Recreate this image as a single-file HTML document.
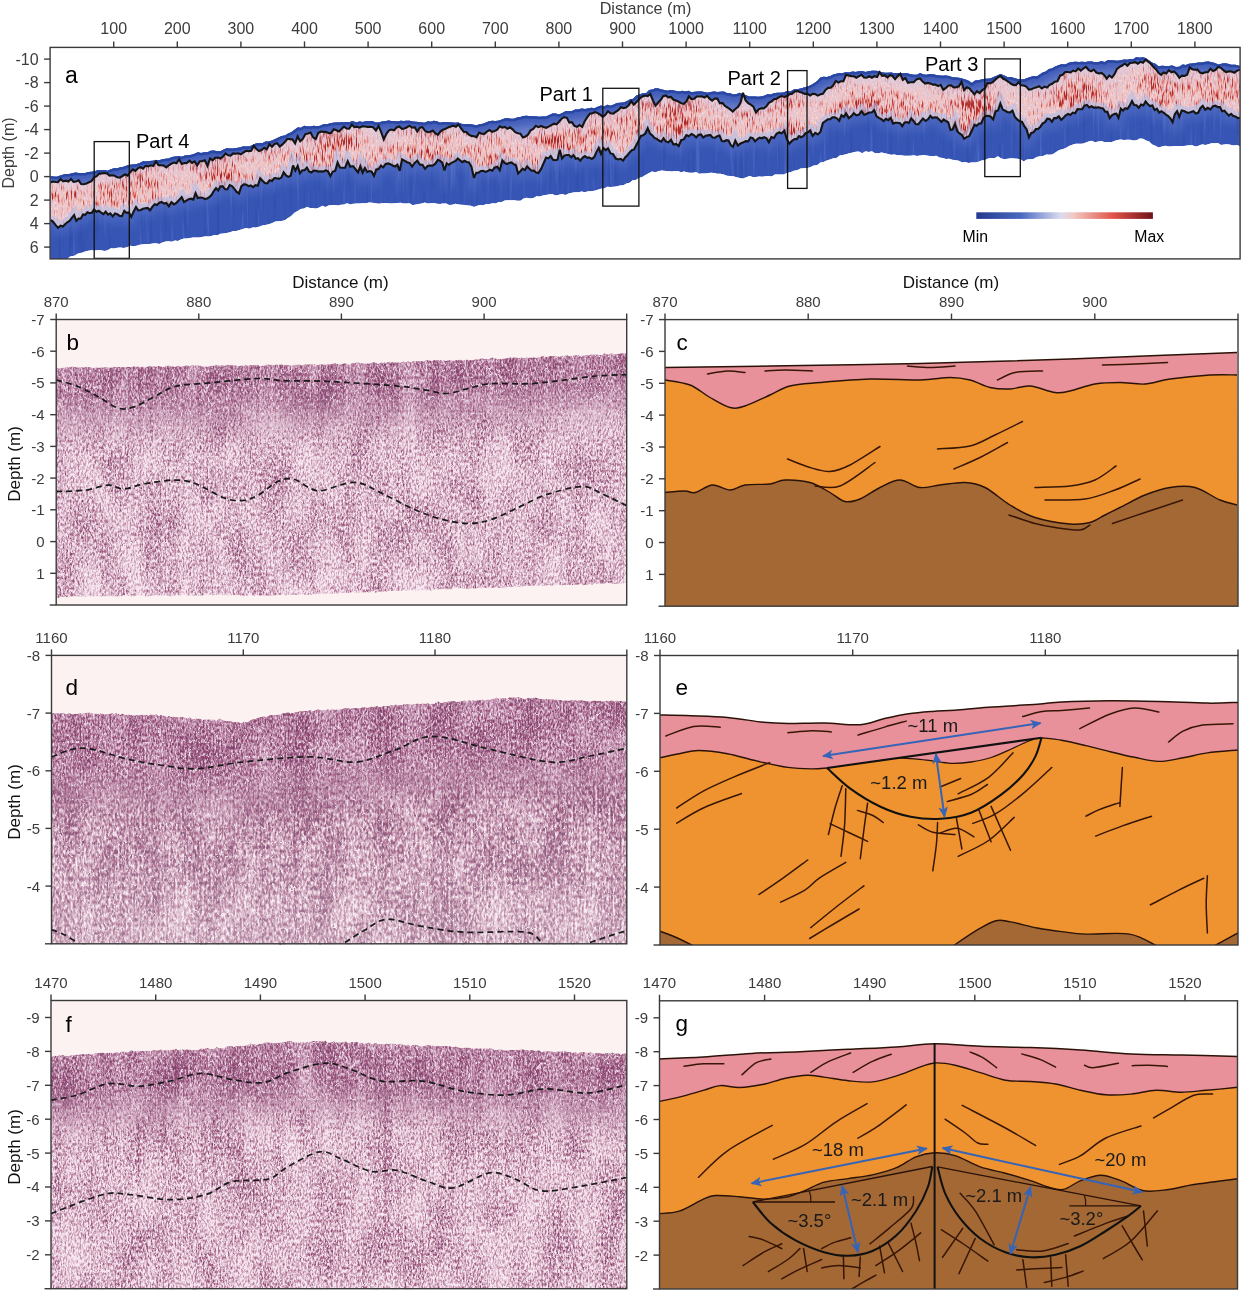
<!DOCTYPE html><html><head><meta charset="utf-8"><style>html,body{margin:0;padding:0;background:#fff;}svg{display:block;font-family:"Liberation Sans", Arial, sans-serif;}</style></head><body><svg width="1242" height="1314" viewBox="0 0 1242 1314"><defs>
<filter id="redtex" filterUnits="userSpaceOnUse" x="40" y="40" width="1210" height="230" color-interpolation-filters="sRGB">
  <feTurbulence type="fractalNoise" baseFrequency="0.02 0.04" numOctaves="2" seed="3" result="m0"/>
  <feColorMatrix in="m0" type="matrix" values="1 0 0 0 0  1 0 0 0 0  1 0 0 0 0  0 0 0 0 1" result="m"/>
  <feTurbulence type="fractalNoise" baseFrequency="0.8 0.11" numOctaves="2" seed="11" result="n0"/>
  <feColorMatrix in="n0" type="matrix" values="1 0 0 0 0  0 1 0 0 0  0 0 1 0 0  0 0 0 0 1" result="n1"/>
  <feComposite in="n1" in2="m" operator="arithmetic" k1="1.2" k2="0.4" k3="0" k4="-0.02" result="n1m"/>
  <feColorMatrix in="n1m" type="matrix" values="0 0 0 0 0.86  0 0 0 0 0.38  0 0 0 0 0.34  3.6 0 0 0 -1.62" result="red"/>
  <feColorMatrix in="n1m" type="matrix" values="0 0 0 0 0.66  0 0 0 0 0.16  0 0 0 0 0.16  6.0 0 0 0 -3.85" result="dk"/>
  <feTurbulence type="fractalNoise" baseFrequency="0.9 0.4" numOctaves="2" seed="4" result="n2"/>
  <feColorMatrix in="n2" type="matrix" values="0 0 0 0 0.80  0 0 0 0 0.78  0 0 0 0 0.93  0 3.0 0 0 -1.42" result="lav"/>
  <feColorMatrix in="n2" type="matrix" values="0 0 0 0 0.98  0 0 0 0 0.88  0 0 0 0 0.88  0 0 3.0 0 -1.5" result="wh"/>
  <feMerge><feMergeNode in="SourceGraphic"/><feMergeNode in="lav"/><feMergeNode in="wh"/><feMergeNode in="red"/><feMergeNode in="dk"/></feMerge>
  <feComposite operator="in" in2="SourceGraphic"/>
</filter>
<filter id="bluetex" filterUnits="userSpaceOnUse" x="40" y="40" width="1210" height="230" color-interpolation-filters="sRGB">
  <feTurbulence type="fractalNoise" baseFrequency="0.3 0.015" numOctaves="2" seed="21" result="n1"/>
  <feColorMatrix in="n1" type="matrix" values="0 0 0 0 0.36  0 0 0 0 0.47  0 0 0 0 0.82  2.2 0 0 0 -1.3" result="hi"/>
  <feColorMatrix in="n1" type="matrix" values="0 0 0 0 0.17  0 0 0 0 0.28  0 0 0 0 0.64  0 0 -2.2 0 0.95" result="lo"/>
  <feMerge><feMergeNode in="SourceGraphic"/><feMergeNode in="hi"/><feMergeNode in="lo"/></feMerge>
  <feComposite operator="in" in2="SourceGraphic"/>
</filter>
<filter id="blA" x="-0.05" y="-1" width="1.1" height="3"><feGaussianBlur stdDeviation="4"/></filter><linearGradient id="cbar" x1="0" x2="1" y1="0" y2="0"><stop offset="0" stop-color="#24398f"/><stop offset="0.25" stop-color="#4a68c0"/><stop offset="0.48" stop-color="#dcdcf0"/><stop offset="0.55" stop-color="#f2c8c0"/><stop offset="0.78" stop-color="#e05048"/><stop offset="1" stop-color="#6e1418"/></linearGradient><filter id="sf1" filterUnits="userSpaceOnUse" x="51.2" y="314.5" width="580.5" height="295.5" color-interpolation-filters="sRGB">
  <feTurbulence type="fractalNoise" baseFrequency="0.035 0.018" numOctaves="2" seed="101" result="m0"/>
  <feColorMatrix in="m0" type="matrix" values="1 0 0 0 0  1 0 0 0 0  1 0 0 0 0  0 0 0 0 1" result="m"/>
  <feTurbulence type="fractalNoise" baseFrequency="0.45 0.004" numOctaves="1" seed="201" result="s0"/>
  <feColorMatrix in="s0" type="matrix" values="0 1 0 0 0  0 1 0 0 0  0 1 0 0 0  0 0 0 0 1" result="st"/>
  <feTurbulence type="fractalNoise" baseFrequency="0.6 0.3" numOctaves="2" seed="1" result="n0"/>
  <feColorMatrix in="n0" type="matrix" values="1 0 0 0 0  0 1 0 0 0  0 0 1 0 0  0 0 0 0 1" result="n1"/>
  <feComposite in="n1" in2="m" operator="arithmetic" k1="0.5" k2="0.75" k3="0.0" k4="0" result="nm0"/>
  <feComposite in="nm0" in2="st" operator="arithmetic" k1="0" k2="1" k3="0.22" k4="-0.11" result="nm"/>
  <feColorMatrix in="nm" type="matrix" values="0 0 0 0 0.62  0 0 0 0 0.34  0 0 0 0 0.49  2.2 0 0 0 -0.8" result="pur"/>
  <feColorMatrix in="nm" type="matrix" values="0 0 0 0 0.48  0 0 0 0 0.26  0 0 0 0 0.42  0 4.0 0 0 -2.5" result="dk"/>
  <feTurbulence type="turbulence" baseFrequency="0.11 0.07" numOctaves="2" seed="301" result="v0"/>
  <feColorMatrix in="v0" type="matrix" values="0 0 0 0 0.99  0 0 0 0 0.95  0 0 0 0 0.98  -10 0 0 0 0.85" result="vein"/>
  <feMerge><feMergeNode in="SourceGraphic"/><feMergeNode in="pur"/><feMergeNode in="dk"/><feMergeNode in="vein"/></feMerge>
  <feComposite operator="in" in2="SourceGraphic"/>
</filter><filter id="sg1" filterUnits="userSpaceOnUse" x="51.2" y="314.5" width="580.5" height="295.5" color-interpolation-filters="sRGB">
  <feTurbulence type="fractalNoise" baseFrequency="0.035 0.018" numOctaves="2" seed="151" result="m0"/>
  <feColorMatrix in="m0" type="matrix" values="1 0 0 0 0  1 0 0 0 0  1 0 0 0 0  0 0 0 0 1" result="m"/>
  <feTurbulence type="fractalNoise" baseFrequency="0.45 0.004" numOctaves="1" seed="251" result="s0"/>
  <feColorMatrix in="s0" type="matrix" values="0 1 0 0 0  0 1 0 0 0  0 1 0 0 0  0 0 0 0 1" result="st"/>
  <feTurbulence type="fractalNoise" baseFrequency="0.6 0.3" numOctaves="2" seed="51" result="n0"/>
  <feColorMatrix in="n0" type="matrix" values="1 0 0 0 0  0 1 0 0 0  0 0 1 0 0  0 0 0 0 1" result="n1"/>
  <feComposite in="n1" in2="m" operator="arithmetic" k1="0.5" k2="0.75" k3="0.0" k4="0.1" result="nm0"/>
  <feComposite in="nm0" in2="st" operator="arithmetic" k1="0" k2="1" k3="0.22" k4="-0.11" result="nm"/>
  <feColorMatrix in="nm" type="matrix" values="0 0 0 0 0.58  0 0 0 0 0.28  0 0 0 0 0.45  2.2 0 0 0 -0.8" result="pur"/>
  <feColorMatrix in="nm" type="matrix" values="0 0 0 0 0.48  0 0 0 0 0.26  0 0 0 0 0.42  0 4.0 0 0 -2.5" result="dk"/>
  <feTurbulence type="turbulence" baseFrequency="0.11 0.07" numOctaves="2" seed="351" result="v0"/>
  <feColorMatrix in="v0" type="matrix" values="0 0 0 0 0.99  0 0 0 0 0.95  0 0 0 0 0.98  -10 0 0 0 0.85" result="vein"/>
  <feMerge><feMergeNode in="SourceGraphic"/><feMergeNode in="pur"/><feMergeNode in="dk"/><feMergeNode in="vein"/></feMerge>
  <feComposite operator="in" in2="SourceGraphic"/>
</filter><filter id="bl1" x="-0.1" y="-0.5" width="1.2" height="2"><feGaussianBlur stdDeviation="0 18"/></filter><mask id="mk1" maskUnits="userSpaceOnUse" x="0" y="0" width="1242" height="1314"><path d="M56.2,347.7 L58.2,348.3 L60.3,348.6 L62.3,347.9 L64.4,347.3 L66.4,346.9 L68.4,347.4 L70.5,347 L72.5,346.6 L74.6,347.3 L76.6,347.5 L78.6,347.7 L80.7,347 L82.7,347.3 L84.7,347.3 L86.8,346.5 L88.8,347.3 L90.9,347.4 L92.9,348.5 L94.9,347.7 L97,347.2 L99,347.8 L101.1,347.4 L103.1,347.6 L105.1,347.1 L107.2,347.2 L109.2,347.6 L111.3,347.5 L113.3,347.2 L115.3,346.5 L117.4,347 L119.4,347 L121.5,347.2 L123.5,347.1 L125.5,347.4 L127.6,346.9 L129.6,346.9 L131.6,347.1 L133.7,346.3 L135.7,346.4 L137.8,346.3 L139.8,347.5 L141.8,346.8 L143.9,347 L145.9,347 L148,346.5 L150,345.7 L152,346.7 L154,346.3 L156,346.8 L158,345.9 L160,346 L162,346.9 L164,347.2 L166,345.9 L168,345.5 L170,346 L172,346.6 L174,346.4 L176,346.4 L178,345.8 L180,346.4 L182,346.8 L184,346.1 L186,345.4 L188,345.5 L190,346.3 L192,345.3 L194,345.8 L196,345.5 L198,345.8 L200,345.8 L202,345.9 L204,346.7 L206,346.4 L208,346.7 L210,346.1 L212,345.7 L214,346 L216,344.5 L218,345.4 L220,345.8 L222,345.1 L224,345.8 L226,345.5 L228,344.4 L230,345.2 L232,345 L234,345.2 L236,345.4 L238,346.2 L240,345.8 L242,345.6 L244,345.8 L246,344.7 L248,345.9 L250,345.1 L252,345.6 L254,344.9 L256,344.8 L258,345 L260,346.2 L262,345.9 L264,345.2 L266,345.1 L268,344.6 L270,345 L272,344.8 L274,345.4 L276,344.5 L278,344.7 L280,344.5 L282,344.5 L284,345.2 L286,345.1 L288,345.2 L290,345.6 L292,345.6 L294,344.4 L296,344.9 L298,343.9 L300,344.4 L302,345.6 L304,344.8 L306,344.5 L308,344.6 L310,344.6 L312,344.5 L314,344.1 L316,344.9 L318,345 L320,344.5 L322,344.5 L324,344.7 L326,344.8 L328,344.5 L330,344.5 L332,344 L334,343.4 L336,343.5 L338,344.2 L340,344.4 L342,343.9 L344,343.4 L346,343.6 L348,344.3 L350,344.4 L352,343.3 L354,343.3 L356,342.5 L358,342.4 L360,343 L362,343 L364,343.4 L366,343.7 L368,343.5 L370,343.6 L372,342.7 L374,342.1 L376,342.7 L378,343.9 L380,343 L382,342 L384,342.3 L386,343 L388,341.9 L390,342.4 L392,341.8 L394,342.6 L396,342.5 L398,342.2 L400,342.9 L402,341.9 L404,341.4 L406,342.4 L408,341.3 L410,342.5 L412,341.7 L414,340.9 L416,341.1 L418,341.2 L420,341.2 L422,341 L424,341.5 L426,339.9 L428,340.3 L430,340.5 L432,341.6 L434,339.9 L436,340.2 L438,339.9 L440,339.9 L442,340.6 L444,340.6 L446,341.1 L448,340.2 L450,340.3 L452,340.7 L454,340.7 L456,340 L458,340.5 L460,339.5 L462,340.6 L464,340 L466,339.7 L468,339.7 L470,340 L472,340.4 L474,339.6 L476,339.2 L478,339.5 L480,338.8 L482,338.1 L484,339.2 L486,338.8 L488,339.4 L490,338.5 L492,337.2 L494,338.4 L496,338.6 L498,339.4 L500,339 L502,338.7 L504,338.7 L506,338.2 L508,338.2 L510,337.4 L512,338.1 L514,337.5 L516,337.5 L518,338 L520,338.2 L522,337.2 L524,338.4 L526,337.4 L528,337.7 L530,337.8 L532,337.5 L534,337.3 L536,338 L538,337.6 L540,337.3 L542,336 L544,336.1 L546,337 L548,336.7 L550,336 L552,335.9 L554,336 L556,336.4 L558,336.4 L560,336.6 L562,335.7 L564,336.2 L566.1,335.6 L568.1,335.4 L570.1,336.3 L572.1,335.7 L574.1,335.3 L576.2,335.1 L578.2,334.9 L580.2,335.7 L582.2,335.8 L584.3,335.5 L586.3,335 L588.3,335.2 L590.3,334.7 L592.3,334.7 L594.4,334.6 L596.4,334.4 L598.4,335 L600.4,335.2 L602.4,335 L604.5,333.2 L606.5,334.5 L608.5,334.2 L610.5,333.5 L612.6,333.5 L614.6,333.9 L616.6,334 L618.6,333.8 L620.6,333.4 L622.7,333.1 L624.7,333.3 L626.7,332.8 L626.7,402.8 L624.7,403.3 L622.7,403.1 L620.6,403.4 L618.6,403.8 L616.6,404 L614.6,403.9 L612.6,403.5 L610.5,403.5 L608.5,404.2 L606.5,404.5 L604.5,403.2 L602.4,405 L600.4,405.2 L598.4,405 L596.4,404.4 L594.4,404.6 L592.3,404.7 L590.3,404.7 L588.3,405.2 L586.3,405 L584.3,405.5 L582.2,405.8 L580.2,405.7 L578.2,404.9 L576.2,405.1 L574.1,405.3 L572.1,405.7 L570.1,406.3 L568.1,405.4 L566.1,405.6 L564,406.2 L562,405.7 L560,406.6 L558,406.4 L556,406.4 L554,406 L552,405.9 L550,406 L548,406.7 L546,407 L544,406.1 L542,406 L540,407.3 L538,407.6 L536,408 L534,407.3 L532,407.5 L530,407.8 L528,407.7 L526,407.4 L524,408.4 L522,407.2 L520,408.2 L518,408 L516,407.5 L514,407.5 L512,408.1 L510,407.4 L508,408.2 L506,408.2 L504,408.7 L502,408.7 L500,409 L498,409.4 L496,408.6 L494,408.4 L492,407.2 L490,408.5 L488,409.4 L486,408.8 L484,409.2 L482,408.1 L480,408.8 L478,409.5 L476,409.2 L474,409.6 L472,410.4 L470,410 L468,409.7 L466,409.7 L464,410 L462,410.6 L460,409.5 L458,410.5 L456,410 L454,410.7 L452,410.7 L450,410.3 L448,410.2 L446,411.1 L444,410.6 L442,410.6 L440,409.9 L438,409.9 L436,410.2 L434,409.9 L432,411.6 L430,410.5 L428,410.3 L426,409.9 L424,411.5 L422,411 L420,411.2 L418,411.2 L416,411.1 L414,410.9 L412,411.7 L410,412.5 L408,411.3 L406,412.4 L404,411.4 L402,411.9 L400,412.9 L398,412.2 L396,412.5 L394,412.6 L392,411.8 L390,412.4 L388,411.9 L386,413 L384,412.3 L382,412 L380,413 L378,413.9 L376,412.7 L374,412.1 L372,412.7 L370,413.6 L368,413.5 L366,413.7 L364,413.4 L362,413 L360,413 L358,412.4 L356,412.5 L354,413.3 L352,413.3 L350,414.4 L348,414.3 L346,413.6 L344,413.4 L342,413.9 L340,414.4 L338,414.2 L336,413.5 L334,413.4 L332,414 L330,414.5 L328,414.5 L326,414.8 L324,414.7 L322,414.5 L320,414.5 L318,415 L316,414.9 L314,414.1 L312,414.5 L310,414.6 L308,414.6 L306,414.5 L304,414.8 L302,415.6 L300,414.4 L298,413.9 L296,414.9 L294,414.4 L292,415.6 L290,415.6 L288,415.2 L286,415.1 L284,415.2 L282,414.5 L280,414.5 L278,414.7 L276,414.5 L274,415.4 L272,414.8 L270,415 L268,414.6 L266,415.1 L264,415.2 L262,415.9 L260,416.2 L258,415 L256,414.8 L254,414.9 L252,415.6 L250,415.1 L248,415.9 L246,414.7 L244,415.8 L242,415.6 L240,415.8 L238,416.2 L236,415.4 L234,415.2 L232,415 L230,415.2 L228,414.4 L226,415.5 L224,415.8 L222,415.1 L220,415.8 L218,415.4 L216,414.5 L214,416 L212,415.7 L210,416.1 L208,416.7 L206,416.4 L204,416.7 L202,415.9 L200,415.8 L198,415.8 L196,415.5 L194,415.8 L192,415.3 L190,416.3 L188,415.5 L186,415.4 L184,416.1 L182,416.8 L180,416.4 L178,415.8 L176,416.4 L174,416.4 L172,416.6 L170,416 L168,415.5 L166,415.9 L164,417.2 L162,416.9 L160,416 L158,415.9 L156,416.8 L154,416.3 L152,416.7 L150,415.7 L148,416.5 L145.9,417 L143.9,417 L141.8,416.8 L139.8,417.5 L137.8,416.3 L135.7,416.4 L133.7,416.3 L131.6,417.1 L129.6,416.9 L127.6,416.9 L125.5,417.4 L123.5,417.1 L121.5,417.2 L119.4,417 L117.4,417 L115.3,416.5 L113.3,417.2 L111.3,417.5 L109.2,417.6 L107.2,417.2 L105.1,417.1 L103.1,417.6 L101.1,417.4 L99,417.8 L97,417.2 L94.9,417.7 L92.9,418.5 L90.9,417.4 L88.8,417.3 L86.8,416.5 L84.7,417.3 L82.7,417.3 L80.7,417 L78.6,417.7 L76.6,417.5 L74.6,417.3 L72.5,416.6 L70.5,417 L68.4,417.4 L66.4,416.9 L64.4,417.3 L62.3,417.9 L60.3,418.6 L58.2,418.3 L56.2,417.7 Z" fill="#fff" filter="url(#bl1)"/></mask><filter id="sf3" filterUnits="userSpaceOnUse" x="46.5" y="650.4" width="585.3" height="298.4" color-interpolation-filters="sRGB">
  <feTurbulence type="fractalNoise" baseFrequency="0.035 0.018" numOctaves="2" seed="103" result="m0"/>
  <feColorMatrix in="m0" type="matrix" values="1 0 0 0 0  1 0 0 0 0  1 0 0 0 0  0 0 0 0 1" result="m"/>
  <feTurbulence type="fractalNoise" baseFrequency="0.45 0.004" numOctaves="1" seed="203" result="s0"/>
  <feColorMatrix in="s0" type="matrix" values="0 1 0 0 0  0 1 0 0 0  0 1 0 0 0  0 0 0 0 1" result="st"/>
  <feTurbulence type="fractalNoise" baseFrequency="0.45 0.22" numOctaves="2" seed="3" result="n0"/>
  <feColorMatrix in="n0" type="matrix" values="1 0 0 0 0  0 1 0 0 0  0 0 1 0 0  0 0 0 0 1" result="n1"/>
  <feComposite in="n1" in2="m" operator="arithmetic" k1="0.5" k2="0.75" k3="0.0" k4="0.1" result="nm0"/>
  <feComposite in="nm0" in2="st" operator="arithmetic" k1="0" k2="1" k3="0.22" k4="-0.11" result="nm"/>
  <feColorMatrix in="nm" type="matrix" values="0 0 0 0 0.62  0 0 0 0 0.34  0 0 0 0 0.49  2.2 0 0 0 -0.8" result="pur"/>
  <feColorMatrix in="nm" type="matrix" values="0 0 0 0 0.48  0 0 0 0 0.26  0 0 0 0 0.42  0 4.0 0 0 -2.5" result="dk"/>
  <feTurbulence type="turbulence" baseFrequency="0.11 0.07" numOctaves="2" seed="303" result="v0"/>
  <feColorMatrix in="v0" type="matrix" values="0 0 0 0 0.99  0 0 0 0 0.95  0 0 0 0 0.98  -10 0 0 0 0.85" result="vein"/>
  <feMerge><feMergeNode in="SourceGraphic"/><feMergeNode in="pur"/><feMergeNode in="dk"/><feMergeNode in="vein"/></feMerge>
  <feComposite operator="in" in2="SourceGraphic"/>
</filter><filter id="sg3" filterUnits="userSpaceOnUse" x="46.5" y="650.4" width="585.3" height="298.4" color-interpolation-filters="sRGB">
  <feTurbulence type="fractalNoise" baseFrequency="0.035 0.018" numOctaves="2" seed="153" result="m0"/>
  <feColorMatrix in="m0" type="matrix" values="1 0 0 0 0  1 0 0 0 0  1 0 0 0 0  0 0 0 0 1" result="m"/>
  <feTurbulence type="fractalNoise" baseFrequency="0.45 0.004" numOctaves="1" seed="253" result="s0"/>
  <feColorMatrix in="s0" type="matrix" values="0 1 0 0 0  0 1 0 0 0  0 1 0 0 0  0 0 0 0 1" result="st"/>
  <feTurbulence type="fractalNoise" baseFrequency="0.6 0.3" numOctaves="2" seed="53" result="n0"/>
  <feColorMatrix in="n0" type="matrix" values="1 0 0 0 0  0 1 0 0 0  0 0 1 0 0  0 0 0 0 1" result="n1"/>
  <feComposite in="n1" in2="m" operator="arithmetic" k1="0.5" k2="0.75" k3="0.0" k4="0.1" result="nm0"/>
  <feComposite in="nm0" in2="st" operator="arithmetic" k1="0" k2="1" k3="0.22" k4="-0.11" result="nm"/>
  <feColorMatrix in="nm" type="matrix" values="0 0 0 0 0.58  0 0 0 0 0.28  0 0 0 0 0.45  2.2 0 0 0 -0.8" result="pur"/>
  <feColorMatrix in="nm" type="matrix" values="0 0 0 0 0.48  0 0 0 0 0.26  0 0 0 0 0.42  0 4.0 0 0 -2.5" result="dk"/>
  <feTurbulence type="turbulence" baseFrequency="0.11 0.07" numOctaves="2" seed="353" result="v0"/>
  <feColorMatrix in="v0" type="matrix" values="0 0 0 0 0.99  0 0 0 0 0.95  0 0 0 0 0.98  -10 0 0 0 0.85" result="vein"/>
  <feMerge><feMergeNode in="SourceGraphic"/><feMergeNode in="pur"/><feMergeNode in="dk"/><feMergeNode in="vein"/></feMerge>
  <feComposite operator="in" in2="SourceGraphic"/>
</filter><filter id="bl3" x="-0.1" y="-0.5" width="1.2" height="2"><feGaussianBlur stdDeviation="0 18"/></filter><mask id="mk3" maskUnits="userSpaceOnUse" x="0" y="0" width="1242" height="1314"><path d="M51.5,693.1 L53.5,693.2 L55.5,693.8 L57.6,692.9 L59.6,693.7 L61.6,693.3 L63.6,693.2 L65.6,694.3 L67.7,693.8 L69.7,693.5 L71.7,693.9 L73.7,694.2 L75.8,693.7 L77.8,693.9 L79.8,693.2 L81.8,693.4 L83.8,693.4 L85.9,693 L87.9,692.8 L89.9,692.7 L91.9,693.4 L93.9,693.7 L96,693.7 L98,693.9 L100,693.3 L102,693.8 L104,694.2 L106.1,694.6 L108.1,693.9 L110.1,694 L112.1,693.3 L114.2,693.9 L116.2,693.2 L118.2,693.5 L120.2,694.9 L122.2,693.7 L124.3,694.8 L126.3,695 L128.3,694.8 L130.3,695.1 L132.4,695.3 L134.4,695.7 L136.4,695.2 L138.4,694.9 L140.4,694.9 L142.5,694.7 L144.5,695.2 L146.5,695 L148.5,695.9 L150.6,694.8 L152.6,694.8 L154.6,695 L156.7,694.6 L158.7,696.6 L160.8,695.1 L162.9,695.8 L164.9,696.1 L167,697.3 L169,696 L171.1,697.2 L173.2,696.8 L175.2,697 L177.3,697 L179.4,697.7 L181.4,697.1 L183.5,697.6 L185.6,698.1 L187.6,699.1 L189.7,697.3 L191.7,698.9 L193.8,699.2 L195.9,698.6 L197.9,699 L200,698.8 L202,699.9 L204,699.7 L206,699.5 L208.1,699.5 L210.1,699.7 L212.1,699.8 L214.1,699.7 L216.1,701.2 L218.1,699.8 L220.1,698.6 L222.2,700.1 L224.2,700.7 L226.2,701.2 L228.2,701.2 L230.2,701.3 L232.2,701.7 L234.2,702.3 L236.3,701.8 L238.3,701.9 L240.3,703.1 L242.3,702.9 L244.5,701.5 L246.7,702.4 L248.9,701.5 L251.2,700.1 L253.4,699 L255.6,699.1 L257.8,698.1 L260,697.3 L262.1,696.7 L264.3,696.6 L266.4,697.1 L268.5,696.1 L270.7,695 L272.8,695.4 L275,694.9 L277.1,694.9 L279.2,694.7 L281.4,693.7 L283.5,693.1 L285.5,692.9 L287.6,692.2 L289.6,692.8 L291.6,693.3 L293.6,692.7 L295.7,692.2 L297.7,692 L299.7,691.5 L301.8,691.3 L303.8,691.3 L305.8,691 L307.8,691 L309.9,690.3 L311.9,691 L313.9,690.9 L315.9,690.2 L318,689.3 L320,690.1 L322,690.8 L324.1,690 L326.1,689.8 L328.2,689.6 L330.2,690.1 L332.2,689.3 L334.3,690 L336.3,689.4 L338.4,689.8 L340.4,689.4 L342.4,689 L344.5,688.2 L346.5,688.2 L348.6,688.4 L350.6,688.8 L352.6,688.6 L354.7,688 L356.7,688.3 L358.8,688.6 L360.8,688 L362.9,687.6 L364.9,687.3 L367,687.8 L369.1,687.7 L371.1,686.8 L373.2,687.1 L375.2,686.6 L377.3,686.2 L379.4,687 L381.4,686.9 L383.5,686 L385.6,686 L387.6,686.2 L389.7,685.5 L391.7,685.5 L393.8,685.8 L395.9,684.5 L397.9,685.1 L400,685.3 L402,685.2 L404,684.2 L406,684.6 L408,684.1 L410,684.6 L412,684.7 L414,684.4 L416,683.8 L418,683.6 L420.1,684.2 L422.1,683.4 L424.1,683.8 L426.1,683.8 L428.1,683.3 L430.1,684.4 L432.1,683.5 L434.1,684.2 L436.1,682.3 L438.1,681.5 L440.2,682.8 L442.3,682.9 L444.4,682.3 L446.5,682.2 L448.6,681.1 L450.7,681.4 L452.8,681.1 L454.9,681.4 L457,681.9 L459.1,681.5 L461.1,681.5 L463.2,680.8 L465.3,680.7 L467.4,680.8 L469.5,680.5 L471.6,681.1 L473.7,680.2 L475.8,681.1 L477.9,679.9 L480,680.5 L482.1,679.6 L484.2,680.5 L486.3,679.9 L488.4,679.7 L490.4,679.8 L492.5,679 L494.6,678.4 L496.7,677.7 L498.8,679 L500.9,678.3 L503,678.1 L505.1,678.2 L507.1,679.1 L509.2,677.4 L511.3,677.8 L513.4,677.5 L515.5,677.8 L517.6,676.9 L519.6,677.4 L521.7,678.2 L523.7,678.9 L525.8,679.2 L527.9,678.1 L529.9,678.3 L532,678.4 L534,677.8 L536.1,677.7 L538.2,678.8 L540.2,679 L542.3,678.9 L544.3,679.7 L546.4,678.8 L548.5,679.4 L550.5,679.4 L552.6,679.5 L554.6,679.8 L556.7,679.8 L558.8,680 L560.8,680.1 L562.9,681 L564.9,680.2 L567,680.8 L569.1,680.7 L571.1,680.3 L573.2,680.8 L575.2,680.1 L577.3,681 L579.4,680.3 L581.4,680.3 L583.5,680.7 L585.6,681.1 L587.6,681.3 L589.7,681.4 L591.7,680.9 L593.8,680.5 L595.9,681.1 L597.9,681.2 L600,680.7 L602.1,681.5 L604.1,681.4 L606.2,680.8 L608.2,681.4 L610.3,680.7 L612.4,680.8 L614.4,681.5 L616.5,680.7 L618.6,681.4 L620.6,680.9 L622.7,681.8 L624.7,681.4 L626.8,681.8 L626.8,781.8 L624.7,781.4 L622.7,781.8 L620.6,780.9 L618.6,781.4 L616.5,780.7 L614.4,781.5 L612.4,780.8 L610.3,780.7 L608.2,781.4 L606.2,780.8 L604.1,781.4 L602.1,781.5 L600,780.7 L597.9,781.2 L595.9,781.1 L593.8,780.5 L591.7,780.9 L589.7,781.4 L587.6,781.3 L585.6,781.1 L583.5,780.7 L581.4,780.3 L579.4,780.3 L577.3,781 L575.2,780.1 L573.2,780.8 L571.1,780.3 L569.1,780.7 L567,780.8 L564.9,780.2 L562.9,781 L560.8,780.1 L558.8,780 L556.7,779.8 L554.6,779.8 L552.6,779.5 L550.5,779.4 L548.5,779.4 L546.4,778.8 L544.3,779.7 L542.3,778.9 L540.2,779 L538.2,778.8 L536.1,777.7 L534,777.8 L532,778.4 L529.9,778.3 L527.9,778.1 L525.8,779.2 L523.7,778.9 L521.7,778.2 L519.6,777.4 L517.6,776.9 L515.5,777.8 L513.4,777.5 L511.3,777.8 L509.2,777.4 L507.1,779.1 L505.1,778.2 L503,778.1 L500.9,778.3 L498.8,779 L496.7,777.7 L494.6,778.4 L492.5,779 L490.4,779.8 L488.4,779.7 L486.3,779.9 L484.2,780.5 L482.1,779.6 L480,780.5 L477.9,779.9 L475.8,781.1 L473.7,780.2 L471.6,781.1 L469.5,780.5 L467.4,780.8 L465.3,780.7 L463.2,780.8 L461.1,781.5 L459.1,781.5 L457,781.9 L454.9,781.4 L452.8,781.1 L450.7,781.4 L448.6,781.1 L446.5,782.2 L444.4,782.3 L442.3,782.9 L440.2,782.8 L438.1,781.5 L436.1,782.3 L434.1,784.2 L432.1,783.5 L430.1,784.4 L428.1,783.3 L426.1,783.8 L424.1,783.8 L422.1,783.4 L420.1,784.2 L418,783.6 L416,783.8 L414,784.4 L412,784.7 L410,784.6 L408,784.1 L406,784.6 L404,784.2 L402,785.2 L400,785.3 L397.9,785.1 L395.9,784.5 L393.8,785.8 L391.7,785.5 L389.7,785.5 L387.6,786.2 L385.6,786 L383.5,786 L381.4,786.9 L379.4,787 L377.3,786.2 L375.2,786.6 L373.2,787.1 L371.1,786.8 L369.1,787.7 L367,787.8 L364.9,787.3 L362.9,787.6 L360.8,788 L358.8,788.6 L356.7,788.3 L354.7,788 L352.6,788.6 L350.6,788.8 L348.6,788.4 L346.5,788.2 L344.5,788.2 L342.4,789 L340.4,789.4 L338.4,789.8 L336.3,789.4 L334.3,790 L332.2,789.3 L330.2,790.1 L328.2,789.6 L326.1,789.8 L324.1,790 L322,790.8 L320,790.1 L318,789.3 L315.9,790.2 L313.9,790.9 L311.9,791 L309.9,790.3 L307.8,791 L305.8,791 L303.8,791.3 L301.8,791.3 L299.7,791.5 L297.7,792 L295.7,792.2 L293.6,792.7 L291.6,793.3 L289.6,792.8 L287.6,792.2 L285.5,792.9 L283.5,793.1 L281.4,793.7 L279.2,794.7 L277.1,794.9 L275,794.9 L272.8,795.4 L270.7,795 L268.5,796.1 L266.4,797.1 L264.3,796.6 L262.1,796.7 L260,797.3 L257.8,798.1 L255.6,799.1 L253.4,799 L251.2,800.1 L248.9,801.5 L246.7,802.4 L244.5,801.5 L242.3,802.9 L240.3,803.1 L238.3,801.9 L236.3,801.8 L234.2,802.3 L232.2,801.7 L230.2,801.3 L228.2,801.2 L226.2,801.2 L224.2,800.7 L222.2,800.1 L220.1,798.6 L218.1,799.8 L216.1,801.2 L214.1,799.7 L212.1,799.8 L210.1,799.7 L208.1,799.5 L206,799.5 L204,799.7 L202,799.9 L200,798.8 L197.9,799 L195.9,798.6 L193.8,799.2 L191.7,798.9 L189.7,797.3 L187.6,799.1 L185.6,798.1 L183.5,797.6 L181.4,797.1 L179.4,797.7 L177.3,797 L175.2,797 L173.2,796.8 L171.1,797.2 L169,796 L167,797.3 L164.9,796.1 L162.9,795.8 L160.8,795.1 L158.7,796.6 L156.7,794.6 L154.6,795 L152.6,794.8 L150.6,794.8 L148.5,795.9 L146.5,795 L144.5,795.2 L142.5,794.7 L140.4,794.9 L138.4,794.9 L136.4,795.2 L134.4,795.7 L132.4,795.3 L130.3,795.1 L128.3,794.8 L126.3,795 L124.3,794.8 L122.2,793.7 L120.2,794.9 L118.2,793.5 L116.2,793.2 L114.2,793.9 L112.1,793.3 L110.1,794 L108.1,793.9 L106.1,794.6 L104,794.2 L102,793.8 L100,793.3 L98,793.9 L96,793.7 L93.9,793.7 L91.9,793.4 L89.9,792.7 L87.9,792.8 L85.9,793 L83.8,793.4 L81.8,793.4 L79.8,793.2 L77.8,793.9 L75.8,793.7 L73.7,794.2 L71.7,793.9 L69.7,793.5 L67.7,793.8 L65.6,794.3 L63.6,793.2 L61.6,793.3 L59.6,793.7 L57.6,792.9 L55.5,793.8 L53.5,793.2 L51.5,793.1 Z" fill="#fff" filter="url(#bl3)"/></mask><linearGradient id="fd3" gradientUnits="userSpaceOnUse" x1="0" y1="756.3" x2="0" y2="943.8"><stop offset="0" stop-color="#fff" stop-opacity="0"/><stop offset="1" stop-color="#fff" stop-opacity="0.3"/></linearGradient><filter id="sf5" filterUnits="userSpaceOnUse" x="46" y="995.5" width="585.8" height="298.2" color-interpolation-filters="sRGB">
  <feTurbulence type="fractalNoise" baseFrequency="0.035 0.018" numOctaves="2" seed="105" result="m0"/>
  <feColorMatrix in="m0" type="matrix" values="1 0 0 0 0  1 0 0 0 0  1 0 0 0 0  0 0 0 0 1" result="m"/>
  <feTurbulence type="fractalNoise" baseFrequency="0.45 0.004" numOctaves="1" seed="205" result="s0"/>
  <feColorMatrix in="s0" type="matrix" values="0 1 0 0 0  0 1 0 0 0  0 1 0 0 0  0 0 0 0 1" result="st"/>
  <feTurbulence type="fractalNoise" baseFrequency="0.6 0.3" numOctaves="2" seed="5" result="n0"/>
  <feColorMatrix in="n0" type="matrix" values="1 0 0 0 0  0 1 0 0 0  0 0 1 0 0  0 0 0 0 1" result="n1"/>
  <feComposite in="n1" in2="m" operator="arithmetic" k1="0.5" k2="0.75" k3="0.0" k4="0" result="nm0"/>
  <feComposite in="nm0" in2="st" operator="arithmetic" k1="0" k2="1" k3="0.22" k4="-0.11" result="nm"/>
  <feColorMatrix in="nm" type="matrix" values="0 0 0 0 0.62  0 0 0 0 0.34  0 0 0 0 0.49  2.2 0 0 0 -0.8" result="pur"/>
  <feColorMatrix in="nm" type="matrix" values="0 0 0 0 0.48  0 0 0 0 0.26  0 0 0 0 0.42  0 4.0 0 0 -2.5" result="dk"/>
  <feTurbulence type="turbulence" baseFrequency="0.11 0.07" numOctaves="2" seed="305" result="v0"/>
  <feColorMatrix in="v0" type="matrix" values="0 0 0 0 0.99  0 0 0 0 0.95  0 0 0 0 0.98  -10 0 0 0 0.85" result="vein"/>
  <feMerge><feMergeNode in="SourceGraphic"/><feMergeNode in="pur"/><feMergeNode in="dk"/><feMergeNode in="vein"/></feMerge>
  <feComposite operator="in" in2="SourceGraphic"/>
</filter><filter id="sg5" filterUnits="userSpaceOnUse" x="46" y="995.5" width="585.8" height="298.2" color-interpolation-filters="sRGB">
  <feTurbulence type="fractalNoise" baseFrequency="0.035 0.018" numOctaves="2" seed="155" result="m0"/>
  <feColorMatrix in="m0" type="matrix" values="1 0 0 0 0  1 0 0 0 0  1 0 0 0 0  0 0 0 0 1" result="m"/>
  <feTurbulence type="fractalNoise" baseFrequency="0.45 0.004" numOctaves="1" seed="255" result="s0"/>
  <feColorMatrix in="s0" type="matrix" values="0 1 0 0 0  0 1 0 0 0  0 1 0 0 0  0 0 0 0 1" result="st"/>
  <feTurbulence type="fractalNoise" baseFrequency="0.6 0.3" numOctaves="2" seed="55" result="n0"/>
  <feColorMatrix in="n0" type="matrix" values="1 0 0 0 0  0 1 0 0 0  0 0 1 0 0  0 0 0 0 1" result="n1"/>
  <feComposite in="n1" in2="m" operator="arithmetic" k1="0.5" k2="0.75" k3="0.0" k4="0.1" result="nm0"/>
  <feComposite in="nm0" in2="st" operator="arithmetic" k1="0" k2="1" k3="0.22" k4="-0.11" result="nm"/>
  <feColorMatrix in="nm" type="matrix" values="0 0 0 0 0.58  0 0 0 0 0.28  0 0 0 0 0.45  2.2 0 0 0 -0.8" result="pur"/>
  <feColorMatrix in="nm" type="matrix" values="0 0 0 0 0.48  0 0 0 0 0.26  0 0 0 0 0.42  0 4.0 0 0 -2.5" result="dk"/>
  <feTurbulence type="turbulence" baseFrequency="0.11 0.07" numOctaves="2" seed="355" result="v0"/>
  <feColorMatrix in="v0" type="matrix" values="0 0 0 0 0.99  0 0 0 0 0.95  0 0 0 0 0.98  -10 0 0 0 0.85" result="vein"/>
  <feMerge><feMergeNode in="SourceGraphic"/><feMergeNode in="pur"/><feMergeNode in="dk"/><feMergeNode in="vein"/></feMerge>
  <feComposite operator="in" in2="SourceGraphic"/>
</filter><filter id="bl5" x="-0.1" y="-0.5" width="1.2" height="2"><feGaussianBlur stdDeviation="0 18"/></filter><mask id="mk5" maskUnits="userSpaceOnUse" x="0" y="0" width="1242" height="1314"><path d="M51,1036.9 L53,1036.2 L55,1035.8 L57,1036.5 L59,1035.2 L61,1035.7 L63,1034.7 L65,1036 L67,1035.8 L69,1036.2 L71,1035.3 L73,1035.4 L75,1034.9 L77,1034.5 L79,1034.6 L81,1033.9 L83,1034 L85,1034.5 L87,1034.2 L89,1033.7 L91,1034.8 L93,1033.9 L95,1033.2 L97,1033.3 L99,1032.9 L101,1032.7 L103,1032.5 L105,1033.6 L107.1,1032.9 L109.1,1032.7 L111.2,1032.8 L113.2,1033.4 L115.3,1032.4 L117.3,1031.9 L119.3,1033.2 L121.4,1031.5 L123.4,1031.5 L125.5,1031.9 L127.5,1032.8 L129.6,1031.4 L131.6,1030.2 L133.7,1031.3 L135.7,1030.9 L137.7,1030.8 L139.8,1031.1 L141.8,1031.1 L143.9,1031 L145.9,1030.5 L148,1031.2 L150,1031.4 L152,1030.7 L154,1030.2 L156,1030.6 L158,1030.6 L160,1029.8 L162,1029.8 L164.1,1030.5 L166.1,1030.1 L168.1,1029.8 L170.1,1029.9 L172.1,1029.8 L174.1,1029.7 L176.1,1028.7 L178.1,1030.2 L180.1,1029.8 L182.1,1029.1 L184.1,1029.8 L186.1,1029.6 L188.1,1029.4 L190.1,1029.8 L192.1,1030.4 L194.2,1029.8 L196.2,1030 L198.2,1030.3 L200.2,1028.8 L202.2,1028.5 L204.2,1029.1 L206.2,1027.9 L208.3,1028.2 L210.4,1028.9 L212.5,1028.9 L214.6,1028.5 L216.8,1027.1 L218.9,1028.6 L221,1028.1 L223.1,1027.9 L225.2,1027.6 L227.3,1026.3 L229.4,1025.9 L231.6,1025.8 L233.7,1027.2 L235.8,1026.1 L237.9,1026 L240,1025.8 L242.1,1026 L244.2,1025.9 L246.2,1025.6 L248.3,1024.6 L250.4,1023.2 L252.4,1024.2 L254.5,1024.5 L256.6,1024.9 L258.7,1024.2 L260.8,1023.5 L262.8,1023.7 L264.9,1022.6 L267,1022.4 L269.1,1022.2 L271.1,1022.6 L273.2,1023.5 L275.2,1023.1 L277.2,1023.2 L279.3,1022.7 L281.3,1022.6 L283.3,1022.1 L285.3,1022 L287.3,1020.9 L289.3,1021.1 L291.4,1021.1 L293.4,1022.2 L295.4,1022.3 L297.4,1022.6 L299.4,1022.9 L301.4,1022 L303.5,1022.4 L305.5,1022.9 L307.5,1022 L309.5,1022.3 L311.5,1021.7 L313.5,1020.8 L315.6,1021.3 L317.6,1021 L319.6,1021.3 L321.6,1021.2 L323.6,1021.6 L325.7,1020.6 L327.7,1022.4 L329.7,1022.7 L331.7,1022 L333.7,1021.5 L335.8,1021.9 L337.8,1022.4 L339.8,1022.5 L341.8,1022.6 L343.8,1021.5 L345.9,1021.6 L347.9,1022.9 L349.9,1022.8 L351.9,1022 L353.9,1022.1 L356,1021.9 L358,1022.1 L360,1023.4 L362,1023.1 L364,1023.7 L366,1023.5 L368.1,1022.6 L370.1,1022.9 L372.1,1024.5 L374.1,1023.5 L376.1,1023.1 L378.1,1024.2 L380.2,1024 L382.2,1023.9 L384.2,1024.7 L386.2,1023.4 L388.2,1024.1 L390.2,1023.7 L392.2,1023.4 L394.3,1023.7 L396.3,1024.8 L398.3,1024.6 L400.3,1023.7 L402.3,1023.9 L404.3,1025.3 L406.4,1025.5 L408.4,1024.6 L410.4,1026.2 L412.4,1025.3 L414.5,1024.6 L416.5,1025.1 L418.6,1025.8 L420.7,1026.5 L422.7,1026.4 L424.8,1025.8 L426.9,1025.6 L429,1025.1 L431,1025.8 L433.1,1025.8 L435.2,1026.3 L437.2,1025.7 L439.3,1026 L441.4,1026 L443.4,1025.9 L445.5,1025.9 L447.6,1026.1 L449.7,1026.1 L451.7,1027.1 L453.8,1027.2 L455.9,1026.6 L457.9,1027.5 L460,1027.7 L462.1,1028.4 L464.1,1027.8 L466.2,1027.7 L468.2,1027.5 L470.3,1028 L472.3,1028.3 L474.4,1028.4 L476.4,1028.2 L478.5,1028.7 L480.6,1028.6 L482.6,1028.8 L484.7,1028.3 L486.7,1028.8 L488.8,1028.4 L490.8,1028.4 L492.9,1029 L494.9,1030.2 L497,1030.1 L499.1,1029.6 L501.1,1029.5 L503.2,1030.1 L505.2,1030.6 L507.3,1030.7 L509.3,1030.1 L511.4,1030.1 L513.4,1030 L515.5,1030 L517.5,1029.8 L519.5,1030.1 L521.6,1029.2 L523.6,1029.5 L525.6,1030.5 L527.6,1030.1 L529.6,1030.8 L531.6,1030.1 L533.7,1030.4 L535.7,1031 L537.7,1030.4 L539.7,1030.5 L541.7,1032.2 L543.8,1031.1 L545.8,1030.8 L547.8,1030.9 L549.8,1031.2 L551.8,1031.4 L553.9,1032 L555.9,1032.1 L557.9,1031.6 L559.9,1031.5 L561.9,1031 L563.9,1030.8 L566,1031.2 L568,1032.1 L570,1032.1 L572,1032.5 L574.1,1032.7 L576.1,1032.3 L578.1,1033.4 L580.1,1032.4 L582.2,1032.1 L584.2,1032.1 L586.2,1033 L588.3,1032.7 L590.3,1032.3 L592.3,1032.8 L594.3,1033.4 L596.4,1033 L598.4,1032.8 L600.4,1033.5 L602.5,1033.7 L604.5,1033.8 L606.5,1033 L608.5,1033.3 L610.6,1033.5 L612.6,1032.5 L614.6,1033.8 L616.7,1033.6 L618.7,1033.4 L620.7,1034.7 L622.7,1034.1 L624.8,1033.5 L626.8,1033.8 L626.8,1113.8 L624.8,1113.5 L622.7,1114.1 L620.7,1114.7 L618.7,1113.4 L616.7,1113.6 L614.6,1113.8 L612.6,1112.5 L610.6,1113.5 L608.5,1113.3 L606.5,1113 L604.5,1113.8 L602.5,1113.7 L600.4,1113.5 L598.4,1112.8 L596.4,1113 L594.3,1113.4 L592.3,1112.8 L590.3,1112.3 L588.3,1112.7 L586.2,1113 L584.2,1112.1 L582.2,1112.1 L580.1,1112.4 L578.1,1113.4 L576.1,1112.3 L574.1,1112.7 L572,1112.5 L570,1112.1 L568,1112.1 L566,1111.2 L563.9,1110.8 L561.9,1111 L559.9,1111.5 L557.9,1111.6 L555.9,1112.1 L553.9,1112 L551.8,1111.4 L549.8,1111.2 L547.8,1110.9 L545.8,1110.8 L543.8,1111.1 L541.7,1112.2 L539.7,1110.5 L537.7,1110.4 L535.7,1111 L533.7,1110.4 L531.6,1110.1 L529.6,1110.8 L527.6,1110.1 L525.6,1110.5 L523.6,1109.5 L521.6,1109.2 L519.5,1110.1 L517.5,1109.8 L515.5,1110 L513.4,1110 L511.4,1110.1 L509.3,1110.1 L507.3,1110.7 L505.2,1110.6 L503.2,1110.1 L501.1,1109.5 L499.1,1109.6 L497,1110.1 L494.9,1110.2 L492.9,1109 L490.8,1108.4 L488.8,1108.4 L486.7,1108.8 L484.7,1108.3 L482.6,1108.8 L480.6,1108.6 L478.5,1108.7 L476.4,1108.2 L474.4,1108.4 L472.3,1108.3 L470.3,1108 L468.2,1107.5 L466.2,1107.7 L464.1,1107.8 L462.1,1108.4 L460,1107.7 L457.9,1107.5 L455.9,1106.6 L453.8,1107.2 L451.7,1107.1 L449.7,1106.1 L447.6,1106.1 L445.5,1105.9 L443.4,1105.9 L441.4,1106 L439.3,1106 L437.2,1105.7 L435.2,1106.3 L433.1,1105.8 L431,1105.8 L429,1105.1 L426.9,1105.6 L424.8,1105.8 L422.7,1106.4 L420.7,1106.5 L418.6,1105.8 L416.5,1105.1 L414.5,1104.6 L412.4,1105.3 L410.4,1106.2 L408.4,1104.6 L406.4,1105.5 L404.3,1105.3 L402.3,1103.9 L400.3,1103.7 L398.3,1104.6 L396.3,1104.8 L394.3,1103.7 L392.2,1103.4 L390.2,1103.7 L388.2,1104.1 L386.2,1103.4 L384.2,1104.7 L382.2,1103.9 L380.2,1104 L378.1,1104.2 L376.1,1103.1 L374.1,1103.5 L372.1,1104.5 L370.1,1102.9 L368.1,1102.6 L366,1103.5 L364,1103.7 L362,1103.1 L360,1103.4 L358,1102.1 L356,1101.9 L353.9,1102.1 L351.9,1102 L349.9,1102.8 L347.9,1102.9 L345.9,1101.6 L343.8,1101.5 L341.8,1102.6 L339.8,1102.5 L337.8,1102.4 L335.8,1101.9 L333.7,1101.5 L331.7,1102 L329.7,1102.7 L327.7,1102.4 L325.7,1100.6 L323.6,1101.6 L321.6,1101.2 L319.6,1101.3 L317.6,1101 L315.6,1101.3 L313.5,1100.8 L311.5,1101.7 L309.5,1102.3 L307.5,1102 L305.5,1102.9 L303.5,1102.4 L301.4,1102 L299.4,1102.9 L297.4,1102.6 L295.4,1102.3 L293.4,1102.2 L291.4,1101.1 L289.3,1101.1 L287.3,1100.9 L285.3,1102 L283.3,1102.1 L281.3,1102.6 L279.3,1102.7 L277.2,1103.2 L275.2,1103.1 L273.2,1103.5 L271.1,1102.6 L269.1,1102.2 L267,1102.4 L264.9,1102.6 L262.8,1103.7 L260.8,1103.5 L258.7,1104.2 L256.6,1104.9 L254.5,1104.5 L252.4,1104.2 L250.4,1103.2 L248.3,1104.6 L246.2,1105.6 L244.2,1105.9 L242.1,1106 L240,1105.8 L237.9,1106 L235.8,1106.1 L233.7,1107.2 L231.6,1105.8 L229.4,1105.9 L227.3,1106.3 L225.2,1107.6 L223.1,1107.9 L221,1108.1 L218.9,1108.6 L216.8,1107.1 L214.6,1108.5 L212.5,1108.9 L210.4,1108.9 L208.3,1108.2 L206.2,1107.9 L204.2,1109.1 L202.2,1108.5 L200.2,1108.8 L198.2,1110.3 L196.2,1110 L194.2,1109.8 L192.1,1110.4 L190.1,1109.8 L188.1,1109.4 L186.1,1109.6 L184.1,1109.8 L182.1,1109.1 L180.1,1109.8 L178.1,1110.2 L176.1,1108.7 L174.1,1109.7 L172.1,1109.8 L170.1,1109.9 L168.1,1109.8 L166.1,1110.1 L164.1,1110.5 L162,1109.8 L160,1109.8 L158,1110.6 L156,1110.6 L154,1110.2 L152,1110.7 L150,1111.4 L148,1111.2 L145.9,1110.5 L143.9,1111 L141.8,1111.1 L139.8,1111.1 L137.7,1110.8 L135.7,1110.9 L133.7,1111.3 L131.6,1110.2 L129.6,1111.4 L127.5,1112.8 L125.5,1111.9 L123.4,1111.5 L121.4,1111.5 L119.3,1113.2 L117.3,1111.9 L115.3,1112.4 L113.2,1113.4 L111.2,1112.8 L109.1,1112.7 L107.1,1112.9 L105,1113.6 L103,1112.5 L101,1112.7 L99,1112.9 L97,1113.3 L95,1113.2 L93,1113.9 L91,1114.8 L89,1113.7 L87,1114.2 L85,1114.5 L83,1114 L81,1113.9 L79,1114.6 L77,1114.5 L75,1114.9 L73,1115.4 L71,1115.3 L69,1116.2 L67,1115.8 L65,1116 L63,1114.7 L61,1115.7 L59,1115.2 L57,1116.5 L55,1115.8 L53,1116.2 L51,1116.9 Z" fill="#fff" filter="url(#bl5)"/></mask><marker id="ah" viewBox="0 0 10 10" refX="9" refY="5" markerWidth="5.5" markerHeight="5.5" orient="auto-start-reverse" markerUnits="strokeWidth"><path d="M0,0.6 L10,5 L0,9.4 L2.6,5 Z" fill="#3564b8"/></marker></defs><rect width="1242" height="1314" fill="#fff"/><clipPath id="cpA"><rect x="50.1" y="47.4" width="1190" height="211.5"/></clipPath>
<g clip-path="url(#cpA)">
<path d="M50.3,176 L53.4,176.5 L56.5,176.7 L59.6,175.7 L62.7,174.7 L65.8,173.9 L69,174.1 L72.2,173.3 L75.4,172.5 L78.7,173 L81.9,173 L85.1,173 L88.3,171.9 L91.5,171.8 L94.7,171.3 L98,169.9 L101.2,170.3 L104.4,169.9 L107.6,170.7 L110.8,169.3 L114.1,168.3 L117.3,168.3 L120.5,167.2 L123.7,166.8 L126.9,165.4 L130.2,164.8 L133.4,164.6 L136.6,163.9 L139.8,162.9 L143,161.3 L146.2,161.4 L149.4,160.9 L152.7,160.8 L155.9,160.2 L159.1,160.2 L162.4,159.2 L165.6,158.7 L168.8,158.5 L172,157 L175.2,156.5 L178.5,155.9 L181.7,156.8 L184.9,155.6 L188.2,155.2 L191.4,154.7 L194.6,153.7 L197.8,152.3 L201.1,153 L204.3,152.2 L207.5,152.3 L210.7,150.8 L213.9,150.5 L217.2,151.2 L220.4,151.3 L223.6,149.4 L226.8,148.3 L230,148.4 L233.2,148.6 L236.4,148 L239.6,147.6 L242.8,146.4 L246,146.6 L249.2,146.5 L252.5,145.1 L255.8,143.6 L259,143 L262.2,143.3 L265.5,141.5 L268.8,141.4 L272,140.4 L275.2,139.1 L278.4,137.5 L281.6,136.1 L284.9,135.4 L288.1,133.4 L291.3,132.2 L294.5,129.8 L297.7,127.6 L300.9,127.7 L304.1,125.7 L307.3,126.4 L310.5,126.6 L313.8,125.7 L317,126.3 L320.2,125.7 L323.4,124.2 L326.5,124.3 L329.6,123.4 L332.8,122.8 L335.9,122.4 L339,122.6 L342.4,122.3 L345.8,122.1 L349.2,122.3 L352.7,121 L356.1,122.4 L359.5,121.5 L362.7,122 L365.9,121.2 L369.1,120.9 L372.3,121.1 L375.5,122.6 L378.7,122.4 L381.9,121.5 L385.1,121.2 L388.3,120.6 L391.5,121 L394.5,120.9 L397.6,121.6 L400.6,120.7 L403.6,120.9 L406.6,120.7 L409.7,120.8 L412.7,121.6 L415.7,121.7 L418.8,122 L421.8,122.5 L424.8,122.7 L427.9,121.2 L430.9,121.8 L433.9,120.7 L436.9,121.3 L440,122.7 L443,122.1 L446.1,121.9 L449.1,122.3 L452.2,122.5 L455.2,122.8 L458.3,122.5 L461.3,123.7 L464.4,124.2 L467.4,123.9 L470.5,124.2 L473.5,124.7 L476.6,125.2 L479.7,124.3 L482.8,123.8 L485.9,122.6 L489,121.2 L492.1,120.7 L495.1,121 L498.2,120.7 L501.3,119.7 L504.4,118.5 L507.5,118.1 L510.7,118.8 L513.9,118.8 L517.1,117.4 L520.3,117.1 L523.5,116 L526.8,115.7 L530,116.2 L533.2,116.2 L536.4,116.6 L539.6,116.8 L542.8,116.5 L546,116.5 L549.2,114.9 L552.5,113.5 L555.8,113.5 L559,114.4 L562.2,113 L565.5,111.2 L568.8,110.9 L572,111.1 L575.2,109.4 L578.4,109.6 L581.6,108.6 L584.9,109 L588.1,108.6 L591.3,107.8 L594.5,108.3 L597.7,106.7 L600.9,105.6 L604.1,106.4 L607.3,104.8 L610.5,105.7 L613.8,104.4 L617,103 L620.2,102.8 L623.4,102.5 L626.6,101.2 L629.9,99.5 L633.1,98.8 L636.3,95.6 L639.5,94.5 L642.8,93.3 L646,93.3 L649.2,90.1 L652.4,89.5 L655.5,88.3 L658.5,88.6 L661.5,89.6 L664.5,90 L667.5,90.8 L670.5,90.1 L673.5,90.4 L676.5,91.1 L679.5,91.4 L682.5,90.8 L685.5,91.6 L688.5,90.8 L691.5,92.2 L694.7,91.7 L698,91.5 L701.2,91.6 L704.4,92 L707.6,92.8 L710.8,92 L714.1,91.6 L717.3,92 L720.5,91.7 L723.7,91.4 L726.9,93 L730.1,93.2 L733.4,94.4 L736.6,93.9 L739.8,92.8 L743,94.5 L746,95.2 L749,96.4 L752,96.4 L755,96.4 L758,96.7 L761,96.4 L764.2,95.8 L767.5,94.3 L770.7,94.4 L774,93.3 L777.2,92.7 L780.4,92.7 L783.7,92.5 L786.9,90.9 L790.3,91.4 L793.8,89.6 L797.2,89.2 L800.6,88.6 L804.1,87.4 L807.5,86.4 L810.7,85.3 L814,83.2 L817.2,80.9 L820.4,77.5 L823.6,76.7 L826.8,77.1 L830,76.2 L833.2,74.6 L836.4,73.7 L839.6,73.1 L842.8,72.9 L846,72.2 L849.2,72.5 L852.5,71.4 L855.7,71.9 L859,71.2 L862.2,70.9 L865.4,71.9 L868.7,71.2 L871.9,70.7 L875.1,70.8 L878.4,70.9 L881.6,72.2 L884.8,72.8 L888,72.8 L891.2,72.6 L894.5,73.3 L897.7,73 L900.9,73.2 L904.1,73.3 L907.3,73.3 L910.5,74.3 L913.8,74.8 L917,74.8 L920.2,73 L923.4,74.6 L926.6,74.7 L929.8,74.1 L933,74.3 L936.3,75.1 L939.5,75.6 L942.7,75.7 L945.9,75.4 L949.1,76 L952.4,77.2 L955.6,77.6 L958.9,77.8 L962.1,78.5 L965.4,79.6 L968.6,80.8 L971.9,82.9 L975.1,80.5 L978.2,80.2 L981.4,79.4 L984.6,78.8 L987.7,78.8 L990.9,78.3 L994.1,76.8 L997.2,75.5 L1000.4,74.1 L1003.8,75.2 L1007.3,76.9 L1010.7,77 L1014.1,78.1 L1017.6,78.9 L1021,79.4 L1024.1,79.2 L1027.3,78.1 L1030.4,76.9 L1033.6,76 L1036.7,76.5 L1039.7,74.4 L1042.7,72.6 L1045.8,71.5 L1048.8,69.1 L1051.8,68.6 L1054.8,66.7 L1058.3,65.2 L1061.7,64.2 L1065.2,64.4 L1068.7,62.8 L1072.1,62.1 L1075.6,61.8 L1078.8,61.9 L1082.1,61.8 L1085.3,62 L1088.5,61.5 L1091.8,61.4 L1095,62.2 L1098.3,62.1 L1101.5,61.3 L1104.7,62.1 L1108,60 L1111.2,60.3 L1114.5,60.6 L1117.7,60.8 L1120.9,60.2 L1124.2,59.5 L1127.4,59.7 L1130.4,59.1 L1133.5,59.1 L1136.5,56.9 L1139.5,57.8 L1142.6,57.3 L1145.6,57.9 L1148.8,60.2 L1152,62.4 L1155.3,63.8 L1158.5,66.2 L1162,65.8 L1165.4,66 L1168.9,65.9 L1172.4,65.4 L1175.8,66.9 L1179.3,66.7 L1182.5,64.5 L1185.8,65.1 L1189,63.7 L1192.2,63.5 L1195.5,62.9 L1198.7,62.4 L1202,62.4 L1205.2,61.8 L1208.4,61.4 L1211.7,62.3 L1214.9,63 L1218.2,64.4 L1221.4,63.8 L1224.6,63.3 L1227.9,63.8 L1231.1,64.8 L1235.5,64.8 L1240,65.9 L1240,146.3 L1236.8,145.1 L1233.7,145.4 L1230.5,144.8 L1227.3,144.2 L1224.2,144.5 L1221,144.9 L1217.9,143 L1214.7,143.2 L1211.5,143.3 L1208.4,144.2 L1205.2,145 L1202,144.3 L1198.7,145.8 L1195.5,146.5 L1192.2,145.2 L1189,145.2 L1185.8,145.8 L1182.5,146 L1179.3,146.1 L1175.8,145.9 L1172.4,146.3 L1168.9,146.5 L1165.4,145.7 L1162,146.5 L1158.5,147.6 L1155.4,145.8 L1152.3,144.5 L1149.2,141.4 L1146.1,140.5 L1143,138.7 L1139.8,138.6 L1136.6,140.3 L1133.4,140.6 L1130.2,139.7 L1127,139.8 L1123.8,139.9 L1120.7,139.5 L1117.5,139.9 L1114.3,140.9 L1111.1,142.3 L1107.9,141.9 L1104.7,142.3 L1101.5,140.9 L1098.3,141.4 L1095,142.3 L1091.8,140.8 L1088.5,141.6 L1085.3,142.8 L1082.1,143.8 L1078.8,143.7 L1075.6,143.7 L1072.3,144.8 L1069.1,146 L1065.8,147.9 L1062.6,149.2 L1059.3,149.9 L1056.1,152.1 L1052.8,154.3 L1049.6,154.7 L1046.4,154.6 L1043.1,156 L1039.9,156.3 L1036.7,157.1 L1033.4,159 L1030.2,159.3 L1026.9,159.5 L1023.7,161.5 L1020.5,159.3 L1017.2,158.7 L1014,158.4 L1010.8,158.3 L1007.5,158.8 L1004.3,159.2 L1001,158.3 L997.8,156.3 L994.6,158.3 L991.3,158.1 L988.1,158.4 L984.8,160 L981.6,160.6 L978.4,161.8 L975.1,162.5 L971.9,162.3 L968.6,162.9 L965.4,162 L962.1,162.4 L958.9,160.7 L955.6,160.3 L952.4,159.8 L949.1,158.8 L945.9,159 L942.7,158.1 L939.5,157.6 L936.3,155.7 L933,156.3 L929.8,155.9 L926.6,155.5 L923.4,155 L920.2,155.4 L917,156 L913.8,155.3 L910.5,155.8 L907.3,155.8 L904.1,155.7 L900.9,155.2 L897.7,155.2 L894.5,154.6 L891.2,154.7 L888,154.1 L884.8,153.2 L881.6,152.6 L878.4,153.3 L875.1,153.2 L871.9,151.3 L868.7,151.9 L865.5,151.2 L862.2,153.2 L859,151.6 L855.8,151.8 L852.5,152.6 L849.3,153.3 L846.1,154.2 L842.9,155.1 L839.7,155.5 L836.5,158.1 L833.2,158.2 L830,159.4 L826.8,160.5 L823.6,161.9 L820.4,162.6 L817.1,165.2 L813.9,165.6 L810.7,167 L807.5,168.1 L804.1,168.3 L800.6,168.5 L797.2,170.3 L793.8,170.8 L790.3,172.3 L786.9,173.1 L783.9,174.4 L780.9,174.4 L777.8,174.6 L774.8,174.4 L771.8,176.6 L768.8,175.9 L765.6,176.3 L762.3,176.8 L759.1,176.5 L755.9,176.9 L752.7,177.1 L749.5,176.1 L746.2,177.2 L743,178.4 L739.8,177.9 L736.6,177.2 L733.4,176.2 L730.1,176.1 L726.9,175.8 L723.7,174.5 L720.5,173.7 L717.3,173.7 L714.3,173.1 L711.2,172.8 L708.2,173.1 L705.2,173.4 L702.2,173.4 L699.1,173.7 L696.1,172 L693.1,172.8 L690,172.8 L687,172.3 L684,171.5 L680.9,172.2 L677.9,171.1 L674.9,171 L671.9,171.5 L668.8,171.3 L665.8,170.9 L662.3,170.4 L658.9,171.1 L655.5,172.3 L652,171.4 L648.7,173.3 L645.5,175 L642.2,177 L638.9,178.1 L635.8,180 L632.7,180.3 L629.6,182.7 L626.5,183.6 L623.4,185.2 L620.2,185.6 L617,186.3 L613.8,186.7 L610.5,187 L607.3,186.7 L604.1,188.5 L600.9,188.7 L597.7,189.7 L594.5,190.7 L591.2,191.2 L588,191.2 L584.8,192.2 L581.6,191.6 L578.4,192.2 L575.1,192.2 L571.9,192.8 L568.7,193.4 L565.5,194.9 L562.2,193.9 L559,194.7 L555.8,195.5 L552.6,194.3 L549.4,194.2 L546.1,194.9 L542.9,195.5 L539.7,196.6 L536.5,196.3 L533.3,197.9 L530,198.4 L526.8,197.7 L523.6,198.5 L520.4,200.7 L517.3,200.8 L514.2,200.2 L511.1,200.2 L508,200.2 L504.9,200.4 L501.8,201.9 L498.7,201.9 L495.7,203.4 L492.6,203.2 L489.5,204 L486.4,203.9 L483.3,205.2 L480.2,205.1 L477.1,205.8 L474,206.9 L470.9,205.7 L467.8,205.5 L464.7,204.9 L461.6,204.8 L458.5,204.6 L455.4,203.8 L452.3,204.7 L449.2,204.9 L446.1,203.5 L443,203.5 L440,203.9 L436.9,203.7 L433.9,203.1 L430.9,203.2 L427.9,203.5 L424.8,202.6 L421.8,203.5 L418.8,204.1 L415.7,204.4 L412.7,205.2 L409.7,203.2 L406.6,203.4 L403.6,203.5 L400.6,202.7 L397.6,203 L394.5,203.3 L391.5,203.4 L388.3,203.3 L385.1,203.1 L381.9,203.2 L378.7,203.7 L375.5,203.2 L372.3,202.7 L369.1,202.5 L365.9,203.2 L362.7,203.3 L359.5,203.4 L356.4,203.5 L353.3,203.8 L350.2,204.6 L347.1,203.2 L344.1,204.6 L341,204.7 L337.9,205.4 L334.8,205.1 L331.7,204.9 L328.6,205.6 L325.5,206.9 L322.4,205.8 L319.3,207.4 L316.2,208.6 L313.1,207.9 L310.1,208 L307,206.9 L303.9,208.6 L300.8,208.9 L297.7,211 L294.5,212.8 L291.2,215.9 L288,218 L284.8,220.3 L281.6,221 L278.4,221.2 L275.1,221.5 L271.9,223.3 L268.7,224.2 L265.4,225.1 L262.2,225.5 L259,226.8 L255.8,227.6 L252.6,227.4 L249.3,228.7 L246.1,228.1 L242.9,229 L239.7,229.9 L236.5,230.9 L233.3,231.1 L230.1,232.2 L226.8,233.1 L223.6,233.4 L220.4,233.8 L217.4,235.2 L214.3,235 L211.3,235.9 L208.3,236.6 L205.2,236.2 L202.2,237 L199.2,237.6 L196.1,237.6 L193.1,237.4 L190,237.9 L187,238.6 L184,238.6 L180.9,239.4 L177.9,241.1 L174.9,240.6 L171.8,241.8 L168.8,241.3 L165.6,241.6 L162.4,242.5 L159.2,244.1 L155.9,243.3 L152.7,243.5 L149.5,244 L146.3,244 L143.1,244.3 L139.8,244.8 L136.6,245.8 L133.4,246.2 L130.2,245.8 L127,247.3 L123.8,248.1 L120.5,247.4 L117.3,247.8 L114.1,248.4 L110.8,248.3 L107.6,250.2 L104.4,250.9 L101.2,250.2 L98,250.3 L94.7,250.4 L91.5,250.3 L88.3,250.7 L85,251.6 L81.8,252.7 L78.6,253.2 L74.3,255.8 L70,256.5 L65.8,260.6 L62.7,260.1 L59.5,259.8 L56.4,260.3 L53.2,260 L50.1,260 Z" fill="#3655b4" filter="url(#bluetex)"/>
<path d="M50.3,176 L53.4,176.5 L56.5,176.7 L59.6,175.7 L62.7,174.7 L65.8,173.9 L69,174.1 L72.2,173.3 L75.4,172.5 L78.7,173 L81.9,173 L85.1,173 L88.3,171.9 L91.5,171.8 L94.7,171.3 L98,169.9 L101.2,170.3 L104.4,169.9 L107.6,170.7 L110.8,169.3 L114.1,168.3 L117.3,168.3 L120.5,167.2 L123.7,166.8 L126.9,165.4 L130.2,164.8 L133.4,164.6 L136.6,163.9 L139.8,162.9 L143,161.3 L146.2,161.4 L149.4,160.9 L152.7,160.8 L155.9,160.2 L159.1,160.2 L162.4,159.2 L165.6,158.7 L168.8,158.5 L172,157 L175.2,156.5 L178.5,155.9 L181.7,156.8 L184.9,155.6 L188.2,155.2 L191.4,154.7 L194.6,153.7 L197.8,152.3 L201.1,153 L204.3,152.2 L207.5,152.3 L210.7,150.8 L213.9,150.5 L217.2,151.2 L220.4,151.3 L223.6,149.4 L226.8,148.3 L230,148.4 L233.2,148.6 L236.4,148 L239.6,147.6 L242.8,146.4 L246,146.6 L249.2,146.5 L252.5,145.1 L255.8,143.6 L259,143 L262.2,143.3 L265.5,141.5 L268.8,141.4 L272,140.4 L275.2,139.1 L278.4,137.5 L281.6,136.1 L284.9,135.4 L288.1,133.4 L291.3,132.2 L294.5,129.8 L297.7,127.6 L300.9,127.7 L304.1,125.7 L307.3,126.4 L310.5,126.6 L313.8,125.7 L317,126.3 L320.2,125.7 L323.4,124.2 L326.5,124.3 L329.6,123.4 L332.8,122.8 L335.9,122.4 L339,122.6 L342.4,122.3 L345.8,122.1 L349.2,122.3 L352.7,121 L356.1,122.4 L359.5,121.5 L362.7,122 L365.9,121.2 L369.1,120.9 L372.3,121.1 L375.5,122.6 L378.7,122.4 L381.9,121.5 L385.1,121.2 L388.3,120.6 L391.5,121 L394.5,120.9 L397.6,121.6 L400.6,120.7 L403.6,120.9 L406.6,120.7 L409.7,120.8 L412.7,121.6 L415.7,121.7 L418.8,122 L421.8,122.5 L424.8,122.7 L427.9,121.2 L430.9,121.8 L433.9,120.7 L436.9,121.3 L440,122.7 L443,122.1 L446.1,121.9 L449.1,122.3 L452.2,122.5 L455.2,122.8 L458.3,122.5 L461.3,123.7 L464.4,124.2 L467.4,123.9 L470.5,124.2 L473.5,124.7 L476.6,125.2 L479.7,124.3 L482.8,123.8 L485.9,122.6 L489,121.2 L492.1,120.7 L495.1,121 L498.2,120.7 L501.3,119.7 L504.4,118.5 L507.5,118.1 L510.7,118.8 L513.9,118.8 L517.1,117.4 L520.3,117.1 L523.5,116 L526.8,115.7 L530,116.2 L533.2,116.2 L536.4,116.6 L539.6,116.8 L542.8,116.5 L546,116.5 L549.2,114.9 L552.5,113.5 L555.8,113.5 L559,114.4 L562.2,113 L565.5,111.2 L568.8,110.9 L572,111.1 L575.2,109.4 L578.4,109.6 L581.6,108.6 L584.9,109 L588.1,108.6 L591.3,107.8 L594.5,108.3 L597.7,106.7 L600.9,105.6 L604.1,106.4 L607.3,104.8 L610.5,105.7 L613.8,104.4 L617,103 L620.2,102.8 L623.4,102.5 L626.6,101.2 L629.9,99.5 L633.1,98.8 L636.3,95.6 L639.5,94.5 L642.8,93.3 L646,93.3 L649.2,90.1 L652.4,89.5 L655.5,88.3 L658.5,88.6 L661.5,89.6 L664.5,90 L667.5,90.8 L670.5,90.1 L673.5,90.4 L676.5,91.1 L679.5,91.4 L682.5,90.8 L685.5,91.6 L688.5,90.8 L691.5,92.2 L694.7,91.7 L698,91.5 L701.2,91.6 L704.4,92 L707.6,92.8 L710.8,92 L714.1,91.6 L717.3,92 L720.5,91.7 L723.7,91.4 L726.9,93 L730.1,93.2 L733.4,94.4 L736.6,93.9 L739.8,92.8 L743,94.5 L746,95.2 L749,96.4 L752,96.4 L755,96.4 L758,96.7 L761,96.4 L764.2,95.8 L767.5,94.3 L770.7,94.4 L774,93.3 L777.2,92.7 L780.4,92.7 L783.7,92.5 L786.9,90.9 L790.3,91.4 L793.8,89.6 L797.2,89.2 L800.6,88.6 L804.1,87.4 L807.5,86.4 L810.7,85.3 L814,83.2 L817.2,80.9 L820.4,77.5 L823.6,76.7 L826.8,77.1 L830,76.2 L833.2,74.6 L836.4,73.7 L839.6,73.1 L842.8,72.9 L846,72.2 L849.2,72.5 L852.5,71.4 L855.7,71.9 L859,71.2 L862.2,70.9 L865.4,71.9 L868.7,71.2 L871.9,70.7 L875.1,70.8 L878.4,70.9 L881.6,72.2 L884.8,72.8 L888,72.8 L891.2,72.6 L894.5,73.3 L897.7,73 L900.9,73.2 L904.1,73.3 L907.3,73.3 L910.5,74.3 L913.8,74.8 L917,74.8 L920.2,73 L923.4,74.6 L926.6,74.7 L929.8,74.1 L933,74.3 L936.3,75.1 L939.5,75.6 L942.7,75.7 L945.9,75.4 L949.1,76 L952.4,77.2 L955.6,77.6 L958.9,77.8 L962.1,78.5 L965.4,79.6 L968.6,80.8 L971.9,82.9 L975.1,80.5 L978.2,80.2 L981.4,79.4 L984.6,78.8 L987.7,78.8 L990.9,78.3 L994.1,76.8 L997.2,75.5 L1000.4,74.1 L1003.8,75.2 L1007.3,76.9 L1010.7,77 L1014.1,78.1 L1017.6,78.9 L1021,79.4 L1024.1,79.2 L1027.3,78.1 L1030.4,76.9 L1033.6,76 L1036.7,76.5 L1039.7,74.4 L1042.7,72.6 L1045.8,71.5 L1048.8,69.1 L1051.8,68.6 L1054.8,66.7 L1058.3,65.2 L1061.7,64.2 L1065.2,64.4 L1068.7,62.8 L1072.1,62.1 L1075.6,61.8 L1078.8,61.9 L1082.1,61.8 L1085.3,62 L1088.5,61.5 L1091.8,61.4 L1095,62.2 L1098.3,62.1 L1101.5,61.3 L1104.7,62.1 L1108,60 L1111.2,60.3 L1114.5,60.6 L1117.7,60.8 L1120.9,60.2 L1124.2,59.5 L1127.4,59.7 L1130.4,59.1 L1133.5,59.1 L1136.5,56.9 L1139.5,57.8 L1142.6,57.3 L1145.6,57.9 L1148.8,60.2 L1152,62.4 L1155.3,63.8 L1158.5,66.2 L1162,65.8 L1165.4,66 L1168.9,65.9 L1172.4,65.4 L1175.8,66.9 L1179.3,66.7 L1182.5,64.5 L1185.8,65.1 L1189,63.7 L1192.2,63.5 L1195.5,62.9 L1198.7,62.4 L1202,62.4 L1205.2,61.8 L1208.4,61.4 L1211.7,62.3 L1214.9,63 L1218.2,64.4 L1221.4,63.8 L1224.6,63.3 L1227.9,63.8 L1231.1,64.8 L1235.5,64.8 L1240,65.9 L1240,69.8 L1237.2,70.6 L1234.4,72.7 L1231.6,71.5 L1228.8,71.4 L1226,72.1 L1223.4,70.2 L1220.8,67.8 L1218.2,66.9 L1215.6,69.8 L1213,71.1 L1210.4,68.7 L1207.8,72.3 L1205.2,72.3 L1202.6,73.3 L1200,72.6 L1197.4,69.6 L1194.8,69.7 L1192.2,69.2 L1189.7,67.4 L1187.1,74.7 L1184.5,75.9 L1181.9,75.6 L1179.3,77.7 L1176.7,73.9 L1174.1,71.5 L1171.5,72.3 L1168.9,70.2 L1166.3,73.4 L1163.7,72.5 L1161.1,74.8 L1158.5,72.7 L1155.9,69.2 L1153.3,66.8 L1150.8,63.8 L1148.2,61.7 L1145.6,59.7 L1143,62.7 L1140.4,61.8 L1137.8,63.7 L1135.2,62.2 L1132.6,62.8 L1130,63 L1127.4,65.7 L1124.8,63.5 L1122.2,65.5 L1119.6,66.9 L1117,68.9 L1114.5,74.2 L1111.9,77.6 L1109.3,75.4 L1106.7,78.7 L1104.1,74.9 L1101.5,72.9 L1098.9,73.5 L1096.3,72.5 L1093.7,69.6 L1091.1,71.3 L1088.5,69.8 L1085.9,66.9 L1083.3,68.5 L1080.8,70.7 L1078.2,68.5 L1075.6,71.4 L1073,70.6 L1070.4,72.5 L1067.8,72 L1065.2,72 L1062.6,74.8 L1060,75.7 L1057.4,81.2 L1054.8,81.7 L1052.2,83.8 L1049.6,84.8 L1047,87.6 L1044.4,86.6 L1041.8,88.5 L1039.2,86.2 L1036.7,87.3 L1034.1,87.9 L1031.5,89.3 L1028.9,89.6 L1026.3,86.6 L1023.7,85.5 L1021.1,85.2 L1018.5,82.4 L1015.9,85.2 L1013.3,84.9 L1010.7,83.5 L1008.1,81.5 L1005.5,79.9 L1003,78.6 L1000.4,75.9 L997.8,77.5 L995.2,79.8 L992.6,82.3 L990,83.2 L987.4,83.1 L984.8,88.7 L982.2,90.2 L979.6,93 L977,91.1 L974.4,94.4 L971.9,91.4 L969.3,88.4 L966.7,87.2 L964.1,90.2 L961.5,81.9 L958.9,86.3 L956.3,87.1 L953.7,87.3 L951.1,85.4 L948.5,85.5 L945.9,87.9 L943.3,89.9 L940.7,84.9 L938.1,86.1 L935.5,84.5 L933,84.6 L930.4,83.5 L927.8,82.9 L925.2,83.6 L922.6,81.5 L920,78.5 L916.8,79.1 L913.7,82.3 L910.5,82.2 L907.9,82.7 L905.4,78.1 L902.8,79.9 L900.3,73.8 L897.7,76.1 L895.1,79.2 L892.5,76 L890,75.1 L887.4,77.3 L884.8,75.4 L882.2,75.8 L879.6,72.2 L877.1,76.9 L874.5,76.2 L871.9,77.7 L869.3,76.3 L866.7,77.7 L864.1,77.5 L861.5,74.8 L859,76.2 L856.4,77.7 L853.8,76.3 L851.2,76.1 L848.6,75.5 L846,74.8 L843.4,81.3 L840.9,81.3 L838.3,82.6 L835.8,80.9 L833.2,85.3 L830.6,87.8 L828.1,87.9 L825.5,89.9 L822.9,93.9 L820.4,94.3 L817.8,95.6 L815.2,94 L812.6,93.9 L810.1,95.4 L807.5,93.8 L804.9,93.9 L802.3,92.8 L799.8,92.1 L797.2,91.1 L794.6,91.4 L792,93.7 L789.5,94.3 L786.9,96.1 L784.3,97 L781.7,96.1 L779.1,97.1 L776.6,98.7 L774,99.2 L771.4,101.5 L768.8,102.8 L766.2,106.6 L763.7,108.4 L761.1,108.2 L758.6,109.4 L756,112.5 L753.4,106.7 L750.8,104.7 L748.2,103.1 L745.6,100.4 L743,92.8 L740.5,102.8 L737.9,107.1 L735.3,109 L732.8,111.5 L730.2,109.4 L727.6,107.5 L725,105.9 L722.5,103 L719.9,103.4 L717.3,98.6 L714.7,98.5 L712.1,100.6 L709.6,98.7 L707,95.8 L704.4,97.5 L701.8,96.3 L699.2,96.5 L696.7,96.5 L694.1,98.7 L691.5,99.1 L688.9,96.4 L686.4,101.3 L683.8,103.9 L681.3,103.2 L678.7,101.7 L676.1,100.6 L673.5,99.8 L670.9,96.9 L668.3,97.3 L665.8,95.4 L663.2,96.2 L660.6,100.1 L658,102.7 L655.5,105.6 L652.9,100.4 L650.3,94 L647.7,96.2 L645.1,95.6 L642.6,96.4 L640,98.2 L636.3,102.2 L633.7,104.7 L631.2,101.2 L628.6,105.2 L626,107.6 L623.4,108.1 L620.9,107.2 L618.3,110.1 L615.7,111.8 L613.1,113.7 L610.5,113.2 L608,111.2 L605.4,114.8 L602.8,116.8 L600.2,114.7 L597.6,113.1 L595.1,112.1 L592.5,113.2 L589.9,113.6 L587.3,117.1 L584.7,121.2 L582.2,127 L579.6,125.1 L577,126.9 L574.4,125.8 L571.9,122.1 L569.3,122.6 L566.8,117.8 L564.2,117.2 L561.6,118.7 L559,121.7 L556.5,124.4 L553.9,123.7 L551.3,125.2 L548.7,126.6 L546.1,127.8 L543.5,126.9 L541,126 L538.4,127.2 L535.8,125.9 L533.2,128.9 L530.6,130.3 L528.1,134.6 L525.5,136.6 L522.9,137.5 L520.4,133.7 L517.8,133.2 L515.2,132.1 L512.6,129.3 L510,127.3 L507.5,128.8 L504.9,127 L502.3,127.6 L499.8,126.4 L497.2,129.7 L494.6,131.1 L492,131.8 L489.5,130 L486.9,131.7 L484.3,133.9 L481.7,133.7 L479.2,132.5 L476.6,137.1 L474,136.2 L471.4,135.9 L468.8,134.6 L466.3,132 L463.7,131.7 L461.1,128.3 L458.5,124.5 L455.9,126.8 L453.4,125.8 L450.8,126.6 L448.2,127.4 L445.6,128.7 L443,129.6 L440.5,131.3 L437.9,134.9 L435.3,133.2 L432.8,130.6 L430.2,131.8 L427.6,132.2 L425,130.8 L422.4,127.1 L419.9,127.7 L417.3,131.5 L414.7,127.2 L412.1,127.7 L409.6,125.7 L407,127.2 L404.4,128.5 L401.9,128.8 L399.3,126.5 L396.7,127.4 L394.1,130.3 L391.5,129.5 L389,130.3 L386.4,133.8 L383.8,139.4 L381.2,132.2 L378.6,126 L375.9,130.4 L373.1,127.3 L370.4,126.7 L367.7,126.9 L365,126.5 L362.2,126.3 L359.5,127.7 L356.9,126.6 L354.3,127.1 L351.8,124.6 L349.2,128.7 L346.6,128.5 L344,126.6 L341.5,129.1 L338.9,131.5 L336.3,130.3 L333.7,129.2 L331.1,133 L328.6,133.1 L326,131.7 L323.4,131.9 L320.8,131.5 L318.2,133 L315.7,139.2 L313.1,137.4 L310.5,132.6 L307.9,133.4 L305.4,134.1 L302.8,138.8 L300.2,141.2 L297.6,136.4 L295.1,143.4 L292.5,139.5 L289.9,139.1 L287.4,138.8 L284.8,142 L282.2,144.7 L279.7,146.6 L277.1,143.2 L274.6,144 L272,146.8 L269.4,144.2 L266.8,149.3 L264.2,147.8 L261.6,150 L259,151 L256.4,149 L253.8,145.8 L251.2,150.8 L248.6,151.1 L246,150.8 L243.4,152.5 L240.9,154.4 L238.3,153.3 L235.8,153.8 L233.2,153.4 L230.6,155.6 L228.1,155.3 L225.5,153.5 L223,156.6 L220.4,158.5 L217.8,157.5 L215.2,157.8 L212.7,160.3 L210.1,158.5 L207.5,165.9 L204.9,160.3 L202.3,161.1 L199.8,161.2 L197.2,165.4 L194.6,161.5 L192,162.9 L189.4,160.7 L186.9,163 L184.3,163.1 L181.7,164 L179.1,159.2 L176.5,163.3 L174,162.6 L171.4,163.7 L168.8,165.3 L166.2,167.4 L163.6,165.5 L161.1,165.3 L158.5,165.2 L155.9,161.4 L153.3,166 L150.7,165.3 L148.2,166.3 L145.6,165.8 L143,168.6 L140.4,167.1 L137.9,168.4 L135.3,170.9 L132.8,169.3 L130.2,172.2 L127.6,175.6 L125.1,174.3 L122.5,176 L119.9,177.7 L117.3,177.3 L114.7,175.8 L112.2,175.3 L109.6,175.6 L107,173.4 L104.4,173 L101.8,173.5 L99.2,173.6 L96.7,176.2 L94.1,177.3 L91.5,181.1 L89,182.3 L86.4,183.6 L83.8,184.3 L81.2,184.1 L78.7,180.3 L76.1,181.5 L73.5,181.9 L71,179.1 L68.4,181.5 L65.8,180.7 L63.2,181.4 L60.6,179 L58,182.2 L55.5,182 L52.9,181.5 L50.3,182.5 Z" fill="#6c80cc"/>
<clipPath id="cpTop"><path d="M50.3,176 L53.4,176.5 L56.5,176.7 L59.6,175.7 L62.7,174.7 L65.8,173.9 L69,174.1 L72.2,173.3 L75.4,172.5 L78.7,173 L81.9,173 L85.1,173 L88.3,171.9 L91.5,171.8 L94.7,171.3 L98,169.9 L101.2,170.3 L104.4,169.9 L107.6,170.7 L110.8,169.3 L114.1,168.3 L117.3,168.3 L120.5,167.2 L123.7,166.8 L126.9,165.4 L130.2,164.8 L133.4,164.6 L136.6,163.9 L139.8,162.9 L143,161.3 L146.2,161.4 L149.4,160.9 L152.7,160.8 L155.9,160.2 L159.1,160.2 L162.4,159.2 L165.6,158.7 L168.8,158.5 L172,157 L175.2,156.5 L178.5,155.9 L181.7,156.8 L184.9,155.6 L188.2,155.2 L191.4,154.7 L194.6,153.7 L197.8,152.3 L201.1,153 L204.3,152.2 L207.5,152.3 L210.7,150.8 L213.9,150.5 L217.2,151.2 L220.4,151.3 L223.6,149.4 L226.8,148.3 L230,148.4 L233.2,148.6 L236.4,148 L239.6,147.6 L242.8,146.4 L246,146.6 L249.2,146.5 L252.5,145.1 L255.8,143.6 L259,143 L262.2,143.3 L265.5,141.5 L268.8,141.4 L272,140.4 L275.2,139.1 L278.4,137.5 L281.6,136.1 L284.9,135.4 L288.1,133.4 L291.3,132.2 L294.5,129.8 L297.7,127.6 L300.9,127.7 L304.1,125.7 L307.3,126.4 L310.5,126.6 L313.8,125.7 L317,126.3 L320.2,125.7 L323.4,124.2 L326.5,124.3 L329.6,123.4 L332.8,122.8 L335.9,122.4 L339,122.6 L342.4,122.3 L345.8,122.1 L349.2,122.3 L352.7,121 L356.1,122.4 L359.5,121.5 L362.7,122 L365.9,121.2 L369.1,120.9 L372.3,121.1 L375.5,122.6 L378.7,122.4 L381.9,121.5 L385.1,121.2 L388.3,120.6 L391.5,121 L394.5,120.9 L397.6,121.6 L400.6,120.7 L403.6,120.9 L406.6,120.7 L409.7,120.8 L412.7,121.6 L415.7,121.7 L418.8,122 L421.8,122.5 L424.8,122.7 L427.9,121.2 L430.9,121.8 L433.9,120.7 L436.9,121.3 L440,122.7 L443,122.1 L446.1,121.9 L449.1,122.3 L452.2,122.5 L455.2,122.8 L458.3,122.5 L461.3,123.7 L464.4,124.2 L467.4,123.9 L470.5,124.2 L473.5,124.7 L476.6,125.2 L479.7,124.3 L482.8,123.8 L485.9,122.6 L489,121.2 L492.1,120.7 L495.1,121 L498.2,120.7 L501.3,119.7 L504.4,118.5 L507.5,118.1 L510.7,118.8 L513.9,118.8 L517.1,117.4 L520.3,117.1 L523.5,116 L526.8,115.7 L530,116.2 L533.2,116.2 L536.4,116.6 L539.6,116.8 L542.8,116.5 L546,116.5 L549.2,114.9 L552.5,113.5 L555.8,113.5 L559,114.4 L562.2,113 L565.5,111.2 L568.8,110.9 L572,111.1 L575.2,109.4 L578.4,109.6 L581.6,108.6 L584.9,109 L588.1,108.6 L591.3,107.8 L594.5,108.3 L597.7,106.7 L600.9,105.6 L604.1,106.4 L607.3,104.8 L610.5,105.7 L613.8,104.4 L617,103 L620.2,102.8 L623.4,102.5 L626.6,101.2 L629.9,99.5 L633.1,98.8 L636.3,95.6 L639.5,94.5 L642.8,93.3 L646,93.3 L649.2,90.1 L652.4,89.5 L655.5,88.3 L658.5,88.6 L661.5,89.6 L664.5,90 L667.5,90.8 L670.5,90.1 L673.5,90.4 L676.5,91.1 L679.5,91.4 L682.5,90.8 L685.5,91.6 L688.5,90.8 L691.5,92.2 L694.7,91.7 L698,91.5 L701.2,91.6 L704.4,92 L707.6,92.8 L710.8,92 L714.1,91.6 L717.3,92 L720.5,91.7 L723.7,91.4 L726.9,93 L730.1,93.2 L733.4,94.4 L736.6,93.9 L739.8,92.8 L743,94.5 L746,95.2 L749,96.4 L752,96.4 L755,96.4 L758,96.7 L761,96.4 L764.2,95.8 L767.5,94.3 L770.7,94.4 L774,93.3 L777.2,92.7 L780.4,92.7 L783.7,92.5 L786.9,90.9 L790.3,91.4 L793.8,89.6 L797.2,89.2 L800.6,88.6 L804.1,87.4 L807.5,86.4 L810.7,85.3 L814,83.2 L817.2,80.9 L820.4,77.5 L823.6,76.7 L826.8,77.1 L830,76.2 L833.2,74.6 L836.4,73.7 L839.6,73.1 L842.8,72.9 L846,72.2 L849.2,72.5 L852.5,71.4 L855.7,71.9 L859,71.2 L862.2,70.9 L865.4,71.9 L868.7,71.2 L871.9,70.7 L875.1,70.8 L878.4,70.9 L881.6,72.2 L884.8,72.8 L888,72.8 L891.2,72.6 L894.5,73.3 L897.7,73 L900.9,73.2 L904.1,73.3 L907.3,73.3 L910.5,74.3 L913.8,74.8 L917,74.8 L920.2,73 L923.4,74.6 L926.6,74.7 L929.8,74.1 L933,74.3 L936.3,75.1 L939.5,75.6 L942.7,75.7 L945.9,75.4 L949.1,76 L952.4,77.2 L955.6,77.6 L958.9,77.8 L962.1,78.5 L965.4,79.6 L968.6,80.8 L971.9,82.9 L975.1,80.5 L978.2,80.2 L981.4,79.4 L984.6,78.8 L987.7,78.8 L990.9,78.3 L994.1,76.8 L997.2,75.5 L1000.4,74.1 L1003.8,75.2 L1007.3,76.9 L1010.7,77 L1014.1,78.1 L1017.6,78.9 L1021,79.4 L1024.1,79.2 L1027.3,78.1 L1030.4,76.9 L1033.6,76 L1036.7,76.5 L1039.7,74.4 L1042.7,72.6 L1045.8,71.5 L1048.8,69.1 L1051.8,68.6 L1054.8,66.7 L1058.3,65.2 L1061.7,64.2 L1065.2,64.4 L1068.7,62.8 L1072.1,62.1 L1075.6,61.8 L1078.8,61.9 L1082.1,61.8 L1085.3,62 L1088.5,61.5 L1091.8,61.4 L1095,62.2 L1098.3,62.1 L1101.5,61.3 L1104.7,62.1 L1108,60 L1111.2,60.3 L1114.5,60.6 L1117.7,60.8 L1120.9,60.2 L1124.2,59.5 L1127.4,59.7 L1130.4,59.1 L1133.5,59.1 L1136.5,56.9 L1139.5,57.8 L1142.6,57.3 L1145.6,57.9 L1148.8,60.2 L1152,62.4 L1155.3,63.8 L1158.5,66.2 L1162,65.8 L1165.4,66 L1168.9,65.9 L1172.4,65.4 L1175.8,66.9 L1179.3,66.7 L1182.5,64.5 L1185.8,65.1 L1189,63.7 L1192.2,63.5 L1195.5,62.9 L1198.7,62.4 L1202,62.4 L1205.2,61.8 L1208.4,61.4 L1211.7,62.3 L1214.9,63 L1218.2,64.4 L1221.4,63.8 L1224.6,63.3 L1227.9,63.8 L1231.1,64.8 L1235.5,64.8 L1240,65.9 L1240,69.8 L1237.2,70.6 L1234.4,72.7 L1231.6,71.5 L1228.8,71.4 L1226,72.1 L1223.4,70.2 L1220.8,67.8 L1218.2,66.9 L1215.6,69.8 L1213,71.1 L1210.4,68.7 L1207.8,72.3 L1205.2,72.3 L1202.6,73.3 L1200,72.6 L1197.4,69.6 L1194.8,69.7 L1192.2,69.2 L1189.7,67.4 L1187.1,74.7 L1184.5,75.9 L1181.9,75.6 L1179.3,77.7 L1176.7,73.9 L1174.1,71.5 L1171.5,72.3 L1168.9,70.2 L1166.3,73.4 L1163.7,72.5 L1161.1,74.8 L1158.5,72.7 L1155.9,69.2 L1153.3,66.8 L1150.8,63.8 L1148.2,61.7 L1145.6,59.7 L1143,62.7 L1140.4,61.8 L1137.8,63.7 L1135.2,62.2 L1132.6,62.8 L1130,63 L1127.4,65.7 L1124.8,63.5 L1122.2,65.5 L1119.6,66.9 L1117,68.9 L1114.5,74.2 L1111.9,77.6 L1109.3,75.4 L1106.7,78.7 L1104.1,74.9 L1101.5,72.9 L1098.9,73.5 L1096.3,72.5 L1093.7,69.6 L1091.1,71.3 L1088.5,69.8 L1085.9,66.9 L1083.3,68.5 L1080.8,70.7 L1078.2,68.5 L1075.6,71.4 L1073,70.6 L1070.4,72.5 L1067.8,72 L1065.2,72 L1062.6,74.8 L1060,75.7 L1057.4,81.2 L1054.8,81.7 L1052.2,83.8 L1049.6,84.8 L1047,87.6 L1044.4,86.6 L1041.8,88.5 L1039.2,86.2 L1036.7,87.3 L1034.1,87.9 L1031.5,89.3 L1028.9,89.6 L1026.3,86.6 L1023.7,85.5 L1021.1,85.2 L1018.5,82.4 L1015.9,85.2 L1013.3,84.9 L1010.7,83.5 L1008.1,81.5 L1005.5,79.9 L1003,78.6 L1000.4,75.9 L997.8,77.5 L995.2,79.8 L992.6,82.3 L990,83.2 L987.4,83.1 L984.8,88.7 L982.2,90.2 L979.6,93 L977,91.1 L974.4,94.4 L971.9,91.4 L969.3,88.4 L966.7,87.2 L964.1,90.2 L961.5,81.9 L958.9,86.3 L956.3,87.1 L953.7,87.3 L951.1,85.4 L948.5,85.5 L945.9,87.9 L943.3,89.9 L940.7,84.9 L938.1,86.1 L935.5,84.5 L933,84.6 L930.4,83.5 L927.8,82.9 L925.2,83.6 L922.6,81.5 L920,78.5 L916.8,79.1 L913.7,82.3 L910.5,82.2 L907.9,82.7 L905.4,78.1 L902.8,79.9 L900.3,73.8 L897.7,76.1 L895.1,79.2 L892.5,76 L890,75.1 L887.4,77.3 L884.8,75.4 L882.2,75.8 L879.6,72.2 L877.1,76.9 L874.5,76.2 L871.9,77.7 L869.3,76.3 L866.7,77.7 L864.1,77.5 L861.5,74.8 L859,76.2 L856.4,77.7 L853.8,76.3 L851.2,76.1 L848.6,75.5 L846,74.8 L843.4,81.3 L840.9,81.3 L838.3,82.6 L835.8,80.9 L833.2,85.3 L830.6,87.8 L828.1,87.9 L825.5,89.9 L822.9,93.9 L820.4,94.3 L817.8,95.6 L815.2,94 L812.6,93.9 L810.1,95.4 L807.5,93.8 L804.9,93.9 L802.3,92.8 L799.8,92.1 L797.2,91.1 L794.6,91.4 L792,93.7 L789.5,94.3 L786.9,96.1 L784.3,97 L781.7,96.1 L779.1,97.1 L776.6,98.7 L774,99.2 L771.4,101.5 L768.8,102.8 L766.2,106.6 L763.7,108.4 L761.1,108.2 L758.6,109.4 L756,112.5 L753.4,106.7 L750.8,104.7 L748.2,103.1 L745.6,100.4 L743,92.8 L740.5,102.8 L737.9,107.1 L735.3,109 L732.8,111.5 L730.2,109.4 L727.6,107.5 L725,105.9 L722.5,103 L719.9,103.4 L717.3,98.6 L714.7,98.5 L712.1,100.6 L709.6,98.7 L707,95.8 L704.4,97.5 L701.8,96.3 L699.2,96.5 L696.7,96.5 L694.1,98.7 L691.5,99.1 L688.9,96.4 L686.4,101.3 L683.8,103.9 L681.3,103.2 L678.7,101.7 L676.1,100.6 L673.5,99.8 L670.9,96.9 L668.3,97.3 L665.8,95.4 L663.2,96.2 L660.6,100.1 L658,102.7 L655.5,105.6 L652.9,100.4 L650.3,94 L647.7,96.2 L645.1,95.6 L642.6,96.4 L640,98.2 L636.3,102.2 L633.7,104.7 L631.2,101.2 L628.6,105.2 L626,107.6 L623.4,108.1 L620.9,107.2 L618.3,110.1 L615.7,111.8 L613.1,113.7 L610.5,113.2 L608,111.2 L605.4,114.8 L602.8,116.8 L600.2,114.7 L597.6,113.1 L595.1,112.1 L592.5,113.2 L589.9,113.6 L587.3,117.1 L584.7,121.2 L582.2,127 L579.6,125.1 L577,126.9 L574.4,125.8 L571.9,122.1 L569.3,122.6 L566.8,117.8 L564.2,117.2 L561.6,118.7 L559,121.7 L556.5,124.4 L553.9,123.7 L551.3,125.2 L548.7,126.6 L546.1,127.8 L543.5,126.9 L541,126 L538.4,127.2 L535.8,125.9 L533.2,128.9 L530.6,130.3 L528.1,134.6 L525.5,136.6 L522.9,137.5 L520.4,133.7 L517.8,133.2 L515.2,132.1 L512.6,129.3 L510,127.3 L507.5,128.8 L504.9,127 L502.3,127.6 L499.8,126.4 L497.2,129.7 L494.6,131.1 L492,131.8 L489.5,130 L486.9,131.7 L484.3,133.9 L481.7,133.7 L479.2,132.5 L476.6,137.1 L474,136.2 L471.4,135.9 L468.8,134.6 L466.3,132 L463.7,131.7 L461.1,128.3 L458.5,124.5 L455.9,126.8 L453.4,125.8 L450.8,126.6 L448.2,127.4 L445.6,128.7 L443,129.6 L440.5,131.3 L437.9,134.9 L435.3,133.2 L432.8,130.6 L430.2,131.8 L427.6,132.2 L425,130.8 L422.4,127.1 L419.9,127.7 L417.3,131.5 L414.7,127.2 L412.1,127.7 L409.6,125.7 L407,127.2 L404.4,128.5 L401.9,128.8 L399.3,126.5 L396.7,127.4 L394.1,130.3 L391.5,129.5 L389,130.3 L386.4,133.8 L383.8,139.4 L381.2,132.2 L378.6,126 L375.9,130.4 L373.1,127.3 L370.4,126.7 L367.7,126.9 L365,126.5 L362.2,126.3 L359.5,127.7 L356.9,126.6 L354.3,127.1 L351.8,124.6 L349.2,128.7 L346.6,128.5 L344,126.6 L341.5,129.1 L338.9,131.5 L336.3,130.3 L333.7,129.2 L331.1,133 L328.6,133.1 L326,131.7 L323.4,131.9 L320.8,131.5 L318.2,133 L315.7,139.2 L313.1,137.4 L310.5,132.6 L307.9,133.4 L305.4,134.1 L302.8,138.8 L300.2,141.2 L297.6,136.4 L295.1,143.4 L292.5,139.5 L289.9,139.1 L287.4,138.8 L284.8,142 L282.2,144.7 L279.7,146.6 L277.1,143.2 L274.6,144 L272,146.8 L269.4,144.2 L266.8,149.3 L264.2,147.8 L261.6,150 L259,151 L256.4,149 L253.8,145.8 L251.2,150.8 L248.6,151.1 L246,150.8 L243.4,152.5 L240.9,154.4 L238.3,153.3 L235.8,153.8 L233.2,153.4 L230.6,155.6 L228.1,155.3 L225.5,153.5 L223,156.6 L220.4,158.5 L217.8,157.5 L215.2,157.8 L212.7,160.3 L210.1,158.5 L207.5,165.9 L204.9,160.3 L202.3,161.1 L199.8,161.2 L197.2,165.4 L194.6,161.5 L192,162.9 L189.4,160.7 L186.9,163 L184.3,163.1 L181.7,164 L179.1,159.2 L176.5,163.3 L174,162.6 L171.4,163.7 L168.8,165.3 L166.2,167.4 L163.6,165.5 L161.1,165.3 L158.5,165.2 L155.9,161.4 L153.3,166 L150.7,165.3 L148.2,166.3 L145.6,165.8 L143,168.6 L140.4,167.1 L137.9,168.4 L135.3,170.9 L132.8,169.3 L130.2,172.2 L127.6,175.6 L125.1,174.3 L122.5,176 L119.9,177.7 L117.3,177.3 L114.7,175.8 L112.2,175.3 L109.6,175.6 L107,173.4 L104.4,173 L101.8,173.5 L99.2,173.6 L96.7,176.2 L94.1,177.3 L91.5,181.1 L89,182.3 L86.4,183.6 L83.8,184.3 L81.2,184.1 L78.7,180.3 L76.1,181.5 L73.5,181.9 L71,179.1 L68.4,181.5 L65.8,180.7 L63.2,181.4 L60.6,179 L58,182.2 L55.5,182 L52.9,181.5 L50.3,182.5 Z"/></clipPath>
<g clip-path="url(#cpTop)"><path d="M50.3,176 L53.4,176.5 L56.5,176.7 L59.6,175.7 L62.7,174.7 L65.8,173.9 L69,174.1 L72.2,173.3 L75.4,172.5 L78.7,173 L81.9,173 L85.1,173 L88.3,171.9 L91.5,171.8 L94.7,171.3 L98,169.9 L101.2,170.3 L104.4,169.9 L107.6,170.7 L110.8,169.3 L114.1,168.3 L117.3,168.3 L120.5,167.2 L123.7,166.8 L126.9,165.4 L130.2,164.8 L133.4,164.6 L136.6,163.9 L139.8,162.9 L143,161.3 L146.2,161.4 L149.4,160.9 L152.7,160.8 L155.9,160.2 L159.1,160.2 L162.4,159.2 L165.6,158.7 L168.8,158.5 L172,157 L175.2,156.5 L178.5,155.9 L181.7,156.8 L184.9,155.6 L188.2,155.2 L191.4,154.7 L194.6,153.7 L197.8,152.3 L201.1,153 L204.3,152.2 L207.5,152.3 L210.7,150.8 L213.9,150.5 L217.2,151.2 L220.4,151.3 L223.6,149.4 L226.8,148.3 L230,148.4 L233.2,148.6 L236.4,148 L239.6,147.6 L242.8,146.4 L246,146.6 L249.2,146.5 L252.5,145.1 L255.8,143.6 L259,143 L262.2,143.3 L265.5,141.5 L268.8,141.4 L272,140.4 L275.2,139.1 L278.4,137.5 L281.6,136.1 L284.9,135.4 L288.1,133.4 L291.3,132.2 L294.5,129.8 L297.7,127.6 L300.9,127.7 L304.1,125.7 L307.3,126.4 L310.5,126.6 L313.8,125.7 L317,126.3 L320.2,125.7 L323.4,124.2 L326.5,124.3 L329.6,123.4 L332.8,122.8 L335.9,122.4 L339,122.6 L342.4,122.3 L345.8,122.1 L349.2,122.3 L352.7,121 L356.1,122.4 L359.5,121.5 L362.7,122 L365.9,121.2 L369.1,120.9 L372.3,121.1 L375.5,122.6 L378.7,122.4 L381.9,121.5 L385.1,121.2 L388.3,120.6 L391.5,121 L394.5,120.9 L397.6,121.6 L400.6,120.7 L403.6,120.9 L406.6,120.7 L409.7,120.8 L412.7,121.6 L415.7,121.7 L418.8,122 L421.8,122.5 L424.8,122.7 L427.9,121.2 L430.9,121.8 L433.9,120.7 L436.9,121.3 L440,122.7 L443,122.1 L446.1,121.9 L449.1,122.3 L452.2,122.5 L455.2,122.8 L458.3,122.5 L461.3,123.7 L464.4,124.2 L467.4,123.9 L470.5,124.2 L473.5,124.7 L476.6,125.2 L479.7,124.3 L482.8,123.8 L485.9,122.6 L489,121.2 L492.1,120.7 L495.1,121 L498.2,120.7 L501.3,119.7 L504.4,118.5 L507.5,118.1 L510.7,118.8 L513.9,118.8 L517.1,117.4 L520.3,117.1 L523.5,116 L526.8,115.7 L530,116.2 L533.2,116.2 L536.4,116.6 L539.6,116.8 L542.8,116.5 L546,116.5 L549.2,114.9 L552.5,113.5 L555.8,113.5 L559,114.4 L562.2,113 L565.5,111.2 L568.8,110.9 L572,111.1 L575.2,109.4 L578.4,109.6 L581.6,108.6 L584.9,109 L588.1,108.6 L591.3,107.8 L594.5,108.3 L597.7,106.7 L600.9,105.6 L604.1,106.4 L607.3,104.8 L610.5,105.7 L613.8,104.4 L617,103 L620.2,102.8 L623.4,102.5 L626.6,101.2 L629.9,99.5 L633.1,98.8 L636.3,95.6 L639.5,94.5 L642.8,93.3 L646,93.3 L649.2,90.1 L652.4,89.5 L655.5,88.3 L658.5,88.6 L661.5,89.6 L664.5,90 L667.5,90.8 L670.5,90.1 L673.5,90.4 L676.5,91.1 L679.5,91.4 L682.5,90.8 L685.5,91.6 L688.5,90.8 L691.5,92.2 L694.7,91.7 L698,91.5 L701.2,91.6 L704.4,92 L707.6,92.8 L710.8,92 L714.1,91.6 L717.3,92 L720.5,91.7 L723.7,91.4 L726.9,93 L730.1,93.2 L733.4,94.4 L736.6,93.9 L739.8,92.8 L743,94.5 L746,95.2 L749,96.4 L752,96.4 L755,96.4 L758,96.7 L761,96.4 L764.2,95.8 L767.5,94.3 L770.7,94.4 L774,93.3 L777.2,92.7 L780.4,92.7 L783.7,92.5 L786.9,90.9 L790.3,91.4 L793.8,89.6 L797.2,89.2 L800.6,88.6 L804.1,87.4 L807.5,86.4 L810.7,85.3 L814,83.2 L817.2,80.9 L820.4,77.5 L823.6,76.7 L826.8,77.1 L830,76.2 L833.2,74.6 L836.4,73.7 L839.6,73.1 L842.8,72.9 L846,72.2 L849.2,72.5 L852.5,71.4 L855.7,71.9 L859,71.2 L862.2,70.9 L865.4,71.9 L868.7,71.2 L871.9,70.7 L875.1,70.8 L878.4,70.9 L881.6,72.2 L884.8,72.8 L888,72.8 L891.2,72.6 L894.5,73.3 L897.7,73 L900.9,73.2 L904.1,73.3 L907.3,73.3 L910.5,74.3 L913.8,74.8 L917,74.8 L920.2,73 L923.4,74.6 L926.6,74.7 L929.8,74.1 L933,74.3 L936.3,75.1 L939.5,75.6 L942.7,75.7 L945.9,75.4 L949.1,76 L952.4,77.2 L955.6,77.6 L958.9,77.8 L962.1,78.5 L965.4,79.6 L968.6,80.8 L971.9,82.9 L975.1,80.5 L978.2,80.2 L981.4,79.4 L984.6,78.8 L987.7,78.8 L990.9,78.3 L994.1,76.8 L997.2,75.5 L1000.4,74.1 L1003.8,75.2 L1007.3,76.9 L1010.7,77 L1014.1,78.1 L1017.6,78.9 L1021,79.4 L1024.1,79.2 L1027.3,78.1 L1030.4,76.9 L1033.6,76 L1036.7,76.5 L1039.7,74.4 L1042.7,72.6 L1045.8,71.5 L1048.8,69.1 L1051.8,68.6 L1054.8,66.7 L1058.3,65.2 L1061.7,64.2 L1065.2,64.4 L1068.7,62.8 L1072.1,62.1 L1075.6,61.8 L1078.8,61.9 L1082.1,61.8 L1085.3,62 L1088.5,61.5 L1091.8,61.4 L1095,62.2 L1098.3,62.1 L1101.5,61.3 L1104.7,62.1 L1108,60 L1111.2,60.3 L1114.5,60.6 L1117.7,60.8 L1120.9,60.2 L1124.2,59.5 L1127.4,59.7 L1130.4,59.1 L1133.5,59.1 L1136.5,56.9 L1139.5,57.8 L1142.6,57.3 L1145.6,57.9 L1148.8,60.2 L1152,62.4 L1155.3,63.8 L1158.5,66.2 L1162,65.8 L1165.4,66 L1168.9,65.9 L1172.4,65.4 L1175.8,66.9 L1179.3,66.7 L1182.5,64.5 L1185.8,65.1 L1189,63.7 L1192.2,63.5 L1195.5,62.9 L1198.7,62.4 L1202,62.4 L1205.2,61.8 L1208.4,61.4 L1211.7,62.3 L1214.9,63 L1218.2,64.4 L1221.4,63.8 L1224.6,63.3 L1227.9,63.8 L1231.1,64.8 L1235.5,64.8 L1240,65.9" fill="none" stroke="#3f5cb8" stroke-width="18" filter="url(#blA)"/><path d="M50.3,176 L53.4,176.5 L56.5,176.7 L59.6,175.7 L62.7,174.7 L65.8,173.9 L69,174.1 L72.2,173.3 L75.4,172.5 L78.7,173 L81.9,173 L85.1,173 L88.3,171.9 L91.5,171.8 L94.7,171.3 L98,169.9 L101.2,170.3 L104.4,169.9 L107.6,170.7 L110.8,169.3 L114.1,168.3 L117.3,168.3 L120.5,167.2 L123.7,166.8 L126.9,165.4 L130.2,164.8 L133.4,164.6 L136.6,163.9 L139.8,162.9 L143,161.3 L146.2,161.4 L149.4,160.9 L152.7,160.8 L155.9,160.2 L159.1,160.2 L162.4,159.2 L165.6,158.7 L168.8,158.5 L172,157 L175.2,156.5 L178.5,155.9 L181.7,156.8 L184.9,155.6 L188.2,155.2 L191.4,154.7 L194.6,153.7 L197.8,152.3 L201.1,153 L204.3,152.2 L207.5,152.3 L210.7,150.8 L213.9,150.5 L217.2,151.2 L220.4,151.3 L223.6,149.4 L226.8,148.3 L230,148.4 L233.2,148.6 L236.4,148 L239.6,147.6 L242.8,146.4 L246,146.6 L249.2,146.5 L252.5,145.1 L255.8,143.6 L259,143 L262.2,143.3 L265.5,141.5 L268.8,141.4 L272,140.4 L275.2,139.1 L278.4,137.5 L281.6,136.1 L284.9,135.4 L288.1,133.4 L291.3,132.2 L294.5,129.8 L297.7,127.6 L300.9,127.7 L304.1,125.7 L307.3,126.4 L310.5,126.6 L313.8,125.7 L317,126.3 L320.2,125.7 L323.4,124.2 L326.5,124.3 L329.6,123.4 L332.8,122.8 L335.9,122.4 L339,122.6 L342.4,122.3 L345.8,122.1 L349.2,122.3 L352.7,121 L356.1,122.4 L359.5,121.5 L362.7,122 L365.9,121.2 L369.1,120.9 L372.3,121.1 L375.5,122.6 L378.7,122.4 L381.9,121.5 L385.1,121.2 L388.3,120.6 L391.5,121 L394.5,120.9 L397.6,121.6 L400.6,120.7 L403.6,120.9 L406.6,120.7 L409.7,120.8 L412.7,121.6 L415.7,121.7 L418.8,122 L421.8,122.5 L424.8,122.7 L427.9,121.2 L430.9,121.8 L433.9,120.7 L436.9,121.3 L440,122.7 L443,122.1 L446.1,121.9 L449.1,122.3 L452.2,122.5 L455.2,122.8 L458.3,122.5 L461.3,123.7 L464.4,124.2 L467.4,123.9 L470.5,124.2 L473.5,124.7 L476.6,125.2 L479.7,124.3 L482.8,123.8 L485.9,122.6 L489,121.2 L492.1,120.7 L495.1,121 L498.2,120.7 L501.3,119.7 L504.4,118.5 L507.5,118.1 L510.7,118.8 L513.9,118.8 L517.1,117.4 L520.3,117.1 L523.5,116 L526.8,115.7 L530,116.2 L533.2,116.2 L536.4,116.6 L539.6,116.8 L542.8,116.5 L546,116.5 L549.2,114.9 L552.5,113.5 L555.8,113.5 L559,114.4 L562.2,113 L565.5,111.2 L568.8,110.9 L572,111.1 L575.2,109.4 L578.4,109.6 L581.6,108.6 L584.9,109 L588.1,108.6 L591.3,107.8 L594.5,108.3 L597.7,106.7 L600.9,105.6 L604.1,106.4 L607.3,104.8 L610.5,105.7 L613.8,104.4 L617,103 L620.2,102.8 L623.4,102.5 L626.6,101.2 L629.9,99.5 L633.1,98.8 L636.3,95.6 L639.5,94.5 L642.8,93.3 L646,93.3 L649.2,90.1 L652.4,89.5 L655.5,88.3 L658.5,88.6 L661.5,89.6 L664.5,90 L667.5,90.8 L670.5,90.1 L673.5,90.4 L676.5,91.1 L679.5,91.4 L682.5,90.8 L685.5,91.6 L688.5,90.8 L691.5,92.2 L694.7,91.7 L698,91.5 L701.2,91.6 L704.4,92 L707.6,92.8 L710.8,92 L714.1,91.6 L717.3,92 L720.5,91.7 L723.7,91.4 L726.9,93 L730.1,93.2 L733.4,94.4 L736.6,93.9 L739.8,92.8 L743,94.5 L746,95.2 L749,96.4 L752,96.4 L755,96.4 L758,96.7 L761,96.4 L764.2,95.8 L767.5,94.3 L770.7,94.4 L774,93.3 L777.2,92.7 L780.4,92.7 L783.7,92.5 L786.9,90.9 L790.3,91.4 L793.8,89.6 L797.2,89.2 L800.6,88.6 L804.1,87.4 L807.5,86.4 L810.7,85.3 L814,83.2 L817.2,80.9 L820.4,77.5 L823.6,76.7 L826.8,77.1 L830,76.2 L833.2,74.6 L836.4,73.7 L839.6,73.1 L842.8,72.9 L846,72.2 L849.2,72.5 L852.5,71.4 L855.7,71.9 L859,71.2 L862.2,70.9 L865.4,71.9 L868.7,71.2 L871.9,70.7 L875.1,70.8 L878.4,70.9 L881.6,72.2 L884.8,72.8 L888,72.8 L891.2,72.6 L894.5,73.3 L897.7,73 L900.9,73.2 L904.1,73.3 L907.3,73.3 L910.5,74.3 L913.8,74.8 L917,74.8 L920.2,73 L923.4,74.6 L926.6,74.7 L929.8,74.1 L933,74.3 L936.3,75.1 L939.5,75.6 L942.7,75.7 L945.9,75.4 L949.1,76 L952.4,77.2 L955.6,77.6 L958.9,77.8 L962.1,78.5 L965.4,79.6 L968.6,80.8 L971.9,82.9 L975.1,80.5 L978.2,80.2 L981.4,79.4 L984.6,78.8 L987.7,78.8 L990.9,78.3 L994.1,76.8 L997.2,75.5 L1000.4,74.1 L1003.8,75.2 L1007.3,76.9 L1010.7,77 L1014.1,78.1 L1017.6,78.9 L1021,79.4 L1024.1,79.2 L1027.3,78.1 L1030.4,76.9 L1033.6,76 L1036.7,76.5 L1039.7,74.4 L1042.7,72.6 L1045.8,71.5 L1048.8,69.1 L1051.8,68.6 L1054.8,66.7 L1058.3,65.2 L1061.7,64.2 L1065.2,64.4 L1068.7,62.8 L1072.1,62.1 L1075.6,61.8 L1078.8,61.9 L1082.1,61.8 L1085.3,62 L1088.5,61.5 L1091.8,61.4 L1095,62.2 L1098.3,62.1 L1101.5,61.3 L1104.7,62.1 L1108,60 L1111.2,60.3 L1114.5,60.6 L1117.7,60.8 L1120.9,60.2 L1124.2,59.5 L1127.4,59.7 L1130.4,59.1 L1133.5,59.1 L1136.5,56.9 L1139.5,57.8 L1142.6,57.3 L1145.6,57.9 L1148.8,60.2 L1152,62.4 L1155.3,63.8 L1158.5,66.2 L1162,65.8 L1165.4,66 L1168.9,65.9 L1172.4,65.4 L1175.8,66.9 L1179.3,66.7 L1182.5,64.5 L1185.8,65.1 L1189,63.7 L1192.2,63.5 L1195.5,62.9 L1198.7,62.4 L1202,62.4 L1205.2,61.8 L1208.4,61.4 L1211.7,62.3 L1214.9,63 L1218.2,64.4 L1221.4,63.8 L1224.6,63.3 L1227.9,63.8 L1231.1,64.8 L1235.5,64.8 L1240,65.9" fill="none" stroke="#2a47a3" stroke-width="5"/></g>
<path d="M50.3,182.5 L52.9,181.5 L55.5,182 L58,182.2 L60.6,179 L63.2,181.4 L65.8,180.7 L68.4,181.5 L71,179.1 L73.5,181.9 L76.1,181.5 L78.7,180.3 L81.2,184.1 L83.8,184.3 L86.4,183.6 L89,182.3 L91.5,181.1 L94.1,177.3 L96.7,176.2 L99.2,173.6 L101.8,173.5 L104.4,173 L107,173.4 L109.6,175.6 L112.2,175.3 L114.7,175.8 L117.3,177.3 L119.9,177.7 L122.5,176 L125.1,174.3 L127.6,175.6 L130.2,172.2 L132.8,169.3 L135.3,170.9 L137.9,168.4 L140.4,167.1 L143,168.6 L145.6,165.8 L148.2,166.3 L150.7,165.3 L153.3,166 L155.9,161.4 L158.5,165.2 L161.1,165.3 L163.6,165.5 L166.2,167.4 L168.8,165.3 L171.4,163.7 L174,162.6 L176.5,163.3 L179.1,159.2 L181.7,164 L184.3,163.1 L186.9,163 L189.4,160.7 L192,162.9 L194.6,161.5 L197.2,165.4 L199.8,161.2 L202.3,161.1 L204.9,160.3 L207.5,165.9 L210.1,158.5 L212.7,160.3 L215.2,157.8 L217.8,157.5 L220.4,158.5 L223,156.6 L225.5,153.5 L228.1,155.3 L230.6,155.6 L233.2,153.4 L235.8,153.8 L238.3,153.3 L240.9,154.4 L243.4,152.5 L246,150.8 L248.6,151.1 L251.2,150.8 L253.8,145.8 L256.4,149 L259,151 L261.6,150 L264.2,147.8 L266.8,149.3 L269.4,144.2 L272,146.8 L274.6,144 L277.1,143.2 L279.7,146.6 L282.2,144.7 L284.8,142 L287.4,138.8 L289.9,139.1 L292.5,139.5 L295.1,143.4 L297.6,136.4 L300.2,141.2 L302.8,138.8 L305.4,134.1 L307.9,133.4 L310.5,132.6 L313.1,137.4 L315.7,139.2 L318.2,133 L320.8,131.5 L323.4,131.9 L326,131.7 L328.6,133.1 L331.1,133 L333.7,129.2 L336.3,130.3 L338.9,131.5 L341.5,129.1 L344,126.6 L346.6,128.5 L349.2,128.7 L351.8,124.6 L354.3,127.1 L356.9,126.6 L359.5,127.7 L362.2,126.3 L365,126.5 L367.7,126.9 L370.4,126.7 L373.1,127.3 L375.9,130.4 L378.6,126 L381.2,132.2 L383.8,139.4 L386.4,133.8 L389,130.3 L391.5,129.5 L394.1,130.3 L396.7,127.4 L399.3,126.5 L401.9,128.8 L404.4,128.5 L407,127.2 L409.6,125.7 L412.1,127.7 L414.7,127.2 L417.3,131.5 L419.9,127.7 L422.4,127.1 L425,130.8 L427.6,132.2 L430.2,131.8 L432.8,130.6 L435.3,133.2 L437.9,134.9 L440.5,131.3 L443,129.6 L445.6,128.7 L448.2,127.4 L450.8,126.6 L453.4,125.8 L455.9,126.8 L458.5,124.5 L461.1,128.3 L463.7,131.7 L466.3,132 L468.8,134.6 L471.4,135.9 L474,136.2 L476.6,137.1 L479.2,132.5 L481.7,133.7 L484.3,133.9 L486.9,131.7 L489.5,130 L492,131.8 L494.6,131.1 L497.2,129.7 L499.8,126.4 L502.3,127.6 L504.9,127 L507.5,128.8 L510,127.3 L512.6,129.3 L515.2,132.1 L517.8,133.2 L520.4,133.7 L522.9,137.5 L525.5,136.6 L528.1,134.6 L530.6,130.3 L533.2,128.9 L535.8,125.9 L538.4,127.2 L541,126 L543.5,126.9 L546.1,127.8 L548.7,126.6 L551.3,125.2 L553.9,123.7 L556.5,124.4 L559,121.7 L561.6,118.7 L564.2,117.2 L566.8,117.8 L569.3,122.6 L571.9,122.1 L574.4,125.8 L577,126.9 L579.6,125.1 L582.2,127 L584.7,121.2 L587.3,117.1 L589.9,113.6 L592.5,113.2 L595.1,112.1 L597.6,113.1 L600.2,114.7 L602.8,116.8 L605.4,114.8 L608,111.2 L610.5,113.2 L613.1,113.7 L615.7,111.8 L618.3,110.1 L620.9,107.2 L623.4,108.1 L626,107.6 L628.6,105.2 L631.2,101.2 L633.7,104.7 L636.3,102.2 L640,98.2 L642.6,96.4 L645.1,95.6 L647.7,96.2 L650.3,94 L652.9,100.4 L655.5,105.6 L658,102.7 L660.6,100.1 L663.2,96.2 L665.8,95.4 L668.3,97.3 L670.9,96.9 L673.5,99.8 L676.1,100.6 L678.7,101.7 L681.3,103.2 L683.8,103.9 L686.4,101.3 L688.9,96.4 L691.5,99.1 L694.1,98.7 L696.7,96.5 L699.2,96.5 L701.8,96.3 L704.4,97.5 L707,95.8 L709.6,98.7 L712.1,100.6 L714.7,98.5 L717.3,98.6 L719.9,103.4 L722.5,103 L725,105.9 L727.6,107.5 L730.2,109.4 L732.8,111.5 L735.3,109 L737.9,107.1 L740.5,102.8 L743,92.8 L745.6,100.4 L748.2,103.1 L750.8,104.7 L753.4,106.7 L756,112.5 L758.6,109.4 L761.1,108.2 L763.7,108.4 L766.2,106.6 L768.8,102.8 L771.4,101.5 L774,99.2 L776.6,98.7 L779.1,97.1 L781.7,96.1 L784.3,97 L786.9,96.1 L789.5,94.3 L792,93.7 L794.6,91.4 L797.2,91.1 L799.8,92.1 L802.3,92.8 L804.9,93.9 L807.5,93.8 L810.1,95.4 L812.6,93.9 L815.2,94 L817.8,95.6 L820.4,94.3 L822.9,93.9 L825.5,89.9 L828.1,87.9 L830.6,87.8 L833.2,85.3 L835.8,80.9 L838.3,82.6 L840.9,81.3 L843.4,81.3 L846,74.8 L848.6,75.5 L851.2,76.1 L853.8,76.3 L856.4,77.7 L859,76.2 L861.5,74.8 L864.1,77.5 L866.7,77.7 L869.3,76.3 L871.9,77.7 L874.5,76.2 L877.1,76.9 L879.6,72.2 L882.2,75.8 L884.8,75.4 L887.4,77.3 L890,75.1 L892.5,76 L895.1,79.2 L897.7,76.1 L900.3,73.8 L902.8,79.9 L905.4,78.1 L907.9,82.7 L910.5,82.2 L913.7,82.3 L916.8,79.1 L920,78.5 L922.6,81.5 L925.2,83.6 L927.8,82.9 L930.4,83.5 L933,84.6 L935.5,84.5 L938.1,86.1 L940.7,84.9 L943.3,89.9 L945.9,87.9 L948.5,85.5 L951.1,85.4 L953.7,87.3 L956.3,87.1 L958.9,86.3 L961.5,81.9 L964.1,90.2 L966.7,87.2 L969.3,88.4 L971.9,91.4 L974.4,94.4 L977,91.1 L979.6,93 L982.2,90.2 L984.8,88.7 L987.4,83.1 L990,83.2 L992.6,82.3 L995.2,79.8 L997.8,77.5 L1000.4,75.9 L1003,78.6 L1005.5,79.9 L1008.1,81.5 L1010.7,83.5 L1013.3,84.9 L1015.9,85.2 L1018.5,82.4 L1021.1,85.2 L1023.7,85.5 L1026.3,86.6 L1028.9,89.6 L1031.5,89.3 L1034.1,87.9 L1036.7,87.3 L1039.2,86.2 L1041.8,88.5 L1044.4,86.6 L1047,87.6 L1049.6,84.8 L1052.2,83.8 L1054.8,81.7 L1057.4,81.2 L1060,75.7 L1062.6,74.8 L1065.2,72 L1067.8,72 L1070.4,72.5 L1073,70.6 L1075.6,71.4 L1078.2,68.5 L1080.8,70.7 L1083.3,68.5 L1085.9,66.9 L1088.5,69.8 L1091.1,71.3 L1093.7,69.6 L1096.3,72.5 L1098.9,73.5 L1101.5,72.9 L1104.1,74.9 L1106.7,78.7 L1109.3,75.4 L1111.9,77.6 L1114.5,74.2 L1117,68.9 L1119.6,66.9 L1122.2,65.5 L1124.8,63.5 L1127.4,65.7 L1130,63 L1132.6,62.8 L1135.2,62.2 L1137.8,63.7 L1140.4,61.8 L1143,62.7 L1145.6,59.7 L1148.2,61.7 L1150.8,63.8 L1153.3,66.8 L1155.9,69.2 L1158.5,72.7 L1161.1,74.8 L1163.7,72.5 L1166.3,73.4 L1168.9,70.2 L1171.5,72.3 L1174.1,71.5 L1176.7,73.9 L1179.3,77.7 L1181.9,75.6 L1184.5,75.9 L1187.1,74.7 L1189.7,67.4 L1192.2,69.2 L1194.8,69.7 L1197.4,69.6 L1200,72.6 L1202.6,73.3 L1205.2,72.3 L1207.8,72.3 L1210.4,68.7 L1213,71.1 L1215.6,69.8 L1218.2,66.9 L1220.8,67.8 L1223.4,70.2 L1226,72.1 L1228.8,71.4 L1231.6,71.5 L1234.4,72.7 L1237.2,70.6 L1240,69.8 L1240,117.8 L1237.8,118.2 L1235.5,116.4 L1233.3,116 L1231.1,113.8 L1228.9,115.6 L1226.7,113.4 L1224.5,110.6 L1222.2,111.3 L1220,107.1 L1217.8,107.1 L1215.6,105.7 L1213,106.2 L1210.4,109.4 L1207.8,107.8 L1205.2,109.7 L1202.8,105.8 L1200.5,108 L1198.1,112.8 L1195.8,113.5 L1193.4,111.1 L1191.1,111.9 L1188.7,112.9 L1186.4,112.3 L1184,111.1 L1181.7,110.5 L1179.3,116.9 L1177.1,111.2 L1174.8,114.2 L1172.6,122.2 L1170.4,118.5 L1168.2,116.1 L1165.9,114.6 L1163.7,112.8 L1161.4,111.2 L1159.2,112.6 L1156.9,108.7 L1154.7,110.1 L1152.4,105.5 L1150.1,106.1 L1147.9,104.3 L1145.6,101.4 L1143.3,105.4 L1141,104.6 L1138.8,107.8 L1136.5,105.2 L1134.2,105.1 L1132,101 L1129.7,105.6 L1127.4,109 L1125.2,108.3 L1123,110.5 L1120.8,108.7 L1118.5,117.8 L1116.3,113.7 L1114.1,114 L1111.9,115.3 L1109.7,118.1 L1107.4,111.8 L1105.2,111.7 L1103,108.4 L1100.8,108 L1098.5,107.3 L1096.3,107.6 L1093.9,107.6 L1091.6,106.1 L1089.2,107.4 L1086.9,104.9 L1084.5,105.6 L1082.2,109.3 L1079.8,109.3 L1077.5,109.1 L1075.1,113.2 L1072.8,112.6 L1070.4,115 L1068.1,113.9 L1065.8,115.3 L1063.5,117.7 L1061.2,119.8 L1058.8,116.3 L1056.5,118.1 L1054.2,118.1 L1051.9,121.7 L1049.6,118.9 L1047.3,118.7 L1045,122.2 L1042.7,123.4 L1040.4,126.7 L1038.1,129 L1035.8,129.1 L1033.5,132.4 L1031.2,133 L1028.9,137.5 L1026.6,129.3 L1024.3,126.2 L1022.1,122 L1019.8,121.3 L1017.4,119.6 L1014.9,117 L1012.5,110.6 L1010.1,112.4 L1007.7,112.2 L1005.2,110.8 L1002.8,109.6 L1000.4,103.6 L998,110.5 L995.6,111.3 L993.2,119.4 L990.7,116.7 L988.3,115.7 L985.9,115.9 L983.5,117.9 L981.2,123.4 L979,123.5 L976.7,125.7 L974.4,124.9 L971.8,130.8 L969.2,136.1 L966.7,137.1 L964.1,138.7 L961.8,134.8 L959.5,133.5 L957.3,131.3 L955,123.8 L952.7,129.3 L950.5,130 L948.2,122.2 L945.9,121 L943.7,119.5 L941.5,121.9 L939.3,119.8 L937,117.6 L934.8,117.3 L932.6,118 L930.4,115.8 L928,119.3 L925.5,120.9 L923,118.5 L920.6,121.3 L918.2,124.3 L915.7,124 L913.5,121 L911.2,118.4 L909,123 L906.7,122 L904.5,122.7 L902.2,126.1 L900,123.2 L897.7,122.7 L895.4,122.7 L893,123.6 L890.7,117.9 L888.3,120.1 L886,118.8 L883.6,121.1 L881.3,119.2 L878.9,117.8 L876.6,116.3 L874.2,110.1 L871.9,112.2 L869.3,112.5 L866.7,113.8 L864.2,115 L861.6,111.1 L859,114.6 L856.4,115.4 L853.8,113.2 L851.3,116.2 L848.7,118.1 L846.1,113.4 L843.8,116.9 L841.5,115.2 L839.2,120.9 L836.9,118.4 L834.7,117.4 L832.4,117.4 L830.1,119.3 L827.8,119.3 L825.5,121 L822.9,122.9 L820.4,132 L817.8,134.4 L815.2,132.9 L812.7,135.9 L810.1,130.5 L807.9,132.4 L805.7,133.1 L803.5,136 L801.2,137.2 L799,136.1 L796.8,139.1 L794.6,139 L792,140.8 L789.4,143.7 L786.9,139.3 L784.3,130.8 L781.7,133.3 L779.1,132.4 L776.5,133.8 L774,138 L771.4,137.1 L768.8,142.3 L766.5,138.3 L764.2,137.1 L761.9,138.3 L759.6,137.7 L757.4,139 L755.1,141.4 L752.8,138.1 L750.5,137.4 L748.2,141.4 L745.6,141.1 L743,142.6 L740.5,143.4 L737.9,145.6 L735.3,140.6 L733,146.8 L730.8,145.1 L728.5,140.5 L726.3,140.2 L724,141.4 L721.8,140.9 L719.5,135.5 L717.3,136.2 L715,137.7 L712.6,137.5 L710.3,135 L707.9,135.4 L705.6,135.8 L703.2,137.5 L700.9,134.4 L698.5,134.8 L696.2,137.5 L693.8,135.1 L691.5,134 L688.9,136.2 L686.4,135.1 L683.8,139.4 L681.3,140 L678.7,146 L676.1,143.9 L673.5,144.5 L671,139.8 L668.4,142.4 L665.8,141.4 L663.5,138.3 L661.3,141.7 L659,140.5 L656.8,138.9 L654.5,137.9 L652.2,135.4 L650,133.7 L647.7,128.2 L645.4,133.5 L643.1,135.2 L640.9,135.9 L638.6,140.6 L636.3,145.2 L634.1,149.4 L631.9,150.1 L629.7,152.4 L627.4,155.2 L625.2,157.4 L623,160.7 L620.8,158.8 L618.2,159.4 L615.7,158.6 L613.1,154.1 L610.6,153.4 L608,148.3 L605.7,150.1 L603.4,148.1 L601,153.9 L598.7,147.8 L596.4,152.1 L594.1,157.2 L591.8,158.9 L589.4,157.6 L587.1,157.6 L584.8,156.1 L582.5,157.8 L580.3,160.7 L578,158.2 L575.8,158.8 L573.5,155.1 L571.2,157.2 L569,155 L566.7,155 L564.4,155.6 L562.1,158.4 L559.8,149.7 L557.5,159.7 L555.3,160.2 L553,159.7 L550.7,155.9 L548.4,158.4 L546.1,157.6 L543.5,163.4 L541,169.2 L538.4,173 L536.1,172.6 L533.9,170.5 L531.6,170.7 L529.4,168.7 L527.1,166.4 L524.9,170.1 L522.6,168.7 L520.4,171.3 L518.1,173.5 L515.9,165.2 L513.6,164.1 L511.4,162.5 L509.1,163 L506.8,164 L504.6,162.8 L502.3,160.4 L499.7,170.2 L497.2,166.7 L494.6,167.7 L492.3,170.7 L490,169.7 L487.7,171.1 L485.4,171.9 L483.2,170.9 L480.9,171 L478.6,172.6 L476.3,172.7 L474,177.9 L471.4,166.5 L468.8,162.2 L466.6,162 L464.4,160.8 L462.2,162.1 L460,160.3 L457.8,158.5 L455.6,160.9 L453.4,161.9 L451.1,163.2 L448.9,164.8 L446.7,163.3 L444.5,170.5 L442.3,162.7 L440.1,160.9 L437.9,159.8 L435.3,163.7 L432.7,165.6 L430.2,165.5 L427.6,166 L425,168.8 L422.4,164.7 L419.9,164.8 L417.3,160.6 L414.7,163 L412.1,166.6 L409.6,162.9 L407,162.3 L404.4,160.6 L402.1,159.3 L399.7,170.8 L397.4,164.6 L395,166.5 L392.7,165.6 L390.3,164.2 L388,163.4 L385.6,163.9 L383.3,167.3 L380.9,165.7 L378.6,169 L376.3,169.5 L374,176 L371.7,171.7 L369.4,171 L367.2,172 L364.9,168 L362.6,172.7 L360.3,166.3 L358,172.4 L355.4,169 L352.9,166.1 L350.3,166.8 L347.7,161.1 L345.1,167.7 L342.6,167.8 L340,167.6 L337.6,162.4 L335.2,170.9 L332.8,171.6 L330.4,176 L327.9,171.2 L325.5,170.3 L323.1,171.6 L320.7,171.3 L318.3,171.6 L316,170.8 L313.7,170.6 L311.4,172.5 L309.1,171.4 L306.9,167.5 L304.6,170.2 L302.3,170.2 L300,173.3 L297.7,165.9 L295.4,170.5 L293,165.4 L290.7,175.7 L288.4,176.9 L286,175.5 L283.7,172.4 L281.3,177.6 L279,178.9 L276.7,178.3 L274.3,178 L272,181 L269.6,180.3 L267.3,183.3 L264.9,183.1 L262.5,180.8 L260.2,178.3 L257.8,185.8 L255.5,185.1 L253.1,187.1 L250.7,185.4 L248.4,186.2 L246,184.5 L243.7,184.3 L241.3,186.4 L239,193.5 L236.7,192 L234.4,188.9 L232,186 L229.7,185 L227.4,189.2 L225.1,189.3 L222.7,186.4 L220.4,186.3 L218.2,190.5 L216,188.1 L213.8,191 L211.5,195 L209.3,197.1 L207.1,198.6 L204.9,199.1 L202.6,197.7 L200.3,197.5 L197.9,198.1 L195.6,193.2 L193.3,199.6 L191,198.7 L188.7,199.2 L186.3,200.7 L184,202.1 L181.7,197.1 L179.1,200 L176.6,202.7 L174,204.4 L171.4,202.2 L168.9,206.4 L166.3,203 L164,203.6 L161.6,201.9 L159.3,202.7 L157,205 L154.7,204.2 L152.3,206.8 L150,210.3 L147.7,207.9 L145.3,208.2 L143,208.8 L140.7,210 L138.3,210.3 L136,207.1 L133.7,211.4 L131.3,216.9 L129,212.5 L126.6,212.9 L124.3,210.7 L122,216.1 L119.6,215.9 L117.3,214.2 L115,213.5 L112.7,216.3 L110.3,213.3 L108,214.6 L105.7,211.7 L103.4,214.2 L101.1,212.6 L98.7,210.8 L96.4,211.8 L94.1,209.5 L91.9,212.7 L89.7,213.2 L87.5,212.3 L85.2,214.9 L83,214.5 L80.8,218.5 L78.6,218.6 L76.3,220.9 L74.1,215 L71.8,217.8 L69.6,220.8 L67.3,222.3 L65.1,224.2 L62.9,226.5 L60.6,225.7 L58,227.8 L55.5,224.8 L52.9,221.5 L50.3,219.8 Z" fill="#f0c2c0" filter="url(#redtex)"/>
<clipPath id="cpMid"><path d="M50.3,182.5 L52.9,181.5 L55.5,182 L58,182.2 L60.6,179 L63.2,181.4 L65.8,180.7 L68.4,181.5 L71,179.1 L73.5,181.9 L76.1,181.5 L78.7,180.3 L81.2,184.1 L83.8,184.3 L86.4,183.6 L89,182.3 L91.5,181.1 L94.1,177.3 L96.7,176.2 L99.2,173.6 L101.8,173.5 L104.4,173 L107,173.4 L109.6,175.6 L112.2,175.3 L114.7,175.8 L117.3,177.3 L119.9,177.7 L122.5,176 L125.1,174.3 L127.6,175.6 L130.2,172.2 L132.8,169.3 L135.3,170.9 L137.9,168.4 L140.4,167.1 L143,168.6 L145.6,165.8 L148.2,166.3 L150.7,165.3 L153.3,166 L155.9,161.4 L158.5,165.2 L161.1,165.3 L163.6,165.5 L166.2,167.4 L168.8,165.3 L171.4,163.7 L174,162.6 L176.5,163.3 L179.1,159.2 L181.7,164 L184.3,163.1 L186.9,163 L189.4,160.7 L192,162.9 L194.6,161.5 L197.2,165.4 L199.8,161.2 L202.3,161.1 L204.9,160.3 L207.5,165.9 L210.1,158.5 L212.7,160.3 L215.2,157.8 L217.8,157.5 L220.4,158.5 L223,156.6 L225.5,153.5 L228.1,155.3 L230.6,155.6 L233.2,153.4 L235.8,153.8 L238.3,153.3 L240.9,154.4 L243.4,152.5 L246,150.8 L248.6,151.1 L251.2,150.8 L253.8,145.8 L256.4,149 L259,151 L261.6,150 L264.2,147.8 L266.8,149.3 L269.4,144.2 L272,146.8 L274.6,144 L277.1,143.2 L279.7,146.6 L282.2,144.7 L284.8,142 L287.4,138.8 L289.9,139.1 L292.5,139.5 L295.1,143.4 L297.6,136.4 L300.2,141.2 L302.8,138.8 L305.4,134.1 L307.9,133.4 L310.5,132.6 L313.1,137.4 L315.7,139.2 L318.2,133 L320.8,131.5 L323.4,131.9 L326,131.7 L328.6,133.1 L331.1,133 L333.7,129.2 L336.3,130.3 L338.9,131.5 L341.5,129.1 L344,126.6 L346.6,128.5 L349.2,128.7 L351.8,124.6 L354.3,127.1 L356.9,126.6 L359.5,127.7 L362.2,126.3 L365,126.5 L367.7,126.9 L370.4,126.7 L373.1,127.3 L375.9,130.4 L378.6,126 L381.2,132.2 L383.8,139.4 L386.4,133.8 L389,130.3 L391.5,129.5 L394.1,130.3 L396.7,127.4 L399.3,126.5 L401.9,128.8 L404.4,128.5 L407,127.2 L409.6,125.7 L412.1,127.7 L414.7,127.2 L417.3,131.5 L419.9,127.7 L422.4,127.1 L425,130.8 L427.6,132.2 L430.2,131.8 L432.8,130.6 L435.3,133.2 L437.9,134.9 L440.5,131.3 L443,129.6 L445.6,128.7 L448.2,127.4 L450.8,126.6 L453.4,125.8 L455.9,126.8 L458.5,124.5 L461.1,128.3 L463.7,131.7 L466.3,132 L468.8,134.6 L471.4,135.9 L474,136.2 L476.6,137.1 L479.2,132.5 L481.7,133.7 L484.3,133.9 L486.9,131.7 L489.5,130 L492,131.8 L494.6,131.1 L497.2,129.7 L499.8,126.4 L502.3,127.6 L504.9,127 L507.5,128.8 L510,127.3 L512.6,129.3 L515.2,132.1 L517.8,133.2 L520.4,133.7 L522.9,137.5 L525.5,136.6 L528.1,134.6 L530.6,130.3 L533.2,128.9 L535.8,125.9 L538.4,127.2 L541,126 L543.5,126.9 L546.1,127.8 L548.7,126.6 L551.3,125.2 L553.9,123.7 L556.5,124.4 L559,121.7 L561.6,118.7 L564.2,117.2 L566.8,117.8 L569.3,122.6 L571.9,122.1 L574.4,125.8 L577,126.9 L579.6,125.1 L582.2,127 L584.7,121.2 L587.3,117.1 L589.9,113.6 L592.5,113.2 L595.1,112.1 L597.6,113.1 L600.2,114.7 L602.8,116.8 L605.4,114.8 L608,111.2 L610.5,113.2 L613.1,113.7 L615.7,111.8 L618.3,110.1 L620.9,107.2 L623.4,108.1 L626,107.6 L628.6,105.2 L631.2,101.2 L633.7,104.7 L636.3,102.2 L640,98.2 L642.6,96.4 L645.1,95.6 L647.7,96.2 L650.3,94 L652.9,100.4 L655.5,105.6 L658,102.7 L660.6,100.1 L663.2,96.2 L665.8,95.4 L668.3,97.3 L670.9,96.9 L673.5,99.8 L676.1,100.6 L678.7,101.7 L681.3,103.2 L683.8,103.9 L686.4,101.3 L688.9,96.4 L691.5,99.1 L694.1,98.7 L696.7,96.5 L699.2,96.5 L701.8,96.3 L704.4,97.5 L707,95.8 L709.6,98.7 L712.1,100.6 L714.7,98.5 L717.3,98.6 L719.9,103.4 L722.5,103 L725,105.9 L727.6,107.5 L730.2,109.4 L732.8,111.5 L735.3,109 L737.9,107.1 L740.5,102.8 L743,92.8 L745.6,100.4 L748.2,103.1 L750.8,104.7 L753.4,106.7 L756,112.5 L758.6,109.4 L761.1,108.2 L763.7,108.4 L766.2,106.6 L768.8,102.8 L771.4,101.5 L774,99.2 L776.6,98.7 L779.1,97.1 L781.7,96.1 L784.3,97 L786.9,96.1 L789.5,94.3 L792,93.7 L794.6,91.4 L797.2,91.1 L799.8,92.1 L802.3,92.8 L804.9,93.9 L807.5,93.8 L810.1,95.4 L812.6,93.9 L815.2,94 L817.8,95.6 L820.4,94.3 L822.9,93.9 L825.5,89.9 L828.1,87.9 L830.6,87.8 L833.2,85.3 L835.8,80.9 L838.3,82.6 L840.9,81.3 L843.4,81.3 L846,74.8 L848.6,75.5 L851.2,76.1 L853.8,76.3 L856.4,77.7 L859,76.2 L861.5,74.8 L864.1,77.5 L866.7,77.7 L869.3,76.3 L871.9,77.7 L874.5,76.2 L877.1,76.9 L879.6,72.2 L882.2,75.8 L884.8,75.4 L887.4,77.3 L890,75.1 L892.5,76 L895.1,79.2 L897.7,76.1 L900.3,73.8 L902.8,79.9 L905.4,78.1 L907.9,82.7 L910.5,82.2 L913.7,82.3 L916.8,79.1 L920,78.5 L922.6,81.5 L925.2,83.6 L927.8,82.9 L930.4,83.5 L933,84.6 L935.5,84.5 L938.1,86.1 L940.7,84.9 L943.3,89.9 L945.9,87.9 L948.5,85.5 L951.1,85.4 L953.7,87.3 L956.3,87.1 L958.9,86.3 L961.5,81.9 L964.1,90.2 L966.7,87.2 L969.3,88.4 L971.9,91.4 L974.4,94.4 L977,91.1 L979.6,93 L982.2,90.2 L984.8,88.7 L987.4,83.1 L990,83.2 L992.6,82.3 L995.2,79.8 L997.8,77.5 L1000.4,75.9 L1003,78.6 L1005.5,79.9 L1008.1,81.5 L1010.7,83.5 L1013.3,84.9 L1015.9,85.2 L1018.5,82.4 L1021.1,85.2 L1023.7,85.5 L1026.3,86.6 L1028.9,89.6 L1031.5,89.3 L1034.1,87.9 L1036.7,87.3 L1039.2,86.2 L1041.8,88.5 L1044.4,86.6 L1047,87.6 L1049.6,84.8 L1052.2,83.8 L1054.8,81.7 L1057.4,81.2 L1060,75.7 L1062.6,74.8 L1065.2,72 L1067.8,72 L1070.4,72.5 L1073,70.6 L1075.6,71.4 L1078.2,68.5 L1080.8,70.7 L1083.3,68.5 L1085.9,66.9 L1088.5,69.8 L1091.1,71.3 L1093.7,69.6 L1096.3,72.5 L1098.9,73.5 L1101.5,72.9 L1104.1,74.9 L1106.7,78.7 L1109.3,75.4 L1111.9,77.6 L1114.5,74.2 L1117,68.9 L1119.6,66.9 L1122.2,65.5 L1124.8,63.5 L1127.4,65.7 L1130,63 L1132.6,62.8 L1135.2,62.2 L1137.8,63.7 L1140.4,61.8 L1143,62.7 L1145.6,59.7 L1148.2,61.7 L1150.8,63.8 L1153.3,66.8 L1155.9,69.2 L1158.5,72.7 L1161.1,74.8 L1163.7,72.5 L1166.3,73.4 L1168.9,70.2 L1171.5,72.3 L1174.1,71.5 L1176.7,73.9 L1179.3,77.7 L1181.9,75.6 L1184.5,75.9 L1187.1,74.7 L1189.7,67.4 L1192.2,69.2 L1194.8,69.7 L1197.4,69.6 L1200,72.6 L1202.6,73.3 L1205.2,72.3 L1207.8,72.3 L1210.4,68.7 L1213,71.1 L1215.6,69.8 L1218.2,66.9 L1220.8,67.8 L1223.4,70.2 L1226,72.1 L1228.8,71.4 L1231.6,71.5 L1234.4,72.7 L1237.2,70.6 L1240,69.8 L1240,117.8 L1237.8,118.2 L1235.5,116.4 L1233.3,116 L1231.1,113.8 L1228.9,115.6 L1226.7,113.4 L1224.5,110.6 L1222.2,111.3 L1220,107.1 L1217.8,107.1 L1215.6,105.7 L1213,106.2 L1210.4,109.4 L1207.8,107.8 L1205.2,109.7 L1202.8,105.8 L1200.5,108 L1198.1,112.8 L1195.8,113.5 L1193.4,111.1 L1191.1,111.9 L1188.7,112.9 L1186.4,112.3 L1184,111.1 L1181.7,110.5 L1179.3,116.9 L1177.1,111.2 L1174.8,114.2 L1172.6,122.2 L1170.4,118.5 L1168.2,116.1 L1165.9,114.6 L1163.7,112.8 L1161.4,111.2 L1159.2,112.6 L1156.9,108.7 L1154.7,110.1 L1152.4,105.5 L1150.1,106.1 L1147.9,104.3 L1145.6,101.4 L1143.3,105.4 L1141,104.6 L1138.8,107.8 L1136.5,105.2 L1134.2,105.1 L1132,101 L1129.7,105.6 L1127.4,109 L1125.2,108.3 L1123,110.5 L1120.8,108.7 L1118.5,117.8 L1116.3,113.7 L1114.1,114 L1111.9,115.3 L1109.7,118.1 L1107.4,111.8 L1105.2,111.7 L1103,108.4 L1100.8,108 L1098.5,107.3 L1096.3,107.6 L1093.9,107.6 L1091.6,106.1 L1089.2,107.4 L1086.9,104.9 L1084.5,105.6 L1082.2,109.3 L1079.8,109.3 L1077.5,109.1 L1075.1,113.2 L1072.8,112.6 L1070.4,115 L1068.1,113.9 L1065.8,115.3 L1063.5,117.7 L1061.2,119.8 L1058.8,116.3 L1056.5,118.1 L1054.2,118.1 L1051.9,121.7 L1049.6,118.9 L1047.3,118.7 L1045,122.2 L1042.7,123.4 L1040.4,126.7 L1038.1,129 L1035.8,129.1 L1033.5,132.4 L1031.2,133 L1028.9,137.5 L1026.6,129.3 L1024.3,126.2 L1022.1,122 L1019.8,121.3 L1017.4,119.6 L1014.9,117 L1012.5,110.6 L1010.1,112.4 L1007.7,112.2 L1005.2,110.8 L1002.8,109.6 L1000.4,103.6 L998,110.5 L995.6,111.3 L993.2,119.4 L990.7,116.7 L988.3,115.7 L985.9,115.9 L983.5,117.9 L981.2,123.4 L979,123.5 L976.7,125.7 L974.4,124.9 L971.8,130.8 L969.2,136.1 L966.7,137.1 L964.1,138.7 L961.8,134.8 L959.5,133.5 L957.3,131.3 L955,123.8 L952.7,129.3 L950.5,130 L948.2,122.2 L945.9,121 L943.7,119.5 L941.5,121.9 L939.3,119.8 L937,117.6 L934.8,117.3 L932.6,118 L930.4,115.8 L928,119.3 L925.5,120.9 L923,118.5 L920.6,121.3 L918.2,124.3 L915.7,124 L913.5,121 L911.2,118.4 L909,123 L906.7,122 L904.5,122.7 L902.2,126.1 L900,123.2 L897.7,122.7 L895.4,122.7 L893,123.6 L890.7,117.9 L888.3,120.1 L886,118.8 L883.6,121.1 L881.3,119.2 L878.9,117.8 L876.6,116.3 L874.2,110.1 L871.9,112.2 L869.3,112.5 L866.7,113.8 L864.2,115 L861.6,111.1 L859,114.6 L856.4,115.4 L853.8,113.2 L851.3,116.2 L848.7,118.1 L846.1,113.4 L843.8,116.9 L841.5,115.2 L839.2,120.9 L836.9,118.4 L834.7,117.4 L832.4,117.4 L830.1,119.3 L827.8,119.3 L825.5,121 L822.9,122.9 L820.4,132 L817.8,134.4 L815.2,132.9 L812.7,135.9 L810.1,130.5 L807.9,132.4 L805.7,133.1 L803.5,136 L801.2,137.2 L799,136.1 L796.8,139.1 L794.6,139 L792,140.8 L789.4,143.7 L786.9,139.3 L784.3,130.8 L781.7,133.3 L779.1,132.4 L776.5,133.8 L774,138 L771.4,137.1 L768.8,142.3 L766.5,138.3 L764.2,137.1 L761.9,138.3 L759.6,137.7 L757.4,139 L755.1,141.4 L752.8,138.1 L750.5,137.4 L748.2,141.4 L745.6,141.1 L743,142.6 L740.5,143.4 L737.9,145.6 L735.3,140.6 L733,146.8 L730.8,145.1 L728.5,140.5 L726.3,140.2 L724,141.4 L721.8,140.9 L719.5,135.5 L717.3,136.2 L715,137.7 L712.6,137.5 L710.3,135 L707.9,135.4 L705.6,135.8 L703.2,137.5 L700.9,134.4 L698.5,134.8 L696.2,137.5 L693.8,135.1 L691.5,134 L688.9,136.2 L686.4,135.1 L683.8,139.4 L681.3,140 L678.7,146 L676.1,143.9 L673.5,144.5 L671,139.8 L668.4,142.4 L665.8,141.4 L663.5,138.3 L661.3,141.7 L659,140.5 L656.8,138.9 L654.5,137.9 L652.2,135.4 L650,133.7 L647.7,128.2 L645.4,133.5 L643.1,135.2 L640.9,135.9 L638.6,140.6 L636.3,145.2 L634.1,149.4 L631.9,150.1 L629.7,152.4 L627.4,155.2 L625.2,157.4 L623,160.7 L620.8,158.8 L618.2,159.4 L615.7,158.6 L613.1,154.1 L610.6,153.4 L608,148.3 L605.7,150.1 L603.4,148.1 L601,153.9 L598.7,147.8 L596.4,152.1 L594.1,157.2 L591.8,158.9 L589.4,157.6 L587.1,157.6 L584.8,156.1 L582.5,157.8 L580.3,160.7 L578,158.2 L575.8,158.8 L573.5,155.1 L571.2,157.2 L569,155 L566.7,155 L564.4,155.6 L562.1,158.4 L559.8,149.7 L557.5,159.7 L555.3,160.2 L553,159.7 L550.7,155.9 L548.4,158.4 L546.1,157.6 L543.5,163.4 L541,169.2 L538.4,173 L536.1,172.6 L533.9,170.5 L531.6,170.7 L529.4,168.7 L527.1,166.4 L524.9,170.1 L522.6,168.7 L520.4,171.3 L518.1,173.5 L515.9,165.2 L513.6,164.1 L511.4,162.5 L509.1,163 L506.8,164 L504.6,162.8 L502.3,160.4 L499.7,170.2 L497.2,166.7 L494.6,167.7 L492.3,170.7 L490,169.7 L487.7,171.1 L485.4,171.9 L483.2,170.9 L480.9,171 L478.6,172.6 L476.3,172.7 L474,177.9 L471.4,166.5 L468.8,162.2 L466.6,162 L464.4,160.8 L462.2,162.1 L460,160.3 L457.8,158.5 L455.6,160.9 L453.4,161.9 L451.1,163.2 L448.9,164.8 L446.7,163.3 L444.5,170.5 L442.3,162.7 L440.1,160.9 L437.9,159.8 L435.3,163.7 L432.7,165.6 L430.2,165.5 L427.6,166 L425,168.8 L422.4,164.7 L419.9,164.8 L417.3,160.6 L414.7,163 L412.1,166.6 L409.6,162.9 L407,162.3 L404.4,160.6 L402.1,159.3 L399.7,170.8 L397.4,164.6 L395,166.5 L392.7,165.6 L390.3,164.2 L388,163.4 L385.6,163.9 L383.3,167.3 L380.9,165.7 L378.6,169 L376.3,169.5 L374,176 L371.7,171.7 L369.4,171 L367.2,172 L364.9,168 L362.6,172.7 L360.3,166.3 L358,172.4 L355.4,169 L352.9,166.1 L350.3,166.8 L347.7,161.1 L345.1,167.7 L342.6,167.8 L340,167.6 L337.6,162.4 L335.2,170.9 L332.8,171.6 L330.4,176 L327.9,171.2 L325.5,170.3 L323.1,171.6 L320.7,171.3 L318.3,171.6 L316,170.8 L313.7,170.6 L311.4,172.5 L309.1,171.4 L306.9,167.5 L304.6,170.2 L302.3,170.2 L300,173.3 L297.7,165.9 L295.4,170.5 L293,165.4 L290.7,175.7 L288.4,176.9 L286,175.5 L283.7,172.4 L281.3,177.6 L279,178.9 L276.7,178.3 L274.3,178 L272,181 L269.6,180.3 L267.3,183.3 L264.9,183.1 L262.5,180.8 L260.2,178.3 L257.8,185.8 L255.5,185.1 L253.1,187.1 L250.7,185.4 L248.4,186.2 L246,184.5 L243.7,184.3 L241.3,186.4 L239,193.5 L236.7,192 L234.4,188.9 L232,186 L229.7,185 L227.4,189.2 L225.1,189.3 L222.7,186.4 L220.4,186.3 L218.2,190.5 L216,188.1 L213.8,191 L211.5,195 L209.3,197.1 L207.1,198.6 L204.9,199.1 L202.6,197.7 L200.3,197.5 L197.9,198.1 L195.6,193.2 L193.3,199.6 L191,198.7 L188.7,199.2 L186.3,200.7 L184,202.1 L181.7,197.1 L179.1,200 L176.6,202.7 L174,204.4 L171.4,202.2 L168.9,206.4 L166.3,203 L164,203.6 L161.6,201.9 L159.3,202.7 L157,205 L154.7,204.2 L152.3,206.8 L150,210.3 L147.7,207.9 L145.3,208.2 L143,208.8 L140.7,210 L138.3,210.3 L136,207.1 L133.7,211.4 L131.3,216.9 L129,212.5 L126.6,212.9 L124.3,210.7 L122,216.1 L119.6,215.9 L117.3,214.2 L115,213.5 L112.7,216.3 L110.3,213.3 L108,214.6 L105.7,211.7 L103.4,214.2 L101.1,212.6 L98.7,210.8 L96.4,211.8 L94.1,209.5 L91.9,212.7 L89.7,213.2 L87.5,212.3 L85.2,214.9 L83,214.5 L80.8,218.5 L78.6,218.6 L76.3,220.9 L74.1,215 L71.8,217.8 L69.6,220.8 L67.3,222.3 L65.1,224.2 L62.9,226.5 L60.6,225.7 L58,227.8 L55.5,224.8 L52.9,221.5 L50.3,219.8 Z"/></clipPath>
<g clip-path="url(#cpMid)"><path d="M50.3,219.8 L52.9,221.5 L55.5,224.8 L58,227.8 L60.6,225.7 L62.9,226.5 L65.1,224.2 L67.3,222.3 L69.6,220.8 L71.8,217.8 L74.1,215 L76.3,220.9 L78.6,218.6 L80.8,218.5 L83,214.5 L85.2,214.9 L87.5,212.3 L89.7,213.2 L91.9,212.7 L94.1,209.5 L96.4,211.8 L98.7,210.8 L101.1,212.6 L103.4,214.2 L105.7,211.7 L108,214.6 L110.3,213.3 L112.7,216.3 L115,213.5 L117.3,214.2 L119.6,215.9 L122,216.1 L124.3,210.7 L126.6,212.9 L129,212.5 L131.3,216.9 L133.7,211.4 L136,207.1 L138.3,210.3 L140.7,210 L143,208.8 L145.3,208.2 L147.7,207.9 L150,210.3 L152.3,206.8 L154.7,204.2 L157,205 L159.3,202.7 L161.6,201.9 L164,203.6 L166.3,203 L168.9,206.4 L171.4,202.2 L174,204.4 L176.6,202.7 L179.1,200 L181.7,197.1 L184,202.1 L186.3,200.7 L188.7,199.2 L191,198.7 L193.3,199.6 L195.6,193.2 L197.9,198.1 L200.3,197.5 L202.6,197.7 L204.9,199.1 L207.1,198.6 L209.3,197.1 L211.5,195 L213.8,191 L216,188.1 L218.2,190.5 L220.4,186.3 L222.7,186.4 L225.1,189.3 L227.4,189.2 L229.7,185 L232,186 L234.4,188.9 L236.7,192 L239,193.5 L241.3,186.4 L243.7,184.3 L246,184.5 L248.4,186.2 L250.7,185.4 L253.1,187.1 L255.5,185.1 L257.8,185.8 L260.2,178.3 L262.5,180.8 L264.9,183.1 L267.3,183.3 L269.6,180.3 L272,181 L274.3,178 L276.7,178.3 L279,178.9 L281.3,177.6 L283.7,172.4 L286,175.5 L288.4,176.9 L290.7,175.7 L293,165.4 L295.4,170.5 L297.7,165.9 L300,173.3 L302.3,170.2 L304.6,170.2 L306.9,167.5 L309.1,171.4 L311.4,172.5 L313.7,170.6 L316,170.8 L318.3,171.6 L320.7,171.3 L323.1,171.6 L325.5,170.3 L327.9,171.2 L330.4,176 L332.8,171.6 L335.2,170.9 L337.6,162.4 L340,167.6 L342.6,167.8 L345.1,167.7 L347.7,161.1 L350.3,166.8 L352.9,166.1 L355.4,169 L358,172.4 L360.3,166.3 L362.6,172.7 L364.9,168 L367.2,172 L369.4,171 L371.7,171.7 L374,176 L376.3,169.5 L378.6,169 L380.9,165.7 L383.3,167.3 L385.6,163.9 L388,163.4 L390.3,164.2 L392.7,165.6 L395,166.5 L397.4,164.6 L399.7,170.8 L402.1,159.3 L404.4,160.6 L407,162.3 L409.6,162.9 L412.1,166.6 L414.7,163 L417.3,160.6 L419.9,164.8 L422.4,164.7 L425,168.8 L427.6,166 L430.2,165.5 L432.7,165.6 L435.3,163.7 L437.9,159.8 L440.1,160.9 L442.3,162.7 L444.5,170.5 L446.7,163.3 L448.9,164.8 L451.1,163.2 L453.4,161.9 L455.6,160.9 L457.8,158.5 L460,160.3 L462.2,162.1 L464.4,160.8 L466.6,162 L468.8,162.2 L471.4,166.5 L474,177.9 L476.3,172.7 L478.6,172.6 L480.9,171 L483.2,170.9 L485.4,171.9 L487.7,171.1 L490,169.7 L492.3,170.7 L494.6,167.7 L497.2,166.7 L499.7,170.2 L502.3,160.4 L504.6,162.8 L506.8,164 L509.1,163 L511.4,162.5 L513.6,164.1 L515.9,165.2 L518.1,173.5 L520.4,171.3 L522.6,168.7 L524.9,170.1 L527.1,166.4 L529.4,168.7 L531.6,170.7 L533.9,170.5 L536.1,172.6 L538.4,173 L541,169.2 L543.5,163.4 L546.1,157.6 L548.4,158.4 L550.7,155.9 L553,159.7 L555.3,160.2 L557.5,159.7 L559.8,149.7 L562.1,158.4 L564.4,155.6 L566.7,155 L569,155 L571.2,157.2 L573.5,155.1 L575.8,158.8 L578,158.2 L580.3,160.7 L582.5,157.8 L584.8,156.1 L587.1,157.6 L589.4,157.6 L591.8,158.9 L594.1,157.2 L596.4,152.1 L598.7,147.8 L601,153.9 L603.4,148.1 L605.7,150.1 L608,148.3 L610.6,153.4 L613.1,154.1 L615.7,158.6 L618.2,159.4 L620.8,158.8 L623,160.7 L625.2,157.4 L627.4,155.2 L629.7,152.4 L631.9,150.1 L634.1,149.4 L636.3,145.2 L638.6,140.6 L640.9,135.9 L643.1,135.2 L645.4,133.5 L647.7,128.2 L650,133.7 L652.2,135.4 L654.5,137.9 L656.8,138.9 L659,140.5 L661.3,141.7 L663.5,138.3 L665.8,141.4 L668.4,142.4 L671,139.8 L673.5,144.5 L676.1,143.9 L678.7,146 L681.3,140 L683.8,139.4 L686.4,135.1 L688.9,136.2 L691.5,134 L693.8,135.1 L696.2,137.5 L698.5,134.8 L700.9,134.4 L703.2,137.5 L705.6,135.8 L707.9,135.4 L710.3,135 L712.6,137.5 L715,137.7 L717.3,136.2 L719.5,135.5 L721.8,140.9 L724,141.4 L726.3,140.2 L728.5,140.5 L730.8,145.1 L733,146.8 L735.3,140.6 L737.9,145.6 L740.5,143.4 L743,142.6 L745.6,141.1 L748.2,141.4 L750.5,137.4 L752.8,138.1 L755.1,141.4 L757.4,139 L759.6,137.7 L761.9,138.3 L764.2,137.1 L766.5,138.3 L768.8,142.3 L771.4,137.1 L774,138 L776.5,133.8 L779.1,132.4 L781.7,133.3 L784.3,130.8 L786.9,139.3 L789.4,143.7 L792,140.8 L794.6,139 L796.8,139.1 L799,136.1 L801.2,137.2 L803.5,136 L805.7,133.1 L807.9,132.4 L810.1,130.5 L812.7,135.9 L815.2,132.9 L817.8,134.4 L820.4,132 L822.9,122.9 L825.5,121 L827.8,119.3 L830.1,119.3 L832.4,117.4 L834.7,117.4 L836.9,118.4 L839.2,120.9 L841.5,115.2 L843.8,116.9 L846.1,113.4 L848.7,118.1 L851.3,116.2 L853.8,113.2 L856.4,115.4 L859,114.6 L861.6,111.1 L864.2,115 L866.7,113.8 L869.3,112.5 L871.9,112.2 L874.2,110.1 L876.6,116.3 L878.9,117.8 L881.3,119.2 L883.6,121.1 L886,118.8 L888.3,120.1 L890.7,117.9 L893,123.6 L895.4,122.7 L897.7,122.7 L900,123.2 L902.2,126.1 L904.5,122.7 L906.7,122 L909,123 L911.2,118.4 L913.5,121 L915.7,124 L918.2,124.3 L920.6,121.3 L923,118.5 L925.5,120.9 L928,119.3 L930.4,115.8 L932.6,118 L934.8,117.3 L937,117.6 L939.3,119.8 L941.5,121.9 L943.7,119.5 L945.9,121 L948.2,122.2 L950.5,130 L952.7,129.3 L955,123.8 L957.3,131.3 L959.5,133.5 L961.8,134.8 L964.1,138.7 L966.7,137.1 L969.2,136.1 L971.8,130.8 L974.4,124.9 L976.7,125.7 L979,123.5 L981.2,123.4 L983.5,117.9 L985.9,115.9 L988.3,115.7 L990.7,116.7 L993.2,119.4 L995.6,111.3 L998,110.5 L1000.4,103.6 L1002.8,109.6 L1005.2,110.8 L1007.7,112.2 L1010.1,112.4 L1012.5,110.6 L1014.9,117 L1017.4,119.6 L1019.8,121.3 L1022.1,122 L1024.3,126.2 L1026.6,129.3 L1028.9,137.5 L1031.2,133 L1033.5,132.4 L1035.8,129.1 L1038.1,129 L1040.4,126.7 L1042.7,123.4 L1045,122.2 L1047.3,118.7 L1049.6,118.9 L1051.9,121.7 L1054.2,118.1 L1056.5,118.1 L1058.8,116.3 L1061.2,119.8 L1063.5,117.7 L1065.8,115.3 L1068.1,113.9 L1070.4,115 L1072.8,112.6 L1075.1,113.2 L1077.5,109.1 L1079.8,109.3 L1082.2,109.3 L1084.5,105.6 L1086.9,104.9 L1089.2,107.4 L1091.6,106.1 L1093.9,107.6 L1096.3,107.6 L1098.5,107.3 L1100.8,108 L1103,108.4 L1105.2,111.7 L1107.4,111.8 L1109.7,118.1 L1111.9,115.3 L1114.1,114 L1116.3,113.7 L1118.5,117.8 L1120.8,108.7 L1123,110.5 L1125.2,108.3 L1127.4,109 L1129.7,105.6 L1132,101 L1134.2,105.1 L1136.5,105.2 L1138.8,107.8 L1141,104.6 L1143.3,105.4 L1145.6,101.4 L1147.9,104.3 L1150.1,106.1 L1152.4,105.5 L1154.7,110.1 L1156.9,108.7 L1159.2,112.6 L1161.4,111.2 L1163.7,112.8 L1165.9,114.6 L1168.2,116.1 L1170.4,118.5 L1172.6,122.2 L1174.8,114.2 L1177.1,111.2 L1179.3,116.9 L1181.7,110.5 L1184,111.1 L1186.4,112.3 L1188.7,112.9 L1191.1,111.9 L1193.4,111.1 L1195.8,113.5 L1198.1,112.8 L1200.5,108 L1202.8,105.8 L1205.2,109.7 L1207.8,107.8 L1210.4,109.4 L1213,106.2 L1215.6,105.7 L1217.8,107.1 L1220,107.1 L1222.2,111.3 L1224.5,110.6 L1226.7,113.4 L1228.9,115.6 L1231.1,113.8 L1233.3,116 L1235.5,116.4 L1237.8,118.2 L1240,117.8" fill="none" stroke="#b3bce6" stroke-opacity="0.6" stroke-width="10"/><path d="M50.3,182.5 L52.9,181.5 L55.5,182 L58,182.2 L60.6,179 L63.2,181.4 L65.8,180.7 L68.4,181.5 L71,179.1 L73.5,181.9 L76.1,181.5 L78.7,180.3 L81.2,184.1 L83.8,184.3 L86.4,183.6 L89,182.3 L91.5,181.1 L94.1,177.3 L96.7,176.2 L99.2,173.6 L101.8,173.5 L104.4,173 L107,173.4 L109.6,175.6 L112.2,175.3 L114.7,175.8 L117.3,177.3 L119.9,177.7 L122.5,176 L125.1,174.3 L127.6,175.6 L130.2,172.2 L132.8,169.3 L135.3,170.9 L137.9,168.4 L140.4,167.1 L143,168.6 L145.6,165.8 L148.2,166.3 L150.7,165.3 L153.3,166 L155.9,161.4 L158.5,165.2 L161.1,165.3 L163.6,165.5 L166.2,167.4 L168.8,165.3 L171.4,163.7 L174,162.6 L176.5,163.3 L179.1,159.2 L181.7,164 L184.3,163.1 L186.9,163 L189.4,160.7 L192,162.9 L194.6,161.5 L197.2,165.4 L199.8,161.2 L202.3,161.1 L204.9,160.3 L207.5,165.9 L210.1,158.5 L212.7,160.3 L215.2,157.8 L217.8,157.5 L220.4,158.5 L223,156.6 L225.5,153.5 L228.1,155.3 L230.6,155.6 L233.2,153.4 L235.8,153.8 L238.3,153.3 L240.9,154.4 L243.4,152.5 L246,150.8 L248.6,151.1 L251.2,150.8 L253.8,145.8 L256.4,149 L259,151 L261.6,150 L264.2,147.8 L266.8,149.3 L269.4,144.2 L272,146.8 L274.6,144 L277.1,143.2 L279.7,146.6 L282.2,144.7 L284.8,142 L287.4,138.8 L289.9,139.1 L292.5,139.5 L295.1,143.4 L297.6,136.4 L300.2,141.2 L302.8,138.8 L305.4,134.1 L307.9,133.4 L310.5,132.6 L313.1,137.4 L315.7,139.2 L318.2,133 L320.8,131.5 L323.4,131.9 L326,131.7 L328.6,133.1 L331.1,133 L333.7,129.2 L336.3,130.3 L338.9,131.5 L341.5,129.1 L344,126.6 L346.6,128.5 L349.2,128.7 L351.8,124.6 L354.3,127.1 L356.9,126.6 L359.5,127.7 L362.2,126.3 L365,126.5 L367.7,126.9 L370.4,126.7 L373.1,127.3 L375.9,130.4 L378.6,126 L381.2,132.2 L383.8,139.4 L386.4,133.8 L389,130.3 L391.5,129.5 L394.1,130.3 L396.7,127.4 L399.3,126.5 L401.9,128.8 L404.4,128.5 L407,127.2 L409.6,125.7 L412.1,127.7 L414.7,127.2 L417.3,131.5 L419.9,127.7 L422.4,127.1 L425,130.8 L427.6,132.2 L430.2,131.8 L432.8,130.6 L435.3,133.2 L437.9,134.9 L440.5,131.3 L443,129.6 L445.6,128.7 L448.2,127.4 L450.8,126.6 L453.4,125.8 L455.9,126.8 L458.5,124.5 L461.1,128.3 L463.7,131.7 L466.3,132 L468.8,134.6 L471.4,135.9 L474,136.2 L476.6,137.1 L479.2,132.5 L481.7,133.7 L484.3,133.9 L486.9,131.7 L489.5,130 L492,131.8 L494.6,131.1 L497.2,129.7 L499.8,126.4 L502.3,127.6 L504.9,127 L507.5,128.8 L510,127.3 L512.6,129.3 L515.2,132.1 L517.8,133.2 L520.4,133.7 L522.9,137.5 L525.5,136.6 L528.1,134.6 L530.6,130.3 L533.2,128.9 L535.8,125.9 L538.4,127.2 L541,126 L543.5,126.9 L546.1,127.8 L548.7,126.6 L551.3,125.2 L553.9,123.7 L556.5,124.4 L559,121.7 L561.6,118.7 L564.2,117.2 L566.8,117.8 L569.3,122.6 L571.9,122.1 L574.4,125.8 L577,126.9 L579.6,125.1 L582.2,127 L584.7,121.2 L587.3,117.1 L589.9,113.6 L592.5,113.2 L595.1,112.1 L597.6,113.1 L600.2,114.7 L602.8,116.8 L605.4,114.8 L608,111.2 L610.5,113.2 L613.1,113.7 L615.7,111.8 L618.3,110.1 L620.9,107.2 L623.4,108.1 L626,107.6 L628.6,105.2 L631.2,101.2 L633.7,104.7 L636.3,102.2 L640,98.2 L642.6,96.4 L645.1,95.6 L647.7,96.2 L650.3,94 L652.9,100.4 L655.5,105.6 L658,102.7 L660.6,100.1 L663.2,96.2 L665.8,95.4 L668.3,97.3 L670.9,96.9 L673.5,99.8 L676.1,100.6 L678.7,101.7 L681.3,103.2 L683.8,103.9 L686.4,101.3 L688.9,96.4 L691.5,99.1 L694.1,98.7 L696.7,96.5 L699.2,96.5 L701.8,96.3 L704.4,97.5 L707,95.8 L709.6,98.7 L712.1,100.6 L714.7,98.5 L717.3,98.6 L719.9,103.4 L722.5,103 L725,105.9 L727.6,107.5 L730.2,109.4 L732.8,111.5 L735.3,109 L737.9,107.1 L740.5,102.8 L743,92.8 L745.6,100.4 L748.2,103.1 L750.8,104.7 L753.4,106.7 L756,112.5 L758.6,109.4 L761.1,108.2 L763.7,108.4 L766.2,106.6 L768.8,102.8 L771.4,101.5 L774,99.2 L776.6,98.7 L779.1,97.1 L781.7,96.1 L784.3,97 L786.9,96.1 L789.5,94.3 L792,93.7 L794.6,91.4 L797.2,91.1 L799.8,92.1 L802.3,92.8 L804.9,93.9 L807.5,93.8 L810.1,95.4 L812.6,93.9 L815.2,94 L817.8,95.6 L820.4,94.3 L822.9,93.9 L825.5,89.9 L828.1,87.9 L830.6,87.8 L833.2,85.3 L835.8,80.9 L838.3,82.6 L840.9,81.3 L843.4,81.3 L846,74.8 L848.6,75.5 L851.2,76.1 L853.8,76.3 L856.4,77.7 L859,76.2 L861.5,74.8 L864.1,77.5 L866.7,77.7 L869.3,76.3 L871.9,77.7 L874.5,76.2 L877.1,76.9 L879.6,72.2 L882.2,75.8 L884.8,75.4 L887.4,77.3 L890,75.1 L892.5,76 L895.1,79.2 L897.7,76.1 L900.3,73.8 L902.8,79.9 L905.4,78.1 L907.9,82.7 L910.5,82.2 L913.7,82.3 L916.8,79.1 L920,78.5 L922.6,81.5 L925.2,83.6 L927.8,82.9 L930.4,83.5 L933,84.6 L935.5,84.5 L938.1,86.1 L940.7,84.9 L943.3,89.9 L945.9,87.9 L948.5,85.5 L951.1,85.4 L953.7,87.3 L956.3,87.1 L958.9,86.3 L961.5,81.9 L964.1,90.2 L966.7,87.2 L969.3,88.4 L971.9,91.4 L974.4,94.4 L977,91.1 L979.6,93 L982.2,90.2 L984.8,88.7 L987.4,83.1 L990,83.2 L992.6,82.3 L995.2,79.8 L997.8,77.5 L1000.4,75.9 L1003,78.6 L1005.5,79.9 L1008.1,81.5 L1010.7,83.5 L1013.3,84.9 L1015.9,85.2 L1018.5,82.4 L1021.1,85.2 L1023.7,85.5 L1026.3,86.6 L1028.9,89.6 L1031.5,89.3 L1034.1,87.9 L1036.7,87.3 L1039.2,86.2 L1041.8,88.5 L1044.4,86.6 L1047,87.6 L1049.6,84.8 L1052.2,83.8 L1054.8,81.7 L1057.4,81.2 L1060,75.7 L1062.6,74.8 L1065.2,72 L1067.8,72 L1070.4,72.5 L1073,70.6 L1075.6,71.4 L1078.2,68.5 L1080.8,70.7 L1083.3,68.5 L1085.9,66.9 L1088.5,69.8 L1091.1,71.3 L1093.7,69.6 L1096.3,72.5 L1098.9,73.5 L1101.5,72.9 L1104.1,74.9 L1106.7,78.7 L1109.3,75.4 L1111.9,77.6 L1114.5,74.2 L1117,68.9 L1119.6,66.9 L1122.2,65.5 L1124.8,63.5 L1127.4,65.7 L1130,63 L1132.6,62.8 L1135.2,62.2 L1137.8,63.7 L1140.4,61.8 L1143,62.7 L1145.6,59.7 L1148.2,61.7 L1150.8,63.8 L1153.3,66.8 L1155.9,69.2 L1158.5,72.7 L1161.1,74.8 L1163.7,72.5 L1166.3,73.4 L1168.9,70.2 L1171.5,72.3 L1174.1,71.5 L1176.7,73.9 L1179.3,77.7 L1181.9,75.6 L1184.5,75.9 L1187.1,74.7 L1189.7,67.4 L1192.2,69.2 L1194.8,69.7 L1197.4,69.6 L1200,72.6 L1202.6,73.3 L1205.2,72.3 L1207.8,72.3 L1210.4,68.7 L1213,71.1 L1215.6,69.8 L1218.2,66.9 L1220.8,67.8 L1223.4,70.2 L1226,72.1 L1228.8,71.4 L1231.6,71.5 L1234.4,72.7 L1237.2,70.6 L1240,69.8" fill="none" stroke="#d4cbe8" stroke-opacity="0.55" stroke-width="9" filter="url(#blA)"/></g>
<clipPath id="cpLow"><path d="M50.3,219.8 L52.9,221.5 L55.5,224.8 L58,227.8 L60.6,225.7 L62.9,226.5 L65.1,224.2 L67.3,222.3 L69.6,220.8 L71.8,217.8 L74.1,215 L76.3,220.9 L78.6,218.6 L80.8,218.5 L83,214.5 L85.2,214.9 L87.5,212.3 L89.7,213.2 L91.9,212.7 L94.1,209.5 L96.4,211.8 L98.7,210.8 L101.1,212.6 L103.4,214.2 L105.7,211.7 L108,214.6 L110.3,213.3 L112.7,216.3 L115,213.5 L117.3,214.2 L119.6,215.9 L122,216.1 L124.3,210.7 L126.6,212.9 L129,212.5 L131.3,216.9 L133.7,211.4 L136,207.1 L138.3,210.3 L140.7,210 L143,208.8 L145.3,208.2 L147.7,207.9 L150,210.3 L152.3,206.8 L154.7,204.2 L157,205 L159.3,202.7 L161.6,201.9 L164,203.6 L166.3,203 L168.9,206.4 L171.4,202.2 L174,204.4 L176.6,202.7 L179.1,200 L181.7,197.1 L184,202.1 L186.3,200.7 L188.7,199.2 L191,198.7 L193.3,199.6 L195.6,193.2 L197.9,198.1 L200.3,197.5 L202.6,197.7 L204.9,199.1 L207.1,198.6 L209.3,197.1 L211.5,195 L213.8,191 L216,188.1 L218.2,190.5 L220.4,186.3 L222.7,186.4 L225.1,189.3 L227.4,189.2 L229.7,185 L232,186 L234.4,188.9 L236.7,192 L239,193.5 L241.3,186.4 L243.7,184.3 L246,184.5 L248.4,186.2 L250.7,185.4 L253.1,187.1 L255.5,185.1 L257.8,185.8 L260.2,178.3 L262.5,180.8 L264.9,183.1 L267.3,183.3 L269.6,180.3 L272,181 L274.3,178 L276.7,178.3 L279,178.9 L281.3,177.6 L283.7,172.4 L286,175.5 L288.4,176.9 L290.7,175.7 L293,165.4 L295.4,170.5 L297.7,165.9 L300,173.3 L302.3,170.2 L304.6,170.2 L306.9,167.5 L309.1,171.4 L311.4,172.5 L313.7,170.6 L316,170.8 L318.3,171.6 L320.7,171.3 L323.1,171.6 L325.5,170.3 L327.9,171.2 L330.4,176 L332.8,171.6 L335.2,170.9 L337.6,162.4 L340,167.6 L342.6,167.8 L345.1,167.7 L347.7,161.1 L350.3,166.8 L352.9,166.1 L355.4,169 L358,172.4 L360.3,166.3 L362.6,172.7 L364.9,168 L367.2,172 L369.4,171 L371.7,171.7 L374,176 L376.3,169.5 L378.6,169 L380.9,165.7 L383.3,167.3 L385.6,163.9 L388,163.4 L390.3,164.2 L392.7,165.6 L395,166.5 L397.4,164.6 L399.7,170.8 L402.1,159.3 L404.4,160.6 L407,162.3 L409.6,162.9 L412.1,166.6 L414.7,163 L417.3,160.6 L419.9,164.8 L422.4,164.7 L425,168.8 L427.6,166 L430.2,165.5 L432.7,165.6 L435.3,163.7 L437.9,159.8 L440.1,160.9 L442.3,162.7 L444.5,170.5 L446.7,163.3 L448.9,164.8 L451.1,163.2 L453.4,161.9 L455.6,160.9 L457.8,158.5 L460,160.3 L462.2,162.1 L464.4,160.8 L466.6,162 L468.8,162.2 L471.4,166.5 L474,177.9 L476.3,172.7 L478.6,172.6 L480.9,171 L483.2,170.9 L485.4,171.9 L487.7,171.1 L490,169.7 L492.3,170.7 L494.6,167.7 L497.2,166.7 L499.7,170.2 L502.3,160.4 L504.6,162.8 L506.8,164 L509.1,163 L511.4,162.5 L513.6,164.1 L515.9,165.2 L518.1,173.5 L520.4,171.3 L522.6,168.7 L524.9,170.1 L527.1,166.4 L529.4,168.7 L531.6,170.7 L533.9,170.5 L536.1,172.6 L538.4,173 L541,169.2 L543.5,163.4 L546.1,157.6 L548.4,158.4 L550.7,155.9 L553,159.7 L555.3,160.2 L557.5,159.7 L559.8,149.7 L562.1,158.4 L564.4,155.6 L566.7,155 L569,155 L571.2,157.2 L573.5,155.1 L575.8,158.8 L578,158.2 L580.3,160.7 L582.5,157.8 L584.8,156.1 L587.1,157.6 L589.4,157.6 L591.8,158.9 L594.1,157.2 L596.4,152.1 L598.7,147.8 L601,153.9 L603.4,148.1 L605.7,150.1 L608,148.3 L610.6,153.4 L613.1,154.1 L615.7,158.6 L618.2,159.4 L620.8,158.8 L623,160.7 L625.2,157.4 L627.4,155.2 L629.7,152.4 L631.9,150.1 L634.1,149.4 L636.3,145.2 L638.6,140.6 L640.9,135.9 L643.1,135.2 L645.4,133.5 L647.7,128.2 L650,133.7 L652.2,135.4 L654.5,137.9 L656.8,138.9 L659,140.5 L661.3,141.7 L663.5,138.3 L665.8,141.4 L668.4,142.4 L671,139.8 L673.5,144.5 L676.1,143.9 L678.7,146 L681.3,140 L683.8,139.4 L686.4,135.1 L688.9,136.2 L691.5,134 L693.8,135.1 L696.2,137.5 L698.5,134.8 L700.9,134.4 L703.2,137.5 L705.6,135.8 L707.9,135.4 L710.3,135 L712.6,137.5 L715,137.7 L717.3,136.2 L719.5,135.5 L721.8,140.9 L724,141.4 L726.3,140.2 L728.5,140.5 L730.8,145.1 L733,146.8 L735.3,140.6 L737.9,145.6 L740.5,143.4 L743,142.6 L745.6,141.1 L748.2,141.4 L750.5,137.4 L752.8,138.1 L755.1,141.4 L757.4,139 L759.6,137.7 L761.9,138.3 L764.2,137.1 L766.5,138.3 L768.8,142.3 L771.4,137.1 L774,138 L776.5,133.8 L779.1,132.4 L781.7,133.3 L784.3,130.8 L786.9,139.3 L789.4,143.7 L792,140.8 L794.6,139 L796.8,139.1 L799,136.1 L801.2,137.2 L803.5,136 L805.7,133.1 L807.9,132.4 L810.1,130.5 L812.7,135.9 L815.2,132.9 L817.8,134.4 L820.4,132 L822.9,122.9 L825.5,121 L827.8,119.3 L830.1,119.3 L832.4,117.4 L834.7,117.4 L836.9,118.4 L839.2,120.9 L841.5,115.2 L843.8,116.9 L846.1,113.4 L848.7,118.1 L851.3,116.2 L853.8,113.2 L856.4,115.4 L859,114.6 L861.6,111.1 L864.2,115 L866.7,113.8 L869.3,112.5 L871.9,112.2 L874.2,110.1 L876.6,116.3 L878.9,117.8 L881.3,119.2 L883.6,121.1 L886,118.8 L888.3,120.1 L890.7,117.9 L893,123.6 L895.4,122.7 L897.7,122.7 L900,123.2 L902.2,126.1 L904.5,122.7 L906.7,122 L909,123 L911.2,118.4 L913.5,121 L915.7,124 L918.2,124.3 L920.6,121.3 L923,118.5 L925.5,120.9 L928,119.3 L930.4,115.8 L932.6,118 L934.8,117.3 L937,117.6 L939.3,119.8 L941.5,121.9 L943.7,119.5 L945.9,121 L948.2,122.2 L950.5,130 L952.7,129.3 L955,123.8 L957.3,131.3 L959.5,133.5 L961.8,134.8 L964.1,138.7 L966.7,137.1 L969.2,136.1 L971.8,130.8 L974.4,124.9 L976.7,125.7 L979,123.5 L981.2,123.4 L983.5,117.9 L985.9,115.9 L988.3,115.7 L990.7,116.7 L993.2,119.4 L995.6,111.3 L998,110.5 L1000.4,103.6 L1002.8,109.6 L1005.2,110.8 L1007.7,112.2 L1010.1,112.4 L1012.5,110.6 L1014.9,117 L1017.4,119.6 L1019.8,121.3 L1022.1,122 L1024.3,126.2 L1026.6,129.3 L1028.9,137.5 L1031.2,133 L1033.5,132.4 L1035.8,129.1 L1038.1,129 L1040.4,126.7 L1042.7,123.4 L1045,122.2 L1047.3,118.7 L1049.6,118.9 L1051.9,121.7 L1054.2,118.1 L1056.5,118.1 L1058.8,116.3 L1061.2,119.8 L1063.5,117.7 L1065.8,115.3 L1068.1,113.9 L1070.4,115 L1072.8,112.6 L1075.1,113.2 L1077.5,109.1 L1079.8,109.3 L1082.2,109.3 L1084.5,105.6 L1086.9,104.9 L1089.2,107.4 L1091.6,106.1 L1093.9,107.6 L1096.3,107.6 L1098.5,107.3 L1100.8,108 L1103,108.4 L1105.2,111.7 L1107.4,111.8 L1109.7,118.1 L1111.9,115.3 L1114.1,114 L1116.3,113.7 L1118.5,117.8 L1120.8,108.7 L1123,110.5 L1125.2,108.3 L1127.4,109 L1129.7,105.6 L1132,101 L1134.2,105.1 L1136.5,105.2 L1138.8,107.8 L1141,104.6 L1143.3,105.4 L1145.6,101.4 L1147.9,104.3 L1150.1,106.1 L1152.4,105.5 L1154.7,110.1 L1156.9,108.7 L1159.2,112.6 L1161.4,111.2 L1163.7,112.8 L1165.9,114.6 L1168.2,116.1 L1170.4,118.5 L1172.6,122.2 L1174.8,114.2 L1177.1,111.2 L1179.3,116.9 L1181.7,110.5 L1184,111.1 L1186.4,112.3 L1188.7,112.9 L1191.1,111.9 L1193.4,111.1 L1195.8,113.5 L1198.1,112.8 L1200.5,108 L1202.8,105.8 L1205.2,109.7 L1207.8,107.8 L1210.4,109.4 L1213,106.2 L1215.6,105.7 L1217.8,107.1 L1220,107.1 L1222.2,111.3 L1224.5,110.6 L1226.7,113.4 L1228.9,115.6 L1231.1,113.8 L1233.3,116 L1235.5,116.4 L1237.8,118.2 L1240,117.8 L1240,146.3 L1236.8,145.1 L1233.7,145.4 L1230.5,144.8 L1227.3,144.2 L1224.2,144.5 L1221,144.9 L1217.9,143 L1214.7,143.2 L1211.5,143.3 L1208.4,144.2 L1205.2,145 L1202,144.3 L1198.7,145.8 L1195.5,146.5 L1192.2,145.2 L1189,145.2 L1185.8,145.8 L1182.5,146 L1179.3,146.1 L1175.8,145.9 L1172.4,146.3 L1168.9,146.5 L1165.4,145.7 L1162,146.5 L1158.5,147.6 L1155.4,145.8 L1152.3,144.5 L1149.2,141.4 L1146.1,140.5 L1143,138.7 L1139.8,138.6 L1136.6,140.3 L1133.4,140.6 L1130.2,139.7 L1127,139.8 L1123.8,139.9 L1120.7,139.5 L1117.5,139.9 L1114.3,140.9 L1111.1,142.3 L1107.9,141.9 L1104.7,142.3 L1101.5,140.9 L1098.3,141.4 L1095,142.3 L1091.8,140.8 L1088.5,141.6 L1085.3,142.8 L1082.1,143.8 L1078.8,143.7 L1075.6,143.7 L1072.3,144.8 L1069.1,146 L1065.8,147.9 L1062.6,149.2 L1059.3,149.9 L1056.1,152.1 L1052.8,154.3 L1049.6,154.7 L1046.4,154.6 L1043.1,156 L1039.9,156.3 L1036.7,157.1 L1033.4,159 L1030.2,159.3 L1026.9,159.5 L1023.7,161.5 L1020.5,159.3 L1017.2,158.7 L1014,158.4 L1010.8,158.3 L1007.5,158.8 L1004.3,159.2 L1001,158.3 L997.8,156.3 L994.6,158.3 L991.3,158.1 L988.1,158.4 L984.8,160 L981.6,160.6 L978.4,161.8 L975.1,162.5 L971.9,162.3 L968.6,162.9 L965.4,162 L962.1,162.4 L958.9,160.7 L955.6,160.3 L952.4,159.8 L949.1,158.8 L945.9,159 L942.7,158.1 L939.5,157.6 L936.3,155.7 L933,156.3 L929.8,155.9 L926.6,155.5 L923.4,155 L920.2,155.4 L917,156 L913.8,155.3 L910.5,155.8 L907.3,155.8 L904.1,155.7 L900.9,155.2 L897.7,155.2 L894.5,154.6 L891.2,154.7 L888,154.1 L884.8,153.2 L881.6,152.6 L878.4,153.3 L875.1,153.2 L871.9,151.3 L868.7,151.9 L865.5,151.2 L862.2,153.2 L859,151.6 L855.8,151.8 L852.5,152.6 L849.3,153.3 L846.1,154.2 L842.9,155.1 L839.7,155.5 L836.5,158.1 L833.2,158.2 L830,159.4 L826.8,160.5 L823.6,161.9 L820.4,162.6 L817.1,165.2 L813.9,165.6 L810.7,167 L807.5,168.1 L804.1,168.3 L800.6,168.5 L797.2,170.3 L793.8,170.8 L790.3,172.3 L786.9,173.1 L783.9,174.4 L780.9,174.4 L777.8,174.6 L774.8,174.4 L771.8,176.6 L768.8,175.9 L765.6,176.3 L762.3,176.8 L759.1,176.5 L755.9,176.9 L752.7,177.1 L749.5,176.1 L746.2,177.2 L743,178.4 L739.8,177.9 L736.6,177.2 L733.4,176.2 L730.1,176.1 L726.9,175.8 L723.7,174.5 L720.5,173.7 L717.3,173.7 L714.3,173.1 L711.2,172.8 L708.2,173.1 L705.2,173.4 L702.2,173.4 L699.1,173.7 L696.1,172 L693.1,172.8 L690,172.8 L687,172.3 L684,171.5 L680.9,172.2 L677.9,171.1 L674.9,171 L671.9,171.5 L668.8,171.3 L665.8,170.9 L662.3,170.4 L658.9,171.1 L655.5,172.3 L652,171.4 L648.7,173.3 L645.5,175 L642.2,177 L638.9,178.1 L635.8,180 L632.7,180.3 L629.6,182.7 L626.5,183.6 L623.4,185.2 L620.2,185.6 L617,186.3 L613.8,186.7 L610.5,187 L607.3,186.7 L604.1,188.5 L600.9,188.7 L597.7,189.7 L594.5,190.7 L591.2,191.2 L588,191.2 L584.8,192.2 L581.6,191.6 L578.4,192.2 L575.1,192.2 L571.9,192.8 L568.7,193.4 L565.5,194.9 L562.2,193.9 L559,194.7 L555.8,195.5 L552.6,194.3 L549.4,194.2 L546.1,194.9 L542.9,195.5 L539.7,196.6 L536.5,196.3 L533.3,197.9 L530,198.4 L526.8,197.7 L523.6,198.5 L520.4,200.7 L517.3,200.8 L514.2,200.2 L511.1,200.2 L508,200.2 L504.9,200.4 L501.8,201.9 L498.7,201.9 L495.7,203.4 L492.6,203.2 L489.5,204 L486.4,203.9 L483.3,205.2 L480.2,205.1 L477.1,205.8 L474,206.9 L470.9,205.7 L467.8,205.5 L464.7,204.9 L461.6,204.8 L458.5,204.6 L455.4,203.8 L452.3,204.7 L449.2,204.9 L446.1,203.5 L443,203.5 L440,203.9 L436.9,203.7 L433.9,203.1 L430.9,203.2 L427.9,203.5 L424.8,202.6 L421.8,203.5 L418.8,204.1 L415.7,204.4 L412.7,205.2 L409.7,203.2 L406.6,203.4 L403.6,203.5 L400.6,202.7 L397.6,203 L394.5,203.3 L391.5,203.4 L388.3,203.3 L385.1,203.1 L381.9,203.2 L378.7,203.7 L375.5,203.2 L372.3,202.7 L369.1,202.5 L365.9,203.2 L362.7,203.3 L359.5,203.4 L356.4,203.5 L353.3,203.8 L350.2,204.6 L347.1,203.2 L344.1,204.6 L341,204.7 L337.9,205.4 L334.8,205.1 L331.7,204.9 L328.6,205.6 L325.5,206.9 L322.4,205.8 L319.3,207.4 L316.2,208.6 L313.1,207.9 L310.1,208 L307,206.9 L303.9,208.6 L300.8,208.9 L297.7,211 L294.5,212.8 L291.2,215.9 L288,218 L284.8,220.3 L281.6,221 L278.4,221.2 L275.1,221.5 L271.9,223.3 L268.7,224.2 L265.4,225.1 L262.2,225.5 L259,226.8 L255.8,227.6 L252.6,227.4 L249.3,228.7 L246.1,228.1 L242.9,229 L239.7,229.9 L236.5,230.9 L233.3,231.1 L230.1,232.2 L226.8,233.1 L223.6,233.4 L220.4,233.8 L217.4,235.2 L214.3,235 L211.3,235.9 L208.3,236.6 L205.2,236.2 L202.2,237 L199.2,237.6 L196.1,237.6 L193.1,237.4 L190,237.9 L187,238.6 L184,238.6 L180.9,239.4 L177.9,241.1 L174.9,240.6 L171.8,241.8 L168.8,241.3 L165.6,241.6 L162.4,242.5 L159.2,244.1 L155.9,243.3 L152.7,243.5 L149.5,244 L146.3,244 L143.1,244.3 L139.8,244.8 L136.6,245.8 L133.4,246.2 L130.2,245.8 L127,247.3 L123.8,248.1 L120.5,247.4 L117.3,247.8 L114.1,248.4 L110.8,248.3 L107.6,250.2 L104.4,250.9 L101.2,250.2 L98,250.3 L94.7,250.4 L91.5,250.3 L88.3,250.7 L85,251.6 L81.8,252.7 L78.6,253.2 L74.3,255.8 L70,256.5 L65.8,260.6 L62.7,260.1 L59.5,259.8 L56.4,260.3 L53.2,260 L50.1,260 Z"/></clipPath>
<g clip-path="url(#cpLow)"><path d="M50.3,219.8 L52.9,221.5 L55.5,224.8 L58,227.8 L60.6,225.7 L62.9,226.5 L65.1,224.2 L67.3,222.3 L69.6,220.8 L71.8,217.8 L74.1,215 L76.3,220.9 L78.6,218.6 L80.8,218.5 L83,214.5 L85.2,214.9 L87.5,212.3 L89.7,213.2 L91.9,212.7 L94.1,209.5 L96.4,211.8 L98.7,210.8 L101.1,212.6 L103.4,214.2 L105.7,211.7 L108,214.6 L110.3,213.3 L112.7,216.3 L115,213.5 L117.3,214.2 L119.6,215.9 L122,216.1 L124.3,210.7 L126.6,212.9 L129,212.5 L131.3,216.9 L133.7,211.4 L136,207.1 L138.3,210.3 L140.7,210 L143,208.8 L145.3,208.2 L147.7,207.9 L150,210.3 L152.3,206.8 L154.7,204.2 L157,205 L159.3,202.7 L161.6,201.9 L164,203.6 L166.3,203 L168.9,206.4 L171.4,202.2 L174,204.4 L176.6,202.7 L179.1,200 L181.7,197.1 L184,202.1 L186.3,200.7 L188.7,199.2 L191,198.7 L193.3,199.6 L195.6,193.2 L197.9,198.1 L200.3,197.5 L202.6,197.7 L204.9,199.1 L207.1,198.6 L209.3,197.1 L211.5,195 L213.8,191 L216,188.1 L218.2,190.5 L220.4,186.3 L222.7,186.4 L225.1,189.3 L227.4,189.2 L229.7,185 L232,186 L234.4,188.9 L236.7,192 L239,193.5 L241.3,186.4 L243.7,184.3 L246,184.5 L248.4,186.2 L250.7,185.4 L253.1,187.1 L255.5,185.1 L257.8,185.8 L260.2,178.3 L262.5,180.8 L264.9,183.1 L267.3,183.3 L269.6,180.3 L272,181 L274.3,178 L276.7,178.3 L279,178.9 L281.3,177.6 L283.7,172.4 L286,175.5 L288.4,176.9 L290.7,175.7 L293,165.4 L295.4,170.5 L297.7,165.9 L300,173.3 L302.3,170.2 L304.6,170.2 L306.9,167.5 L309.1,171.4 L311.4,172.5 L313.7,170.6 L316,170.8 L318.3,171.6 L320.7,171.3 L323.1,171.6 L325.5,170.3 L327.9,171.2 L330.4,176 L332.8,171.6 L335.2,170.9 L337.6,162.4 L340,167.6 L342.6,167.8 L345.1,167.7 L347.7,161.1 L350.3,166.8 L352.9,166.1 L355.4,169 L358,172.4 L360.3,166.3 L362.6,172.7 L364.9,168 L367.2,172 L369.4,171 L371.7,171.7 L374,176 L376.3,169.5 L378.6,169 L380.9,165.7 L383.3,167.3 L385.6,163.9 L388,163.4 L390.3,164.2 L392.7,165.6 L395,166.5 L397.4,164.6 L399.7,170.8 L402.1,159.3 L404.4,160.6 L407,162.3 L409.6,162.9 L412.1,166.6 L414.7,163 L417.3,160.6 L419.9,164.8 L422.4,164.7 L425,168.8 L427.6,166 L430.2,165.5 L432.7,165.6 L435.3,163.7 L437.9,159.8 L440.1,160.9 L442.3,162.7 L444.5,170.5 L446.7,163.3 L448.9,164.8 L451.1,163.2 L453.4,161.9 L455.6,160.9 L457.8,158.5 L460,160.3 L462.2,162.1 L464.4,160.8 L466.6,162 L468.8,162.2 L471.4,166.5 L474,177.9 L476.3,172.7 L478.6,172.6 L480.9,171 L483.2,170.9 L485.4,171.9 L487.7,171.1 L490,169.7 L492.3,170.7 L494.6,167.7 L497.2,166.7 L499.7,170.2 L502.3,160.4 L504.6,162.8 L506.8,164 L509.1,163 L511.4,162.5 L513.6,164.1 L515.9,165.2 L518.1,173.5 L520.4,171.3 L522.6,168.7 L524.9,170.1 L527.1,166.4 L529.4,168.7 L531.6,170.7 L533.9,170.5 L536.1,172.6 L538.4,173 L541,169.2 L543.5,163.4 L546.1,157.6 L548.4,158.4 L550.7,155.9 L553,159.7 L555.3,160.2 L557.5,159.7 L559.8,149.7 L562.1,158.4 L564.4,155.6 L566.7,155 L569,155 L571.2,157.2 L573.5,155.1 L575.8,158.8 L578,158.2 L580.3,160.7 L582.5,157.8 L584.8,156.1 L587.1,157.6 L589.4,157.6 L591.8,158.9 L594.1,157.2 L596.4,152.1 L598.7,147.8 L601,153.9 L603.4,148.1 L605.7,150.1 L608,148.3 L610.6,153.4 L613.1,154.1 L615.7,158.6 L618.2,159.4 L620.8,158.8 L623,160.7 L625.2,157.4 L627.4,155.2 L629.7,152.4 L631.9,150.1 L634.1,149.4 L636.3,145.2 L638.6,140.6 L640.9,135.9 L643.1,135.2 L645.4,133.5 L647.7,128.2 L650,133.7 L652.2,135.4 L654.5,137.9 L656.8,138.9 L659,140.5 L661.3,141.7 L663.5,138.3 L665.8,141.4 L668.4,142.4 L671,139.8 L673.5,144.5 L676.1,143.9 L678.7,146 L681.3,140 L683.8,139.4 L686.4,135.1 L688.9,136.2 L691.5,134 L693.8,135.1 L696.2,137.5 L698.5,134.8 L700.9,134.4 L703.2,137.5 L705.6,135.8 L707.9,135.4 L710.3,135 L712.6,137.5 L715,137.7 L717.3,136.2 L719.5,135.5 L721.8,140.9 L724,141.4 L726.3,140.2 L728.5,140.5 L730.8,145.1 L733,146.8 L735.3,140.6 L737.9,145.6 L740.5,143.4 L743,142.6 L745.6,141.1 L748.2,141.4 L750.5,137.4 L752.8,138.1 L755.1,141.4 L757.4,139 L759.6,137.7 L761.9,138.3 L764.2,137.1 L766.5,138.3 L768.8,142.3 L771.4,137.1 L774,138 L776.5,133.8 L779.1,132.4 L781.7,133.3 L784.3,130.8 L786.9,139.3 L789.4,143.7 L792,140.8 L794.6,139 L796.8,139.1 L799,136.1 L801.2,137.2 L803.5,136 L805.7,133.1 L807.9,132.4 L810.1,130.5 L812.7,135.9 L815.2,132.9 L817.8,134.4 L820.4,132 L822.9,122.9 L825.5,121 L827.8,119.3 L830.1,119.3 L832.4,117.4 L834.7,117.4 L836.9,118.4 L839.2,120.9 L841.5,115.2 L843.8,116.9 L846.1,113.4 L848.7,118.1 L851.3,116.2 L853.8,113.2 L856.4,115.4 L859,114.6 L861.6,111.1 L864.2,115 L866.7,113.8 L869.3,112.5 L871.9,112.2 L874.2,110.1 L876.6,116.3 L878.9,117.8 L881.3,119.2 L883.6,121.1 L886,118.8 L888.3,120.1 L890.7,117.9 L893,123.6 L895.4,122.7 L897.7,122.7 L900,123.2 L902.2,126.1 L904.5,122.7 L906.7,122 L909,123 L911.2,118.4 L913.5,121 L915.7,124 L918.2,124.3 L920.6,121.3 L923,118.5 L925.5,120.9 L928,119.3 L930.4,115.8 L932.6,118 L934.8,117.3 L937,117.6 L939.3,119.8 L941.5,121.9 L943.7,119.5 L945.9,121 L948.2,122.2 L950.5,130 L952.7,129.3 L955,123.8 L957.3,131.3 L959.5,133.5 L961.8,134.8 L964.1,138.7 L966.7,137.1 L969.2,136.1 L971.8,130.8 L974.4,124.9 L976.7,125.7 L979,123.5 L981.2,123.4 L983.5,117.9 L985.9,115.9 L988.3,115.7 L990.7,116.7 L993.2,119.4 L995.6,111.3 L998,110.5 L1000.4,103.6 L1002.8,109.6 L1005.2,110.8 L1007.7,112.2 L1010.1,112.4 L1012.5,110.6 L1014.9,117 L1017.4,119.6 L1019.8,121.3 L1022.1,122 L1024.3,126.2 L1026.6,129.3 L1028.9,137.5 L1031.2,133 L1033.5,132.4 L1035.8,129.1 L1038.1,129 L1040.4,126.7 L1042.7,123.4 L1045,122.2 L1047.3,118.7 L1049.6,118.9 L1051.9,121.7 L1054.2,118.1 L1056.5,118.1 L1058.8,116.3 L1061.2,119.8 L1063.5,117.7 L1065.8,115.3 L1068.1,113.9 L1070.4,115 L1072.8,112.6 L1075.1,113.2 L1077.5,109.1 L1079.8,109.3 L1082.2,109.3 L1084.5,105.6 L1086.9,104.9 L1089.2,107.4 L1091.6,106.1 L1093.9,107.6 L1096.3,107.6 L1098.5,107.3 L1100.8,108 L1103,108.4 L1105.2,111.7 L1107.4,111.8 L1109.7,118.1 L1111.9,115.3 L1114.1,114 L1116.3,113.7 L1118.5,117.8 L1120.8,108.7 L1123,110.5 L1125.2,108.3 L1127.4,109 L1129.7,105.6 L1132,101 L1134.2,105.1 L1136.5,105.2 L1138.8,107.8 L1141,104.6 L1143.3,105.4 L1145.6,101.4 L1147.9,104.3 L1150.1,106.1 L1152.4,105.5 L1154.7,110.1 L1156.9,108.7 L1159.2,112.6 L1161.4,111.2 L1163.7,112.8 L1165.9,114.6 L1168.2,116.1 L1170.4,118.5 L1172.6,122.2 L1174.8,114.2 L1177.1,111.2 L1179.3,116.9 L1181.7,110.5 L1184,111.1 L1186.4,112.3 L1188.7,112.9 L1191.1,111.9 L1193.4,111.1 L1195.8,113.5 L1198.1,112.8 L1200.5,108 L1202.8,105.8 L1205.2,109.7 L1207.8,107.8 L1210.4,109.4 L1213,106.2 L1215.6,105.7 L1217.8,107.1 L1220,107.1 L1222.2,111.3 L1224.5,110.6 L1226.7,113.4 L1228.9,115.6 L1231.1,113.8 L1233.3,116 L1235.5,116.4 L1237.8,118.2 L1240,117.8" fill="none" stroke="#7088d4" stroke-opacity="0.35" stroke-width="12" filter="url(#blA)"/></g>
<path d="M50.3,182.5 L52.9,181.5 L55.5,182 L58,182.2 L60.6,179 L63.2,181.4 L65.8,180.7 L68.4,181.5 L71,179.1 L73.5,181.9 L76.1,181.5 L78.7,180.3 L81.2,184.1 L83.8,184.3 L86.4,183.6 L89,182.3 L91.5,181.1 L94.1,177.3 L96.7,176.2 L99.2,173.6 L101.8,173.5 L104.4,173 L107,173.4 L109.6,175.6 L112.2,175.3 L114.7,175.8 L117.3,177.3 L119.9,177.7 L122.5,176 L125.1,174.3 L127.6,175.6 L130.2,172.2 L132.8,169.3 L135.3,170.9 L137.9,168.4 L140.4,167.1 L143,168.6 L145.6,165.8 L148.2,166.3 L150.7,165.3 L153.3,166 L155.9,161.4 L158.5,165.2 L161.1,165.3 L163.6,165.5 L166.2,167.4 L168.8,165.3 L171.4,163.7 L174,162.6 L176.5,163.3 L179.1,159.2 L181.7,164 L184.3,163.1 L186.9,163 L189.4,160.7 L192,162.9 L194.6,161.5 L197.2,165.4 L199.8,161.2 L202.3,161.1 L204.9,160.3 L207.5,165.9 L210.1,158.5 L212.7,160.3 L215.2,157.8 L217.8,157.5 L220.4,158.5 L223,156.6 L225.5,153.5 L228.1,155.3 L230.6,155.6 L233.2,153.4 L235.8,153.8 L238.3,153.3 L240.9,154.4 L243.4,152.5 L246,150.8 L248.6,151.1 L251.2,150.8 L253.8,145.8 L256.4,149 L259,151 L261.6,150 L264.2,147.8 L266.8,149.3 L269.4,144.2 L272,146.8 L274.6,144 L277.1,143.2 L279.7,146.6 L282.2,144.7 L284.8,142 L287.4,138.8 L289.9,139.1 L292.5,139.5 L295.1,143.4 L297.6,136.4 L300.2,141.2 L302.8,138.8 L305.4,134.1 L307.9,133.4 L310.5,132.6 L313.1,137.4 L315.7,139.2 L318.2,133 L320.8,131.5 L323.4,131.9 L326,131.7 L328.6,133.1 L331.1,133 L333.7,129.2 L336.3,130.3 L338.9,131.5 L341.5,129.1 L344,126.6 L346.6,128.5 L349.2,128.7 L351.8,124.6 L354.3,127.1 L356.9,126.6 L359.5,127.7 L362.2,126.3 L365,126.5 L367.7,126.9 L370.4,126.7 L373.1,127.3 L375.9,130.4 L378.6,126 L381.2,132.2 L383.8,139.4 L386.4,133.8 L389,130.3 L391.5,129.5 L394.1,130.3 L396.7,127.4 L399.3,126.5 L401.9,128.8 L404.4,128.5 L407,127.2 L409.6,125.7 L412.1,127.7 L414.7,127.2 L417.3,131.5 L419.9,127.7 L422.4,127.1 L425,130.8 L427.6,132.2 L430.2,131.8 L432.8,130.6 L435.3,133.2 L437.9,134.9 L440.5,131.3 L443,129.6 L445.6,128.7 L448.2,127.4 L450.8,126.6 L453.4,125.8 L455.9,126.8 L458.5,124.5 L461.1,128.3 L463.7,131.7 L466.3,132 L468.8,134.6 L471.4,135.9 L474,136.2 L476.6,137.1 L479.2,132.5 L481.7,133.7 L484.3,133.9 L486.9,131.7 L489.5,130 L492,131.8 L494.6,131.1 L497.2,129.7 L499.8,126.4 L502.3,127.6 L504.9,127 L507.5,128.8 L510,127.3 L512.6,129.3 L515.2,132.1 L517.8,133.2 L520.4,133.7 L522.9,137.5 L525.5,136.6 L528.1,134.6 L530.6,130.3 L533.2,128.9 L535.8,125.9 L538.4,127.2 L541,126 L543.5,126.9 L546.1,127.8 L548.7,126.6 L551.3,125.2 L553.9,123.7 L556.5,124.4 L559,121.7 L561.6,118.7 L564.2,117.2 L566.8,117.8 L569.3,122.6 L571.9,122.1 L574.4,125.8 L577,126.9 L579.6,125.1 L582.2,127 L584.7,121.2 L587.3,117.1 L589.9,113.6 L592.5,113.2 L595.1,112.1 L597.6,113.1 L600.2,114.7 L602.8,116.8 L605.4,114.8 L608,111.2 L610.5,113.2 L613.1,113.7 L615.7,111.8 L618.3,110.1 L620.9,107.2 L623.4,108.1 L626,107.6 L628.6,105.2 L631.2,101.2 L633.7,104.7 L636.3,102.2 L640,98.2 L642.6,96.4 L645.1,95.6 L647.7,96.2 L650.3,94 L652.9,100.4 L655.5,105.6 L658,102.7 L660.6,100.1 L663.2,96.2 L665.8,95.4 L668.3,97.3 L670.9,96.9 L673.5,99.8 L676.1,100.6 L678.7,101.7 L681.3,103.2 L683.8,103.9 L686.4,101.3 L688.9,96.4 L691.5,99.1 L694.1,98.7 L696.7,96.5 L699.2,96.5 L701.8,96.3 L704.4,97.5 L707,95.8 L709.6,98.7 L712.1,100.6 L714.7,98.5 L717.3,98.6 L719.9,103.4 L722.5,103 L725,105.9 L727.6,107.5 L730.2,109.4 L732.8,111.5 L735.3,109 L737.9,107.1 L740.5,102.8 L743,92.8 L745.6,100.4 L748.2,103.1 L750.8,104.7 L753.4,106.7 L756,112.5 L758.6,109.4 L761.1,108.2 L763.7,108.4 L766.2,106.6 L768.8,102.8 L771.4,101.5 L774,99.2 L776.6,98.7 L779.1,97.1 L781.7,96.1 L784.3,97 L786.9,96.1 L789.5,94.3 L792,93.7 L794.6,91.4 L797.2,91.1 L799.8,92.1 L802.3,92.8 L804.9,93.9 L807.5,93.8 L810.1,95.4 L812.6,93.9 L815.2,94 L817.8,95.6 L820.4,94.3 L822.9,93.9 L825.5,89.9 L828.1,87.9 L830.6,87.8 L833.2,85.3 L835.8,80.9 L838.3,82.6 L840.9,81.3 L843.4,81.3 L846,74.8 L848.6,75.5 L851.2,76.1 L853.8,76.3 L856.4,77.7 L859,76.2 L861.5,74.8 L864.1,77.5 L866.7,77.7 L869.3,76.3 L871.9,77.7 L874.5,76.2 L877.1,76.9 L879.6,72.2 L882.2,75.8 L884.8,75.4 L887.4,77.3 L890,75.1 L892.5,76 L895.1,79.2 L897.7,76.1 L900.3,73.8 L902.8,79.9 L905.4,78.1 L907.9,82.7 L910.5,82.2 L913.7,82.3 L916.8,79.1 L920,78.5 L922.6,81.5 L925.2,83.6 L927.8,82.9 L930.4,83.5 L933,84.6 L935.5,84.5 L938.1,86.1 L940.7,84.9 L943.3,89.9 L945.9,87.9 L948.5,85.5 L951.1,85.4 L953.7,87.3 L956.3,87.1 L958.9,86.3 L961.5,81.9 L964.1,90.2 L966.7,87.2 L969.3,88.4 L971.9,91.4 L974.4,94.4 L977,91.1 L979.6,93 L982.2,90.2 L984.8,88.7 L987.4,83.1 L990,83.2 L992.6,82.3 L995.2,79.8 L997.8,77.5 L1000.4,75.9 L1003,78.6 L1005.5,79.9 L1008.1,81.5 L1010.7,83.5 L1013.3,84.9 L1015.9,85.2 L1018.5,82.4 L1021.1,85.2 L1023.7,85.5 L1026.3,86.6 L1028.9,89.6 L1031.5,89.3 L1034.1,87.9 L1036.7,87.3 L1039.2,86.2 L1041.8,88.5 L1044.4,86.6 L1047,87.6 L1049.6,84.8 L1052.2,83.8 L1054.8,81.7 L1057.4,81.2 L1060,75.7 L1062.6,74.8 L1065.2,72 L1067.8,72 L1070.4,72.5 L1073,70.6 L1075.6,71.4 L1078.2,68.5 L1080.8,70.7 L1083.3,68.5 L1085.9,66.9 L1088.5,69.8 L1091.1,71.3 L1093.7,69.6 L1096.3,72.5 L1098.9,73.5 L1101.5,72.9 L1104.1,74.9 L1106.7,78.7 L1109.3,75.4 L1111.9,77.6 L1114.5,74.2 L1117,68.9 L1119.6,66.9 L1122.2,65.5 L1124.8,63.5 L1127.4,65.7 L1130,63 L1132.6,62.8 L1135.2,62.2 L1137.8,63.7 L1140.4,61.8 L1143,62.7 L1145.6,59.7 L1148.2,61.7 L1150.8,63.8 L1153.3,66.8 L1155.9,69.2 L1158.5,72.7 L1161.1,74.8 L1163.7,72.5 L1166.3,73.4 L1168.9,70.2 L1171.5,72.3 L1174.1,71.5 L1176.7,73.9 L1179.3,77.7 L1181.9,75.6 L1184.5,75.9 L1187.1,74.7 L1189.7,67.4 L1192.2,69.2 L1194.8,69.7 L1197.4,69.6 L1200,72.6 L1202.6,73.3 L1205.2,72.3 L1207.8,72.3 L1210.4,68.7 L1213,71.1 L1215.6,69.8 L1218.2,66.9 L1220.8,67.8 L1223.4,70.2 L1226,72.1 L1228.8,71.4 L1231.6,71.5 L1234.4,72.7 L1237.2,70.6 L1240,69.8" fill="none" stroke="#151515" stroke-width="2.1" stroke-linejoin="miter" stroke-miterlimit="3"/>
<path d="M50.3,219.8 L52.9,221.5 L55.5,224.8 L58,227.8 L60.6,225.7 L62.9,226.5 L65.1,224.2 L67.3,222.3 L69.6,220.8 L71.8,217.8 L74.1,215 L76.3,220.9 L78.6,218.6 L80.8,218.5 L83,214.5 L85.2,214.9 L87.5,212.3 L89.7,213.2 L91.9,212.7 L94.1,209.5 L96.4,211.8 L98.7,210.8 L101.1,212.6 L103.4,214.2 L105.7,211.7 L108,214.6 L110.3,213.3 L112.7,216.3 L115,213.5 L117.3,214.2 L119.6,215.9 L122,216.1 L124.3,210.7 L126.6,212.9 L129,212.5 L131.3,216.9 L133.7,211.4 L136,207.1 L138.3,210.3 L140.7,210 L143,208.8 L145.3,208.2 L147.7,207.9 L150,210.3 L152.3,206.8 L154.7,204.2 L157,205 L159.3,202.7 L161.6,201.9 L164,203.6 L166.3,203 L168.9,206.4 L171.4,202.2 L174,204.4 L176.6,202.7 L179.1,200 L181.7,197.1 L184,202.1 L186.3,200.7 L188.7,199.2 L191,198.7 L193.3,199.6 L195.6,193.2 L197.9,198.1 L200.3,197.5 L202.6,197.7 L204.9,199.1 L207.1,198.6 L209.3,197.1 L211.5,195 L213.8,191 L216,188.1 L218.2,190.5 L220.4,186.3 L222.7,186.4 L225.1,189.3 L227.4,189.2 L229.7,185 L232,186 L234.4,188.9 L236.7,192 L239,193.5 L241.3,186.4 L243.7,184.3 L246,184.5 L248.4,186.2 L250.7,185.4 L253.1,187.1 L255.5,185.1 L257.8,185.8 L260.2,178.3 L262.5,180.8 L264.9,183.1 L267.3,183.3 L269.6,180.3 L272,181 L274.3,178 L276.7,178.3 L279,178.9 L281.3,177.6 L283.7,172.4 L286,175.5 L288.4,176.9 L290.7,175.7 L293,165.4 L295.4,170.5 L297.7,165.9 L300,173.3 L302.3,170.2 L304.6,170.2 L306.9,167.5 L309.1,171.4 L311.4,172.5 L313.7,170.6 L316,170.8 L318.3,171.6 L320.7,171.3 L323.1,171.6 L325.5,170.3 L327.9,171.2 L330.4,176 L332.8,171.6 L335.2,170.9 L337.6,162.4 L340,167.6 L342.6,167.8 L345.1,167.7 L347.7,161.1 L350.3,166.8 L352.9,166.1 L355.4,169 L358,172.4 L360.3,166.3 L362.6,172.7 L364.9,168 L367.2,172 L369.4,171 L371.7,171.7 L374,176 L376.3,169.5 L378.6,169 L380.9,165.7 L383.3,167.3 L385.6,163.9 L388,163.4 L390.3,164.2 L392.7,165.6 L395,166.5 L397.4,164.6 L399.7,170.8 L402.1,159.3 L404.4,160.6 L407,162.3 L409.6,162.9 L412.1,166.6 L414.7,163 L417.3,160.6 L419.9,164.8 L422.4,164.7 L425,168.8 L427.6,166 L430.2,165.5 L432.7,165.6 L435.3,163.7 L437.9,159.8 L440.1,160.9 L442.3,162.7 L444.5,170.5 L446.7,163.3 L448.9,164.8 L451.1,163.2 L453.4,161.9 L455.6,160.9 L457.8,158.5 L460,160.3 L462.2,162.1 L464.4,160.8 L466.6,162 L468.8,162.2 L471.4,166.5 L474,177.9 L476.3,172.7 L478.6,172.6 L480.9,171 L483.2,170.9 L485.4,171.9 L487.7,171.1 L490,169.7 L492.3,170.7 L494.6,167.7 L497.2,166.7 L499.7,170.2 L502.3,160.4 L504.6,162.8 L506.8,164 L509.1,163 L511.4,162.5 L513.6,164.1 L515.9,165.2 L518.1,173.5 L520.4,171.3 L522.6,168.7 L524.9,170.1 L527.1,166.4 L529.4,168.7 L531.6,170.7 L533.9,170.5 L536.1,172.6 L538.4,173 L541,169.2 L543.5,163.4 L546.1,157.6 L548.4,158.4 L550.7,155.9 L553,159.7 L555.3,160.2 L557.5,159.7 L559.8,149.7 L562.1,158.4 L564.4,155.6 L566.7,155 L569,155 L571.2,157.2 L573.5,155.1 L575.8,158.8 L578,158.2 L580.3,160.7 L582.5,157.8 L584.8,156.1 L587.1,157.6 L589.4,157.6 L591.8,158.9 L594.1,157.2 L596.4,152.1 L598.7,147.8 L601,153.9 L603.4,148.1 L605.7,150.1 L608,148.3 L610.6,153.4 L613.1,154.1 L615.7,158.6 L618.2,159.4 L620.8,158.8 L623,160.7 L625.2,157.4 L627.4,155.2 L629.7,152.4 L631.9,150.1 L634.1,149.4 L636.3,145.2 L638.6,140.6 L640.9,135.9 L643.1,135.2 L645.4,133.5 L647.7,128.2 L650,133.7 L652.2,135.4 L654.5,137.9 L656.8,138.9 L659,140.5 L661.3,141.7 L663.5,138.3 L665.8,141.4 L668.4,142.4 L671,139.8 L673.5,144.5 L676.1,143.9 L678.7,146 L681.3,140 L683.8,139.4 L686.4,135.1 L688.9,136.2 L691.5,134 L693.8,135.1 L696.2,137.5 L698.5,134.8 L700.9,134.4 L703.2,137.5 L705.6,135.8 L707.9,135.4 L710.3,135 L712.6,137.5 L715,137.7 L717.3,136.2 L719.5,135.5 L721.8,140.9 L724,141.4 L726.3,140.2 L728.5,140.5 L730.8,145.1 L733,146.8 L735.3,140.6 L737.9,145.6 L740.5,143.4 L743,142.6 L745.6,141.1 L748.2,141.4 L750.5,137.4 L752.8,138.1 L755.1,141.4 L757.4,139 L759.6,137.7 L761.9,138.3 L764.2,137.1 L766.5,138.3 L768.8,142.3 L771.4,137.1 L774,138 L776.5,133.8 L779.1,132.4 L781.7,133.3 L784.3,130.8 L786.9,139.3 L789.4,143.7 L792,140.8 L794.6,139 L796.8,139.1 L799,136.1 L801.2,137.2 L803.5,136 L805.7,133.1 L807.9,132.4 L810.1,130.5 L812.7,135.9 L815.2,132.9 L817.8,134.4 L820.4,132 L822.9,122.9 L825.5,121 L827.8,119.3 L830.1,119.3 L832.4,117.4 L834.7,117.4 L836.9,118.4 L839.2,120.9 L841.5,115.2 L843.8,116.9 L846.1,113.4 L848.7,118.1 L851.3,116.2 L853.8,113.2 L856.4,115.4 L859,114.6 L861.6,111.1 L864.2,115 L866.7,113.8 L869.3,112.5 L871.9,112.2 L874.2,110.1 L876.6,116.3 L878.9,117.8 L881.3,119.2 L883.6,121.1 L886,118.8 L888.3,120.1 L890.7,117.9 L893,123.6 L895.4,122.7 L897.7,122.7 L900,123.2 L902.2,126.1 L904.5,122.7 L906.7,122 L909,123 L911.2,118.4 L913.5,121 L915.7,124 L918.2,124.3 L920.6,121.3 L923,118.5 L925.5,120.9 L928,119.3 L930.4,115.8 L932.6,118 L934.8,117.3 L937,117.6 L939.3,119.8 L941.5,121.9 L943.7,119.5 L945.9,121 L948.2,122.2 L950.5,130 L952.7,129.3 L955,123.8 L957.3,131.3 L959.5,133.5 L961.8,134.8 L964.1,138.7 L966.7,137.1 L969.2,136.1 L971.8,130.8 L974.4,124.9 L976.7,125.7 L979,123.5 L981.2,123.4 L983.5,117.9 L985.9,115.9 L988.3,115.7 L990.7,116.7 L993.2,119.4 L995.6,111.3 L998,110.5 L1000.4,103.6 L1002.8,109.6 L1005.2,110.8 L1007.7,112.2 L1010.1,112.4 L1012.5,110.6 L1014.9,117 L1017.4,119.6 L1019.8,121.3 L1022.1,122 L1024.3,126.2 L1026.6,129.3 L1028.9,137.5 L1031.2,133 L1033.5,132.4 L1035.8,129.1 L1038.1,129 L1040.4,126.7 L1042.7,123.4 L1045,122.2 L1047.3,118.7 L1049.6,118.9 L1051.9,121.7 L1054.2,118.1 L1056.5,118.1 L1058.8,116.3 L1061.2,119.8 L1063.5,117.7 L1065.8,115.3 L1068.1,113.9 L1070.4,115 L1072.8,112.6 L1075.1,113.2 L1077.5,109.1 L1079.8,109.3 L1082.2,109.3 L1084.5,105.6 L1086.9,104.9 L1089.2,107.4 L1091.6,106.1 L1093.9,107.6 L1096.3,107.6 L1098.5,107.3 L1100.8,108 L1103,108.4 L1105.2,111.7 L1107.4,111.8 L1109.7,118.1 L1111.9,115.3 L1114.1,114 L1116.3,113.7 L1118.5,117.8 L1120.8,108.7 L1123,110.5 L1125.2,108.3 L1127.4,109 L1129.7,105.6 L1132,101 L1134.2,105.1 L1136.5,105.2 L1138.8,107.8 L1141,104.6 L1143.3,105.4 L1145.6,101.4 L1147.9,104.3 L1150.1,106.1 L1152.4,105.5 L1154.7,110.1 L1156.9,108.7 L1159.2,112.6 L1161.4,111.2 L1163.7,112.8 L1165.9,114.6 L1168.2,116.1 L1170.4,118.5 L1172.6,122.2 L1174.8,114.2 L1177.1,111.2 L1179.3,116.9 L1181.7,110.5 L1184,111.1 L1186.4,112.3 L1188.7,112.9 L1191.1,111.9 L1193.4,111.1 L1195.8,113.5 L1198.1,112.8 L1200.5,108 L1202.8,105.8 L1205.2,109.7 L1207.8,107.8 L1210.4,109.4 L1213,106.2 L1215.6,105.7 L1217.8,107.1 L1220,107.1 L1222.2,111.3 L1224.5,110.6 L1226.7,113.4 L1228.9,115.6 L1231.1,113.8 L1233.3,116 L1235.5,116.4 L1237.8,118.2 L1240,117.8" fill="none" stroke="#151515" stroke-width="2.1" stroke-linejoin="miter" stroke-miterlimit="3"/>
</g>
<rect x="94.2" y="141.6" width="35.1" height="116.8" fill="none" stroke="#111" stroke-width="1.3"/>
<rect x="602.8" y="88.3" width="36.1" height="117.8" fill="none" stroke="#111" stroke-width="1.3"/>
<rect x="787.6" y="70.6" width="19.4" height="117.8" fill="none" stroke="#111" stroke-width="1.3"/>
<rect x="984.8" y="58.9" width="35.5" height="117.7" fill="none" stroke="#111" stroke-width="1.3"/>
<text x="136" y="148" font-size="20" fill="#000" text-anchor="start">Part 4</text>
<text x="539.5" y="100.5" font-size="20" fill="#000" text-anchor="start">Part 1</text>
<text x="727.5" y="84.8" font-size="20" fill="#000" text-anchor="start">Part 2</text>
<text x="925" y="71.1" font-size="20" fill="#000" text-anchor="start">Part 3</text>
<text x="65" y="82.8" font-size="23" fill="#000" text-anchor="start">a</text>
<rect x="976.3" y="212.3" width="176.6" height="6.6" fill="url(#cbar)"/>
<text x="962.5" y="242" font-size="15.8" fill="#000" text-anchor="start">Min</text>
<text x="1134.3" y="242" font-size="15.8" fill="#000" text-anchor="start">Max</text>
<rect x="50.1" y="47.4" width="1190" height="211.5" fill="none" stroke="#3a3a3a" stroke-width="1.4"/>
<line x1="113.7" y1="47.4" x2="113.7" y2="41.4" stroke="#3a3a3a" stroke-width="1.4"/>
<text x="113.7" y="33.9" font-size="16" fill="#3c3c3c" text-anchor="middle">100</text>
<line x1="177.3" y1="47.4" x2="177.3" y2="41.4" stroke="#3a3a3a" stroke-width="1.4"/>
<text x="177.3" y="33.9" font-size="16" fill="#3c3c3c" text-anchor="middle">200</text>
<line x1="240.9" y1="47.4" x2="240.9" y2="41.4" stroke="#3a3a3a" stroke-width="1.4"/>
<text x="240.9" y="33.9" font-size="16" fill="#3c3c3c" text-anchor="middle">300</text>
<line x1="304.5" y1="47.4" x2="304.5" y2="41.4" stroke="#3a3a3a" stroke-width="1.4"/>
<text x="304.5" y="33.9" font-size="16" fill="#3c3c3c" text-anchor="middle">400</text>
<line x1="368.1" y1="47.4" x2="368.1" y2="41.4" stroke="#3a3a3a" stroke-width="1.4"/>
<text x="368.1" y="33.9" font-size="16" fill="#3c3c3c" text-anchor="middle">500</text>
<line x1="431.7" y1="47.4" x2="431.7" y2="41.4" stroke="#3a3a3a" stroke-width="1.4"/>
<text x="431.7" y="33.9" font-size="16" fill="#3c3c3c" text-anchor="middle">600</text>
<line x1="495.3" y1="47.4" x2="495.3" y2="41.4" stroke="#3a3a3a" stroke-width="1.4"/>
<text x="495.3" y="33.9" font-size="16" fill="#3c3c3c" text-anchor="middle">700</text>
<line x1="558.9" y1="47.4" x2="558.9" y2="41.4" stroke="#3a3a3a" stroke-width="1.4"/>
<text x="558.9" y="33.9" font-size="16" fill="#3c3c3c" text-anchor="middle">800</text>
<line x1="622.5" y1="47.4" x2="622.5" y2="41.4" stroke="#3a3a3a" stroke-width="1.4"/>
<text x="622.5" y="33.9" font-size="16" fill="#3c3c3c" text-anchor="middle">900</text>
<line x1="686.1" y1="47.4" x2="686.1" y2="41.4" stroke="#3a3a3a" stroke-width="1.4"/>
<text x="686.1" y="33.9" font-size="16" fill="#3c3c3c" text-anchor="middle">1000</text>
<line x1="749.7" y1="47.4" x2="749.7" y2="41.4" stroke="#3a3a3a" stroke-width="1.4"/>
<text x="749.7" y="33.9" font-size="16" fill="#3c3c3c" text-anchor="middle">1100</text>
<line x1="813.3" y1="47.4" x2="813.3" y2="41.4" stroke="#3a3a3a" stroke-width="1.4"/>
<text x="813.3" y="33.9" font-size="16" fill="#3c3c3c" text-anchor="middle">1200</text>
<line x1="876.9" y1="47.4" x2="876.9" y2="41.4" stroke="#3a3a3a" stroke-width="1.4"/>
<text x="876.9" y="33.9" font-size="16" fill="#3c3c3c" text-anchor="middle">1300</text>
<line x1="940.5" y1="47.4" x2="940.5" y2="41.4" stroke="#3a3a3a" stroke-width="1.4"/>
<text x="940.5" y="33.9" font-size="16" fill="#3c3c3c" text-anchor="middle">1400</text>
<line x1="1004.1" y1="47.4" x2="1004.1" y2="41.4" stroke="#3a3a3a" stroke-width="1.4"/>
<text x="1004.1" y="33.9" font-size="16" fill="#3c3c3c" text-anchor="middle">1500</text>
<line x1="1067.7" y1="47.4" x2="1067.7" y2="41.4" stroke="#3a3a3a" stroke-width="1.4"/>
<text x="1067.7" y="33.9" font-size="16" fill="#3c3c3c" text-anchor="middle">1600</text>
<line x1="1131.3" y1="47.4" x2="1131.3" y2="41.4" stroke="#3a3a3a" stroke-width="1.4"/>
<text x="1131.3" y="33.9" font-size="16" fill="#3c3c3c" text-anchor="middle">1700</text>
<line x1="1194.9" y1="47.4" x2="1194.9" y2="41.4" stroke="#3a3a3a" stroke-width="1.4"/>
<text x="1194.9" y="33.9" font-size="16" fill="#3c3c3c" text-anchor="middle">1800</text>
<line x1="50.1" y1="59.1" x2="44.1" y2="59.1" stroke="#3a3a3a" stroke-width="1.4"/>
<text x="38.6" y="64.9" font-size="16" fill="#3c3c3c" text-anchor="end">-10</text>
<line x1="50.1" y1="82.6" x2="44.1" y2="82.6" stroke="#3a3a3a" stroke-width="1.4"/>
<text x="38.6" y="88.4" font-size="16" fill="#3c3c3c" text-anchor="end">-8</text>
<line x1="50.1" y1="106.1" x2="44.1" y2="106.1" stroke="#3a3a3a" stroke-width="1.4"/>
<text x="38.6" y="111.9" font-size="16" fill="#3c3c3c" text-anchor="end">-6</text>
<line x1="50.1" y1="129.6" x2="44.1" y2="129.6" stroke="#3a3a3a" stroke-width="1.4"/>
<text x="38.6" y="135.4" font-size="16" fill="#3c3c3c" text-anchor="end">-4</text>
<line x1="50.1" y1="153.1" x2="44.1" y2="153.1" stroke="#3a3a3a" stroke-width="1.4"/>
<text x="38.6" y="158.9" font-size="16" fill="#3c3c3c" text-anchor="end">-2</text>
<line x1="50.1" y1="176.6" x2="44.1" y2="176.6" stroke="#3a3a3a" stroke-width="1.4"/>
<text x="38.6" y="182.4" font-size="16" fill="#3c3c3c" text-anchor="end">0</text>
<line x1="50.1" y1="200.1" x2="44.1" y2="200.1" stroke="#3a3a3a" stroke-width="1.4"/>
<text x="38.6" y="205.9" font-size="16" fill="#3c3c3c" text-anchor="end">2</text>
<line x1="50.1" y1="223.6" x2="44.1" y2="223.6" stroke="#3a3a3a" stroke-width="1.4"/>
<text x="38.6" y="229.4" font-size="16" fill="#3c3c3c" text-anchor="end">4</text>
<line x1="50.1" y1="247.1" x2="44.1" y2="247.1" stroke="#3a3a3a" stroke-width="1.4"/>
<text x="38.6" y="252.9" font-size="16" fill="#3c3c3c" text-anchor="end">6</text>
<text x="645.5" y="14" font-size="16.2" fill="#3c3c3c" text-anchor="middle">Distance (m)</text>
<text x="0" y="0" font-size="16" fill="#3c3c3c" text-anchor="middle" transform="translate(13.6,153) rotate(-90)">Depth (m)</text>
<rect x="56.2" y="319.5" width="570.5" height="285.5" fill="#fcf2f1"/>
<path d="M56.2,367.7 L58.2,368.3 L60.3,368.6 L62.3,367.9 L64.4,367.3 L66.4,366.9 L68.4,367.4 L70.5,367 L72.5,366.6 L74.6,367.3 L76.6,367.5 L78.6,367.7 L80.7,367 L82.7,367.3 L84.7,367.3 L86.8,366.5 L88.8,367.3 L90.9,367.4 L92.9,368.5 L94.9,367.7 L97,367.2 L99,367.8 L101.1,367.4 L103.1,367.6 L105.1,367.1 L107.2,367.2 L109.2,367.6 L111.3,367.5 L113.3,367.2 L115.3,366.5 L117.4,367 L119.4,367 L121.5,367.2 L123.5,367.1 L125.5,367.4 L127.6,366.9 L129.6,366.9 L131.6,367.1 L133.7,366.3 L135.7,366.4 L137.8,366.3 L139.8,367.5 L141.8,366.8 L143.9,367 L145.9,367 L148,366.5 L150,365.7 L152,366.7 L154,366.3 L156,366.8 L158,365.9 L160,366 L162,366.9 L164,367.2 L166,365.9 L168,365.5 L170,366 L172,366.6 L174,366.4 L176,366.4 L178,365.8 L180,366.4 L182,366.8 L184,366.1 L186,365.4 L188,365.5 L190,366.3 L192,365.3 L194,365.8 L196,365.5 L198,365.8 L200,365.8 L202,365.9 L204,366.7 L206,366.4 L208,366.7 L210,366.1 L212,365.7 L214,366 L216,364.5 L218,365.4 L220,365.8 L222,365.1 L224,365.8 L226,365.5 L228,364.4 L230,365.2 L232,365 L234,365.2 L236,365.4 L238,366.2 L240,365.8 L242,365.6 L244,365.8 L246,364.7 L248,365.9 L250,365.1 L252,365.6 L254,364.9 L256,364.8 L258,365 L260,366.2 L262,365.9 L264,365.2 L266,365.1 L268,364.6 L270,365 L272,364.8 L274,365.4 L276,364.5 L278,364.7 L280,364.5 L282,364.5 L284,365.2 L286,365.1 L288,365.2 L290,365.6 L292,365.6 L294,364.4 L296,364.9 L298,363.9 L300,364.4 L302,365.6 L304,364.8 L306,364.5 L308,364.6 L310,364.6 L312,364.5 L314,364.1 L316,364.9 L318,365 L320,364.5 L322,364.5 L324,364.7 L326,364.8 L328,364.5 L330,364.5 L332,364 L334,363.4 L336,363.5 L338,364.2 L340,364.4 L342,363.9 L344,363.4 L346,363.6 L348,364.3 L350,364.4 L352,363.3 L354,363.3 L356,362.5 L358,362.4 L360,363 L362,363 L364,363.4 L366,363.7 L368,363.5 L370,363.6 L372,362.7 L374,362.1 L376,362.7 L378,363.9 L380,363 L382,362 L384,362.3 L386,363 L388,361.9 L390,362.4 L392,361.8 L394,362.6 L396,362.5 L398,362.2 L400,362.9 L402,361.9 L404,361.4 L406,362.4 L408,361.3 L410,362.5 L412,361.7 L414,360.9 L416,361.1 L418,361.2 L420,361.2 L422,361 L424,361.5 L426,359.9 L428,360.3 L430,360.5 L432,361.6 L434,359.9 L436,360.2 L438,359.9 L440,359.9 L442,360.6 L444,360.6 L446,361.1 L448,360.2 L450,360.3 L452,360.7 L454,360.7 L456,360 L458,360.5 L460,359.5 L462,360.6 L464,360 L466,359.7 L468,359.7 L470,360 L472,360.4 L474,359.6 L476,359.2 L478,359.5 L480,358.8 L482,358.1 L484,359.2 L486,358.8 L488,359.4 L490,358.5 L492,357.2 L494,358.4 L496,358.6 L498,359.4 L500,359 L502,358.7 L504,358.7 L506,358.2 L508,358.2 L510,357.4 L512,358.1 L514,357.5 L516,357.5 L518,358 L520,358.2 L522,357.2 L524,358.4 L526,357.4 L528,357.7 L530,357.8 L532,357.5 L534,357.3 L536,358 L538,357.6 L540,357.3 L542,356 L544,356.1 L546,357 L548,356.7 L550,356 L552,355.9 L554,356 L556,356.4 L558,356.4 L560,356.6 L562,355.7 L564,356.2 L566.1,355.6 L568.1,355.4 L570.1,356.3 L572.1,355.7 L574.1,355.3 L576.2,355.1 L578.2,354.9 L580.2,355.7 L582.2,355.8 L584.3,355.5 L586.3,355 L588.3,355.2 L590.3,354.7 L592.3,354.7 L594.4,354.6 L596.4,354.4 L598.4,355 L600.4,355.2 L602.4,355 L604.5,353.2 L606.5,354.5 L608.5,354.2 L610.5,353.5 L612.6,353.5 L614.6,353.9 L616.6,354 L618.6,353.8 L620.6,353.4 L622.7,353.1 L624.7,353.3 L626.7,352.8 L626.7,582.9 L624.7,583 L622.7,583.4 L620.7,583.5 L618.7,583.2 L616.7,584 L614.7,583.8 L612.6,583.8 L610.6,583.4 L608.6,582.9 L606.6,583 L604.6,583.4 L602.6,584 L600.6,583.6 L598.6,583.6 L596.6,583.7 L594.6,583.6 L592.6,585.1 L590.6,584.3 L588.5,584.5 L586.5,584.8 L584.5,584.9 L582.5,585.3 L580.5,583.6 L578.5,584.4 L576.5,584.7 L574.5,584.6 L572.5,585.3 L570.5,584.9 L568.5,584.4 L566.5,584.9 L564.5,584.8 L562.4,585.4 L560.4,585.1 L558.4,585.1 L556.4,586 L554.4,585.4 L552.4,586.1 L550.4,585.3 L548.4,585.1 L546.4,585.4 L544.4,585.9 L542.4,586 L540.4,585.4 L538.4,585.4 L536.3,585.7 L534.3,585.4 L532.3,585.7 L530.3,586.1 L528.3,586 L526.3,585.4 L524.3,586 L522.3,587.1 L520.3,587.3 L518.3,586.8 L516.3,586.7 L514.3,586.4 L512.2,586.9 L510.2,587.2 L508.2,586.8 L506.2,587.6 L504.2,587.5 L502.2,587.7 L500.2,588 L498.2,587.8 L496.2,586.8 L494.2,587.8 L492.2,588 L490.2,588.2 L488.2,587.9 L486.1,587.9 L484.1,587.5 L482.1,588 L480.1,588.3 L478.1,587.7 L476.1,588.5 L474.1,588.5 L472.1,588.6 L470.1,588.6 L468.1,589 L466.1,588.5 L464.1,588.8 L462,588.3 L460,588.3 L458,588.3 L456,587.8 L454,588.6 L452,589.1 L450,589.2 L448,589.2 L446,589.3 L444,588.8 L442,589.2 L440,589.3 L438,589.5 L436,589.1 L434,589.7 L432,590.6 L430,590.7 L428,590.2 L426,590.4 L424,589.7 L422,589.9 L420,589.8 L418,590.5 L416,590.4 L414,590.6 L412,590.6 L410,590.2 L408,590.6 L406,590.7 L404,590.6 L402,590.9 L400,591 L398,591 L396,590.5 L394,590.8 L392,590.9 L390,590.7 L388,591 L386,592 L384,591.6 L382,592 L380,591.6 L378,591.5 L376,592.9 L374,591.5 L372,591 L370,592.5 L368,592.6 L366,592.3 L364,592.5 L362,592.5 L360,592.6 L358,592.7 L356,593 L354,592.3 L352,592.4 L350,592.8 L348,593.1 L346,592.8 L344,592.7 L342,592.8 L340,592.8 L338,593.2 L336,593.6 L334,593.7 L332,593.7 L330,593.2 L328,593.4 L326,593.6 L324,593.4 L322,593.5 L320,594.3 L318,593.7 L316,594.5 L314,593.6 L312,594.4 L310,594.6 L308,594.9 L306,594.7 L304,594.7 L302,594.1 L300,594.3 L298,594.9 L296,595.1 L294,594.8 L292,595 L290,594.9 L288,594.9 L286,595.4 L284,595 L282,594.7 L280,595 L278,595.1 L276,595.3 L274,595.3 L272,595.8 L270,595.8 L268,596 L266,595.6 L264,595.4 L262,595.2 L260,595.5 L258,595.3 L256,594.8 L254,595.9 L252,595.3 L250,595 L248,595.5 L246,595.7 L244,595.8 L242,596 L240,595.2 L238,594.9 L236,595 L234,595.1 L232,595.2 L230,595.2 L228,595.4 L226,594.8 L224,595.6 L222,595.2 L220,595.2 L218,595.1 L216,594.5 L214,595.6 L212,595.2 L210,594.9 L208,595.1 L206,595.4 L204,595.1 L202,595.6 L200,596.1 L198,595.5 L196,595.9 L194,595.5 L192,595.8 L190,595.4 L188,595.7 L186,596 L184,595.6 L182,595.2 L180,595.5 L178,595.1 L176,594.9 L174,595.7 L172,596.3 L170,596.3 L168,595.3 L166,595.6 L164,595.1 L162,595.7 L160,595 L158,595.8 L156,595.3 L154,595.3 L152,596 L150,596.1 L148,596.4 L145.9,596.7 L143.9,595.2 L141.8,595.3 L139.8,595.9 L137.8,595.2 L135.7,596 L133.7,595.9 L131.6,596.7 L129.6,595.9 L127.6,596 L125.5,595.7 L123.5,594.9 L121.5,596.5 L119.4,596.2 L117.4,596.4 L115.3,596.3 L113.3,596.2 L111.3,596 L109.2,596.8 L107.2,595.8 L105.1,596.5 L103.1,596.2 L101.1,596.6 L99,596.6 L97,596.6 L94.9,596.2 L92.9,596.5 L90.9,596.7 L88.8,595.3 L86.8,596.5 L84.7,596.7 L82.7,596.3 L80.7,596.5 L78.6,596.4 L76.6,596.3 L74.6,596.3 L72.5,596.4 L70.5,596.5 L68.4,596.4 L66.4,597.3 L64.4,597 L62.3,597.1 L60.3,597 L58.2,597.9 L56.2,597 Z" fill="#f6e4ee" filter="url(#sf1)"/>
<g mask="url(#mk1)"><clipPath id="cr1"><path d="M56.2,367.7 L58.2,368.3 L60.3,368.6 L62.3,367.9 L64.4,367.3 L66.4,366.9 L68.4,367.4 L70.5,367 L72.5,366.6 L74.6,367.3 L76.6,367.5 L78.6,367.7 L80.7,367 L82.7,367.3 L84.7,367.3 L86.8,366.5 L88.8,367.3 L90.9,367.4 L92.9,368.5 L94.9,367.7 L97,367.2 L99,367.8 L101.1,367.4 L103.1,367.6 L105.1,367.1 L107.2,367.2 L109.2,367.6 L111.3,367.5 L113.3,367.2 L115.3,366.5 L117.4,367 L119.4,367 L121.5,367.2 L123.5,367.1 L125.5,367.4 L127.6,366.9 L129.6,366.9 L131.6,367.1 L133.7,366.3 L135.7,366.4 L137.8,366.3 L139.8,367.5 L141.8,366.8 L143.9,367 L145.9,367 L148,366.5 L150,365.7 L152,366.7 L154,366.3 L156,366.8 L158,365.9 L160,366 L162,366.9 L164,367.2 L166,365.9 L168,365.5 L170,366 L172,366.6 L174,366.4 L176,366.4 L178,365.8 L180,366.4 L182,366.8 L184,366.1 L186,365.4 L188,365.5 L190,366.3 L192,365.3 L194,365.8 L196,365.5 L198,365.8 L200,365.8 L202,365.9 L204,366.7 L206,366.4 L208,366.7 L210,366.1 L212,365.7 L214,366 L216,364.5 L218,365.4 L220,365.8 L222,365.1 L224,365.8 L226,365.5 L228,364.4 L230,365.2 L232,365 L234,365.2 L236,365.4 L238,366.2 L240,365.8 L242,365.6 L244,365.8 L246,364.7 L248,365.9 L250,365.1 L252,365.6 L254,364.9 L256,364.8 L258,365 L260,366.2 L262,365.9 L264,365.2 L266,365.1 L268,364.6 L270,365 L272,364.8 L274,365.4 L276,364.5 L278,364.7 L280,364.5 L282,364.5 L284,365.2 L286,365.1 L288,365.2 L290,365.6 L292,365.6 L294,364.4 L296,364.9 L298,363.9 L300,364.4 L302,365.6 L304,364.8 L306,364.5 L308,364.6 L310,364.6 L312,364.5 L314,364.1 L316,364.9 L318,365 L320,364.5 L322,364.5 L324,364.7 L326,364.8 L328,364.5 L330,364.5 L332,364 L334,363.4 L336,363.5 L338,364.2 L340,364.4 L342,363.9 L344,363.4 L346,363.6 L348,364.3 L350,364.4 L352,363.3 L354,363.3 L356,362.5 L358,362.4 L360,363 L362,363 L364,363.4 L366,363.7 L368,363.5 L370,363.6 L372,362.7 L374,362.1 L376,362.7 L378,363.9 L380,363 L382,362 L384,362.3 L386,363 L388,361.9 L390,362.4 L392,361.8 L394,362.6 L396,362.5 L398,362.2 L400,362.9 L402,361.9 L404,361.4 L406,362.4 L408,361.3 L410,362.5 L412,361.7 L414,360.9 L416,361.1 L418,361.2 L420,361.2 L422,361 L424,361.5 L426,359.9 L428,360.3 L430,360.5 L432,361.6 L434,359.9 L436,360.2 L438,359.9 L440,359.9 L442,360.6 L444,360.6 L446,361.1 L448,360.2 L450,360.3 L452,360.7 L454,360.7 L456,360 L458,360.5 L460,359.5 L462,360.6 L464,360 L466,359.7 L468,359.7 L470,360 L472,360.4 L474,359.6 L476,359.2 L478,359.5 L480,358.8 L482,358.1 L484,359.2 L486,358.8 L488,359.4 L490,358.5 L492,357.2 L494,358.4 L496,358.6 L498,359.4 L500,359 L502,358.7 L504,358.7 L506,358.2 L508,358.2 L510,357.4 L512,358.1 L514,357.5 L516,357.5 L518,358 L520,358.2 L522,357.2 L524,358.4 L526,357.4 L528,357.7 L530,357.8 L532,357.5 L534,357.3 L536,358 L538,357.6 L540,357.3 L542,356 L544,356.1 L546,357 L548,356.7 L550,356 L552,355.9 L554,356 L556,356.4 L558,356.4 L560,356.6 L562,355.7 L564,356.2 L566.1,355.6 L568.1,355.4 L570.1,356.3 L572.1,355.7 L574.1,355.3 L576.2,355.1 L578.2,354.9 L580.2,355.7 L582.2,355.8 L584.3,355.5 L586.3,355 L588.3,355.2 L590.3,354.7 L592.3,354.7 L594.4,354.6 L596.4,354.4 L598.4,355 L600.4,355.2 L602.4,355 L604.5,353.2 L606.5,354.5 L608.5,354.2 L610.5,353.5 L612.6,353.5 L614.6,353.9 L616.6,354 L618.6,353.8 L620.6,353.4 L622.7,353.1 L624.7,353.3 L626.7,352.8 L626.7,582.9 L624.7,583 L622.7,583.4 L620.7,583.5 L618.7,583.2 L616.7,584 L614.7,583.8 L612.6,583.8 L610.6,583.4 L608.6,582.9 L606.6,583 L604.6,583.4 L602.6,584 L600.6,583.6 L598.6,583.6 L596.6,583.7 L594.6,583.6 L592.6,585.1 L590.6,584.3 L588.5,584.5 L586.5,584.8 L584.5,584.9 L582.5,585.3 L580.5,583.6 L578.5,584.4 L576.5,584.7 L574.5,584.6 L572.5,585.3 L570.5,584.9 L568.5,584.4 L566.5,584.9 L564.5,584.8 L562.4,585.4 L560.4,585.1 L558.4,585.1 L556.4,586 L554.4,585.4 L552.4,586.1 L550.4,585.3 L548.4,585.1 L546.4,585.4 L544.4,585.9 L542.4,586 L540.4,585.4 L538.4,585.4 L536.3,585.7 L534.3,585.4 L532.3,585.7 L530.3,586.1 L528.3,586 L526.3,585.4 L524.3,586 L522.3,587.1 L520.3,587.3 L518.3,586.8 L516.3,586.7 L514.3,586.4 L512.2,586.9 L510.2,587.2 L508.2,586.8 L506.2,587.6 L504.2,587.5 L502.2,587.7 L500.2,588 L498.2,587.8 L496.2,586.8 L494.2,587.8 L492.2,588 L490.2,588.2 L488.2,587.9 L486.1,587.9 L484.1,587.5 L482.1,588 L480.1,588.3 L478.1,587.7 L476.1,588.5 L474.1,588.5 L472.1,588.6 L470.1,588.6 L468.1,589 L466.1,588.5 L464.1,588.8 L462,588.3 L460,588.3 L458,588.3 L456,587.8 L454,588.6 L452,589.1 L450,589.2 L448,589.2 L446,589.3 L444,588.8 L442,589.2 L440,589.3 L438,589.5 L436,589.1 L434,589.7 L432,590.6 L430,590.7 L428,590.2 L426,590.4 L424,589.7 L422,589.9 L420,589.8 L418,590.5 L416,590.4 L414,590.6 L412,590.6 L410,590.2 L408,590.6 L406,590.7 L404,590.6 L402,590.9 L400,591 L398,591 L396,590.5 L394,590.8 L392,590.9 L390,590.7 L388,591 L386,592 L384,591.6 L382,592 L380,591.6 L378,591.5 L376,592.9 L374,591.5 L372,591 L370,592.5 L368,592.6 L366,592.3 L364,592.5 L362,592.5 L360,592.6 L358,592.7 L356,593 L354,592.3 L352,592.4 L350,592.8 L348,593.1 L346,592.8 L344,592.7 L342,592.8 L340,592.8 L338,593.2 L336,593.6 L334,593.7 L332,593.7 L330,593.2 L328,593.4 L326,593.6 L324,593.4 L322,593.5 L320,594.3 L318,593.7 L316,594.5 L314,593.6 L312,594.4 L310,594.6 L308,594.9 L306,594.7 L304,594.7 L302,594.1 L300,594.3 L298,594.9 L296,595.1 L294,594.8 L292,595 L290,594.9 L288,594.9 L286,595.4 L284,595 L282,594.7 L280,595 L278,595.1 L276,595.3 L274,595.3 L272,595.8 L270,595.8 L268,596 L266,595.6 L264,595.4 L262,595.2 L260,595.5 L258,595.3 L256,594.8 L254,595.9 L252,595.3 L250,595 L248,595.5 L246,595.7 L244,595.8 L242,596 L240,595.2 L238,594.9 L236,595 L234,595.1 L232,595.2 L230,595.2 L228,595.4 L226,594.8 L224,595.6 L222,595.2 L220,595.2 L218,595.1 L216,594.5 L214,595.6 L212,595.2 L210,594.9 L208,595.1 L206,595.4 L204,595.1 L202,595.6 L200,596.1 L198,595.5 L196,595.9 L194,595.5 L192,595.8 L190,595.4 L188,595.7 L186,596 L184,595.6 L182,595.2 L180,595.5 L178,595.1 L176,594.9 L174,595.7 L172,596.3 L170,596.3 L168,595.3 L166,595.6 L164,595.1 L162,595.7 L160,595 L158,595.8 L156,595.3 L154,595.3 L152,596 L150,596.1 L148,596.4 L145.9,596.7 L143.9,595.2 L141.8,595.3 L139.8,595.9 L137.8,595.2 L135.7,596 L133.7,595.9 L131.6,596.7 L129.6,595.9 L127.6,596 L125.5,595.7 L123.5,594.9 L121.5,596.5 L119.4,596.2 L117.4,596.4 L115.3,596.3 L113.3,596.2 L111.3,596 L109.2,596.8 L107.2,595.8 L105.1,596.5 L103.1,596.2 L101.1,596.6 L99,596.6 L97,596.6 L94.9,596.2 L92.9,596.5 L90.9,596.7 L88.8,595.3 L86.8,596.5 L84.7,596.7 L82.7,596.3 L80.7,596.5 L78.6,596.4 L76.6,596.3 L74.6,596.3 L72.5,596.4 L70.5,596.5 L68.4,596.4 L66.4,597.3 L64.4,597 L62.3,597.1 L60.3,597 L58.2,597.9 L56.2,597 Z"/></clipPath><path d="M56.2,367.7 L58.2,368.3 L60.3,368.6 L62.3,367.9 L64.4,367.3 L66.4,366.9 L68.4,367.4 L70.5,367 L72.5,366.6 L74.6,367.3 L76.6,367.5 L78.6,367.7 L80.7,367 L82.7,367.3 L84.7,367.3 L86.8,366.5 L88.8,367.3 L90.9,367.4 L92.9,368.5 L94.9,367.7 L97,367.2 L99,367.8 L101.1,367.4 L103.1,367.6 L105.1,367.1 L107.2,367.2 L109.2,367.6 L111.3,367.5 L113.3,367.2 L115.3,366.5 L117.4,367 L119.4,367 L121.5,367.2 L123.5,367.1 L125.5,367.4 L127.6,366.9 L129.6,366.9 L131.6,367.1 L133.7,366.3 L135.7,366.4 L137.8,366.3 L139.8,367.5 L141.8,366.8 L143.9,367 L145.9,367 L148,366.5 L150,365.7 L152,366.7 L154,366.3 L156,366.8 L158,365.9 L160,366 L162,366.9 L164,367.2 L166,365.9 L168,365.5 L170,366 L172,366.6 L174,366.4 L176,366.4 L178,365.8 L180,366.4 L182,366.8 L184,366.1 L186,365.4 L188,365.5 L190,366.3 L192,365.3 L194,365.8 L196,365.5 L198,365.8 L200,365.8 L202,365.9 L204,366.7 L206,366.4 L208,366.7 L210,366.1 L212,365.7 L214,366 L216,364.5 L218,365.4 L220,365.8 L222,365.1 L224,365.8 L226,365.5 L228,364.4 L230,365.2 L232,365 L234,365.2 L236,365.4 L238,366.2 L240,365.8 L242,365.6 L244,365.8 L246,364.7 L248,365.9 L250,365.1 L252,365.6 L254,364.9 L256,364.8 L258,365 L260,366.2 L262,365.9 L264,365.2 L266,365.1 L268,364.6 L270,365 L272,364.8 L274,365.4 L276,364.5 L278,364.7 L280,364.5 L282,364.5 L284,365.2 L286,365.1 L288,365.2 L290,365.6 L292,365.6 L294,364.4 L296,364.9 L298,363.9 L300,364.4 L302,365.6 L304,364.8 L306,364.5 L308,364.6 L310,364.6 L312,364.5 L314,364.1 L316,364.9 L318,365 L320,364.5 L322,364.5 L324,364.7 L326,364.8 L328,364.5 L330,364.5 L332,364 L334,363.4 L336,363.5 L338,364.2 L340,364.4 L342,363.9 L344,363.4 L346,363.6 L348,364.3 L350,364.4 L352,363.3 L354,363.3 L356,362.5 L358,362.4 L360,363 L362,363 L364,363.4 L366,363.7 L368,363.5 L370,363.6 L372,362.7 L374,362.1 L376,362.7 L378,363.9 L380,363 L382,362 L384,362.3 L386,363 L388,361.9 L390,362.4 L392,361.8 L394,362.6 L396,362.5 L398,362.2 L400,362.9 L402,361.9 L404,361.4 L406,362.4 L408,361.3 L410,362.5 L412,361.7 L414,360.9 L416,361.1 L418,361.2 L420,361.2 L422,361 L424,361.5 L426,359.9 L428,360.3 L430,360.5 L432,361.6 L434,359.9 L436,360.2 L438,359.9 L440,359.9 L442,360.6 L444,360.6 L446,361.1 L448,360.2 L450,360.3 L452,360.7 L454,360.7 L456,360 L458,360.5 L460,359.5 L462,360.6 L464,360 L466,359.7 L468,359.7 L470,360 L472,360.4 L474,359.6 L476,359.2 L478,359.5 L480,358.8 L482,358.1 L484,359.2 L486,358.8 L488,359.4 L490,358.5 L492,357.2 L494,358.4 L496,358.6 L498,359.4 L500,359 L502,358.7 L504,358.7 L506,358.2 L508,358.2 L510,357.4 L512,358.1 L514,357.5 L516,357.5 L518,358 L520,358.2 L522,357.2 L524,358.4 L526,357.4 L528,357.7 L530,357.8 L532,357.5 L534,357.3 L536,358 L538,357.6 L540,357.3 L542,356 L544,356.1 L546,357 L548,356.7 L550,356 L552,355.9 L554,356 L556,356.4 L558,356.4 L560,356.6 L562,355.7 L564,356.2 L566.1,355.6 L568.1,355.4 L570.1,356.3 L572.1,355.7 L574.1,355.3 L576.2,355.1 L578.2,354.9 L580.2,355.7 L582.2,355.8 L584.3,355.5 L586.3,355 L588.3,355.2 L590.3,354.7 L592.3,354.7 L594.4,354.6 L596.4,354.4 L598.4,355 L600.4,355.2 L602.4,355 L604.5,353.2 L606.5,354.5 L608.5,354.2 L610.5,353.5 L612.6,353.5 L614.6,353.9 L616.6,354 L618.6,353.8 L620.6,353.4 L622.7,353.1 L624.7,353.3 L626.7,352.8 L626.7,582.9 L624.7,583 L622.7,583.4 L620.7,583.5 L618.7,583.2 L616.7,584 L614.7,583.8 L612.6,583.8 L610.6,583.4 L608.6,582.9 L606.6,583 L604.6,583.4 L602.6,584 L600.6,583.6 L598.6,583.6 L596.6,583.7 L594.6,583.6 L592.6,585.1 L590.6,584.3 L588.5,584.5 L586.5,584.8 L584.5,584.9 L582.5,585.3 L580.5,583.6 L578.5,584.4 L576.5,584.7 L574.5,584.6 L572.5,585.3 L570.5,584.9 L568.5,584.4 L566.5,584.9 L564.5,584.8 L562.4,585.4 L560.4,585.1 L558.4,585.1 L556.4,586 L554.4,585.4 L552.4,586.1 L550.4,585.3 L548.4,585.1 L546.4,585.4 L544.4,585.9 L542.4,586 L540.4,585.4 L538.4,585.4 L536.3,585.7 L534.3,585.4 L532.3,585.7 L530.3,586.1 L528.3,586 L526.3,585.4 L524.3,586 L522.3,587.1 L520.3,587.3 L518.3,586.8 L516.3,586.7 L514.3,586.4 L512.2,586.9 L510.2,587.2 L508.2,586.8 L506.2,587.6 L504.2,587.5 L502.2,587.7 L500.2,588 L498.2,587.8 L496.2,586.8 L494.2,587.8 L492.2,588 L490.2,588.2 L488.2,587.9 L486.1,587.9 L484.1,587.5 L482.1,588 L480.1,588.3 L478.1,587.7 L476.1,588.5 L474.1,588.5 L472.1,588.6 L470.1,588.6 L468.1,589 L466.1,588.5 L464.1,588.8 L462,588.3 L460,588.3 L458,588.3 L456,587.8 L454,588.6 L452,589.1 L450,589.2 L448,589.2 L446,589.3 L444,588.8 L442,589.2 L440,589.3 L438,589.5 L436,589.1 L434,589.7 L432,590.6 L430,590.7 L428,590.2 L426,590.4 L424,589.7 L422,589.9 L420,589.8 L418,590.5 L416,590.4 L414,590.6 L412,590.6 L410,590.2 L408,590.6 L406,590.7 L404,590.6 L402,590.9 L400,591 L398,591 L396,590.5 L394,590.8 L392,590.9 L390,590.7 L388,591 L386,592 L384,591.6 L382,592 L380,591.6 L378,591.5 L376,592.9 L374,591.5 L372,591 L370,592.5 L368,592.6 L366,592.3 L364,592.5 L362,592.5 L360,592.6 L358,592.7 L356,593 L354,592.3 L352,592.4 L350,592.8 L348,593.1 L346,592.8 L344,592.7 L342,592.8 L340,592.8 L338,593.2 L336,593.6 L334,593.7 L332,593.7 L330,593.2 L328,593.4 L326,593.6 L324,593.4 L322,593.5 L320,594.3 L318,593.7 L316,594.5 L314,593.6 L312,594.4 L310,594.6 L308,594.9 L306,594.7 L304,594.7 L302,594.1 L300,594.3 L298,594.9 L296,595.1 L294,594.8 L292,595 L290,594.9 L288,594.9 L286,595.4 L284,595 L282,594.7 L280,595 L278,595.1 L276,595.3 L274,595.3 L272,595.8 L270,595.8 L268,596 L266,595.6 L264,595.4 L262,595.2 L260,595.5 L258,595.3 L256,594.8 L254,595.9 L252,595.3 L250,595 L248,595.5 L246,595.7 L244,595.8 L242,596 L240,595.2 L238,594.9 L236,595 L234,595.1 L232,595.2 L230,595.2 L228,595.4 L226,594.8 L224,595.6 L222,595.2 L220,595.2 L218,595.1 L216,594.5 L214,595.6 L212,595.2 L210,594.9 L208,595.1 L206,595.4 L204,595.1 L202,595.6 L200,596.1 L198,595.5 L196,595.9 L194,595.5 L192,595.8 L190,595.4 L188,595.7 L186,596 L184,595.6 L182,595.2 L180,595.5 L178,595.1 L176,594.9 L174,595.7 L172,596.3 L170,596.3 L168,595.3 L166,595.6 L164,595.1 L162,595.7 L160,595 L158,595.8 L156,595.3 L154,595.3 L152,596 L150,596.1 L148,596.4 L145.9,596.7 L143.9,595.2 L141.8,595.3 L139.8,595.9 L137.8,595.2 L135.7,596 L133.7,595.9 L131.6,596.7 L129.6,595.9 L127.6,596 L125.5,595.7 L123.5,594.9 L121.5,596.5 L119.4,596.2 L117.4,596.4 L115.3,596.3 L113.3,596.2 L111.3,596 L109.2,596.8 L107.2,595.8 L105.1,596.5 L103.1,596.2 L101.1,596.6 L99,596.6 L97,596.6 L94.9,596.2 L92.9,596.5 L90.9,596.7 L88.8,595.3 L86.8,596.5 L84.7,596.7 L82.7,596.3 L80.7,596.5 L78.6,596.4 L76.6,596.3 L74.6,596.3 L72.5,596.4 L70.5,596.5 L68.4,596.4 L66.4,597.3 L64.4,597 L62.3,597.1 L60.3,597 L58.2,597.9 L56.2,597 Z" fill="#e8cfe0" filter="url(#sg1)" clip-path="url(#cr1)"/></g>
<path d="M56.2,379.8 C59.7,380.9 70.3,383.5 77.3,386.3 C84.2,389.1 91,393 97.9,396.6 C104.8,400.2 112.5,406.5 118.5,408.2 C124.5,409.9 128,408.8 134,406.9 C140,405 147.7,400 154.6,396.6 C161.5,393.2 166.6,388.5 175.2,386.3 C183.8,384.1 192.3,384.5 206.1,383.2 C219.8,381.9 244.8,378.9 257.7,378.5 C270.6,378.1 273,380.2 283.4,380.6 C293.8,381 308.1,380.7 320,381.1 C331.9,381.5 341.7,382.1 355,383 C368.3,383.9 388.2,385.1 400,386.3 C411.8,387.5 418.1,388.9 425.8,390.1 C433.5,391.3 439.5,393.7 446.4,393.5 C453.3,393.3 459.7,390.4 467,388.8 C474.3,387.2 479.9,384.6 490.2,383.7 C500.5,382.8 517.2,384.2 528.8,383.7 C540.4,383.2 548.6,381.9 559.8,380.6 C571,379.3 584.6,377 595.8,376 C606.9,375 621.6,374.9 626.7,374.7" fill="none" stroke="#1a1a1a" stroke-width="1.75" stroke-dasharray="6 4"/>
<path d="M56.2,491.5 C61,491.3 76.3,491.3 85,490.2 C93.7,489.1 101.8,485.3 108.2,485.1 C114.7,484.9 117.7,489.2 123.7,489 C129.7,488.8 135.7,485.3 144.3,483.8 C152.9,482.3 166.6,480 175.2,480 C183.8,480 187.6,480.8 195.8,483.8 C204,486.8 216.5,495.2 224.2,498 C231.9,500.8 236.6,501 242.2,500.6 C247.8,500.2 251.7,498.6 257.7,495.4 C263.7,492.2 272.3,483.9 278.3,481.2 C284.3,478.5 288.6,478.1 293.7,479.2 C298.8,480.3 304.5,485.8 309.2,487.7 C313.9,489.6 314.3,491.5 321.9,490.6 C329.5,489.7 344.7,481.9 354.7,482.4 C364.7,482.9 372.1,488.8 382.1,493.4 C392.2,498 405,505.5 415,509.8 C425,514.1 433.2,517.1 442.3,519.4 C451.4,521.7 461.5,523.5 469.7,523.5 C477.9,523.5 483.4,522.1 491.6,519.4 C499.8,516.7 509.9,511.2 519,507.1 C528.1,503 535.9,498.1 546.4,494.7 C556.9,491.3 572.9,486.7 582,486.5 C591.1,486.3 593.6,490.2 601.1,493.4 C608.6,496.6 622.4,503.6 626.7,505.7" fill="none" stroke="#1a1a1a" stroke-width="1.75" stroke-dasharray="6 4"/>
<text x="66.5" y="350" font-size="22.5" fill="#000" text-anchor="start">b</text>
<rect x="56.2" y="319.5" width="570.5" height="285.5" fill="none" stroke="#3a3a3a" stroke-width="1.4"/>
<line x1="49.7" y1="605" x2="56.2" y2="605" stroke="#3a3a3a" stroke-width="1.4"/>
<line x1="56.2" y1="319.5" x2="56.2" y2="313.5" stroke="#3a3a3a" stroke-width="1.4"/>
<text x="56.2" y="307" font-size="15" fill="#3c3c3c" text-anchor="middle">870</text>
<line x1="198.8" y1="319.5" x2="198.8" y2="313.5" stroke="#3a3a3a" stroke-width="1.4"/>
<text x="198.8" y="307" font-size="15" fill="#3c3c3c" text-anchor="middle">880</text>
<line x1="341.4" y1="319.5" x2="341.4" y2="313.5" stroke="#3a3a3a" stroke-width="1.4"/>
<text x="341.4" y="307" font-size="15" fill="#3c3c3c" text-anchor="middle">890</text>
<line x1="484.1" y1="319.5" x2="484.1" y2="313.5" stroke="#3a3a3a" stroke-width="1.4"/>
<text x="484.1" y="307" font-size="15" fill="#3c3c3c" text-anchor="middle">900</text>
<line x1="626.7" y1="319.5" x2="626.7" y2="313.5" stroke="#3a3a3a" stroke-width="1.4"/>
<line x1="56.2" y1="319.5" x2="50.2" y2="319.5" stroke="#3a3a3a" stroke-width="1.4"/>
<text x="44.7" y="324.9" font-size="15" fill="#3c3c3c" text-anchor="end">-7</text>
<line x1="56.2" y1="351.2" x2="50.2" y2="351.2" stroke="#3a3a3a" stroke-width="1.4"/>
<text x="44.7" y="356.6" font-size="15" fill="#3c3c3c" text-anchor="end">-6</text>
<line x1="56.2" y1="382.9" x2="50.2" y2="382.9" stroke="#3a3a3a" stroke-width="1.4"/>
<text x="44.7" y="388.3" font-size="15" fill="#3c3c3c" text-anchor="end">-5</text>
<line x1="56.2" y1="414.7" x2="50.2" y2="414.7" stroke="#3a3a3a" stroke-width="1.4"/>
<text x="44.7" y="420.1" font-size="15" fill="#3c3c3c" text-anchor="end">-4</text>
<line x1="56.2" y1="446.4" x2="50.2" y2="446.4" stroke="#3a3a3a" stroke-width="1.4"/>
<text x="44.7" y="451.8" font-size="15" fill="#3c3c3c" text-anchor="end">-3</text>
<line x1="56.2" y1="478.1" x2="50.2" y2="478.1" stroke="#3a3a3a" stroke-width="1.4"/>
<text x="44.7" y="483.5" font-size="15" fill="#3c3c3c" text-anchor="end">-2</text>
<line x1="56.2" y1="509.8" x2="50.2" y2="509.8" stroke="#3a3a3a" stroke-width="1.4"/>
<text x="44.7" y="515.2" font-size="15" fill="#3c3c3c" text-anchor="end">-1</text>
<line x1="56.2" y1="541.6" x2="50.2" y2="541.6" stroke="#3a3a3a" stroke-width="1.4"/>
<text x="44.7" y="547" font-size="15" fill="#3c3c3c" text-anchor="end">0</text>
<line x1="56.2" y1="573.3" x2="50.2" y2="573.3" stroke="#3a3a3a" stroke-width="1.4"/>
<text x="44.7" y="578.7" font-size="15" fill="#3c3c3c" text-anchor="end">1</text>
<text x="340.5" y="288" font-size="17" fill="#111" text-anchor="middle">Distance (m)</text>
<text x="0" y="0" font-size="17" fill="#111" text-anchor="middle" transform="translate(19.5,464) rotate(-90)">Depth (m)</text>
<clipPath id="cpC"><rect x="665" y="319.6" width="573" height="286.6"/></clipPath>
<g clip-path="url(#cpC)">
<path d="M665,367.5 C682.5,367.2 727.5,366.7 770,366 C812.5,365.3 870,364.7 920,363.5 C970,362.3 1028.3,360.4 1070,359 C1111.7,357.6 1142.2,356.1 1170,355 C1197.8,353.9 1225.8,352.9 1237,352.5 L1238,606.2 L665,606.2 Z" fill="#e9919a"/>
<path d="M665,380 C669.2,380.8 682.5,382.1 690,385 C697.5,387.9 703.3,393.8 710,397.5 C716.7,401.2 724.2,406.1 730,407.5 C735.8,408.9 738.3,408.1 745,406 C751.7,403.9 762.5,398.3 770,395 C777.5,391.7 781.7,388.1 790,386 C798.3,383.9 806.7,383.7 820,382.5 C833.3,381.3 853.3,379.4 870,379 C886.7,378.6 906.7,380.2 920,380 C933.3,379.8 941.7,377.5 950,377.5 C958.3,377.5 963.3,378.3 970,380 C976.7,381.7 983.3,386 990,387.5 C996.7,389 1003.3,389.2 1010,389 C1016.7,388.8 1022.5,385.4 1030,386 C1037.5,386.6 1048.3,391.7 1055,392.5 C1061.7,393.3 1063.3,392.4 1070,391 C1076.7,389.6 1086.7,385.4 1095,384 C1103.3,382.6 1111.7,382.5 1120,382.5 C1128.3,382.5 1136.7,384.6 1145,384 C1153.3,383.4 1159.2,380.5 1170,379 C1180.8,377.5 1198.8,375.7 1210,375 C1221.2,374.3 1232.5,375 1237,375 L1238,606.2 L665,606.2 Z" fill="#ee932f"/>
<path d="M665,492.5 C668.3,492.2 680,491 685,491 C690,491 690.4,493.5 695,492.5 C699.6,491.5 706.7,485.4 712.5,485 C718.3,484.6 724.6,490 730,490 C735.4,490 738.3,486 745,485 C751.7,484 763.3,484.8 770,484 C776.7,483.2 778.3,480.2 785,480 C791.7,479.8 802.5,480.4 810,482.5 C817.5,484.6 824.2,489.3 830,492.5 C835.8,495.7 840,500.4 845,501.5 C850,502.6 854.2,501.3 860,499 C865.8,496.7 873.3,490.7 880,487.5 C886.7,484.3 893.3,480 900,480 C906.7,480 913.3,486.7 920,487.5 C926.7,488.3 932.5,485.8 940,485 C947.5,484.2 957.5,482.1 965,482.5 C972.5,482.9 977.5,483.8 985,487.5 C992.5,491.2 1001.7,500 1010,505 C1018.3,510 1025,514.3 1035,517.5 C1045,520.7 1060.8,523.2 1070,524 C1079.2,524.8 1084.2,524 1090,522.5 C1095.8,521 1100,517.5 1105,515 C1110,512.5 1113.3,510.8 1120,507.5 C1126.7,504.2 1136.7,498.3 1145,495 C1153.3,491.7 1161.7,488.8 1170,487.5 C1178.3,486.2 1186.7,485.4 1195,487.5 C1203.3,489.6 1213,497.1 1220,500 C1227,502.9 1234.2,504.2 1237,505 L1238,606.2 L665,606.2 Z" fill="#a36833"/>
<path d="M665,367.5 C682.5,367.2 727.5,366.7 770,366 C812.5,365.3 870,364.7 920,363.5 C970,362.3 1028.3,360.4 1070,359 C1111.7,357.6 1142.2,356.1 1170,355 C1197.8,353.9 1225.8,352.9 1237,352.5" fill="none" stroke="#2a1208" stroke-width="1.5"/>
<path d="M665,380 C669.2,380.8 682.5,382.1 690,385 C697.5,387.9 703.3,393.8 710,397.5 C716.7,401.2 724.2,406.1 730,407.5 C735.8,408.9 738.3,408.1 745,406 C751.7,403.9 762.5,398.3 770,395 C777.5,391.7 781.7,388.1 790,386 C798.3,383.9 806.7,383.7 820,382.5 C833.3,381.3 853.3,379.4 870,379 C886.7,378.6 906.7,380.2 920,380 C933.3,379.8 941.7,377.5 950,377.5 C958.3,377.5 963.3,378.3 970,380 C976.7,381.7 983.3,386 990,387.5 C996.7,389 1003.3,389.2 1010,389 C1016.7,388.8 1022.5,385.4 1030,386 C1037.5,386.6 1048.3,391.7 1055,392.5 C1061.7,393.3 1063.3,392.4 1070,391 C1076.7,389.6 1086.7,385.4 1095,384 C1103.3,382.6 1111.7,382.5 1120,382.5 C1128.3,382.5 1136.7,384.6 1145,384 C1153.3,383.4 1159.2,380.5 1170,379 C1180.8,377.5 1198.8,375.7 1210,375 C1221.2,374.3 1232.5,375 1237,375" fill="none" stroke="#2a1208" stroke-width="1.4"/>
<path d="M665,492.5 C668.3,492.2 680,491 685,491 C690,491 690.4,493.5 695,492.5 C699.6,491.5 706.7,485.4 712.5,485 C718.3,484.6 724.6,490 730,490 C735.4,490 738.3,486 745,485 C751.7,484 763.3,484.8 770,484 C776.7,483.2 778.3,480.2 785,480 C791.7,479.8 802.5,480.4 810,482.5 C817.5,484.6 824.2,489.3 830,492.5 C835.8,495.7 840,500.4 845,501.5 C850,502.6 854.2,501.3 860,499 C865.8,496.7 873.3,490.7 880,487.5 C886.7,484.3 893.3,480 900,480 C906.7,480 913.3,486.7 920,487.5 C926.7,488.3 932.5,485.8 940,485 C947.5,484.2 957.5,482.1 965,482.5 C972.5,482.9 977.5,483.8 985,487.5 C992.5,491.2 1001.7,500 1010,505 C1018.3,510 1025,514.3 1035,517.5 C1045,520.7 1060.8,523.2 1070,524 C1079.2,524.8 1084.2,524 1090,522.5 C1095.8,521 1100,517.5 1105,515 C1110,512.5 1113.3,510.8 1120,507.5 C1126.7,504.2 1136.7,498.3 1145,495 C1153.3,491.7 1161.7,488.8 1170,487.5 C1178.3,486.2 1186.7,485.4 1195,487.5 C1203.3,489.6 1213,497.1 1220,500 C1227,502.9 1234.2,504.2 1237,505" fill="none" stroke="#2a1208" stroke-width="1.4"/>
<path d="M707.5,374 C710.8,373.5 721.2,371.2 727.5,371 C733.8,370.8 742.1,372.2 745,372.5" fill="none" stroke="#381606" stroke-width="1.5" stroke-linecap="round"/>
<path d="M765,371 C768.3,370.8 777.1,370 785,370 C792.9,370 807.9,370.8 812.5,371" fill="none" stroke="#381606" stroke-width="1.5" stroke-linecap="round"/>
<path d="M907.5,366 C911.2,366.2 922.1,367.5 930,367.5 C937.9,367.5 950.8,366.2 955,366" fill="none" stroke="#381606" stroke-width="1.5" stroke-linecap="round"/>
<path d="M997.5,380 C1000.4,378.8 1007.5,374 1015,372.5 C1022.5,371 1037.9,371.2 1042.5,371" fill="none" stroke="#381606" stroke-width="1.5" stroke-linecap="round"/>
<path d="M1102.5,365 C1107.9,364.8 1124.2,364.4 1135,364 C1145.8,363.6 1162.1,362.8 1167.5,362.5" fill="none" stroke="#381606" stroke-width="1.5" stroke-linecap="round"/>
<path d="M787.5,459 C791.2,460.4 802.9,465.4 810,467.5 C817.1,469.6 823.3,471.9 830,471.5 C836.7,471.1 841.7,469.2 850,465 C858.3,460.8 875,449.6 880,446.5" fill="none" stroke="#381606" stroke-width="1.5" stroke-linecap="round"/>
<path d="M815,486 C819.2,486 830,489.9 840,486 C850,482.1 869.2,466.4 875,462.5" fill="none" stroke="#381606" stroke-width="1.5" stroke-linecap="round"/>
<path d="M937.5,449 C942.9,448.5 960.4,448.3 970,446 C979.6,443.7 986.2,439.1 995,435 C1003.8,430.9 1017.9,423.8 1022.5,421.5" fill="none" stroke="#381606" stroke-width="1.5" stroke-linecap="round"/>
<path d="M954,469 C958.3,467.1 971.1,461.9 980,457.5 C988.9,453.1 1002.9,445 1007.5,442.5" fill="none" stroke="#381606" stroke-width="1.5" stroke-linecap="round"/>
<path d="M1035,487.5 C1040.8,487.2 1060,487.2 1070,486 C1080,484.8 1087.3,483.3 1095,480 C1102.7,476.7 1112.5,468.3 1116,466" fill="none" stroke="#381606" stroke-width="1.5" stroke-linecap="round"/>
<path d="M1045,500 C1051.7,499.8 1073.3,500.7 1085,499 C1096.7,497.3 1105.8,493.3 1115,490 C1124.2,486.7 1135.8,480.8 1140,479" fill="none" stroke="#381606" stroke-width="1.5" stroke-linecap="round"/>
<path d="M1009,515 C1013.3,516.4 1027.3,521.4 1035,523.5 C1042.7,525.6 1047.5,526.4 1055,527.5 C1062.5,528.6 1074.2,530.4 1080,530 C1085.8,529.6 1088.3,525.8 1090,525" fill="none" stroke="#381606" stroke-width="1.5" stroke-linecap="round"/>
<path d="M1112.5,523.5 C1117.9,521.7 1133.3,516.4 1145,512.5 C1156.7,508.6 1176.2,502.1 1182.5,500" fill="none" stroke="#381606" stroke-width="1.5" stroke-linecap="round"/>
</g>
<text x="676.5" y="350" font-size="22.5" fill="#000" text-anchor="start">c</text>
<rect x="665" y="319.6" width="573" height="286.6" fill="none" stroke="#3a3a3a" stroke-width="1.4"/>
<line x1="658.5" y1="606.2" x2="665" y2="606.2" stroke="#3a3a3a" stroke-width="1.4"/>
<line x1="665" y1="319.6" x2="665" y2="313.6" stroke="#3a3a3a" stroke-width="1.4"/>
<text x="665" y="307.1" font-size="15" fill="#3c3c3c" text-anchor="middle">870</text>
<line x1="808.2" y1="319.6" x2="808.2" y2="313.6" stroke="#3a3a3a" stroke-width="1.4"/>
<text x="808.2" y="307.1" font-size="15" fill="#3c3c3c" text-anchor="middle">880</text>
<line x1="951.5" y1="319.6" x2="951.5" y2="313.6" stroke="#3a3a3a" stroke-width="1.4"/>
<text x="951.5" y="307.1" font-size="15" fill="#3c3c3c" text-anchor="middle">890</text>
<line x1="1094.8" y1="319.6" x2="1094.8" y2="313.6" stroke="#3a3a3a" stroke-width="1.4"/>
<text x="1094.8" y="307.1" font-size="15" fill="#3c3c3c" text-anchor="middle">900</text>
<line x1="1238" y1="319.6" x2="1238" y2="313.6" stroke="#3a3a3a" stroke-width="1.4"/>
<line x1="665" y1="319.6" x2="659" y2="319.6" stroke="#3a3a3a" stroke-width="1.4"/>
<text x="653.5" y="325" font-size="15" fill="#3c3c3c" text-anchor="end">-7</text>
<line x1="665" y1="351.4" x2="659" y2="351.4" stroke="#3a3a3a" stroke-width="1.4"/>
<text x="653.5" y="356.8" font-size="15" fill="#3c3c3c" text-anchor="end">-6</text>
<line x1="665" y1="383.3" x2="659" y2="383.3" stroke="#3a3a3a" stroke-width="1.4"/>
<text x="653.5" y="388.7" font-size="15" fill="#3c3c3c" text-anchor="end">-5</text>
<line x1="665" y1="415.1" x2="659" y2="415.1" stroke="#3a3a3a" stroke-width="1.4"/>
<text x="653.5" y="420.5" font-size="15" fill="#3c3c3c" text-anchor="end">-4</text>
<line x1="665" y1="447" x2="659" y2="447" stroke="#3a3a3a" stroke-width="1.4"/>
<text x="653.5" y="452.4" font-size="15" fill="#3c3c3c" text-anchor="end">-3</text>
<line x1="665" y1="478.8" x2="659" y2="478.8" stroke="#3a3a3a" stroke-width="1.4"/>
<text x="653.5" y="484.2" font-size="15" fill="#3c3c3c" text-anchor="end">-2</text>
<line x1="665" y1="510.7" x2="659" y2="510.7" stroke="#3a3a3a" stroke-width="1.4"/>
<text x="653.5" y="516.1" font-size="15" fill="#3c3c3c" text-anchor="end">-1</text>
<line x1="665" y1="542.5" x2="659" y2="542.5" stroke="#3a3a3a" stroke-width="1.4"/>
<text x="653.5" y="547.9" font-size="15" fill="#3c3c3c" text-anchor="end">0</text>
<line x1="665" y1="574.4" x2="659" y2="574.4" stroke="#3a3a3a" stroke-width="1.4"/>
<text x="653.5" y="579.8" font-size="15" fill="#3c3c3c" text-anchor="end">1</text>
<text x="951" y="287.5" font-size="17" fill="#111" text-anchor="middle">Distance (m)</text>
<rect x="51.5" y="655.4" width="575.3" height="288.4" fill="#fcf2f1"/>
<path d="M51.5,713.1 L53.5,713.2 L55.5,713.8 L57.6,712.9 L59.6,713.7 L61.6,713.3 L63.6,713.2 L65.6,714.3 L67.7,713.8 L69.7,713.5 L71.7,713.9 L73.7,714.2 L75.8,713.7 L77.8,713.9 L79.8,713.2 L81.8,713.4 L83.8,713.4 L85.9,713 L87.9,712.8 L89.9,712.7 L91.9,713.4 L93.9,713.7 L96,713.7 L98,713.9 L100,713.3 L102,713.8 L104,714.2 L106.1,714.6 L108.1,713.9 L110.1,714 L112.1,713.3 L114.2,713.9 L116.2,713.2 L118.2,713.5 L120.2,714.9 L122.2,713.7 L124.3,714.8 L126.3,715 L128.3,714.8 L130.3,715.1 L132.4,715.3 L134.4,715.7 L136.4,715.2 L138.4,714.9 L140.4,714.9 L142.5,714.7 L144.5,715.2 L146.5,715 L148.5,715.9 L150.6,714.8 L152.6,714.8 L154.6,715 L156.7,714.6 L158.7,716.6 L160.8,715.1 L162.9,715.8 L164.9,716.1 L167,717.3 L169,716 L171.1,717.2 L173.2,716.8 L175.2,717 L177.3,717 L179.4,717.7 L181.4,717.1 L183.5,717.6 L185.6,718.1 L187.6,719.1 L189.7,717.3 L191.7,718.9 L193.8,719.2 L195.9,718.6 L197.9,719 L200,718.8 L202,719.9 L204,719.7 L206,719.5 L208.1,719.5 L210.1,719.7 L212.1,719.8 L214.1,719.7 L216.1,721.2 L218.1,719.8 L220.1,718.6 L222.2,720.1 L224.2,720.7 L226.2,721.2 L228.2,721.2 L230.2,721.3 L232.2,721.7 L234.2,722.3 L236.3,721.8 L238.3,721.9 L240.3,723.1 L242.3,722.9 L244.5,721.5 L246.7,722.4 L248.9,721.5 L251.2,720.1 L253.4,719 L255.6,719.1 L257.8,718.1 L260,717.3 L262.1,716.7 L264.3,716.6 L266.4,717.1 L268.5,716.1 L270.7,715 L272.8,715.4 L275,714.9 L277.1,714.9 L279.2,714.7 L281.4,713.7 L283.5,713.1 L285.5,712.9 L287.6,712.2 L289.6,712.8 L291.6,713.3 L293.6,712.7 L295.7,712.2 L297.7,712 L299.7,711.5 L301.8,711.3 L303.8,711.3 L305.8,711 L307.8,711 L309.9,710.3 L311.9,711 L313.9,710.9 L315.9,710.2 L318,709.3 L320,710.1 L322,710.8 L324.1,710 L326.1,709.8 L328.2,709.6 L330.2,710.1 L332.2,709.3 L334.3,710 L336.3,709.4 L338.4,709.8 L340.4,709.4 L342.4,709 L344.5,708.2 L346.5,708.2 L348.6,708.4 L350.6,708.8 L352.6,708.6 L354.7,708 L356.7,708.3 L358.8,708.6 L360.8,708 L362.9,707.6 L364.9,707.3 L367,707.8 L369.1,707.7 L371.1,706.8 L373.2,707.1 L375.2,706.6 L377.3,706.2 L379.4,707 L381.4,706.9 L383.5,706 L385.6,706 L387.6,706.2 L389.7,705.5 L391.7,705.5 L393.8,705.8 L395.9,704.5 L397.9,705.1 L400,705.3 L402,705.2 L404,704.2 L406,704.6 L408,704.1 L410,704.6 L412,704.7 L414,704.4 L416,703.8 L418,703.6 L420.1,704.2 L422.1,703.4 L424.1,703.8 L426.1,703.8 L428.1,703.3 L430.1,704.4 L432.1,703.5 L434.1,704.2 L436.1,702.3 L438.1,701.5 L440.2,702.8 L442.3,702.9 L444.4,702.3 L446.5,702.2 L448.6,701.1 L450.7,701.4 L452.8,701.1 L454.9,701.4 L457,701.9 L459.1,701.5 L461.1,701.5 L463.2,700.8 L465.3,700.7 L467.4,700.8 L469.5,700.5 L471.6,701.1 L473.7,700.2 L475.8,701.1 L477.9,699.9 L480,700.5 L482.1,699.6 L484.2,700.5 L486.3,699.9 L488.4,699.7 L490.4,699.8 L492.5,699 L494.6,698.4 L496.7,697.7 L498.8,699 L500.9,698.3 L503,698.1 L505.1,698.2 L507.1,699.1 L509.2,697.4 L511.3,697.8 L513.4,697.5 L515.5,697.8 L517.6,696.9 L519.6,697.4 L521.7,698.2 L523.7,698.9 L525.8,699.2 L527.9,698.1 L529.9,698.3 L532,698.4 L534,697.8 L536.1,697.7 L538.2,698.8 L540.2,699 L542.3,698.9 L544.3,699.7 L546.4,698.8 L548.5,699.4 L550.5,699.4 L552.6,699.5 L554.6,699.8 L556.7,699.8 L558.8,700 L560.8,700.1 L562.9,701 L564.9,700.2 L567,700.8 L569.1,700.7 L571.1,700.3 L573.2,700.8 L575.2,700.1 L577.3,701 L579.4,700.3 L581.4,700.3 L583.5,700.7 L585.6,701.1 L587.6,701.3 L589.7,701.4 L591.7,700.9 L593.8,700.5 L595.9,701.1 L597.9,701.2 L600,700.7 L602.1,701.5 L604.1,701.4 L606.2,700.8 L608.2,701.4 L610.3,700.7 L612.4,700.8 L614.4,701.5 L616.5,700.7 L618.6,701.4 L620.6,700.9 L622.7,701.8 L624.7,701.4 L626.8,701.8 L626.8,943.8 L624.8,943.9 L622.8,944 L620.8,944.1 L618.8,943.8 L616.8,944.4 L614.8,944.1 L612.8,944.1 L610.8,943 L608.8,943.6 L606.8,943.6 L604.8,943.5 L602.7,943.4 L600.7,943.7 L598.7,944.1 L596.7,943.6 L594.7,943.9 L592.7,943.9 L590.7,943.9 L588.7,943.6 L586.7,943.6 L584.7,943.4 L582.7,943.8 L580.7,943.8 L578.7,943.5 L576.7,943.4 L574.7,944.1 L572.7,944.5 L570.7,943.5 L568.7,943.8 L566.7,943.1 L564.7,944.5 L562.7,943.3 L560.7,943.2 L558.6,943.6 L556.6,944 L554.6,944.5 L552.6,944.3 L550.6,943.6 L548.6,944.6 L546.6,943.8 L544.6,943.8 L542.6,943.6 L540.6,943.7 L538.6,943.3 L536.6,944.2 L534.6,943.6 L532.6,943.7 L530.6,943.6 L528.6,943.3 L526.6,942.9 L524.6,943.7 L522.6,943.5 L520.6,944.1 L518.6,944.2 L516.6,944.6 L514.5,944.3 L512.5,944 L510.5,943.4 L508.5,944.4 L506.5,943.5 L504.5,943.7 L502.5,944 L500.5,943.7 L498.5,943.9 L496.5,943.9 L494.5,943 L492.5,943.6 L490.5,944.3 L488.5,944.3 L486.5,944.2 L484.5,943.9 L482.5,944.1 L480.5,944.2 L478.5,943.7 L476.5,943.5 L474.5,943.8 L472.5,943.6 L470.4,943.4 L468.4,943.7 L466.4,944 L464.4,944 L462.4,944.4 L460.4,943.4 L458.4,944 L456.4,944.1 L454.4,943.9 L452.4,943.5 L450.4,944.1 L448.4,943.4 L446.4,943.4 L444.4,943.8 L442.4,943.9 L440.4,943.7 L438.4,943.2 L436.4,943.5 L434.4,944.2 L432.4,943.4 L430.4,943.6 L428.4,943.6 L426.3,943.9 L424.3,943.5 L422.3,944 L420.3,943.2 L418.3,944 L416.3,943.7 L414.3,943.9 L412.3,943.8 L410.3,943.8 L408.3,943.7 L406.3,943.5 L404.3,942.8 L402.3,943.6 L400.3,943.3 L398.3,943.5 L396.3,944 L394.3,944 L392.3,943.9 L390.3,944.4 L388.3,943.7 L386.3,943.9 L384.3,943.7 L382.2,943.8 L380.2,943.9 L378.2,944.8 L376.2,943.9 L374.2,944.2 L372.2,944.6 L370.2,943.5 L368.2,943.2 L366.2,943.3 L364.2,943.4 L362.2,943.9 L360.2,943.3 L358.2,944.1 L356.2,944.2 L354.2,943.4 L352.2,943.6 L350.2,944.8 L348.2,944.6 L346.2,944 L344.2,943.7 L342.2,943.4 L340.2,943.2 L338.1,943.9 L336.1,943.6 L334.1,944.3 L332.1,943.9 L330.1,944.2 L328.1,943.7 L326.1,944.3 L324.1,944 L322.1,944.1 L320.1,944.7 L318.1,944 L316.1,944.1 L314.1,943.9 L312.1,943.9 L310.1,944 L308.1,943.5 L306.1,944.3 L304.1,944.7 L302.1,943.9 L300.1,944.1 L298.1,944.3 L296.1,944.2 L294,943.8 L292,943.9 L290,944.2 L288,943.5 L286,944 L284,944.4 L282,944.6 L280,945.2 L278,943.9 L276,944 L274,944.2 L272,943.6 L270,943.7 L268,944 L266,944.1 L264,944 L262,943.9 L260,943.9 L258,944.3 L256,943.9 L254,943.7 L252,943.5 L249.9,943.9 L247.9,943.9 L245.9,944.1 L243.9,943.9 L241.9,943.9 L239.9,944.3 L237.9,943.1 L235.9,943.8 L233.9,943.6 L231.9,944 L229.9,943.5 L227.9,943.2 L225.9,943.3 L223.9,944.1 L221.9,943 L219.9,943.9 L217.9,944.5 L215.9,943.8 L213.9,943.8 L211.9,942.7 L209.9,943.6 L207.9,943.5 L205.8,944.7 L203.8,944.2 L201.8,944.5 L199.8,944.3 L197.8,944.1 L195.8,944.1 L193.8,943.7 L191.8,943.3 L189.8,943.9 L187.8,944 L185.8,944.1 L183.8,943.8 L181.8,944.1 L179.8,944.2 L177.8,943.7 L175.8,944.2 L173.8,943.3 L171.8,943.5 L169.8,943.6 L167.8,943.9 L165.8,943.6 L163.8,943.9 L161.7,944.1 L159.7,943.8 L157.7,943.6 L155.7,944.3 L153.7,943.8 L151.7,944.1 L149.7,944.3 L147.7,943.7 L145.7,943.9 L143.7,944.1 L141.7,943.9 L139.7,943.4 L137.7,943.4 L135.7,943.6 L133.7,943.3 L131.7,943.4 L129.7,944.3 L127.7,943.6 L125.7,944.2 L123.7,943.6 L121.7,943.4 L119.7,943.7 L117.6,944.5 L115.6,943.8 L113.6,943.6 L111.6,943.7 L109.6,943.4 L107.6,943.3 L105.6,943.3 L103.6,943.7 L101.6,943.7 L99.6,943 L97.6,943.8 L95.6,944.2 L93.6,943.5 L91.6,943.5 L89.6,943.7 L87.6,943.4 L85.6,944.4 L83.6,944.8 L81.6,944.1 L79.6,944 L77.6,943.8 L75.6,943.6 L73.5,943.4 L71.5,943.5 L69.5,943.8 L67.5,943.7 L65.5,944.5 L63.5,944.1 L61.5,944.2 L59.5,943.9 L57.5,943.7 L55.5,944 L53.5,943.8 L51.5,943.8 Z" fill="#f6e4ee" filter="url(#sf3)"/>
<g mask="url(#mk3)"><clipPath id="cr3"><path d="M51.5,713.1 L53.5,713.2 L55.5,713.8 L57.6,712.9 L59.6,713.7 L61.6,713.3 L63.6,713.2 L65.6,714.3 L67.7,713.8 L69.7,713.5 L71.7,713.9 L73.7,714.2 L75.8,713.7 L77.8,713.9 L79.8,713.2 L81.8,713.4 L83.8,713.4 L85.9,713 L87.9,712.8 L89.9,712.7 L91.9,713.4 L93.9,713.7 L96,713.7 L98,713.9 L100,713.3 L102,713.8 L104,714.2 L106.1,714.6 L108.1,713.9 L110.1,714 L112.1,713.3 L114.2,713.9 L116.2,713.2 L118.2,713.5 L120.2,714.9 L122.2,713.7 L124.3,714.8 L126.3,715 L128.3,714.8 L130.3,715.1 L132.4,715.3 L134.4,715.7 L136.4,715.2 L138.4,714.9 L140.4,714.9 L142.5,714.7 L144.5,715.2 L146.5,715 L148.5,715.9 L150.6,714.8 L152.6,714.8 L154.6,715 L156.7,714.6 L158.7,716.6 L160.8,715.1 L162.9,715.8 L164.9,716.1 L167,717.3 L169,716 L171.1,717.2 L173.2,716.8 L175.2,717 L177.3,717 L179.4,717.7 L181.4,717.1 L183.5,717.6 L185.6,718.1 L187.6,719.1 L189.7,717.3 L191.7,718.9 L193.8,719.2 L195.9,718.6 L197.9,719 L200,718.8 L202,719.9 L204,719.7 L206,719.5 L208.1,719.5 L210.1,719.7 L212.1,719.8 L214.1,719.7 L216.1,721.2 L218.1,719.8 L220.1,718.6 L222.2,720.1 L224.2,720.7 L226.2,721.2 L228.2,721.2 L230.2,721.3 L232.2,721.7 L234.2,722.3 L236.3,721.8 L238.3,721.9 L240.3,723.1 L242.3,722.9 L244.5,721.5 L246.7,722.4 L248.9,721.5 L251.2,720.1 L253.4,719 L255.6,719.1 L257.8,718.1 L260,717.3 L262.1,716.7 L264.3,716.6 L266.4,717.1 L268.5,716.1 L270.7,715 L272.8,715.4 L275,714.9 L277.1,714.9 L279.2,714.7 L281.4,713.7 L283.5,713.1 L285.5,712.9 L287.6,712.2 L289.6,712.8 L291.6,713.3 L293.6,712.7 L295.7,712.2 L297.7,712 L299.7,711.5 L301.8,711.3 L303.8,711.3 L305.8,711 L307.8,711 L309.9,710.3 L311.9,711 L313.9,710.9 L315.9,710.2 L318,709.3 L320,710.1 L322,710.8 L324.1,710 L326.1,709.8 L328.2,709.6 L330.2,710.1 L332.2,709.3 L334.3,710 L336.3,709.4 L338.4,709.8 L340.4,709.4 L342.4,709 L344.5,708.2 L346.5,708.2 L348.6,708.4 L350.6,708.8 L352.6,708.6 L354.7,708 L356.7,708.3 L358.8,708.6 L360.8,708 L362.9,707.6 L364.9,707.3 L367,707.8 L369.1,707.7 L371.1,706.8 L373.2,707.1 L375.2,706.6 L377.3,706.2 L379.4,707 L381.4,706.9 L383.5,706 L385.6,706 L387.6,706.2 L389.7,705.5 L391.7,705.5 L393.8,705.8 L395.9,704.5 L397.9,705.1 L400,705.3 L402,705.2 L404,704.2 L406,704.6 L408,704.1 L410,704.6 L412,704.7 L414,704.4 L416,703.8 L418,703.6 L420.1,704.2 L422.1,703.4 L424.1,703.8 L426.1,703.8 L428.1,703.3 L430.1,704.4 L432.1,703.5 L434.1,704.2 L436.1,702.3 L438.1,701.5 L440.2,702.8 L442.3,702.9 L444.4,702.3 L446.5,702.2 L448.6,701.1 L450.7,701.4 L452.8,701.1 L454.9,701.4 L457,701.9 L459.1,701.5 L461.1,701.5 L463.2,700.8 L465.3,700.7 L467.4,700.8 L469.5,700.5 L471.6,701.1 L473.7,700.2 L475.8,701.1 L477.9,699.9 L480,700.5 L482.1,699.6 L484.2,700.5 L486.3,699.9 L488.4,699.7 L490.4,699.8 L492.5,699 L494.6,698.4 L496.7,697.7 L498.8,699 L500.9,698.3 L503,698.1 L505.1,698.2 L507.1,699.1 L509.2,697.4 L511.3,697.8 L513.4,697.5 L515.5,697.8 L517.6,696.9 L519.6,697.4 L521.7,698.2 L523.7,698.9 L525.8,699.2 L527.9,698.1 L529.9,698.3 L532,698.4 L534,697.8 L536.1,697.7 L538.2,698.8 L540.2,699 L542.3,698.9 L544.3,699.7 L546.4,698.8 L548.5,699.4 L550.5,699.4 L552.6,699.5 L554.6,699.8 L556.7,699.8 L558.8,700 L560.8,700.1 L562.9,701 L564.9,700.2 L567,700.8 L569.1,700.7 L571.1,700.3 L573.2,700.8 L575.2,700.1 L577.3,701 L579.4,700.3 L581.4,700.3 L583.5,700.7 L585.6,701.1 L587.6,701.3 L589.7,701.4 L591.7,700.9 L593.8,700.5 L595.9,701.1 L597.9,701.2 L600,700.7 L602.1,701.5 L604.1,701.4 L606.2,700.8 L608.2,701.4 L610.3,700.7 L612.4,700.8 L614.4,701.5 L616.5,700.7 L618.6,701.4 L620.6,700.9 L622.7,701.8 L624.7,701.4 L626.8,701.8 L626.8,943.8 L624.8,943.9 L622.8,944 L620.8,944.1 L618.8,943.8 L616.8,944.4 L614.8,944.1 L612.8,944.1 L610.8,943 L608.8,943.6 L606.8,943.6 L604.8,943.5 L602.7,943.4 L600.7,943.7 L598.7,944.1 L596.7,943.6 L594.7,943.9 L592.7,943.9 L590.7,943.9 L588.7,943.6 L586.7,943.6 L584.7,943.4 L582.7,943.8 L580.7,943.8 L578.7,943.5 L576.7,943.4 L574.7,944.1 L572.7,944.5 L570.7,943.5 L568.7,943.8 L566.7,943.1 L564.7,944.5 L562.7,943.3 L560.7,943.2 L558.6,943.6 L556.6,944 L554.6,944.5 L552.6,944.3 L550.6,943.6 L548.6,944.6 L546.6,943.8 L544.6,943.8 L542.6,943.6 L540.6,943.7 L538.6,943.3 L536.6,944.2 L534.6,943.6 L532.6,943.7 L530.6,943.6 L528.6,943.3 L526.6,942.9 L524.6,943.7 L522.6,943.5 L520.6,944.1 L518.6,944.2 L516.6,944.6 L514.5,944.3 L512.5,944 L510.5,943.4 L508.5,944.4 L506.5,943.5 L504.5,943.7 L502.5,944 L500.5,943.7 L498.5,943.9 L496.5,943.9 L494.5,943 L492.5,943.6 L490.5,944.3 L488.5,944.3 L486.5,944.2 L484.5,943.9 L482.5,944.1 L480.5,944.2 L478.5,943.7 L476.5,943.5 L474.5,943.8 L472.5,943.6 L470.4,943.4 L468.4,943.7 L466.4,944 L464.4,944 L462.4,944.4 L460.4,943.4 L458.4,944 L456.4,944.1 L454.4,943.9 L452.4,943.5 L450.4,944.1 L448.4,943.4 L446.4,943.4 L444.4,943.8 L442.4,943.9 L440.4,943.7 L438.4,943.2 L436.4,943.5 L434.4,944.2 L432.4,943.4 L430.4,943.6 L428.4,943.6 L426.3,943.9 L424.3,943.5 L422.3,944 L420.3,943.2 L418.3,944 L416.3,943.7 L414.3,943.9 L412.3,943.8 L410.3,943.8 L408.3,943.7 L406.3,943.5 L404.3,942.8 L402.3,943.6 L400.3,943.3 L398.3,943.5 L396.3,944 L394.3,944 L392.3,943.9 L390.3,944.4 L388.3,943.7 L386.3,943.9 L384.3,943.7 L382.2,943.8 L380.2,943.9 L378.2,944.8 L376.2,943.9 L374.2,944.2 L372.2,944.6 L370.2,943.5 L368.2,943.2 L366.2,943.3 L364.2,943.4 L362.2,943.9 L360.2,943.3 L358.2,944.1 L356.2,944.2 L354.2,943.4 L352.2,943.6 L350.2,944.8 L348.2,944.6 L346.2,944 L344.2,943.7 L342.2,943.4 L340.2,943.2 L338.1,943.9 L336.1,943.6 L334.1,944.3 L332.1,943.9 L330.1,944.2 L328.1,943.7 L326.1,944.3 L324.1,944 L322.1,944.1 L320.1,944.7 L318.1,944 L316.1,944.1 L314.1,943.9 L312.1,943.9 L310.1,944 L308.1,943.5 L306.1,944.3 L304.1,944.7 L302.1,943.9 L300.1,944.1 L298.1,944.3 L296.1,944.2 L294,943.8 L292,943.9 L290,944.2 L288,943.5 L286,944 L284,944.4 L282,944.6 L280,945.2 L278,943.9 L276,944 L274,944.2 L272,943.6 L270,943.7 L268,944 L266,944.1 L264,944 L262,943.9 L260,943.9 L258,944.3 L256,943.9 L254,943.7 L252,943.5 L249.9,943.9 L247.9,943.9 L245.9,944.1 L243.9,943.9 L241.9,943.9 L239.9,944.3 L237.9,943.1 L235.9,943.8 L233.9,943.6 L231.9,944 L229.9,943.5 L227.9,943.2 L225.9,943.3 L223.9,944.1 L221.9,943 L219.9,943.9 L217.9,944.5 L215.9,943.8 L213.9,943.8 L211.9,942.7 L209.9,943.6 L207.9,943.5 L205.8,944.7 L203.8,944.2 L201.8,944.5 L199.8,944.3 L197.8,944.1 L195.8,944.1 L193.8,943.7 L191.8,943.3 L189.8,943.9 L187.8,944 L185.8,944.1 L183.8,943.8 L181.8,944.1 L179.8,944.2 L177.8,943.7 L175.8,944.2 L173.8,943.3 L171.8,943.5 L169.8,943.6 L167.8,943.9 L165.8,943.6 L163.8,943.9 L161.7,944.1 L159.7,943.8 L157.7,943.6 L155.7,944.3 L153.7,943.8 L151.7,944.1 L149.7,944.3 L147.7,943.7 L145.7,943.9 L143.7,944.1 L141.7,943.9 L139.7,943.4 L137.7,943.4 L135.7,943.6 L133.7,943.3 L131.7,943.4 L129.7,944.3 L127.7,943.6 L125.7,944.2 L123.7,943.6 L121.7,943.4 L119.7,943.7 L117.6,944.5 L115.6,943.8 L113.6,943.6 L111.6,943.7 L109.6,943.4 L107.6,943.3 L105.6,943.3 L103.6,943.7 L101.6,943.7 L99.6,943 L97.6,943.8 L95.6,944.2 L93.6,943.5 L91.6,943.5 L89.6,943.7 L87.6,943.4 L85.6,944.4 L83.6,944.8 L81.6,944.1 L79.6,944 L77.6,943.8 L75.6,943.6 L73.5,943.4 L71.5,943.5 L69.5,943.8 L67.5,943.7 L65.5,944.5 L63.5,944.1 L61.5,944.2 L59.5,943.9 L57.5,943.7 L55.5,944 L53.5,943.8 L51.5,943.8 Z"/></clipPath><path d="M51.5,713.1 L53.5,713.2 L55.5,713.8 L57.6,712.9 L59.6,713.7 L61.6,713.3 L63.6,713.2 L65.6,714.3 L67.7,713.8 L69.7,713.5 L71.7,713.9 L73.7,714.2 L75.8,713.7 L77.8,713.9 L79.8,713.2 L81.8,713.4 L83.8,713.4 L85.9,713 L87.9,712.8 L89.9,712.7 L91.9,713.4 L93.9,713.7 L96,713.7 L98,713.9 L100,713.3 L102,713.8 L104,714.2 L106.1,714.6 L108.1,713.9 L110.1,714 L112.1,713.3 L114.2,713.9 L116.2,713.2 L118.2,713.5 L120.2,714.9 L122.2,713.7 L124.3,714.8 L126.3,715 L128.3,714.8 L130.3,715.1 L132.4,715.3 L134.4,715.7 L136.4,715.2 L138.4,714.9 L140.4,714.9 L142.5,714.7 L144.5,715.2 L146.5,715 L148.5,715.9 L150.6,714.8 L152.6,714.8 L154.6,715 L156.7,714.6 L158.7,716.6 L160.8,715.1 L162.9,715.8 L164.9,716.1 L167,717.3 L169,716 L171.1,717.2 L173.2,716.8 L175.2,717 L177.3,717 L179.4,717.7 L181.4,717.1 L183.5,717.6 L185.6,718.1 L187.6,719.1 L189.7,717.3 L191.7,718.9 L193.8,719.2 L195.9,718.6 L197.9,719 L200,718.8 L202,719.9 L204,719.7 L206,719.5 L208.1,719.5 L210.1,719.7 L212.1,719.8 L214.1,719.7 L216.1,721.2 L218.1,719.8 L220.1,718.6 L222.2,720.1 L224.2,720.7 L226.2,721.2 L228.2,721.2 L230.2,721.3 L232.2,721.7 L234.2,722.3 L236.3,721.8 L238.3,721.9 L240.3,723.1 L242.3,722.9 L244.5,721.5 L246.7,722.4 L248.9,721.5 L251.2,720.1 L253.4,719 L255.6,719.1 L257.8,718.1 L260,717.3 L262.1,716.7 L264.3,716.6 L266.4,717.1 L268.5,716.1 L270.7,715 L272.8,715.4 L275,714.9 L277.1,714.9 L279.2,714.7 L281.4,713.7 L283.5,713.1 L285.5,712.9 L287.6,712.2 L289.6,712.8 L291.6,713.3 L293.6,712.7 L295.7,712.2 L297.7,712 L299.7,711.5 L301.8,711.3 L303.8,711.3 L305.8,711 L307.8,711 L309.9,710.3 L311.9,711 L313.9,710.9 L315.9,710.2 L318,709.3 L320,710.1 L322,710.8 L324.1,710 L326.1,709.8 L328.2,709.6 L330.2,710.1 L332.2,709.3 L334.3,710 L336.3,709.4 L338.4,709.8 L340.4,709.4 L342.4,709 L344.5,708.2 L346.5,708.2 L348.6,708.4 L350.6,708.8 L352.6,708.6 L354.7,708 L356.7,708.3 L358.8,708.6 L360.8,708 L362.9,707.6 L364.9,707.3 L367,707.8 L369.1,707.7 L371.1,706.8 L373.2,707.1 L375.2,706.6 L377.3,706.2 L379.4,707 L381.4,706.9 L383.5,706 L385.6,706 L387.6,706.2 L389.7,705.5 L391.7,705.5 L393.8,705.8 L395.9,704.5 L397.9,705.1 L400,705.3 L402,705.2 L404,704.2 L406,704.6 L408,704.1 L410,704.6 L412,704.7 L414,704.4 L416,703.8 L418,703.6 L420.1,704.2 L422.1,703.4 L424.1,703.8 L426.1,703.8 L428.1,703.3 L430.1,704.4 L432.1,703.5 L434.1,704.2 L436.1,702.3 L438.1,701.5 L440.2,702.8 L442.3,702.9 L444.4,702.3 L446.5,702.2 L448.6,701.1 L450.7,701.4 L452.8,701.1 L454.9,701.4 L457,701.9 L459.1,701.5 L461.1,701.5 L463.2,700.8 L465.3,700.7 L467.4,700.8 L469.5,700.5 L471.6,701.1 L473.7,700.2 L475.8,701.1 L477.9,699.9 L480,700.5 L482.1,699.6 L484.2,700.5 L486.3,699.9 L488.4,699.7 L490.4,699.8 L492.5,699 L494.6,698.4 L496.7,697.7 L498.8,699 L500.9,698.3 L503,698.1 L505.1,698.2 L507.1,699.1 L509.2,697.4 L511.3,697.8 L513.4,697.5 L515.5,697.8 L517.6,696.9 L519.6,697.4 L521.7,698.2 L523.7,698.9 L525.8,699.2 L527.9,698.1 L529.9,698.3 L532,698.4 L534,697.8 L536.1,697.7 L538.2,698.8 L540.2,699 L542.3,698.9 L544.3,699.7 L546.4,698.8 L548.5,699.4 L550.5,699.4 L552.6,699.5 L554.6,699.8 L556.7,699.8 L558.8,700 L560.8,700.1 L562.9,701 L564.9,700.2 L567,700.8 L569.1,700.7 L571.1,700.3 L573.2,700.8 L575.2,700.1 L577.3,701 L579.4,700.3 L581.4,700.3 L583.5,700.7 L585.6,701.1 L587.6,701.3 L589.7,701.4 L591.7,700.9 L593.8,700.5 L595.9,701.1 L597.9,701.2 L600,700.7 L602.1,701.5 L604.1,701.4 L606.2,700.8 L608.2,701.4 L610.3,700.7 L612.4,700.8 L614.4,701.5 L616.5,700.7 L618.6,701.4 L620.6,700.9 L622.7,701.8 L624.7,701.4 L626.8,701.8 L626.8,943.8 L624.8,943.9 L622.8,944 L620.8,944.1 L618.8,943.8 L616.8,944.4 L614.8,944.1 L612.8,944.1 L610.8,943 L608.8,943.6 L606.8,943.6 L604.8,943.5 L602.7,943.4 L600.7,943.7 L598.7,944.1 L596.7,943.6 L594.7,943.9 L592.7,943.9 L590.7,943.9 L588.7,943.6 L586.7,943.6 L584.7,943.4 L582.7,943.8 L580.7,943.8 L578.7,943.5 L576.7,943.4 L574.7,944.1 L572.7,944.5 L570.7,943.5 L568.7,943.8 L566.7,943.1 L564.7,944.5 L562.7,943.3 L560.7,943.2 L558.6,943.6 L556.6,944 L554.6,944.5 L552.6,944.3 L550.6,943.6 L548.6,944.6 L546.6,943.8 L544.6,943.8 L542.6,943.6 L540.6,943.7 L538.6,943.3 L536.6,944.2 L534.6,943.6 L532.6,943.7 L530.6,943.6 L528.6,943.3 L526.6,942.9 L524.6,943.7 L522.6,943.5 L520.6,944.1 L518.6,944.2 L516.6,944.6 L514.5,944.3 L512.5,944 L510.5,943.4 L508.5,944.4 L506.5,943.5 L504.5,943.7 L502.5,944 L500.5,943.7 L498.5,943.9 L496.5,943.9 L494.5,943 L492.5,943.6 L490.5,944.3 L488.5,944.3 L486.5,944.2 L484.5,943.9 L482.5,944.1 L480.5,944.2 L478.5,943.7 L476.5,943.5 L474.5,943.8 L472.5,943.6 L470.4,943.4 L468.4,943.7 L466.4,944 L464.4,944 L462.4,944.4 L460.4,943.4 L458.4,944 L456.4,944.1 L454.4,943.9 L452.4,943.5 L450.4,944.1 L448.4,943.4 L446.4,943.4 L444.4,943.8 L442.4,943.9 L440.4,943.7 L438.4,943.2 L436.4,943.5 L434.4,944.2 L432.4,943.4 L430.4,943.6 L428.4,943.6 L426.3,943.9 L424.3,943.5 L422.3,944 L420.3,943.2 L418.3,944 L416.3,943.7 L414.3,943.9 L412.3,943.8 L410.3,943.8 L408.3,943.7 L406.3,943.5 L404.3,942.8 L402.3,943.6 L400.3,943.3 L398.3,943.5 L396.3,944 L394.3,944 L392.3,943.9 L390.3,944.4 L388.3,943.7 L386.3,943.9 L384.3,943.7 L382.2,943.8 L380.2,943.9 L378.2,944.8 L376.2,943.9 L374.2,944.2 L372.2,944.6 L370.2,943.5 L368.2,943.2 L366.2,943.3 L364.2,943.4 L362.2,943.9 L360.2,943.3 L358.2,944.1 L356.2,944.2 L354.2,943.4 L352.2,943.6 L350.2,944.8 L348.2,944.6 L346.2,944 L344.2,943.7 L342.2,943.4 L340.2,943.2 L338.1,943.9 L336.1,943.6 L334.1,944.3 L332.1,943.9 L330.1,944.2 L328.1,943.7 L326.1,944.3 L324.1,944 L322.1,944.1 L320.1,944.7 L318.1,944 L316.1,944.1 L314.1,943.9 L312.1,943.9 L310.1,944 L308.1,943.5 L306.1,944.3 L304.1,944.7 L302.1,943.9 L300.1,944.1 L298.1,944.3 L296.1,944.2 L294,943.8 L292,943.9 L290,944.2 L288,943.5 L286,944 L284,944.4 L282,944.6 L280,945.2 L278,943.9 L276,944 L274,944.2 L272,943.6 L270,943.7 L268,944 L266,944.1 L264,944 L262,943.9 L260,943.9 L258,944.3 L256,943.9 L254,943.7 L252,943.5 L249.9,943.9 L247.9,943.9 L245.9,944.1 L243.9,943.9 L241.9,943.9 L239.9,944.3 L237.9,943.1 L235.9,943.8 L233.9,943.6 L231.9,944 L229.9,943.5 L227.9,943.2 L225.9,943.3 L223.9,944.1 L221.9,943 L219.9,943.9 L217.9,944.5 L215.9,943.8 L213.9,943.8 L211.9,942.7 L209.9,943.6 L207.9,943.5 L205.8,944.7 L203.8,944.2 L201.8,944.5 L199.8,944.3 L197.8,944.1 L195.8,944.1 L193.8,943.7 L191.8,943.3 L189.8,943.9 L187.8,944 L185.8,944.1 L183.8,943.8 L181.8,944.1 L179.8,944.2 L177.8,943.7 L175.8,944.2 L173.8,943.3 L171.8,943.5 L169.8,943.6 L167.8,943.9 L165.8,943.6 L163.8,943.9 L161.7,944.1 L159.7,943.8 L157.7,943.6 L155.7,944.3 L153.7,943.8 L151.7,944.1 L149.7,944.3 L147.7,943.7 L145.7,943.9 L143.7,944.1 L141.7,943.9 L139.7,943.4 L137.7,943.4 L135.7,943.6 L133.7,943.3 L131.7,943.4 L129.7,944.3 L127.7,943.6 L125.7,944.2 L123.7,943.6 L121.7,943.4 L119.7,943.7 L117.6,944.5 L115.6,943.8 L113.6,943.6 L111.6,943.7 L109.6,943.4 L107.6,943.3 L105.6,943.3 L103.6,943.7 L101.6,943.7 L99.6,943 L97.6,943.8 L95.6,944.2 L93.6,943.5 L91.6,943.5 L89.6,943.7 L87.6,943.4 L85.6,944.4 L83.6,944.8 L81.6,944.1 L79.6,944 L77.6,943.8 L75.6,943.6 L73.5,943.4 L71.5,943.5 L69.5,943.8 L67.5,943.7 L65.5,944.5 L63.5,944.1 L61.5,944.2 L59.5,943.9 L57.5,943.7 L55.5,944 L53.5,943.8 L51.5,943.8 Z" fill="#e8cfe0" filter="url(#sg3)" clip-path="url(#cr3)"/></g>
<path d="M51.5,713.1 L53.5,713.2 L55.5,713.8 L57.6,712.9 L59.6,713.7 L61.6,713.3 L63.6,713.2 L65.6,714.3 L67.7,713.8 L69.7,713.5 L71.7,713.9 L73.7,714.2 L75.8,713.7 L77.8,713.9 L79.8,713.2 L81.8,713.4 L83.8,713.4 L85.9,713 L87.9,712.8 L89.9,712.7 L91.9,713.4 L93.9,713.7 L96,713.7 L98,713.9 L100,713.3 L102,713.8 L104,714.2 L106.1,714.6 L108.1,713.9 L110.1,714 L112.1,713.3 L114.2,713.9 L116.2,713.2 L118.2,713.5 L120.2,714.9 L122.2,713.7 L124.3,714.8 L126.3,715 L128.3,714.8 L130.3,715.1 L132.4,715.3 L134.4,715.7 L136.4,715.2 L138.4,714.9 L140.4,714.9 L142.5,714.7 L144.5,715.2 L146.5,715 L148.5,715.9 L150.6,714.8 L152.6,714.8 L154.6,715 L156.7,714.6 L158.7,716.6 L160.8,715.1 L162.9,715.8 L164.9,716.1 L167,717.3 L169,716 L171.1,717.2 L173.2,716.8 L175.2,717 L177.3,717 L179.4,717.7 L181.4,717.1 L183.5,717.6 L185.6,718.1 L187.6,719.1 L189.7,717.3 L191.7,718.9 L193.8,719.2 L195.9,718.6 L197.9,719 L200,718.8 L202,719.9 L204,719.7 L206,719.5 L208.1,719.5 L210.1,719.7 L212.1,719.8 L214.1,719.7 L216.1,721.2 L218.1,719.8 L220.1,718.6 L222.2,720.1 L224.2,720.7 L226.2,721.2 L228.2,721.2 L230.2,721.3 L232.2,721.7 L234.2,722.3 L236.3,721.8 L238.3,721.9 L240.3,723.1 L242.3,722.9 L244.5,721.5 L246.7,722.4 L248.9,721.5 L251.2,720.1 L253.4,719 L255.6,719.1 L257.8,718.1 L260,717.3 L262.1,716.7 L264.3,716.6 L266.4,717.1 L268.5,716.1 L270.7,715 L272.8,715.4 L275,714.9 L277.1,714.9 L279.2,714.7 L281.4,713.7 L283.5,713.1 L285.5,712.9 L287.6,712.2 L289.6,712.8 L291.6,713.3 L293.6,712.7 L295.7,712.2 L297.7,712 L299.7,711.5 L301.8,711.3 L303.8,711.3 L305.8,711 L307.8,711 L309.9,710.3 L311.9,711 L313.9,710.9 L315.9,710.2 L318,709.3 L320,710.1 L322,710.8 L324.1,710 L326.1,709.8 L328.2,709.6 L330.2,710.1 L332.2,709.3 L334.3,710 L336.3,709.4 L338.4,709.8 L340.4,709.4 L342.4,709 L344.5,708.2 L346.5,708.2 L348.6,708.4 L350.6,708.8 L352.6,708.6 L354.7,708 L356.7,708.3 L358.8,708.6 L360.8,708 L362.9,707.6 L364.9,707.3 L367,707.8 L369.1,707.7 L371.1,706.8 L373.2,707.1 L375.2,706.6 L377.3,706.2 L379.4,707 L381.4,706.9 L383.5,706 L385.6,706 L387.6,706.2 L389.7,705.5 L391.7,705.5 L393.8,705.8 L395.9,704.5 L397.9,705.1 L400,705.3 L402,705.2 L404,704.2 L406,704.6 L408,704.1 L410,704.6 L412,704.7 L414,704.4 L416,703.8 L418,703.6 L420.1,704.2 L422.1,703.4 L424.1,703.8 L426.1,703.8 L428.1,703.3 L430.1,704.4 L432.1,703.5 L434.1,704.2 L436.1,702.3 L438.1,701.5 L440.2,702.8 L442.3,702.9 L444.4,702.3 L446.5,702.2 L448.6,701.1 L450.7,701.4 L452.8,701.1 L454.9,701.4 L457,701.9 L459.1,701.5 L461.1,701.5 L463.2,700.8 L465.3,700.7 L467.4,700.8 L469.5,700.5 L471.6,701.1 L473.7,700.2 L475.8,701.1 L477.9,699.9 L480,700.5 L482.1,699.6 L484.2,700.5 L486.3,699.9 L488.4,699.7 L490.4,699.8 L492.5,699 L494.6,698.4 L496.7,697.7 L498.8,699 L500.9,698.3 L503,698.1 L505.1,698.2 L507.1,699.1 L509.2,697.4 L511.3,697.8 L513.4,697.5 L515.5,697.8 L517.6,696.9 L519.6,697.4 L521.7,698.2 L523.7,698.9 L525.8,699.2 L527.9,698.1 L529.9,698.3 L532,698.4 L534,697.8 L536.1,697.7 L538.2,698.8 L540.2,699 L542.3,698.9 L544.3,699.7 L546.4,698.8 L548.5,699.4 L550.5,699.4 L552.6,699.5 L554.6,699.8 L556.7,699.8 L558.8,700 L560.8,700.1 L562.9,701 L564.9,700.2 L567,700.8 L569.1,700.7 L571.1,700.3 L573.2,700.8 L575.2,700.1 L577.3,701 L579.4,700.3 L581.4,700.3 L583.5,700.7 L585.6,701.1 L587.6,701.3 L589.7,701.4 L591.7,700.9 L593.8,700.5 L595.9,701.1 L597.9,701.2 L600,700.7 L602.1,701.5 L604.1,701.4 L606.2,700.8 L608.2,701.4 L610.3,700.7 L612.4,700.8 L614.4,701.5 L616.5,700.7 L618.6,701.4 L620.6,700.9 L622.7,701.8 L624.7,701.4 L626.8,701.8 L626.8,943.8 L624.8,943.9 L622.8,944 L620.8,944.1 L618.8,943.8 L616.8,944.4 L614.8,944.1 L612.8,944.1 L610.8,943 L608.8,943.6 L606.8,943.6 L604.8,943.5 L602.7,943.4 L600.7,943.7 L598.7,944.1 L596.7,943.6 L594.7,943.9 L592.7,943.9 L590.7,943.9 L588.7,943.6 L586.7,943.6 L584.7,943.4 L582.7,943.8 L580.7,943.8 L578.7,943.5 L576.7,943.4 L574.7,944.1 L572.7,944.5 L570.7,943.5 L568.7,943.8 L566.7,943.1 L564.7,944.5 L562.7,943.3 L560.7,943.2 L558.6,943.6 L556.6,944 L554.6,944.5 L552.6,944.3 L550.6,943.6 L548.6,944.6 L546.6,943.8 L544.6,943.8 L542.6,943.6 L540.6,943.7 L538.6,943.3 L536.6,944.2 L534.6,943.6 L532.6,943.7 L530.6,943.6 L528.6,943.3 L526.6,942.9 L524.6,943.7 L522.6,943.5 L520.6,944.1 L518.6,944.2 L516.6,944.6 L514.5,944.3 L512.5,944 L510.5,943.4 L508.5,944.4 L506.5,943.5 L504.5,943.7 L502.5,944 L500.5,943.7 L498.5,943.9 L496.5,943.9 L494.5,943 L492.5,943.6 L490.5,944.3 L488.5,944.3 L486.5,944.2 L484.5,943.9 L482.5,944.1 L480.5,944.2 L478.5,943.7 L476.5,943.5 L474.5,943.8 L472.5,943.6 L470.4,943.4 L468.4,943.7 L466.4,944 L464.4,944 L462.4,944.4 L460.4,943.4 L458.4,944 L456.4,944.1 L454.4,943.9 L452.4,943.5 L450.4,944.1 L448.4,943.4 L446.4,943.4 L444.4,943.8 L442.4,943.9 L440.4,943.7 L438.4,943.2 L436.4,943.5 L434.4,944.2 L432.4,943.4 L430.4,943.6 L428.4,943.6 L426.3,943.9 L424.3,943.5 L422.3,944 L420.3,943.2 L418.3,944 L416.3,943.7 L414.3,943.9 L412.3,943.8 L410.3,943.8 L408.3,943.7 L406.3,943.5 L404.3,942.8 L402.3,943.6 L400.3,943.3 L398.3,943.5 L396.3,944 L394.3,944 L392.3,943.9 L390.3,944.4 L388.3,943.7 L386.3,943.9 L384.3,943.7 L382.2,943.8 L380.2,943.9 L378.2,944.8 L376.2,943.9 L374.2,944.2 L372.2,944.6 L370.2,943.5 L368.2,943.2 L366.2,943.3 L364.2,943.4 L362.2,943.9 L360.2,943.3 L358.2,944.1 L356.2,944.2 L354.2,943.4 L352.2,943.6 L350.2,944.8 L348.2,944.6 L346.2,944 L344.2,943.7 L342.2,943.4 L340.2,943.2 L338.1,943.9 L336.1,943.6 L334.1,944.3 L332.1,943.9 L330.1,944.2 L328.1,943.7 L326.1,944.3 L324.1,944 L322.1,944.1 L320.1,944.7 L318.1,944 L316.1,944.1 L314.1,943.9 L312.1,943.9 L310.1,944 L308.1,943.5 L306.1,944.3 L304.1,944.7 L302.1,943.9 L300.1,944.1 L298.1,944.3 L296.1,944.2 L294,943.8 L292,943.9 L290,944.2 L288,943.5 L286,944 L284,944.4 L282,944.6 L280,945.2 L278,943.9 L276,944 L274,944.2 L272,943.6 L270,943.7 L268,944 L266,944.1 L264,944 L262,943.9 L260,943.9 L258,944.3 L256,943.9 L254,943.7 L252,943.5 L249.9,943.9 L247.9,943.9 L245.9,944.1 L243.9,943.9 L241.9,943.9 L239.9,944.3 L237.9,943.1 L235.9,943.8 L233.9,943.6 L231.9,944 L229.9,943.5 L227.9,943.2 L225.9,943.3 L223.9,944.1 L221.9,943 L219.9,943.9 L217.9,944.5 L215.9,943.8 L213.9,943.8 L211.9,942.7 L209.9,943.6 L207.9,943.5 L205.8,944.7 L203.8,944.2 L201.8,944.5 L199.8,944.3 L197.8,944.1 L195.8,944.1 L193.8,943.7 L191.8,943.3 L189.8,943.9 L187.8,944 L185.8,944.1 L183.8,943.8 L181.8,944.1 L179.8,944.2 L177.8,943.7 L175.8,944.2 L173.8,943.3 L171.8,943.5 L169.8,943.6 L167.8,943.9 L165.8,943.6 L163.8,943.9 L161.7,944.1 L159.7,943.8 L157.7,943.6 L155.7,944.3 L153.7,943.8 L151.7,944.1 L149.7,944.3 L147.7,943.7 L145.7,943.9 L143.7,944.1 L141.7,943.9 L139.7,943.4 L137.7,943.4 L135.7,943.6 L133.7,943.3 L131.7,943.4 L129.7,944.3 L127.7,943.6 L125.7,944.2 L123.7,943.6 L121.7,943.4 L119.7,943.7 L117.6,944.5 L115.6,943.8 L113.6,943.6 L111.6,943.7 L109.6,943.4 L107.6,943.3 L105.6,943.3 L103.6,943.7 L101.6,943.7 L99.6,943 L97.6,943.8 L95.6,944.2 L93.6,943.5 L91.6,943.5 L89.6,943.7 L87.6,943.4 L85.6,944.4 L83.6,944.8 L81.6,944.1 L79.6,944 L77.6,943.8 L75.6,943.6 L73.5,943.4 L71.5,943.5 L69.5,943.8 L67.5,943.7 L65.5,944.5 L63.5,944.1 L61.5,944.2 L59.5,943.9 L57.5,943.7 L55.5,944 L53.5,943.8 L51.5,943.8 Z" fill="url(#fd3)"/>
<path d="M51.5,756.9 C56.7,755.4 69.6,747.7 82.5,748.1 C95.4,748.5 116,756.7 128.9,759.5 C141.8,762.3 148.8,763.5 160,765 C171.2,766.5 182.2,769.3 195.9,768.8 C209.6,768.3 223.4,764.1 242.3,762.1 C261.2,760.1 290.4,756.9 309.3,756.9 C328.2,756.9 341.4,763.2 355.7,762.1 C370,761 382.1,754.3 395,750 C407.9,745.7 417.2,736.4 433,736.3 C448.8,736.2 469.9,744.9 489.7,749.2 C509.4,753.5 534.8,761 551.5,762.1 C568.2,763.2 577.5,758.3 590,756 C602.5,753.7 620.7,749.4 626.8,748.1" fill="none" stroke="#1a1a1a" stroke-width="1.75" stroke-dasharray="6 4"/>
<path d="M51.5,929.6 C53.8,930.5 60.7,932.9 65,935 C69.3,937.1 75.2,941.2 77.3,942.5" fill="none" stroke="#1a1a1a" stroke-width="1.75" stroke-dasharray="6 4"/>
<path d="M345,942.5 C348.3,940.4 358.1,933.9 365,930 C371.9,926.1 377.4,920 386.6,919.3 C395.8,918.6 407.1,923.9 420,926 C432.9,928.1 446.3,931.2 463.9,932.2 C481.5,933.2 512.9,930.5 525.8,932.2 C538.7,933.9 538.6,940.8 541.2,942.5" fill="none" stroke="#1a1a1a" stroke-width="1.75" stroke-dasharray="6 4"/>
<path d="M590,942.5 C593.9,941.2 607.3,936.7 613.4,934.7 C619.5,932.7 624.6,931.3 626.8,930.6" fill="none" stroke="#1a1a1a" stroke-width="1.75" stroke-dasharray="6 4"/>
<text x="65.5" y="695" font-size="22.5" fill="#000" text-anchor="start">d</text>
<rect x="51.5" y="655.4" width="575.3" height="288.4" fill="none" stroke="#3a3a3a" stroke-width="1.4"/>
<line x1="45" y1="943.8" x2="51.5" y2="943.8" stroke="#3a3a3a" stroke-width="1.4"/>
<line x1="51.5" y1="655.4" x2="51.5" y2="649.4" stroke="#3a3a3a" stroke-width="1.4"/>
<text x="51.5" y="642.9" font-size="15" fill="#3c3c3c" text-anchor="middle">1160</text>
<line x1="243.3" y1="655.4" x2="243.3" y2="649.4" stroke="#3a3a3a" stroke-width="1.4"/>
<text x="243.3" y="642.9" font-size="15" fill="#3c3c3c" text-anchor="middle">1170</text>
<line x1="435" y1="655.4" x2="435" y2="649.4" stroke="#3a3a3a" stroke-width="1.4"/>
<text x="435" y="642.9" font-size="15" fill="#3c3c3c" text-anchor="middle">1180</text>
<line x1="626.8" y1="655.4" x2="626.8" y2="649.4" stroke="#3a3a3a" stroke-width="1.4"/>
<line x1="51.5" y1="655.4" x2="45.5" y2="655.4" stroke="#3a3a3a" stroke-width="1.4"/>
<text x="40" y="660.8" font-size="15" fill="#3c3c3c" text-anchor="end">-8</text>
<line x1="51.5" y1="713.1" x2="45.5" y2="713.1" stroke="#3a3a3a" stroke-width="1.4"/>
<text x="40" y="718.5" font-size="15" fill="#3c3c3c" text-anchor="end">-7</text>
<line x1="51.5" y1="770.8" x2="45.5" y2="770.8" stroke="#3a3a3a" stroke-width="1.4"/>
<text x="40" y="776.2" font-size="15" fill="#3c3c3c" text-anchor="end">-6</text>
<line x1="51.5" y1="828.4" x2="45.5" y2="828.4" stroke="#3a3a3a" stroke-width="1.4"/>
<text x="40" y="833.8" font-size="15" fill="#3c3c3c" text-anchor="end">-5</text>
<line x1="51.5" y1="886.1" x2="45.5" y2="886.1" stroke="#3a3a3a" stroke-width="1.4"/>
<text x="40" y="891.5" font-size="15" fill="#3c3c3c" text-anchor="end">-4</text>
<text x="0" y="0" font-size="17" fill="#111" text-anchor="middle" transform="translate(19.5,802) rotate(-90)">Depth (m)</text>
<rect x="51" y="1000.5" width="575.8" height="288.2" fill="#fcf2f1"/>
<path d="M51,1056.9 L53,1056.2 L55,1055.8 L57,1056.5 L59,1055.2 L61,1055.7 L63,1054.7 L65,1056 L67,1055.8 L69,1056.2 L71,1055.3 L73,1055.4 L75,1054.9 L77,1054.5 L79,1054.6 L81,1053.9 L83,1054 L85,1054.5 L87,1054.2 L89,1053.7 L91,1054.8 L93,1053.9 L95,1053.2 L97,1053.3 L99,1052.9 L101,1052.7 L103,1052.5 L105,1053.6 L107.1,1052.9 L109.1,1052.7 L111.2,1052.8 L113.2,1053.4 L115.3,1052.4 L117.3,1051.9 L119.3,1053.2 L121.4,1051.5 L123.4,1051.5 L125.5,1051.9 L127.5,1052.8 L129.6,1051.4 L131.6,1050.2 L133.7,1051.3 L135.7,1050.9 L137.7,1050.8 L139.8,1051.1 L141.8,1051.1 L143.9,1051 L145.9,1050.5 L148,1051.2 L150,1051.4 L152,1050.7 L154,1050.2 L156,1050.6 L158,1050.6 L160,1049.8 L162,1049.8 L164.1,1050.5 L166.1,1050.1 L168.1,1049.8 L170.1,1049.9 L172.1,1049.8 L174.1,1049.7 L176.1,1048.7 L178.1,1050.2 L180.1,1049.8 L182.1,1049.1 L184.1,1049.8 L186.1,1049.6 L188.1,1049.4 L190.1,1049.8 L192.1,1050.4 L194.2,1049.8 L196.2,1050 L198.2,1050.3 L200.2,1048.8 L202.2,1048.5 L204.2,1049.1 L206.2,1047.9 L208.3,1048.2 L210.4,1048.9 L212.5,1048.9 L214.6,1048.5 L216.8,1047.1 L218.9,1048.6 L221,1048.1 L223.1,1047.9 L225.2,1047.6 L227.3,1046.3 L229.4,1045.9 L231.6,1045.8 L233.7,1047.2 L235.8,1046.1 L237.9,1046 L240,1045.8 L242.1,1046 L244.2,1045.9 L246.2,1045.6 L248.3,1044.6 L250.4,1043.2 L252.4,1044.2 L254.5,1044.5 L256.6,1044.9 L258.7,1044.2 L260.8,1043.5 L262.8,1043.7 L264.9,1042.6 L267,1042.4 L269.1,1042.2 L271.1,1042.6 L273.2,1043.5 L275.2,1043.1 L277.2,1043.2 L279.3,1042.7 L281.3,1042.6 L283.3,1042.1 L285.3,1042 L287.3,1040.9 L289.3,1041.1 L291.4,1041.1 L293.4,1042.2 L295.4,1042.3 L297.4,1042.6 L299.4,1042.9 L301.4,1042 L303.5,1042.4 L305.5,1042.9 L307.5,1042 L309.5,1042.3 L311.5,1041.7 L313.5,1040.8 L315.6,1041.3 L317.6,1041 L319.6,1041.3 L321.6,1041.2 L323.6,1041.6 L325.7,1040.6 L327.7,1042.4 L329.7,1042.7 L331.7,1042 L333.7,1041.5 L335.8,1041.9 L337.8,1042.4 L339.8,1042.5 L341.8,1042.6 L343.8,1041.5 L345.9,1041.6 L347.9,1042.9 L349.9,1042.8 L351.9,1042 L353.9,1042.1 L356,1041.9 L358,1042.1 L360,1043.4 L362,1043.1 L364,1043.7 L366,1043.5 L368.1,1042.6 L370.1,1042.9 L372.1,1044.5 L374.1,1043.5 L376.1,1043.1 L378.1,1044.2 L380.2,1044 L382.2,1043.9 L384.2,1044.7 L386.2,1043.4 L388.2,1044.1 L390.2,1043.7 L392.2,1043.4 L394.3,1043.7 L396.3,1044.8 L398.3,1044.6 L400.3,1043.7 L402.3,1043.9 L404.3,1045.3 L406.4,1045.5 L408.4,1044.6 L410.4,1046.2 L412.4,1045.3 L414.5,1044.6 L416.5,1045.1 L418.6,1045.8 L420.7,1046.5 L422.7,1046.4 L424.8,1045.8 L426.9,1045.6 L429,1045.1 L431,1045.8 L433.1,1045.8 L435.2,1046.3 L437.2,1045.7 L439.3,1046 L441.4,1046 L443.4,1045.9 L445.5,1045.9 L447.6,1046.1 L449.7,1046.1 L451.7,1047.1 L453.8,1047.2 L455.9,1046.6 L457.9,1047.5 L460,1047.7 L462.1,1048.4 L464.1,1047.8 L466.2,1047.7 L468.2,1047.5 L470.3,1048 L472.3,1048.3 L474.4,1048.4 L476.4,1048.2 L478.5,1048.7 L480.6,1048.6 L482.6,1048.8 L484.7,1048.3 L486.7,1048.8 L488.8,1048.4 L490.8,1048.4 L492.9,1049 L494.9,1050.2 L497,1050.1 L499.1,1049.6 L501.1,1049.5 L503.2,1050.1 L505.2,1050.6 L507.3,1050.7 L509.3,1050.1 L511.4,1050.1 L513.4,1050 L515.5,1050 L517.5,1049.8 L519.5,1050.1 L521.6,1049.2 L523.6,1049.5 L525.6,1050.5 L527.6,1050.1 L529.6,1050.8 L531.6,1050.1 L533.7,1050.4 L535.7,1051 L537.7,1050.4 L539.7,1050.5 L541.7,1052.2 L543.8,1051.1 L545.8,1050.8 L547.8,1050.9 L549.8,1051.2 L551.8,1051.4 L553.9,1052 L555.9,1052.1 L557.9,1051.6 L559.9,1051.5 L561.9,1051 L563.9,1050.8 L566,1051.2 L568,1052.1 L570,1052.1 L572,1052.5 L574.1,1052.7 L576.1,1052.3 L578.1,1053.4 L580.1,1052.4 L582.2,1052.1 L584.2,1052.1 L586.2,1053 L588.3,1052.7 L590.3,1052.3 L592.3,1052.8 L594.3,1053.4 L596.4,1053 L598.4,1052.8 L600.4,1053.5 L602.5,1053.7 L604.5,1053.8 L606.5,1053 L608.5,1053.3 L610.6,1053.5 L612.6,1052.5 L614.6,1053.8 L616.7,1053.6 L618.7,1053.4 L620.7,1054.7 L622.7,1054.1 L624.8,1053.5 L626.8,1053.8 L626.8,1288.7 L624.8,1288.8 L622.8,1289.1 L620.8,1288.1 L618.8,1288.8 L616.8,1288.4 L614.8,1288.4 L612.8,1288.4 L610.7,1288.6 L608.7,1288.3 L606.7,1289.1 L604.7,1288.7 L602.7,1288.3 L600.7,1288.3 L598.7,1288.3 L596.7,1288 L594.7,1288.4 L592.7,1288.6 L590.7,1289.3 L588.7,1288.7 L586.7,1288.9 L584.7,1288.9 L582.7,1289 L580.7,1289.2 L578.6,1288.7 L576.6,1287.9 L574.6,1288.7 L572.6,1289 L570.6,1288.4 L568.6,1288.1 L566.6,1287.8 L564.6,1288.5 L562.6,1288.8 L560.6,1289 L558.6,1289.3 L556.6,1289.1 L554.6,1289.2 L552.6,1289.3 L550.6,1289.3 L548.6,1289.1 L546.5,1289.4 L544.5,1288.8 L542.5,1288.7 L540.5,1289.2 L538.5,1288.7 L536.5,1287.6 L534.5,1288 L532.5,1288.3 L530.5,1288.6 L528.5,1288.1 L526.5,1288.5 L524.5,1288.4 L522.5,1288.3 L520.5,1289.2 L518.5,1287.7 L516.5,1288.9 L514.4,1288.5 L512.4,1289 L510.4,1288.7 L508.4,1288.3 L506.4,1289 L504.4,1289.3 L502.4,1288.8 L500.4,1289 L498.4,1288.9 L496.4,1288.6 L494.4,1289.2 L492.4,1289.2 L490.4,1288.8 L488.4,1288.9 L486.4,1288.6 L484.4,1289.2 L482.3,1289.1 L480.3,1289 L478.3,1289 L476.3,1289 L474.3,1289.3 L472.3,1289 L470.3,1289.1 L468.3,1288.6 L466.3,1288.5 L464.3,1288.4 L462.3,1288.2 L460.3,1288.5 L458.3,1288.7 L456.3,1288.8 L454.3,1288.6 L452.3,1288.7 L450.2,1289.3 L448.2,1288.9 L446.2,1289.4 L444.2,1288.8 L442.2,1288.6 L440.2,1288.8 L438.2,1288.8 L436.2,1288.3 L434.2,1288.6 L432.2,1289.3 L430.2,1289.3 L428.2,1288.7 L426.2,1288.8 L424.2,1288.7 L422.2,1289.1 L420.2,1288.5 L418.1,1288.9 L416.1,1288.7 L414.1,1288.9 L412.1,1288.8 L410.1,1289.2 L408.1,1289.2 L406.1,1289.5 L404.1,1289.3 L402.1,1288.5 L400.1,1288.3 L398.1,1288.8 L396.1,1288.7 L394.1,1289.3 L392.1,1289.5 L390.1,1289.1 L388.1,1287.9 L386,1288.4 L384,1288.5 L382,1289 L380,1288.5 L378,1289.6 L376,1289.2 L374,1289.4 L372,1289.3 L370,1289.1 L368,1288.1 L366,1288.3 L364,1288.7 L362,1288 L360,1289.2 L358,1289.1 L356,1288.5 L353.9,1288.5 L351.9,1288.6 L349.9,1288.7 L347.9,1289.3 L345.9,1289.1 L343.9,1289 L341.9,1289 L339.9,1288.5 L337.9,1288 L335.9,1288 L333.9,1288.8 L331.9,1288.4 L329.9,1288.7 L327.9,1289.7 L325.9,1289 L323.9,1288.7 L321.8,1289 L319.8,1289.3 L317.8,1288.3 L315.8,1289.3 L313.8,1289.3 L311.8,1289 L309.8,1289.4 L307.8,1288.7 L305.8,1288.6 L303.8,1288.7 L301.8,1288.4 L299.8,1287.9 L297.8,1289 L295.8,1288.8 L293.8,1288.2 L291.8,1288.4 L289.7,1288.4 L287.7,1288.5 L285.7,1288.7 L283.7,1287.6 L281.7,1288 L279.7,1288.4 L277.7,1288.9 L275.7,1288.9 L273.7,1288.5 L271.7,1288.7 L269.7,1288.6 L267.7,1289.1 L265.7,1288.6 L263.7,1288.5 L261.7,1289.2 L259.7,1289.1 L257.6,1288.7 L255.6,1288.7 L253.6,1287.9 L251.6,1288.9 L249.6,1288.7 L247.6,1289.2 L245.6,1289.1 L243.6,1288.8 L241.6,1288.7 L239.6,1288.5 L237.6,1287.9 L235.6,1288.4 L233.6,1288.7 L231.6,1288.7 L229.6,1288.5 L227.6,1288.6 L225.5,1288 L223.5,1288.3 L221.5,1288.8 L219.5,1288.7 L217.5,1287.7 L215.5,1287.9 L213.5,1288.3 L211.5,1288.8 L209.5,1289.5 L207.5,1288.7 L205.5,1288.9 L203.5,1288.3 L201.5,1288.8 L199.5,1289.1 L197.5,1289.6 L195.5,1290.3 L193.4,1289.9 L191.4,1288.9 L189.4,1288.3 L187.4,1288.4 L185.4,1288.6 L183.4,1289.3 L181.4,1288.2 L179.4,1288.6 L177.4,1288.7 L175.4,1288.7 L173.4,1288.9 L171.4,1289.5 L169.4,1288.9 L167.4,1288.7 L165.4,1288.6 L163.4,1289 L161.3,1288.8 L159.3,1289.2 L157.3,1289.1 L155.3,1288.5 L153.3,1289 L151.3,1288.5 L149.3,1288.5 L147.3,1288.4 L145.3,1288.5 L143.3,1288.8 L141.3,1288.8 L139.3,1287.7 L137.3,1288.9 L135.3,1288.1 L133.3,1288.3 L131.3,1288.6 L129.2,1289.3 L127.2,1289.3 L125.2,1288.3 L123.2,1289.3 L121.2,1288.9 L119.2,1288.7 L117.2,1289.1 L115.2,1288.4 L113.2,1288.5 L111.2,1288.9 L109.2,1288.8 L107.2,1288.4 L105.2,1289 L103.2,1289.3 L101.2,1289.2 L99.2,1288.4 L97.1,1288.7 L95.1,1288.2 L93.1,1288.8 L91.1,1288.5 L89.1,1289 L87.1,1289.2 L85.1,1288.8 L83.1,1288.3 L81.1,1288 L79.1,1288.3 L77.1,1288.9 L75.1,1289.4 L73.1,1288.7 L71.1,1289 L69.1,1288.2 L67.1,1288.6 L65,1288.1 L63,1288.9 L61,1289.3 L59,1288.6 L57,1288.2 L55,1288 L53,1288.9 L51,1288.7 Z" fill="#f6e4ee" filter="url(#sf5)"/>
<g mask="url(#mk5)"><clipPath id="cr5"><path d="M51,1056.9 L53,1056.2 L55,1055.8 L57,1056.5 L59,1055.2 L61,1055.7 L63,1054.7 L65,1056 L67,1055.8 L69,1056.2 L71,1055.3 L73,1055.4 L75,1054.9 L77,1054.5 L79,1054.6 L81,1053.9 L83,1054 L85,1054.5 L87,1054.2 L89,1053.7 L91,1054.8 L93,1053.9 L95,1053.2 L97,1053.3 L99,1052.9 L101,1052.7 L103,1052.5 L105,1053.6 L107.1,1052.9 L109.1,1052.7 L111.2,1052.8 L113.2,1053.4 L115.3,1052.4 L117.3,1051.9 L119.3,1053.2 L121.4,1051.5 L123.4,1051.5 L125.5,1051.9 L127.5,1052.8 L129.6,1051.4 L131.6,1050.2 L133.7,1051.3 L135.7,1050.9 L137.7,1050.8 L139.8,1051.1 L141.8,1051.1 L143.9,1051 L145.9,1050.5 L148,1051.2 L150,1051.4 L152,1050.7 L154,1050.2 L156,1050.6 L158,1050.6 L160,1049.8 L162,1049.8 L164.1,1050.5 L166.1,1050.1 L168.1,1049.8 L170.1,1049.9 L172.1,1049.8 L174.1,1049.7 L176.1,1048.7 L178.1,1050.2 L180.1,1049.8 L182.1,1049.1 L184.1,1049.8 L186.1,1049.6 L188.1,1049.4 L190.1,1049.8 L192.1,1050.4 L194.2,1049.8 L196.2,1050 L198.2,1050.3 L200.2,1048.8 L202.2,1048.5 L204.2,1049.1 L206.2,1047.9 L208.3,1048.2 L210.4,1048.9 L212.5,1048.9 L214.6,1048.5 L216.8,1047.1 L218.9,1048.6 L221,1048.1 L223.1,1047.9 L225.2,1047.6 L227.3,1046.3 L229.4,1045.9 L231.6,1045.8 L233.7,1047.2 L235.8,1046.1 L237.9,1046 L240,1045.8 L242.1,1046 L244.2,1045.9 L246.2,1045.6 L248.3,1044.6 L250.4,1043.2 L252.4,1044.2 L254.5,1044.5 L256.6,1044.9 L258.7,1044.2 L260.8,1043.5 L262.8,1043.7 L264.9,1042.6 L267,1042.4 L269.1,1042.2 L271.1,1042.6 L273.2,1043.5 L275.2,1043.1 L277.2,1043.2 L279.3,1042.7 L281.3,1042.6 L283.3,1042.1 L285.3,1042 L287.3,1040.9 L289.3,1041.1 L291.4,1041.1 L293.4,1042.2 L295.4,1042.3 L297.4,1042.6 L299.4,1042.9 L301.4,1042 L303.5,1042.4 L305.5,1042.9 L307.5,1042 L309.5,1042.3 L311.5,1041.7 L313.5,1040.8 L315.6,1041.3 L317.6,1041 L319.6,1041.3 L321.6,1041.2 L323.6,1041.6 L325.7,1040.6 L327.7,1042.4 L329.7,1042.7 L331.7,1042 L333.7,1041.5 L335.8,1041.9 L337.8,1042.4 L339.8,1042.5 L341.8,1042.6 L343.8,1041.5 L345.9,1041.6 L347.9,1042.9 L349.9,1042.8 L351.9,1042 L353.9,1042.1 L356,1041.9 L358,1042.1 L360,1043.4 L362,1043.1 L364,1043.7 L366,1043.5 L368.1,1042.6 L370.1,1042.9 L372.1,1044.5 L374.1,1043.5 L376.1,1043.1 L378.1,1044.2 L380.2,1044 L382.2,1043.9 L384.2,1044.7 L386.2,1043.4 L388.2,1044.1 L390.2,1043.7 L392.2,1043.4 L394.3,1043.7 L396.3,1044.8 L398.3,1044.6 L400.3,1043.7 L402.3,1043.9 L404.3,1045.3 L406.4,1045.5 L408.4,1044.6 L410.4,1046.2 L412.4,1045.3 L414.5,1044.6 L416.5,1045.1 L418.6,1045.8 L420.7,1046.5 L422.7,1046.4 L424.8,1045.8 L426.9,1045.6 L429,1045.1 L431,1045.8 L433.1,1045.8 L435.2,1046.3 L437.2,1045.7 L439.3,1046 L441.4,1046 L443.4,1045.9 L445.5,1045.9 L447.6,1046.1 L449.7,1046.1 L451.7,1047.1 L453.8,1047.2 L455.9,1046.6 L457.9,1047.5 L460,1047.7 L462.1,1048.4 L464.1,1047.8 L466.2,1047.7 L468.2,1047.5 L470.3,1048 L472.3,1048.3 L474.4,1048.4 L476.4,1048.2 L478.5,1048.7 L480.6,1048.6 L482.6,1048.8 L484.7,1048.3 L486.7,1048.8 L488.8,1048.4 L490.8,1048.4 L492.9,1049 L494.9,1050.2 L497,1050.1 L499.1,1049.6 L501.1,1049.5 L503.2,1050.1 L505.2,1050.6 L507.3,1050.7 L509.3,1050.1 L511.4,1050.1 L513.4,1050 L515.5,1050 L517.5,1049.8 L519.5,1050.1 L521.6,1049.2 L523.6,1049.5 L525.6,1050.5 L527.6,1050.1 L529.6,1050.8 L531.6,1050.1 L533.7,1050.4 L535.7,1051 L537.7,1050.4 L539.7,1050.5 L541.7,1052.2 L543.8,1051.1 L545.8,1050.8 L547.8,1050.9 L549.8,1051.2 L551.8,1051.4 L553.9,1052 L555.9,1052.1 L557.9,1051.6 L559.9,1051.5 L561.9,1051 L563.9,1050.8 L566,1051.2 L568,1052.1 L570,1052.1 L572,1052.5 L574.1,1052.7 L576.1,1052.3 L578.1,1053.4 L580.1,1052.4 L582.2,1052.1 L584.2,1052.1 L586.2,1053 L588.3,1052.7 L590.3,1052.3 L592.3,1052.8 L594.3,1053.4 L596.4,1053 L598.4,1052.8 L600.4,1053.5 L602.5,1053.7 L604.5,1053.8 L606.5,1053 L608.5,1053.3 L610.6,1053.5 L612.6,1052.5 L614.6,1053.8 L616.7,1053.6 L618.7,1053.4 L620.7,1054.7 L622.7,1054.1 L624.8,1053.5 L626.8,1053.8 L626.8,1288.7 L624.8,1288.8 L622.8,1289.1 L620.8,1288.1 L618.8,1288.8 L616.8,1288.4 L614.8,1288.4 L612.8,1288.4 L610.7,1288.6 L608.7,1288.3 L606.7,1289.1 L604.7,1288.7 L602.7,1288.3 L600.7,1288.3 L598.7,1288.3 L596.7,1288 L594.7,1288.4 L592.7,1288.6 L590.7,1289.3 L588.7,1288.7 L586.7,1288.9 L584.7,1288.9 L582.7,1289 L580.7,1289.2 L578.6,1288.7 L576.6,1287.9 L574.6,1288.7 L572.6,1289 L570.6,1288.4 L568.6,1288.1 L566.6,1287.8 L564.6,1288.5 L562.6,1288.8 L560.6,1289 L558.6,1289.3 L556.6,1289.1 L554.6,1289.2 L552.6,1289.3 L550.6,1289.3 L548.6,1289.1 L546.5,1289.4 L544.5,1288.8 L542.5,1288.7 L540.5,1289.2 L538.5,1288.7 L536.5,1287.6 L534.5,1288 L532.5,1288.3 L530.5,1288.6 L528.5,1288.1 L526.5,1288.5 L524.5,1288.4 L522.5,1288.3 L520.5,1289.2 L518.5,1287.7 L516.5,1288.9 L514.4,1288.5 L512.4,1289 L510.4,1288.7 L508.4,1288.3 L506.4,1289 L504.4,1289.3 L502.4,1288.8 L500.4,1289 L498.4,1288.9 L496.4,1288.6 L494.4,1289.2 L492.4,1289.2 L490.4,1288.8 L488.4,1288.9 L486.4,1288.6 L484.4,1289.2 L482.3,1289.1 L480.3,1289 L478.3,1289 L476.3,1289 L474.3,1289.3 L472.3,1289 L470.3,1289.1 L468.3,1288.6 L466.3,1288.5 L464.3,1288.4 L462.3,1288.2 L460.3,1288.5 L458.3,1288.7 L456.3,1288.8 L454.3,1288.6 L452.3,1288.7 L450.2,1289.3 L448.2,1288.9 L446.2,1289.4 L444.2,1288.8 L442.2,1288.6 L440.2,1288.8 L438.2,1288.8 L436.2,1288.3 L434.2,1288.6 L432.2,1289.3 L430.2,1289.3 L428.2,1288.7 L426.2,1288.8 L424.2,1288.7 L422.2,1289.1 L420.2,1288.5 L418.1,1288.9 L416.1,1288.7 L414.1,1288.9 L412.1,1288.8 L410.1,1289.2 L408.1,1289.2 L406.1,1289.5 L404.1,1289.3 L402.1,1288.5 L400.1,1288.3 L398.1,1288.8 L396.1,1288.7 L394.1,1289.3 L392.1,1289.5 L390.1,1289.1 L388.1,1287.9 L386,1288.4 L384,1288.5 L382,1289 L380,1288.5 L378,1289.6 L376,1289.2 L374,1289.4 L372,1289.3 L370,1289.1 L368,1288.1 L366,1288.3 L364,1288.7 L362,1288 L360,1289.2 L358,1289.1 L356,1288.5 L353.9,1288.5 L351.9,1288.6 L349.9,1288.7 L347.9,1289.3 L345.9,1289.1 L343.9,1289 L341.9,1289 L339.9,1288.5 L337.9,1288 L335.9,1288 L333.9,1288.8 L331.9,1288.4 L329.9,1288.7 L327.9,1289.7 L325.9,1289 L323.9,1288.7 L321.8,1289 L319.8,1289.3 L317.8,1288.3 L315.8,1289.3 L313.8,1289.3 L311.8,1289 L309.8,1289.4 L307.8,1288.7 L305.8,1288.6 L303.8,1288.7 L301.8,1288.4 L299.8,1287.9 L297.8,1289 L295.8,1288.8 L293.8,1288.2 L291.8,1288.4 L289.7,1288.4 L287.7,1288.5 L285.7,1288.7 L283.7,1287.6 L281.7,1288 L279.7,1288.4 L277.7,1288.9 L275.7,1288.9 L273.7,1288.5 L271.7,1288.7 L269.7,1288.6 L267.7,1289.1 L265.7,1288.6 L263.7,1288.5 L261.7,1289.2 L259.7,1289.1 L257.6,1288.7 L255.6,1288.7 L253.6,1287.9 L251.6,1288.9 L249.6,1288.7 L247.6,1289.2 L245.6,1289.1 L243.6,1288.8 L241.6,1288.7 L239.6,1288.5 L237.6,1287.9 L235.6,1288.4 L233.6,1288.7 L231.6,1288.7 L229.6,1288.5 L227.6,1288.6 L225.5,1288 L223.5,1288.3 L221.5,1288.8 L219.5,1288.7 L217.5,1287.7 L215.5,1287.9 L213.5,1288.3 L211.5,1288.8 L209.5,1289.5 L207.5,1288.7 L205.5,1288.9 L203.5,1288.3 L201.5,1288.8 L199.5,1289.1 L197.5,1289.6 L195.5,1290.3 L193.4,1289.9 L191.4,1288.9 L189.4,1288.3 L187.4,1288.4 L185.4,1288.6 L183.4,1289.3 L181.4,1288.2 L179.4,1288.6 L177.4,1288.7 L175.4,1288.7 L173.4,1288.9 L171.4,1289.5 L169.4,1288.9 L167.4,1288.7 L165.4,1288.6 L163.4,1289 L161.3,1288.8 L159.3,1289.2 L157.3,1289.1 L155.3,1288.5 L153.3,1289 L151.3,1288.5 L149.3,1288.5 L147.3,1288.4 L145.3,1288.5 L143.3,1288.8 L141.3,1288.8 L139.3,1287.7 L137.3,1288.9 L135.3,1288.1 L133.3,1288.3 L131.3,1288.6 L129.2,1289.3 L127.2,1289.3 L125.2,1288.3 L123.2,1289.3 L121.2,1288.9 L119.2,1288.7 L117.2,1289.1 L115.2,1288.4 L113.2,1288.5 L111.2,1288.9 L109.2,1288.8 L107.2,1288.4 L105.2,1289 L103.2,1289.3 L101.2,1289.2 L99.2,1288.4 L97.1,1288.7 L95.1,1288.2 L93.1,1288.8 L91.1,1288.5 L89.1,1289 L87.1,1289.2 L85.1,1288.8 L83.1,1288.3 L81.1,1288 L79.1,1288.3 L77.1,1288.9 L75.1,1289.4 L73.1,1288.7 L71.1,1289 L69.1,1288.2 L67.1,1288.6 L65,1288.1 L63,1288.9 L61,1289.3 L59,1288.6 L57,1288.2 L55,1288 L53,1288.9 L51,1288.7 Z"/></clipPath><path d="M51,1056.9 L53,1056.2 L55,1055.8 L57,1056.5 L59,1055.2 L61,1055.7 L63,1054.7 L65,1056 L67,1055.8 L69,1056.2 L71,1055.3 L73,1055.4 L75,1054.9 L77,1054.5 L79,1054.6 L81,1053.9 L83,1054 L85,1054.5 L87,1054.2 L89,1053.7 L91,1054.8 L93,1053.9 L95,1053.2 L97,1053.3 L99,1052.9 L101,1052.7 L103,1052.5 L105,1053.6 L107.1,1052.9 L109.1,1052.7 L111.2,1052.8 L113.2,1053.4 L115.3,1052.4 L117.3,1051.9 L119.3,1053.2 L121.4,1051.5 L123.4,1051.5 L125.5,1051.9 L127.5,1052.8 L129.6,1051.4 L131.6,1050.2 L133.7,1051.3 L135.7,1050.9 L137.7,1050.8 L139.8,1051.1 L141.8,1051.1 L143.9,1051 L145.9,1050.5 L148,1051.2 L150,1051.4 L152,1050.7 L154,1050.2 L156,1050.6 L158,1050.6 L160,1049.8 L162,1049.8 L164.1,1050.5 L166.1,1050.1 L168.1,1049.8 L170.1,1049.9 L172.1,1049.8 L174.1,1049.7 L176.1,1048.7 L178.1,1050.2 L180.1,1049.8 L182.1,1049.1 L184.1,1049.8 L186.1,1049.6 L188.1,1049.4 L190.1,1049.8 L192.1,1050.4 L194.2,1049.8 L196.2,1050 L198.2,1050.3 L200.2,1048.8 L202.2,1048.5 L204.2,1049.1 L206.2,1047.9 L208.3,1048.2 L210.4,1048.9 L212.5,1048.9 L214.6,1048.5 L216.8,1047.1 L218.9,1048.6 L221,1048.1 L223.1,1047.9 L225.2,1047.6 L227.3,1046.3 L229.4,1045.9 L231.6,1045.8 L233.7,1047.2 L235.8,1046.1 L237.9,1046 L240,1045.8 L242.1,1046 L244.2,1045.9 L246.2,1045.6 L248.3,1044.6 L250.4,1043.2 L252.4,1044.2 L254.5,1044.5 L256.6,1044.9 L258.7,1044.2 L260.8,1043.5 L262.8,1043.7 L264.9,1042.6 L267,1042.4 L269.1,1042.2 L271.1,1042.6 L273.2,1043.5 L275.2,1043.1 L277.2,1043.2 L279.3,1042.7 L281.3,1042.6 L283.3,1042.1 L285.3,1042 L287.3,1040.9 L289.3,1041.1 L291.4,1041.1 L293.4,1042.2 L295.4,1042.3 L297.4,1042.6 L299.4,1042.9 L301.4,1042 L303.5,1042.4 L305.5,1042.9 L307.5,1042 L309.5,1042.3 L311.5,1041.7 L313.5,1040.8 L315.6,1041.3 L317.6,1041 L319.6,1041.3 L321.6,1041.2 L323.6,1041.6 L325.7,1040.6 L327.7,1042.4 L329.7,1042.7 L331.7,1042 L333.7,1041.5 L335.8,1041.9 L337.8,1042.4 L339.8,1042.5 L341.8,1042.6 L343.8,1041.5 L345.9,1041.6 L347.9,1042.9 L349.9,1042.8 L351.9,1042 L353.9,1042.1 L356,1041.9 L358,1042.1 L360,1043.4 L362,1043.1 L364,1043.7 L366,1043.5 L368.1,1042.6 L370.1,1042.9 L372.1,1044.5 L374.1,1043.5 L376.1,1043.1 L378.1,1044.2 L380.2,1044 L382.2,1043.9 L384.2,1044.7 L386.2,1043.4 L388.2,1044.1 L390.2,1043.7 L392.2,1043.4 L394.3,1043.7 L396.3,1044.8 L398.3,1044.6 L400.3,1043.7 L402.3,1043.9 L404.3,1045.3 L406.4,1045.5 L408.4,1044.6 L410.4,1046.2 L412.4,1045.3 L414.5,1044.6 L416.5,1045.1 L418.6,1045.8 L420.7,1046.5 L422.7,1046.4 L424.8,1045.8 L426.9,1045.6 L429,1045.1 L431,1045.8 L433.1,1045.8 L435.2,1046.3 L437.2,1045.7 L439.3,1046 L441.4,1046 L443.4,1045.9 L445.5,1045.9 L447.6,1046.1 L449.7,1046.1 L451.7,1047.1 L453.8,1047.2 L455.9,1046.6 L457.9,1047.5 L460,1047.7 L462.1,1048.4 L464.1,1047.8 L466.2,1047.7 L468.2,1047.5 L470.3,1048 L472.3,1048.3 L474.4,1048.4 L476.4,1048.2 L478.5,1048.7 L480.6,1048.6 L482.6,1048.8 L484.7,1048.3 L486.7,1048.8 L488.8,1048.4 L490.8,1048.4 L492.9,1049 L494.9,1050.2 L497,1050.1 L499.1,1049.6 L501.1,1049.5 L503.2,1050.1 L505.2,1050.6 L507.3,1050.7 L509.3,1050.1 L511.4,1050.1 L513.4,1050 L515.5,1050 L517.5,1049.8 L519.5,1050.1 L521.6,1049.2 L523.6,1049.5 L525.6,1050.5 L527.6,1050.1 L529.6,1050.8 L531.6,1050.1 L533.7,1050.4 L535.7,1051 L537.7,1050.4 L539.7,1050.5 L541.7,1052.2 L543.8,1051.1 L545.8,1050.8 L547.8,1050.9 L549.8,1051.2 L551.8,1051.4 L553.9,1052 L555.9,1052.1 L557.9,1051.6 L559.9,1051.5 L561.9,1051 L563.9,1050.8 L566,1051.2 L568,1052.1 L570,1052.1 L572,1052.5 L574.1,1052.7 L576.1,1052.3 L578.1,1053.4 L580.1,1052.4 L582.2,1052.1 L584.2,1052.1 L586.2,1053 L588.3,1052.7 L590.3,1052.3 L592.3,1052.8 L594.3,1053.4 L596.4,1053 L598.4,1052.8 L600.4,1053.5 L602.5,1053.7 L604.5,1053.8 L606.5,1053 L608.5,1053.3 L610.6,1053.5 L612.6,1052.5 L614.6,1053.8 L616.7,1053.6 L618.7,1053.4 L620.7,1054.7 L622.7,1054.1 L624.8,1053.5 L626.8,1053.8 L626.8,1288.7 L624.8,1288.8 L622.8,1289.1 L620.8,1288.1 L618.8,1288.8 L616.8,1288.4 L614.8,1288.4 L612.8,1288.4 L610.7,1288.6 L608.7,1288.3 L606.7,1289.1 L604.7,1288.7 L602.7,1288.3 L600.7,1288.3 L598.7,1288.3 L596.7,1288 L594.7,1288.4 L592.7,1288.6 L590.7,1289.3 L588.7,1288.7 L586.7,1288.9 L584.7,1288.9 L582.7,1289 L580.7,1289.2 L578.6,1288.7 L576.6,1287.9 L574.6,1288.7 L572.6,1289 L570.6,1288.4 L568.6,1288.1 L566.6,1287.8 L564.6,1288.5 L562.6,1288.8 L560.6,1289 L558.6,1289.3 L556.6,1289.1 L554.6,1289.2 L552.6,1289.3 L550.6,1289.3 L548.6,1289.1 L546.5,1289.4 L544.5,1288.8 L542.5,1288.7 L540.5,1289.2 L538.5,1288.7 L536.5,1287.6 L534.5,1288 L532.5,1288.3 L530.5,1288.6 L528.5,1288.1 L526.5,1288.5 L524.5,1288.4 L522.5,1288.3 L520.5,1289.2 L518.5,1287.7 L516.5,1288.9 L514.4,1288.5 L512.4,1289 L510.4,1288.7 L508.4,1288.3 L506.4,1289 L504.4,1289.3 L502.4,1288.8 L500.4,1289 L498.4,1288.9 L496.4,1288.6 L494.4,1289.2 L492.4,1289.2 L490.4,1288.8 L488.4,1288.9 L486.4,1288.6 L484.4,1289.2 L482.3,1289.1 L480.3,1289 L478.3,1289 L476.3,1289 L474.3,1289.3 L472.3,1289 L470.3,1289.1 L468.3,1288.6 L466.3,1288.5 L464.3,1288.4 L462.3,1288.2 L460.3,1288.5 L458.3,1288.7 L456.3,1288.8 L454.3,1288.6 L452.3,1288.7 L450.2,1289.3 L448.2,1288.9 L446.2,1289.4 L444.2,1288.8 L442.2,1288.6 L440.2,1288.8 L438.2,1288.8 L436.2,1288.3 L434.2,1288.6 L432.2,1289.3 L430.2,1289.3 L428.2,1288.7 L426.2,1288.8 L424.2,1288.7 L422.2,1289.1 L420.2,1288.5 L418.1,1288.9 L416.1,1288.7 L414.1,1288.9 L412.1,1288.8 L410.1,1289.2 L408.1,1289.2 L406.1,1289.5 L404.1,1289.3 L402.1,1288.5 L400.1,1288.3 L398.1,1288.8 L396.1,1288.7 L394.1,1289.3 L392.1,1289.5 L390.1,1289.1 L388.1,1287.9 L386,1288.4 L384,1288.5 L382,1289 L380,1288.5 L378,1289.6 L376,1289.2 L374,1289.4 L372,1289.3 L370,1289.1 L368,1288.1 L366,1288.3 L364,1288.7 L362,1288 L360,1289.2 L358,1289.1 L356,1288.5 L353.9,1288.5 L351.9,1288.6 L349.9,1288.7 L347.9,1289.3 L345.9,1289.1 L343.9,1289 L341.9,1289 L339.9,1288.5 L337.9,1288 L335.9,1288 L333.9,1288.8 L331.9,1288.4 L329.9,1288.7 L327.9,1289.7 L325.9,1289 L323.9,1288.7 L321.8,1289 L319.8,1289.3 L317.8,1288.3 L315.8,1289.3 L313.8,1289.3 L311.8,1289 L309.8,1289.4 L307.8,1288.7 L305.8,1288.6 L303.8,1288.7 L301.8,1288.4 L299.8,1287.9 L297.8,1289 L295.8,1288.8 L293.8,1288.2 L291.8,1288.4 L289.7,1288.4 L287.7,1288.5 L285.7,1288.7 L283.7,1287.6 L281.7,1288 L279.7,1288.4 L277.7,1288.9 L275.7,1288.9 L273.7,1288.5 L271.7,1288.7 L269.7,1288.6 L267.7,1289.1 L265.7,1288.6 L263.7,1288.5 L261.7,1289.2 L259.7,1289.1 L257.6,1288.7 L255.6,1288.7 L253.6,1287.9 L251.6,1288.9 L249.6,1288.7 L247.6,1289.2 L245.6,1289.1 L243.6,1288.8 L241.6,1288.7 L239.6,1288.5 L237.6,1287.9 L235.6,1288.4 L233.6,1288.7 L231.6,1288.7 L229.6,1288.5 L227.6,1288.6 L225.5,1288 L223.5,1288.3 L221.5,1288.8 L219.5,1288.7 L217.5,1287.7 L215.5,1287.9 L213.5,1288.3 L211.5,1288.8 L209.5,1289.5 L207.5,1288.7 L205.5,1288.9 L203.5,1288.3 L201.5,1288.8 L199.5,1289.1 L197.5,1289.6 L195.5,1290.3 L193.4,1289.9 L191.4,1288.9 L189.4,1288.3 L187.4,1288.4 L185.4,1288.6 L183.4,1289.3 L181.4,1288.2 L179.4,1288.6 L177.4,1288.7 L175.4,1288.7 L173.4,1288.9 L171.4,1289.5 L169.4,1288.9 L167.4,1288.7 L165.4,1288.6 L163.4,1289 L161.3,1288.8 L159.3,1289.2 L157.3,1289.1 L155.3,1288.5 L153.3,1289 L151.3,1288.5 L149.3,1288.5 L147.3,1288.4 L145.3,1288.5 L143.3,1288.8 L141.3,1288.8 L139.3,1287.7 L137.3,1288.9 L135.3,1288.1 L133.3,1288.3 L131.3,1288.6 L129.2,1289.3 L127.2,1289.3 L125.2,1288.3 L123.2,1289.3 L121.2,1288.9 L119.2,1288.7 L117.2,1289.1 L115.2,1288.4 L113.2,1288.5 L111.2,1288.9 L109.2,1288.8 L107.2,1288.4 L105.2,1289 L103.2,1289.3 L101.2,1289.2 L99.2,1288.4 L97.1,1288.7 L95.1,1288.2 L93.1,1288.8 L91.1,1288.5 L89.1,1289 L87.1,1289.2 L85.1,1288.8 L83.1,1288.3 L81.1,1288 L79.1,1288.3 L77.1,1288.9 L75.1,1289.4 L73.1,1288.7 L71.1,1289 L69.1,1288.2 L67.1,1288.6 L65,1288.1 L63,1288.9 L61,1289.3 L59,1288.6 L57,1288.2 L55,1288 L53,1288.9 L51,1288.7 Z" fill="#e8cfe0" filter="url(#sg5)" clip-path="url(#cr5)"/></g>
<path d="M51,1100.2 C55.4,1099.3 67.8,1097.8 77.3,1095 C86.8,1092.2 97.9,1085.2 108.2,1083.7 C118.5,1082.2 128.9,1086.7 139.2,1086.3 C149.5,1085.9 159.8,1083.2 170.1,1081.1 C180.4,1078.9 190.7,1073.7 201,1073.4 C211.3,1073.2 221.7,1078 232,1079.6 C242.3,1081.1 253.4,1083.9 262.9,1082.7 C272.3,1081.5 278.4,1075.7 288.7,1072.4 C299,1069.1 314.4,1063.6 324.7,1063.1 C335,1062.6 341.1,1066.3 350.5,1069.3 C359.9,1072.3 369.4,1079.1 381.4,1081.1 C393.4,1083.1 408.9,1079.4 422.7,1081.1 C436.4,1082.8 450.1,1089.1 463.9,1091.4 C477.6,1093.7 491.4,1095.4 505.2,1095 C519,1094.6 532.7,1089.2 546.4,1088.9 C560.1,1088.6 574.2,1093.7 587.6,1093 C601,1092.3 620.3,1086.1 626.8,1084.7" fill="none" stroke="#1a1a1a" stroke-width="1.75" stroke-dasharray="6 4"/>
<path d="M51,1213.6 C59.7,1210.4 90.1,1197.7 103.1,1194.5 C116.1,1191.3 117.7,1193.6 128.9,1194.5 C140.1,1195.4 157.2,1199.7 170.1,1199.7 C183,1199.7 195.9,1197.5 206.2,1194.5 C216.5,1191.5 221.7,1184.2 232,1181.6 C242.3,1179 258.6,1181.7 268,1179.1 C277.4,1176.5 280.1,1170.8 288.7,1166.2 C297.3,1161.7 311,1153.1 319.6,1151.8 C328.2,1150.5 331.6,1155.2 340.2,1158.5 C348.8,1161.8 361.7,1169.3 371.1,1171.3 C380.6,1173.3 387.4,1168.6 396.9,1170.3 C406.3,1172 418.4,1178.7 427.8,1181.6 C437.2,1184.5 443.3,1189.2 453.6,1187.8 C463.9,1186.3 479.4,1174.4 489.7,1172.9 C500,1171.5 506.9,1176.1 515.5,1179.1 C524.1,1182.1 530.9,1189.6 541.2,1190.9 C551.5,1192.2 563,1189 577.3,1186.8 C591.6,1184.6 618.5,1179 626.8,1177.5" fill="none" stroke="#1a1a1a" stroke-width="1.75" stroke-dasharray="6 4"/>
<text x="65.5" y="1032" font-size="22.5" fill="#000" text-anchor="start">f</text>
<rect x="51" y="1000.5" width="575.8" height="288.2" fill="none" stroke="#3a3a3a" stroke-width="1.4"/>
<line x1="44.5" y1="1288.7" x2="51" y2="1288.7" stroke="#3a3a3a" stroke-width="1.4"/>
<line x1="51" y1="1000.5" x2="51" y2="994.5" stroke="#3a3a3a" stroke-width="1.4"/>
<text x="51" y="988" font-size="15" fill="#3c3c3c" text-anchor="middle">1470</text>
<line x1="155.7" y1="1000.5" x2="155.7" y2="994.5" stroke="#3a3a3a" stroke-width="1.4"/>
<text x="155.7" y="988" font-size="15" fill="#3c3c3c" text-anchor="middle">1480</text>
<line x1="260.4" y1="1000.5" x2="260.4" y2="994.5" stroke="#3a3a3a" stroke-width="1.4"/>
<text x="260.4" y="988" font-size="15" fill="#3c3c3c" text-anchor="middle">1490</text>
<line x1="365.1" y1="1000.5" x2="365.1" y2="994.5" stroke="#3a3a3a" stroke-width="1.4"/>
<text x="365.1" y="988" font-size="15" fill="#3c3c3c" text-anchor="middle">1500</text>
<line x1="469.8" y1="1000.5" x2="469.8" y2="994.5" stroke="#3a3a3a" stroke-width="1.4"/>
<text x="469.8" y="988" font-size="15" fill="#3c3c3c" text-anchor="middle">1510</text>
<line x1="574.5" y1="1000.5" x2="574.5" y2="994.5" stroke="#3a3a3a" stroke-width="1.4"/>
<text x="574.5" y="988" font-size="15" fill="#3c3c3c" text-anchor="middle">1520</text>
<line x1="51" y1="1017.5" x2="45" y2="1017.5" stroke="#3a3a3a" stroke-width="1.4"/>
<text x="39.5" y="1022.9" font-size="15" fill="#3c3c3c" text-anchor="end">-9</text>
<line x1="51" y1="1051.4" x2="45" y2="1051.4" stroke="#3a3a3a" stroke-width="1.4"/>
<text x="39.5" y="1056.8" font-size="15" fill="#3c3c3c" text-anchor="end">-8</text>
<line x1="51" y1="1085.3" x2="45" y2="1085.3" stroke="#3a3a3a" stroke-width="1.4"/>
<text x="39.5" y="1090.7" font-size="15" fill="#3c3c3c" text-anchor="end">-7</text>
<line x1="51" y1="1119.2" x2="45" y2="1119.2" stroke="#3a3a3a" stroke-width="1.4"/>
<text x="39.5" y="1124.6" font-size="15" fill="#3c3c3c" text-anchor="end">-6</text>
<line x1="51" y1="1153.1" x2="45" y2="1153.1" stroke="#3a3a3a" stroke-width="1.4"/>
<text x="39.5" y="1158.5" font-size="15" fill="#3c3c3c" text-anchor="end">-5</text>
<line x1="51" y1="1187" x2="45" y2="1187" stroke="#3a3a3a" stroke-width="1.4"/>
<text x="39.5" y="1192.4" font-size="15" fill="#3c3c3c" text-anchor="end">-4</text>
<line x1="51" y1="1220.9" x2="45" y2="1220.9" stroke="#3a3a3a" stroke-width="1.4"/>
<text x="39.5" y="1226.3" font-size="15" fill="#3c3c3c" text-anchor="end">-3</text>
<line x1="51" y1="1254.8" x2="45" y2="1254.8" stroke="#3a3a3a" stroke-width="1.4"/>
<text x="39.5" y="1260.2" font-size="15" fill="#3c3c3c" text-anchor="end">-2</text>
<text x="0" y="0" font-size="17" fill="#111" text-anchor="middle" transform="translate(19.5,1147) rotate(-90)">Depth (m)</text>
<clipPath id="cpE"><rect x="660" y="655.5" width="578" height="289.5"/></clipPath>
<g clip-path="url(#cpE)">
<path d="M660,715 C665.2,715.1 680,715.3 691.2,715.7 C702.5,716.1 715.4,716.3 727.5,717.4 C739.6,718.5 753.6,721.3 763.7,722.3 C773.8,723.3 777.8,723.4 787.9,723.5 C798,723.6 812,722.8 824.1,723 C836.2,723.2 850.2,725.4 860.3,724.7 C870.4,724 876.5,720.4 884.5,718.6 C892.5,716.8 900.6,715 908.6,713.8 C916.6,712.6 925.1,712 932.8,711.4 C940.5,710.8 945.7,710.9 955,710.2 C964.3,709.5 974.9,708.2 988.6,707.2 C1002.3,706.2 1025.1,705.2 1037.3,704.3 C1049.5,703.4 1049.4,702.5 1061.6,701.9 C1073.8,701.3 1094,700.8 1110.2,700.7 C1126.4,700.6 1142.6,701 1158.8,701.4 C1175,701.8 1194.2,702.9 1207.4,703.1 C1220.6,703.3 1232.9,702.5 1238,702.4 L1238,945 L660,945 Z" fill="#e9919a"/>
<path d="M660,757.8 C663.2,757.1 672.8,754.9 679.2,753.7 C685.6,752.5 690.5,750.5 698.5,750.5 C706.5,750.5 717.9,752 727.5,753.7 C737.1,755.4 746.3,758.6 756.4,760.9 C766.5,763.2 778.6,766.1 787.9,767.4 C797.2,768.7 805.5,768.8 812,768.9 C818.5,769 824.6,768.1 827.1,768 L1041.5,737.8 C1044.8,738.2 1054.2,739 1061.6,740.3 C1069,741.6 1077.8,743.7 1085.9,745.6 C1094,747.5 1102.1,749.8 1110.2,751.7 C1118.3,753.7 1126.4,755.7 1134.5,757.3 C1142.6,758.9 1150.7,761.3 1158.8,761.4 C1166.9,761.5 1175,759.2 1183.1,757.8 C1191.2,756.4 1198.2,754.2 1207.4,752.9 C1216.6,751.6 1232.9,750.5 1238,750 L1238,945 L660,945 Z" fill="#ee932f"/>
<path d="M898,757.9 C900.8,758.1 909.2,758.4 914.7,758.9 C920.2,759.4 924.8,760 930.8,760.7 C936.8,761.4 944.2,763.1 950.9,763.3 C957.6,763.5 964.3,763 971,762 C977.7,761 984.5,759.7 991.2,757.5 C997.9,755.3 1005.3,751.7 1011.3,749 C1017.3,746.3 1023.6,743.2 1027.4,741.5 C1031.2,739.8 1032.9,739.4 1034,739 Z" fill="#e9919a"/>
<path d="M898,757.9 C900.8,758.1 909.2,758.4 914.7,758.9 C920.2,759.4 924.8,760 930.8,760.7 C936.8,761.4 944.2,763.1 950.9,763.3 C957.6,763.5 964.3,763 971,762 C977.7,761 984.5,759.7 991.2,757.5 C997.9,755.3 1005.3,751.7 1011.3,749 C1017.3,746.3 1023.6,743.2 1027.4,741.5 C1031.2,739.8 1032.9,739.4 1034,739" fill="none" stroke="#2a1208" stroke-width="1.3"/>
<path d="M660,931.2 C662.5,932.2 669.3,934.5 675,937 C680.7,939.5 690.8,944.5 694,946 L660,947 Z" fill="#a36833"/>
<path d="M660,931.2 C662.5,932.2 669.3,934.5 675,937 C680.7,939.5 690.8,944.5 694,946" fill="none" stroke="#2a1208" stroke-width="1.4"/>
<path d="M953,946 C956.9,943.4 969.4,934.6 976.5,930.4 C983.6,926.2 990.2,922.1 995.9,920.7 C1001.6,919.3 1003.6,920.7 1010.5,921.9 C1017.4,923.1 1028.8,926.4 1037.3,928 C1045.8,929.6 1053.5,930.6 1061.6,931.6 C1069.7,932.6 1074.6,933.7 1085.9,934.1 C1097.2,934.5 1117.8,932.1 1129.6,934.1 C1141.4,936.1 1152.4,944 1157,946 L1157,947 L953,947 Z" fill="#a36833"/>
<path d="M953,946 C956.9,943.4 969.4,934.6 976.5,930.4 C983.6,926.2 990.2,922.1 995.9,920.7 C1001.6,919.3 1003.6,920.7 1010.5,921.9 C1017.4,923.1 1028.8,926.4 1037.3,928 C1045.8,929.6 1053.5,930.6 1061.6,931.6 C1069.7,932.6 1074.6,933.7 1085.9,934.1 C1097.2,934.5 1117.8,932.1 1129.6,934.1 C1141.4,936.1 1152.4,944 1157,946" fill="none" stroke="#2a1208" stroke-width="1.4"/>
<path d="M1214,946 L1238,932.9 L1238,947 L1214,947 Z" fill="#a36833"/>
<path d="M1214,946 L1238,932.9" fill="none" stroke="#2a1208" stroke-width="1.4"/>
<path d="M660,715 C665.2,715.1 680,715.3 691.2,715.7 C702.5,716.1 715.4,716.3 727.5,717.4 C739.6,718.5 753.6,721.3 763.7,722.3 C773.8,723.3 777.8,723.4 787.9,723.5 C798,723.6 812,722.8 824.1,723 C836.2,723.2 850.2,725.4 860.3,724.7 C870.4,724 876.5,720.4 884.5,718.6 C892.5,716.8 900.6,715 908.6,713.8 C916.6,712.6 925.1,712 932.8,711.4 C940.5,710.8 945.7,710.9 955,710.2 C964.3,709.5 974.9,708.2 988.6,707.2 C1002.3,706.2 1025.1,705.2 1037.3,704.3 C1049.5,703.4 1049.4,702.5 1061.6,701.9 C1073.8,701.3 1094,700.8 1110.2,700.7 C1126.4,700.6 1142.6,701 1158.8,701.4 C1175,701.8 1194.2,702.9 1207.4,703.1 C1220.6,703.3 1232.9,702.5 1238,702.4" fill="none" stroke="#2a1208" stroke-width="1.5"/>
<path d="M660,757.8 C663.2,757.1 672.8,754.9 679.2,753.7 C685.6,752.5 690.5,750.5 698.5,750.5 C706.5,750.5 717.9,752 727.5,753.7 C737.1,755.4 746.3,758.6 756.4,760.9 C766.5,763.2 778.6,766.1 787.9,767.4 C797.2,768.7 805.5,768.8 812,768.9 C818.5,769 824.6,768.1 827.1,768" fill="none" stroke="#2a1208" stroke-width="1.4"/>
<path d="M1041.5,737.8 C1044.8,738.2 1054.2,739 1061.6,740.3 C1069,741.6 1077.8,743.7 1085.9,745.6 C1094,747.5 1102.1,749.8 1110.2,751.7 C1118.3,753.7 1126.4,755.7 1134.5,757.3 C1142.6,758.9 1150.7,761.3 1158.8,761.4 C1166.9,761.5 1175,759.2 1183.1,757.8 C1191.2,756.4 1198.2,754.2 1207.4,752.9 C1216.6,751.6 1232.9,750.5 1238,750" fill="none" stroke="#2a1208" stroke-width="1.4"/>
<path d="M665.9,736 C670.5,734.4 684.5,727.9 693.6,726.4 C702.7,724.9 715.8,727.1 720.2,727.3" fill="none" stroke="#381606" stroke-width="1.5" stroke-linecap="round"/>
<path d="M787.9,732.7 C791.9,732.4 804.8,730.8 812,730.7 C819.2,730.6 828.1,731.7 831.3,731.9" fill="none" stroke="#381606" stroke-width="1.5" stroke-linecap="round"/>
<path d="M857.9,735.1 C862.3,733.8 876.5,729.4 884.5,727.1 C892.5,724.8 902.6,722.1 906.2,721.1" fill="none" stroke="#381606" stroke-width="1.5" stroke-linecap="round"/>
<path d="M676.7,808 C681.1,805.2 693.6,796.3 703.3,791.1 C713,785.9 723.6,781.4 734.7,776.6 C745.8,771.9 763.9,764.9 769.7,762.6" fill="none" stroke="#381606" stroke-width="1.5" stroke-linecap="round"/>
<path d="M676.7,823.2 C681.1,820.7 692.5,813 703.3,808 C714.1,803 735.1,795.9 741.5,793.5" fill="none" stroke="#381606" stroke-width="1.5" stroke-linecap="round"/>
<path d="M758.9,894.5 C762.9,891.8 774.9,883.9 783,878.1 C791.1,872.4 803.6,863 807.7,860" fill="none" stroke="#381606" stroke-width="1.5" stroke-linecap="round"/>
<path d="M780.6,902.2 C784.6,900.2 798.3,894.1 804.8,890.1 C811.2,886.1 812.5,882.7 819.3,878.1 C826.1,873.5 841.4,865 845.8,862.4" fill="none" stroke="#381606" stroke-width="1.5" stroke-linecap="round"/>
<path d="M810.8,927.6 C815,924.2 827.4,914 836.2,907 C845.1,900 859.3,889.3 863.9,885.8" fill="none" stroke="#381606" stroke-width="1.5" stroke-linecap="round"/>
<path d="M809.6,938.5 C813.6,936.1 825.5,928.9 833.7,924 C842,919.1 854.9,911.5 859.1,909" fill="none" stroke="#381606" stroke-width="1.5" stroke-linecap="round"/>
<path d="M828.4,834.6 C829.5,830.2 832.7,816.1 835,808 C837.3,799.9 841,789.5 842.2,785.8" fill="none" stroke="#381606" stroke-width="1.5" stroke-linecap="round"/>
<path d="M841,856.3 C841.6,851.1 843.8,836.2 844.6,824.9 C845.4,813.6 845.6,794.7 845.8,788.7" fill="none" stroke="#381606" stroke-width="1.5" stroke-linecap="round"/>
<path d="M860.3,858.7 C860.9,853.9 862.7,839 863.9,829.8 C865.1,820.5 867,807.6 867.6,803.2" fill="none" stroke="#381606" stroke-width="1.5" stroke-linecap="round"/>
<path d="M830.1,823.7 C833.1,825.1 842,829.2 848.2,832.2 C854.5,835.2 864.4,839.9 867.6,841.4" fill="none" stroke="#381606" stroke-width="1.5" stroke-linecap="round"/>
<path d="M857.4,810.4 C859.9,811.2 868.1,813.3 872.4,815.3 C876.7,817.3 881.5,821.3 883.3,822.5" fill="none" stroke="#381606" stroke-width="1.5" stroke-linecap="round"/>
<path d="M918.3,824.9 C920.7,826.1 926.7,830.6 932.8,832.2 C938.9,833.8 951.3,834.2 955,834.6" fill="none" stroke="#381606" stroke-width="1.5" stroke-linecap="round"/>
<path d="M932.8,870.8 C933.4,866.4 935.6,852.3 936.4,844.3 C937.2,836.2 937.4,826.1 937.6,822.5" fill="none" stroke="#381606" stroke-width="1.5" stroke-linecap="round"/>
<path d="M1022.7,716.5 C1025.9,715.7 1035.6,712.6 1042.1,711.6 C1048.6,710.6 1053.7,711 1061.6,710.4 C1069.5,709.8 1084.8,708.4 1089.5,708" fill="none" stroke="#381606" stroke-width="1.5" stroke-linecap="round"/>
<path d="M1079.8,728.6 C1084.9,726.2 1101.1,717.4 1110.2,714 C1119.3,710.6 1126.4,708.3 1134.5,708 C1142.6,707.7 1154.8,711.4 1158.8,712.1" fill="none" stroke="#381606" stroke-width="1.5" stroke-linecap="round"/>
<path d="M1168.5,742 C1170.9,740.2 1177.4,733.9 1183.1,731.1 C1188.8,728.3 1194.3,726.2 1202.6,725 C1210.9,723.8 1227.9,724 1233,723.8" fill="none" stroke="#381606" stroke-width="1.5" stroke-linecap="round"/>
<path d="M940,787 L960.7,778.5" fill="none" stroke="#381606" stroke-width="1.5" stroke-linecap="round"/>
<path d="M958.2,793.8 C963.3,791 979.5,784.1 988.6,777.3 C997.7,770.5 1008.9,757 1012.9,752.9" fill="none" stroke="#381606" stroke-width="1.5" stroke-linecap="round"/>
<path d="M947.3,801.6 C951.3,800.4 964.9,797.1 971.6,794.3 C978.3,791.4 984.8,786.1 987.4,784.5" fill="none" stroke="#381606" stroke-width="1.5" stroke-linecap="round"/>
<path d="M972.8,823.4 C976.6,821.8 987.2,819 995.9,813.7 C1004.6,808.4 1015.8,799.5 1025.1,791.8 C1034.4,784.1 1047.3,771.5 1051.8,767.5" fill="none" stroke="#381606" stroke-width="1.5" stroke-linecap="round"/>
<path d="M958.2,856.3 C963.3,853.7 979.3,847 988.6,840.5 C997.9,834 1009.9,821.2 1014.2,817.4" fill="none" stroke="#381606" stroke-width="1.5" stroke-linecap="round"/>
<path d="M978.9,810.1 L991.1,841.7" fill="none" stroke="#381606" stroke-width="1.5" stroke-linecap="round"/>
<path d="M991.1,806.4 L1010.5,850.2" fill="none" stroke="#381606" stroke-width="1.5" stroke-linecap="round"/>
<path d="M956.5,818.6 L961.9,849" fill="none" stroke="#381606" stroke-width="1.5" stroke-linecap="round"/>
<path d="M940,833.2 C942.8,832.4 951.3,827.7 957,828.3 C962.7,828.9 971.2,835.4 974,836.8" fill="none" stroke="#381606" stroke-width="1.5" stroke-linecap="round"/>
<path d="M1085.9,816.2 C1087.9,815.2 1093.1,812.1 1098,810.1 C1102.9,808.1 1111.4,805.2 1115.1,804 C1118.8,802.8 1119.1,803 1119.9,802.8" fill="none" stroke="#381606" stroke-width="1.5" stroke-linecap="round"/>
<path d="M1119.9,806.4 C1120.1,803.2 1120.7,793.5 1121.1,787 C1121.5,780.5 1122.2,770.8 1122.4,767.5" fill="none" stroke="#381606" stroke-width="1.5" stroke-linecap="round"/>
<path d="M1095.6,836.1 C1100.1,834.4 1113.1,829.2 1122.4,825.9 C1131.7,822.6 1146.7,817.8 1151.5,816.2" fill="none" stroke="#381606" stroke-width="1.5" stroke-linecap="round"/>
<path d="M1150.3,904.9 C1155,902.5 1169.4,894.8 1178.3,890.3 C1187.2,885.8 1199.5,880.2 1203.8,878.2" fill="none" stroke="#381606" stroke-width="1.5" stroke-linecap="round"/>
<path d="M1207.4,875.7 C1207.2,880.4 1206.2,894.2 1206.2,903.7 C1206.2,913.2 1207.2,928 1207.4,932.9" fill="none" stroke="#381606" stroke-width="1.5" stroke-linecap="round"/>
<path d="M827.1,768 C831,771.4 841.4,782.1 850.3,788.6 C859.2,795.1 870.5,802 880.5,806.7 C890.5,811.4 900.6,814.7 910.6,816.7 C920.6,818.7 930.7,819.5 940.8,818.8 C950.9,818.1 960.9,816.7 971,812.7 C981.1,808.7 992.5,801 1001.2,794.6 C1009.9,788.2 1017.7,780.9 1023.4,774.5 C1029.1,768.1 1032.4,762.5 1035.4,756.4 C1038.4,750.3 1040.5,740.9 1041.5,737.8" fill="none" stroke="#111" stroke-width="2.1"/>
<line x1="827.1" y1="768" x2="1041.5" y2="737.8" stroke="#111" stroke-width="2.1"/>
</g>
<line x1="823.1" y1="756" x2="1040.5" y2="723.1" stroke="#3564b8" stroke-width="2.0" marker-start="url(#ah)" marker-end="url(#ah)"/>
<line x1="935.8" y1="753.9" x2="944.5" y2="816.7" stroke="#3564b8" stroke-width="2.0" marker-start="url(#ah)" marker-end="url(#ah)"/>
<text x="907.5" y="731.6" font-size="18.5" fill="#1a1a1a" text-anchor="start">~11 m</text>
<text x="870.3" y="788.6" font-size="18.5" fill="#1a1a1a" text-anchor="start">~1.2 m</text>
<text x="675.5" y="695" font-size="22.5" fill="#000" text-anchor="start">e</text>
<rect x="660" y="655.5" width="578" height="289.5" fill="none" stroke="#3a3a3a" stroke-width="1.4"/>
<line x1="653.5" y1="945" x2="660" y2="945" stroke="#3a3a3a" stroke-width="1.4"/>
<line x1="660" y1="655.5" x2="660" y2="649.5" stroke="#3a3a3a" stroke-width="1.4"/>
<text x="660" y="643" font-size="15" fill="#3c3c3c" text-anchor="middle">1160</text>
<line x1="852.7" y1="655.5" x2="852.7" y2="649.5" stroke="#3a3a3a" stroke-width="1.4"/>
<text x="852.7" y="643" font-size="15" fill="#3c3c3c" text-anchor="middle">1170</text>
<line x1="1045.3" y1="655.5" x2="1045.3" y2="649.5" stroke="#3a3a3a" stroke-width="1.4"/>
<text x="1045.3" y="643" font-size="15" fill="#3c3c3c" text-anchor="middle">1180</text>
<line x1="1238" y1="655.5" x2="1238" y2="649.5" stroke="#3a3a3a" stroke-width="1.4"/>
<line x1="660" y1="655.5" x2="654" y2="655.5" stroke="#3a3a3a" stroke-width="1.4"/>
<text x="648.5" y="660.9" font-size="15" fill="#3c3c3c" text-anchor="end">-8</text>
<line x1="660" y1="713.4" x2="654" y2="713.4" stroke="#3a3a3a" stroke-width="1.4"/>
<text x="648.5" y="718.8" font-size="15" fill="#3c3c3c" text-anchor="end">-7</text>
<line x1="660" y1="771.3" x2="654" y2="771.3" stroke="#3a3a3a" stroke-width="1.4"/>
<text x="648.5" y="776.7" font-size="15" fill="#3c3c3c" text-anchor="end">-6</text>
<line x1="660" y1="829.2" x2="654" y2="829.2" stroke="#3a3a3a" stroke-width="1.4"/>
<text x="648.5" y="834.6" font-size="15" fill="#3c3c3c" text-anchor="end">-5</text>
<line x1="660" y1="887.1" x2="654" y2="887.1" stroke="#3a3a3a" stroke-width="1.4"/>
<text x="648.5" y="892.5" font-size="15" fill="#3c3c3c" text-anchor="end">-4</text>
<clipPath id="cpG"><rect x="659.5" y="1000.8" width="578" height="288.2"/></clipPath>
<g clip-path="url(#cpG)">
<path d="M659.5,1059 C666.8,1058.7 687.9,1057.9 703.3,1057 C718.6,1056.1 735.5,1054.3 751.6,1053.4 C767.7,1052.5 783.8,1052.4 799.9,1051.7 C816,1051 832.1,1050.1 848.2,1049.3 C864.3,1048.5 882.1,1047.8 896.5,1046.9 C910.9,1046 920.5,1043.9 934.5,1043.8 C948.5,1043.7 964.2,1045.7 980.2,1046.3 C996.2,1046.9 1013.8,1047 1030.5,1047.6 C1047.2,1048.2 1064,1049 1080.7,1050.1 C1097.5,1051.1 1114.2,1053.1 1131,1053.9 C1147.8,1054.7 1163.4,1054.7 1181.2,1055.1 C1199,1055.5 1228.3,1056.2 1237.7,1056.4 L1237.5,1289 L659.5,1289 Z" fill="#e9919a"/>
<path d="M659.5,1101.3 C662.8,1100.6 671.9,1098.9 679.2,1097.1 C686.5,1095.3 696.5,1092.3 703.3,1090.4 C710.1,1088.5 714.2,1086.1 720.2,1085.6 C726.2,1085.1 732.2,1087.7 739.5,1087.5 C746.8,1087.3 756.1,1085.8 763.7,1084.3 C771.4,1082.8 778.1,1079.8 785.4,1078.3 C792.6,1076.8 800.8,1075.4 807.2,1075.2 C813.7,1075 817.3,1076.2 824.1,1077.1 C830.9,1078 840.2,1079.9 848.2,1080.7 C856.2,1081.5 864.4,1082.7 872.4,1081.9 C880.4,1081.1 889.2,1078.1 896.5,1075.9 C903.8,1073.7 909.6,1070.8 915.9,1068.6 C922.2,1066.4 928,1063.6 934.5,1063 C941,1062.4 947.5,1063.6 955.1,1065.2 C962.7,1066.8 971.8,1070.2 980.2,1072.7 C988.6,1075.2 997,1078.7 1005.4,1080.2 C1013.8,1081.7 1022.1,1080.9 1030.5,1081.5 C1038.9,1082.1 1047.2,1082.5 1055.6,1084 C1064,1085.5 1072.3,1088.5 1080.7,1090.3 C1089.1,1092.1 1097.4,1094.2 1105.8,1094.8 C1114.2,1095.4 1122.6,1094.8 1131,1094.1 C1139.4,1093.3 1147.7,1090.6 1156.1,1090.3 C1164.5,1090 1172.8,1092.3 1181.2,1092.3 C1189.6,1092.3 1196.9,1091.1 1206.3,1090.3 C1215.7,1089.5 1232.5,1087.8 1237.7,1087.3 L1237.5,1289 L659.5,1289 Z" fill="#ee932f"/>
<path d="M659.5,1213.6 C662.8,1213.2 671.9,1213.6 679.2,1211.2 C686.5,1208.8 697.3,1201.7 703.3,1199.1 C709.3,1196.5 709.4,1195.9 715.4,1195.5 C721.4,1195.1 731.5,1196.1 739.5,1196.7 C747.5,1197.3 755.6,1199.1 763.7,1199.1 C771.8,1199.1 781,1198.1 787.9,1196.7 C794.8,1195.3 798.8,1193 804.8,1190.6 C810.8,1188.2 816.9,1184.2 824.1,1182.2 C831.3,1180.2 840.2,1179.8 848.2,1178.6 C856.2,1177.4 864.4,1176.7 872.4,1174.9 C880.4,1173.1 889.2,1170.7 896.5,1167.7 C903.8,1164.7 909.6,1159.3 915.9,1156.8 C922.2,1154.3 928,1153 934.5,1152.8 C941,1152.6 947.5,1153.2 955.1,1155.6 C962.7,1157.9 971.8,1164 980.2,1166.9 C988.6,1169.8 997,1170.9 1005.4,1173.2 C1013.8,1175.5 1023.4,1178.4 1030.5,1180.7 C1037.6,1183 1042.7,1185.5 1048.1,1187 C1053.5,1188.5 1057.7,1190.5 1063.1,1189.5 C1068.5,1188.5 1074.4,1183.1 1080.7,1180.7 C1087,1178.3 1094.1,1175.2 1100.8,1175.2 C1107.5,1175.2 1113.8,1178.1 1120.9,1180.7 C1128,1183.3 1135.5,1189.3 1143.5,1190.8 C1151.5,1192.3 1160.2,1190.5 1168.6,1189.5 C1177,1188.5 1182.3,1186.3 1193.8,1184.5 C1205.3,1182.7 1230.4,1179.7 1237.7,1178.7 L1237.5,1289 L659.5,1289 Z" fill="#a36833"/>
<path d="M659.5,1059 C666.8,1058.7 687.9,1057.9 703.3,1057 C718.6,1056.1 735.5,1054.3 751.6,1053.4 C767.7,1052.5 783.8,1052.4 799.9,1051.7 C816,1051 832.1,1050.1 848.2,1049.3 C864.3,1048.5 882.1,1047.8 896.5,1046.9 C910.9,1046 920.5,1043.9 934.5,1043.8 C948.5,1043.7 964.2,1045.7 980.2,1046.3 C996.2,1046.9 1013.8,1047 1030.5,1047.6 C1047.2,1048.2 1064,1049 1080.7,1050.1 C1097.5,1051.1 1114.2,1053.1 1131,1053.9 C1147.8,1054.7 1163.4,1054.7 1181.2,1055.1 C1199,1055.5 1228.3,1056.2 1237.7,1056.4" fill="none" stroke="#2a1208" stroke-width="1.5"/>
<path d="M659.5,1101.3 C662.8,1100.6 671.9,1098.9 679.2,1097.1 C686.5,1095.3 696.5,1092.3 703.3,1090.4 C710.1,1088.5 714.2,1086.1 720.2,1085.6 C726.2,1085.1 732.2,1087.7 739.5,1087.5 C746.8,1087.3 756.1,1085.8 763.7,1084.3 C771.4,1082.8 778.1,1079.8 785.4,1078.3 C792.6,1076.8 800.8,1075.4 807.2,1075.2 C813.7,1075 817.3,1076.2 824.1,1077.1 C830.9,1078 840.2,1079.9 848.2,1080.7 C856.2,1081.5 864.4,1082.7 872.4,1081.9 C880.4,1081.1 889.2,1078.1 896.5,1075.9 C903.8,1073.7 909.6,1070.8 915.9,1068.6 C922.2,1066.4 928,1063.6 934.5,1063 C941,1062.4 947.5,1063.6 955.1,1065.2 C962.7,1066.8 971.8,1070.2 980.2,1072.7 C988.6,1075.2 997,1078.7 1005.4,1080.2 C1013.8,1081.7 1022.1,1080.9 1030.5,1081.5 C1038.9,1082.1 1047.2,1082.5 1055.6,1084 C1064,1085.5 1072.3,1088.5 1080.7,1090.3 C1089.1,1092.1 1097.4,1094.2 1105.8,1094.8 C1114.2,1095.4 1122.6,1094.8 1131,1094.1 C1139.4,1093.3 1147.7,1090.6 1156.1,1090.3 C1164.5,1090 1172.8,1092.3 1181.2,1092.3 C1189.6,1092.3 1196.9,1091.1 1206.3,1090.3 C1215.7,1089.5 1232.5,1087.8 1237.7,1087.3" fill="none" stroke="#2a1208" stroke-width="1.4"/>
<path d="M659.5,1213.6 C662.8,1213.2 671.9,1213.6 679.2,1211.2 C686.5,1208.8 697.3,1201.7 703.3,1199.1 C709.3,1196.5 709.4,1195.9 715.4,1195.5 C721.4,1195.1 731.5,1196.1 739.5,1196.7 C747.5,1197.3 755.6,1199.1 763.7,1199.1 C771.8,1199.1 781,1198.1 787.9,1196.7 C794.8,1195.3 798.8,1193 804.8,1190.6 C810.8,1188.2 816.9,1184.2 824.1,1182.2 C831.3,1180.2 840.2,1179.8 848.2,1178.6 C856.2,1177.4 864.4,1176.7 872.4,1174.9 C880.4,1173.1 889.2,1170.7 896.5,1167.7 C903.8,1164.7 909.6,1159.3 915.9,1156.8 C922.2,1154.3 928,1153 934.5,1152.8 C941,1152.6 947.5,1153.2 955.1,1155.6 C962.7,1157.9 971.8,1164 980.2,1166.9 C988.6,1169.8 997,1170.9 1005.4,1173.2 C1013.8,1175.5 1023.4,1178.4 1030.5,1180.7 C1037.6,1183 1042.7,1185.5 1048.1,1187 C1053.5,1188.5 1057.7,1190.5 1063.1,1189.5 C1068.5,1188.5 1074.4,1183.1 1080.7,1180.7 C1087,1178.3 1094.1,1175.2 1100.8,1175.2 C1107.5,1175.2 1113.8,1178.1 1120.9,1180.7 C1128,1183.3 1135.5,1189.3 1143.5,1190.8 C1151.5,1192.3 1160.2,1190.5 1168.6,1189.5 C1177,1188.5 1182.3,1186.3 1193.8,1184.5 C1205.3,1182.7 1230.4,1179.7 1237.7,1178.7" fill="none" stroke="#2a1208" stroke-width="1.4"/>
<path d="M684,1066.2 C687.2,1065.8 696.7,1064.2 703.3,1063.8 C709.9,1063.4 720.4,1063.8 723.8,1063.8" fill="none" stroke="#381606" stroke-width="1.5" stroke-linecap="round"/>
<path d="M742,1074.7 C744.4,1072.7 751.6,1065.2 756.4,1062.6 C761.2,1060 768.5,1059.6 770.9,1059" fill="none" stroke="#381606" stroke-width="1.5" stroke-linecap="round"/>
<path d="M810.8,1072.3 C813.8,1070.5 822.2,1064.6 828.9,1061.4 C835.5,1058.2 847.1,1054.4 850.7,1053" fill="none" stroke="#381606" stroke-width="1.5" stroke-linecap="round"/>
<path d="M853.1,1072.3 C856.3,1070.5 866,1064.4 872.4,1061.4 C878.8,1058.4 888.1,1055.4 891.2,1054.2" fill="none" stroke="#381606" stroke-width="1.5" stroke-linecap="round"/>
<path d="M698.5,1177.3 C703.3,1172.9 715.2,1159.4 727.5,1150.8 C739.8,1142.2 764.8,1129.6 772.2,1125.4" fill="none" stroke="#381606" stroke-width="1.5" stroke-linecap="round"/>
<path d="M773.4,1159.2 C778.6,1156.8 794.3,1150.9 804.8,1144.7 C815.3,1138.5 825.8,1128.6 836.2,1121.8 C846.6,1115 862,1106.7 867.1,1103.7" fill="none" stroke="#381606" stroke-width="1.5" stroke-linecap="round"/>
<path d="M857.9,1138.2 C861.1,1136.3 869.2,1132.1 877.2,1126.6 C885.2,1121 901.4,1108.5 906.2,1104.9" fill="none" stroke="#381606" stroke-width="1.5" stroke-linecap="round"/>
<path d="M749.2,1236.5 C751.6,1237.1 758.3,1238.1 763.7,1240.1 C769.1,1242.1 778.8,1247.2 781.8,1248.6" fill="none" stroke="#381606" stroke-width="1.5" stroke-linecap="round"/>
<path d="M743.2,1265.5 C746.6,1263.3 757.3,1255.8 763.7,1252.2 C770.1,1248.6 778.8,1245.2 781.8,1243.8" fill="none" stroke="#381606" stroke-width="1.5" stroke-linecap="round"/>
<path d="M768.5,1271.5 C771.7,1269.5 782.7,1263.3 787.9,1259.5 C793.1,1255.7 797.9,1250.4 799.9,1248.6" fill="none" stroke="#381606" stroke-width="1.5" stroke-linecap="round"/>
<path d="M781.8,1278.8 C784.8,1277.2 793.2,1272.3 799.9,1269.1 C806.5,1265.9 818.1,1261.1 821.7,1259.5" fill="none" stroke="#381606" stroke-width="1.5" stroke-linecap="round"/>
<path d="M803.6,1248.6 L807.2,1271.5" fill="none" stroke="#381606" stroke-width="1.5" stroke-linecap="round"/>
<path d="M821.7,1267.9 C824.5,1267.5 832.2,1265.5 838.6,1265.5 C845,1265.5 856.7,1267.5 860.3,1267.9" fill="none" stroke="#381606" stroke-width="1.5" stroke-linecap="round"/>
<path d="M843.4,1257 L843.9,1278.8" fill="none" stroke="#381606" stroke-width="1.5" stroke-linecap="round"/>
<path d="M860.3,1257 L859.1,1276.4" fill="none" stroke="#381606" stroke-width="1.5" stroke-linecap="round"/>
<path d="M850.7,1289.7 C853.1,1288.3 860.9,1283.6 865.1,1281.2 C869.3,1278.8 874.2,1276.2 876,1275.2" fill="none" stroke="#381606" stroke-width="1.5" stroke-linecap="round"/>
<path d="M879.6,1246.2 L884.5,1272.8" fill="none" stroke="#381606" stroke-width="1.5" stroke-linecap="round"/>
<path d="M888.1,1242.6 L902.6,1271.5" fill="none" stroke="#381606" stroke-width="1.5" stroke-linecap="round"/>
<path d="M876,1265.5 C879.4,1263.3 889,1257.6 896.5,1252.2 C904,1246.8 916.7,1236.1 920.7,1232.9" fill="none" stroke="#381606" stroke-width="1.5" stroke-linecap="round"/>
<path d="M911,1223.2 C911.8,1226.4 914.5,1236.3 915.9,1242.6 C917.3,1248.8 918.9,1257.7 919.5,1260.7" fill="none" stroke="#381606" stroke-width="1.5" stroke-linecap="round"/>
<path d="M821.7,1248.6 C823.7,1247.6 828.9,1244.4 833.7,1242.6 C838.5,1240.8 847.9,1238.6 850.7,1237.8" fill="none" stroke="#381606" stroke-width="1.5" stroke-linecap="round"/>
<path d="M870,1243.8 C873.2,1241.2 882.5,1233.9 889.3,1228.1 C896.1,1222.2 907,1213.9 911,1208.7 C915,1203.5 913.1,1198.7 913.5,1196.7" fill="none" stroke="#381606" stroke-width="1.5" stroke-linecap="round"/>
<path d="M970.2,1052.1 C972.3,1053 978.4,1055 982.8,1057.6 C987.2,1060.2 994.3,1066 996.6,1067.7" fill="none" stroke="#381606" stroke-width="1.5" stroke-linecap="round"/>
<path d="M1021.7,1053.9 C1024.8,1054.9 1034.8,1057.4 1040.5,1059.6 C1046.2,1061.8 1053.1,1065.9 1055.6,1067.2" fill="none" stroke="#381606" stroke-width="1.5" stroke-linecap="round"/>
<path d="M1084.5,1065.2 C1086,1065.6 1087.6,1068 1093.3,1067.7 C1099,1067.4 1114.2,1064 1118.4,1063.2" fill="none" stroke="#381606" stroke-width="1.5" stroke-linecap="round"/>
<path d="M1132.2,1065.7 C1134.9,1065.6 1142.6,1065.1 1148.5,1065.2 C1154.4,1065.3 1164.2,1066.2 1167.4,1066.4" fill="none" stroke="#381606" stroke-width="1.5" stroke-linecap="round"/>
<path d="M945.1,1119.2 C948.5,1121.5 959.8,1129 965.2,1133 C970.6,1137 973.9,1141.1 977.7,1143 C981.5,1144.9 986.1,1144.1 987.8,1144.3" fill="none" stroke="#381606" stroke-width="1.5" stroke-linecap="round"/>
<path d="M962.2,1105.4 C969.4,1109.2 993.2,1121.3 1005.4,1128 C1017.6,1134.7 1030.5,1142.6 1035.5,1145.5" fill="none" stroke="#381606" stroke-width="1.5" stroke-linecap="round"/>
<path d="M1059.4,1164.4 C1063,1162.9 1073,1160 1080.7,1155.6 C1088.4,1151.2 1095.8,1142.9 1105.8,1138 C1115.8,1133.1 1135.1,1128 1141,1126" fill="none" stroke="#381606" stroke-width="1.5" stroke-linecap="round"/>
<path d="M1153.6,1117.9 C1156.5,1116.2 1164.4,1111.7 1171.1,1107.9 C1177.8,1104.1 1186.9,1097.6 1193.8,1095.3 C1200.7,1093 1209.5,1094.3 1212.6,1094.1" fill="none" stroke="#381606" stroke-width="1.5" stroke-linecap="round"/>
<path d="M960.1,1193.3 C962.6,1196.2 969.5,1202.3 975.2,1210.9 C980.9,1219.5 991,1239.2 994.1,1244.8" fill="none" stroke="#381606" stroke-width="1.5" stroke-linecap="round"/>
<path d="M941.3,1229.7 C944.9,1232 955,1238.3 962.7,1243.5 C970.5,1248.7 983.6,1258.2 987.8,1261.1" fill="none" stroke="#381606" stroke-width="1.5" stroke-linecap="round"/>
<path d="M942.6,1257.3 L962.7,1228.4" fill="none" stroke="#381606" stroke-width="1.5" stroke-linecap="round"/>
<path d="M958.9,1273.7 L975.2,1238.5" fill="none" stroke="#381606" stroke-width="1.5" stroke-linecap="round"/>
<path d="M1016.7,1249.8 C1021.1,1250 1034.4,1252 1043,1251 C1051.6,1250 1064,1244.8 1068.2,1243.5" fill="none" stroke="#381606" stroke-width="1.5" stroke-linecap="round"/>
<path d="M1074.4,1236 C1079.6,1233.9 1096.8,1226.8 1105.8,1223.4 C1114.8,1220.1 1124.6,1217.2 1128.4,1215.9" fill="none" stroke="#381606" stroke-width="1.5" stroke-linecap="round"/>
<path d="M1122.2,1225.9 C1123.7,1228.4 1127.7,1235.3 1131,1241 C1134.3,1246.7 1140.4,1256.7 1142.3,1259.8" fill="none" stroke="#381606" stroke-width="1.5" stroke-linecap="round"/>
<path d="M1103.3,1258.6 C1107.9,1255.7 1122,1249 1131,1241 C1140,1233 1152.9,1215.9 1157.3,1210.9" fill="none" stroke="#381606" stroke-width="1.5" stroke-linecap="round"/>
<path d="M1143.5,1210.9 L1147.3,1246" fill="none" stroke="#381606" stroke-width="1.5" stroke-linecap="round"/>
<path d="M1022.9,1259.8 L1026.7,1287.5" fill="none" stroke="#381606" stroke-width="1.5" stroke-linecap="round"/>
<path d="M1016.7,1269.9 C1020.7,1269.7 1033,1269 1040.5,1268.6 C1048,1268.2 1058.3,1267.6 1061.9,1267.4" fill="none" stroke="#381606" stroke-width="1.5" stroke-linecap="round"/>
<path d="M1050.6,1257.3 L1051.8,1286.2" fill="none" stroke="#381606" stroke-width="1.5" stroke-linecap="round"/>
<path d="M1065.6,1254.8 L1068.2,1286.2" fill="none" stroke="#381606" stroke-width="1.5" stroke-linecap="round"/>
<path d="M1044.3,1282.4 C1047.8,1281.6 1059.1,1279.3 1065.6,1277.4 C1072.1,1275.5 1080.3,1272.1 1083.2,1271.1" fill="none" stroke="#381606" stroke-width="1.5" stroke-linecap="round"/>
<path d="M752.8,1202 C755.8,1205.5 763.8,1216.9 770.9,1223.2 C778,1229.5 786.2,1235.3 795.1,1240.1 C804,1244.9 815.2,1249.6 824.1,1252.2 C833,1254.8 840.2,1256 848.2,1255.8 C856.2,1255.6 864.4,1254.4 872.4,1251 C880.4,1247.6 889.2,1241.9 896.5,1235.3 C903.8,1228.7 910.7,1219.2 915.9,1211.2 C921.1,1203.2 925.2,1194.5 927.9,1187 C930.6,1179.5 931.6,1169.9 932.3,1166.5" fill="none" stroke="#111" stroke-width="2.1"/>
<path d="M937.5,1166.9 C938.8,1171.3 941.3,1184.7 945.1,1193.3 C948.9,1201.9 954.2,1210.9 960.1,1218.4 C966,1225.9 972.7,1232.8 980.2,1238.5 C987.8,1244.2 997,1249.2 1005.4,1252.3 C1013.8,1255.4 1022.1,1256.9 1030.5,1257.3 C1038.9,1257.7 1047.2,1256.7 1055.6,1254.8 C1064,1252.9 1072.3,1250 1080.7,1246 C1089.1,1242 1097.8,1236 1105.8,1231 C1113.8,1226 1122.5,1220.1 1128.4,1215.9 C1134.3,1211.7 1138.9,1207.5 1141,1205.8" fill="none" stroke="#111" stroke-width="2.1"/>
<line x1="752.8" y1="1202" x2="932.3" y2="1166.5" stroke="#2a1208" stroke-width="1.3"/>
<line x1="937.5" y1="1166.9" x2="1141" y2="1205.8" stroke="#2a1208" stroke-width="1.3"/>
<line x1="752.8" y1="1202" x2="835" y2="1202" stroke="#2a1208" stroke-width="1.3"/>
<line x1="1069.4" y1="1205.8" x2="1141" y2="1205.8" stroke="#2a1208" stroke-width="1.3"/>
<path d="M809.3,1191.2 Q811.5,1196 810.8,1202" fill="none" stroke="#2a1208" stroke-width="1.2"/>
<path d="M1084.3,1195.2 Q1086.3,1200 1085.6,1205.8" fill="none" stroke="#2a1208" stroke-width="1.2"/>
<line x1="934.6" y1="1043" x2="934.6" y2="1289" stroke="#111" stroke-width="2"/>
</g>
<line x1="751.6" y1="1183.4" x2="926.7" y2="1148.4" stroke="#3564b8" stroke-width="2.0" marker-start="url(#ah)" marker-end="url(#ah)"/>
<line x1="842.2" y1="1185.8" x2="857.9" y2="1252.2" stroke="#3564b8" stroke-width="2.0" marker-start="url(#ah)" marker-end="url(#ah)"/>
<line x1="942.6" y1="1148.1" x2="1142.3" y2="1192" stroke="#3564b8" stroke-width="2.0" marker-start="url(#ah)" marker-end="url(#ah)"/>
<line x1="1030.5" y1="1187" x2="1010.4" y2="1253.6" stroke="#3564b8" stroke-width="2.0" marker-start="url(#ah)" marker-end="url(#ah)"/>
<text x="812" y="1155.6" font-size="18.5" fill="#1a1a1a" text-anchor="start">~18 m</text>
<text x="851" y="1205.8" font-size="18.5" fill="#1a1a1a" text-anchor="start">~2.1 m</text>
<text x="787.4" y="1226.9" font-size="18.5" fill="#1a1a1a" text-anchor="start">~3.5°</text>
<text x="1094.5" y="1165.6" font-size="18.5" fill="#1a1a1a" text-anchor="start">~20 m</text>
<text x="965.2" y="1202.1" font-size="18.5" fill="#1a1a1a" text-anchor="start">~2.1 m</text>
<text x="1059.4" y="1224.7" font-size="18.5" fill="#1a1a1a" text-anchor="start">~3.2°</text>
<text x="675.5" y="1031" font-size="22.5" fill="#000" text-anchor="start">g</text>
<rect x="659.5" y="1000.8" width="578" height="288.2" fill="none" stroke="#3a3a3a" stroke-width="1.4"/>
<line x1="653" y1="1289" x2="659.5" y2="1289" stroke="#3a3a3a" stroke-width="1.4"/>
<line x1="659.5" y1="1000.8" x2="659.5" y2="994.8" stroke="#3a3a3a" stroke-width="1.4"/>
<text x="659.5" y="988.3" font-size="15" fill="#3c3c3c" text-anchor="middle">1470</text>
<line x1="764.6" y1="1000.8" x2="764.6" y2="994.8" stroke="#3a3a3a" stroke-width="1.4"/>
<text x="764.6" y="988.3" font-size="15" fill="#3c3c3c" text-anchor="middle">1480</text>
<line x1="869.7" y1="1000.8" x2="869.7" y2="994.8" stroke="#3a3a3a" stroke-width="1.4"/>
<text x="869.7" y="988.3" font-size="15" fill="#3c3c3c" text-anchor="middle">1490</text>
<line x1="974.8" y1="1000.8" x2="974.8" y2="994.8" stroke="#3a3a3a" stroke-width="1.4"/>
<text x="974.8" y="988.3" font-size="15" fill="#3c3c3c" text-anchor="middle">1500</text>
<line x1="1079.9" y1="1000.8" x2="1079.9" y2="994.8" stroke="#3a3a3a" stroke-width="1.4"/>
<text x="1079.9" y="988.3" font-size="15" fill="#3c3c3c" text-anchor="middle">1510</text>
<line x1="1185" y1="1000.8" x2="1185" y2="994.8" stroke="#3a3a3a" stroke-width="1.4"/>
<text x="1185" y="988.3" font-size="15" fill="#3c3c3c" text-anchor="middle">1520</text>
<line x1="659.5" y1="1017.8" x2="653.5" y2="1017.8" stroke="#3a3a3a" stroke-width="1.4"/>
<text x="648" y="1023.2" font-size="15" fill="#3c3c3c" text-anchor="end">-9</text>
<line x1="659.5" y1="1051.7" x2="653.5" y2="1051.7" stroke="#3a3a3a" stroke-width="1.4"/>
<text x="648" y="1057.1" font-size="15" fill="#3c3c3c" text-anchor="end">-8</text>
<line x1="659.5" y1="1085.6" x2="653.5" y2="1085.6" stroke="#3a3a3a" stroke-width="1.4"/>
<text x="648" y="1091" font-size="15" fill="#3c3c3c" text-anchor="end">-7</text>
<line x1="659.5" y1="1119.5" x2="653.5" y2="1119.5" stroke="#3a3a3a" stroke-width="1.4"/>
<text x="648" y="1124.9" font-size="15" fill="#3c3c3c" text-anchor="end">-6</text>
<line x1="659.5" y1="1153.4" x2="653.5" y2="1153.4" stroke="#3a3a3a" stroke-width="1.4"/>
<text x="648" y="1158.8" font-size="15" fill="#3c3c3c" text-anchor="end">-5</text>
<line x1="659.5" y1="1187.3" x2="653.5" y2="1187.3" stroke="#3a3a3a" stroke-width="1.4"/>
<text x="648" y="1192.7" font-size="15" fill="#3c3c3c" text-anchor="end">-4</text>
<line x1="659.5" y1="1221.2" x2="653.5" y2="1221.2" stroke="#3a3a3a" stroke-width="1.4"/>
<text x="648" y="1226.6" font-size="15" fill="#3c3c3c" text-anchor="end">-3</text>
<line x1="659.5" y1="1255.1" x2="653.5" y2="1255.1" stroke="#3a3a3a" stroke-width="1.4"/>
<text x="648" y="1260.5" font-size="15" fill="#3c3c3c" text-anchor="end">-2</text></svg></body></html>
